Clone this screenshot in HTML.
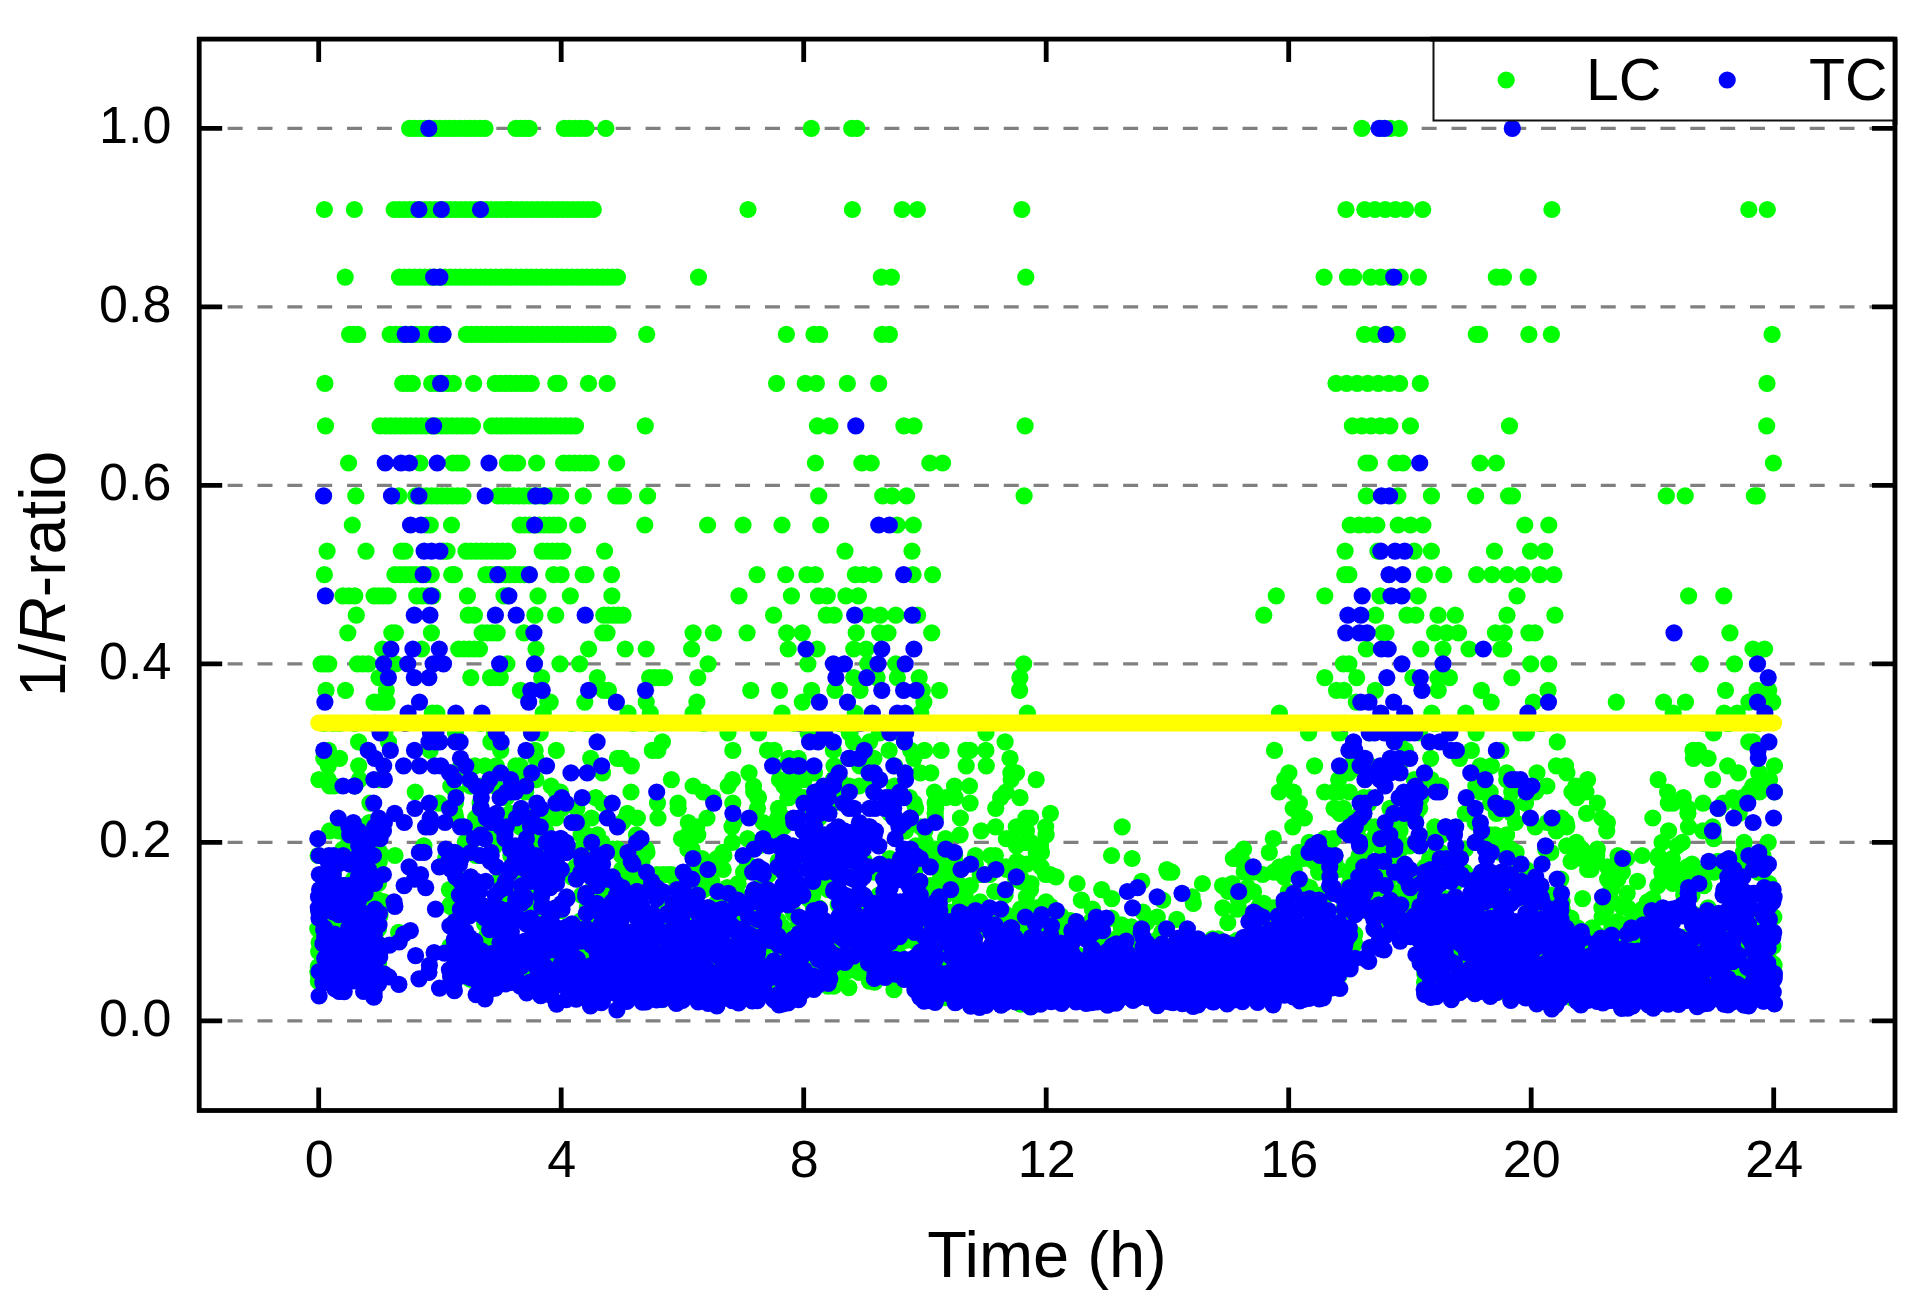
<!DOCTYPE html>
<html lang="en"><head><meta charset="utf-8"><title>1/R-ratio over time</title>
<style>html,body{margin:0;padding:0;background:#fff}body{width:1924px;height:1307px;overflow:hidden}</style></head>
<body>
<svg width="1924" height="1307" viewBox="0 0 1924 1307" style="display:block">
<rect width="1924" height="1307" fill="#fff"/>
<path d="M199.2 1020.8H1895.0M199.2 842.3H1895.0M199.2 663.8H1895.0M199.2 485.4H1895.0M199.2 306.9H1895.0M199.2 128.4H1895.0" stroke="#808080" stroke-width="3.2" stroke-dasharray="15 14.85" stroke-dashoffset="1.4" fill="none"/>
<g fill="#00ff00">
<circle cx="409.6" cy="128.4" r="8.6"/><circle cx="414.6" cy="128.4" r="8.6"/><circle cx="419.7" cy="128.4" r="8.6"/><circle cx="424.7" cy="128.4" r="8.6"/><circle cx="429.7" cy="128.4" r="8.6"/><circle cx="434.7" cy="128.4" r="8.6"/>
<circle cx="439.8" cy="128.4" r="8.6"/><circle cx="444.8" cy="128.4" r="8.6"/><circle cx="449.8" cy="128.4" r="8.6"/><circle cx="454.8" cy="128.4" r="8.6"/><circle cx="459.9" cy="128.4" r="8.6"/><circle cx="464.9" cy="128.4" r="8.6"/>
<circle cx="469.9" cy="128.4" r="8.6"/><circle cx="474.9" cy="128.4" r="8.6"/><circle cx="480.0" cy="128.4" r="8.6"/><circle cx="485.0" cy="128.4" r="8.6"/><circle cx="515.9" cy="128.4" r="8.6"/><circle cx="520.3" cy="128.4" r="8.6"/>
<circle cx="524.7" cy="128.4" r="8.6"/><circle cx="529.2" cy="128.4" r="8.6"/><circle cx="564.3" cy="128.4" r="8.6"/><circle cx="569.7" cy="128.4" r="8.6"/><circle cx="575.1" cy="128.4" r="8.6"/><circle cx="580.6" cy="128.4" r="8.6"/>
<circle cx="586.0" cy="128.4" r="8.6"/><circle cx="605.8" cy="128.4" r="8.6"/><circle cx="324.4" cy="209.5" r="8.6"/><circle cx="354.4" cy="209.5" r="8.6"/><circle cx="394.2" cy="209.5" r="8.6"/><circle cx="399.3" cy="209.5" r="8.6"/>
<circle cx="404.4" cy="209.5" r="8.6"/><circle cx="409.6" cy="209.5" r="8.6"/><circle cx="414.7" cy="209.5" r="8.6"/><circle cx="419.8" cy="209.5" r="8.6"/><circle cx="424.9" cy="209.5" r="8.6"/><circle cx="430.0" cy="209.5" r="8.6"/>
<circle cx="435.1" cy="209.5" r="8.6"/><circle cx="440.2" cy="209.5" r="8.6"/><circle cx="445.3" cy="209.5" r="8.6"/><circle cx="450.4" cy="209.5" r="8.6"/><circle cx="455.5" cy="209.5" r="8.6"/><circle cx="460.6" cy="209.5" r="8.6"/>
<circle cx="465.7" cy="209.5" r="8.6"/><circle cx="470.8" cy="209.5" r="8.6"/><circle cx="475.9" cy="209.5" r="8.6"/><circle cx="481.0" cy="209.5" r="8.6"/><circle cx="486.1" cy="209.5" r="8.6"/><circle cx="491.2" cy="209.5" r="8.6"/>
<circle cx="496.3" cy="209.5" r="8.6"/><circle cx="501.5" cy="209.5" r="8.6"/><circle cx="506.6" cy="209.5" r="8.6"/><circle cx="511.7" cy="209.5" r="8.6"/><circle cx="516.8" cy="209.5" r="8.6"/><circle cx="521.9" cy="209.5" r="8.6"/>
<circle cx="527.0" cy="209.5" r="8.6"/><circle cx="532.1" cy="209.5" r="8.6"/><circle cx="537.2" cy="209.5" r="8.6"/><circle cx="542.3" cy="209.5" r="8.6"/><circle cx="547.4" cy="209.5" r="8.6"/><circle cx="552.5" cy="209.5" r="8.6"/>
<circle cx="557.6" cy="209.5" r="8.6"/><circle cx="562.7" cy="209.5" r="8.6"/><circle cx="567.8" cy="209.5" r="8.6"/><circle cx="572.9" cy="209.5" r="8.6"/><circle cx="578.0" cy="209.5" r="8.6"/><circle cx="583.1" cy="209.5" r="8.6"/>
<circle cx="588.2" cy="209.5" r="8.6"/><circle cx="593.3" cy="209.5" r="8.6"/><circle cx="345.2" cy="277.1" r="8.6"/><circle cx="399.5" cy="277.1" r="8.6"/><circle cx="404.6" cy="277.1" r="8.6"/><circle cx="409.6" cy="277.1" r="8.6"/>
<circle cx="414.7" cy="277.1" r="8.6"/><circle cx="419.8" cy="277.1" r="8.6"/><circle cx="424.9" cy="277.1" r="8.6"/><circle cx="429.9" cy="277.1" r="8.6"/><circle cx="435.0" cy="277.1" r="8.6"/><circle cx="440.1" cy="277.1" r="8.6"/>
<circle cx="445.1" cy="277.1" r="8.6"/><circle cx="450.2" cy="277.1" r="8.6"/><circle cx="455.3" cy="277.1" r="8.6"/><circle cx="460.3" cy="277.1" r="8.6"/><circle cx="465.4" cy="277.1" r="8.6"/><circle cx="470.5" cy="277.1" r="8.6"/>
<circle cx="475.6" cy="277.1" r="8.6"/><circle cx="480.6" cy="277.1" r="8.6"/><circle cx="485.7" cy="277.1" r="8.6"/><circle cx="490.8" cy="277.1" r="8.6"/><circle cx="495.8" cy="277.1" r="8.6"/><circle cx="500.9" cy="277.1" r="8.6"/>
<circle cx="506.0" cy="277.1" r="8.6"/><circle cx="511.1" cy="277.1" r="8.6"/><circle cx="516.1" cy="277.1" r="8.6"/><circle cx="521.2" cy="277.1" r="8.6"/><circle cx="526.3" cy="277.1" r="8.6"/><circle cx="531.3" cy="277.1" r="8.6"/>
<circle cx="536.4" cy="277.1" r="8.6"/><circle cx="541.5" cy="277.1" r="8.6"/><circle cx="546.6" cy="277.1" r="8.6"/><circle cx="551.6" cy="277.1" r="8.6"/><circle cx="556.7" cy="277.1" r="8.6"/><circle cx="561.8" cy="277.1" r="8.6"/>
<circle cx="566.8" cy="277.1" r="8.6"/><circle cx="571.9" cy="277.1" r="8.6"/><circle cx="577.0" cy="277.1" r="8.6"/><circle cx="582.0" cy="277.1" r="8.6"/><circle cx="587.1" cy="277.1" r="8.6"/><circle cx="592.2" cy="277.1" r="8.6"/>
<circle cx="597.3" cy="277.1" r="8.6"/><circle cx="602.3" cy="277.1" r="8.6"/><circle cx="607.4" cy="277.1" r="8.6"/><circle cx="612.5" cy="277.1" r="8.6"/><circle cx="617.5" cy="277.1" r="8.6"/><circle cx="349.6" cy="334.3" r="8.6"/>
<circle cx="353.7" cy="334.3" r="8.6"/><circle cx="357.7" cy="334.3" r="8.6"/><circle cx="390.2" cy="334.3" r="8.6"/><circle cx="395.4" cy="334.3" r="8.6"/><circle cx="400.6" cy="334.3" r="8.6"/><circle cx="405.7" cy="334.3" r="8.6"/>
<circle cx="410.9" cy="334.3" r="8.6"/><circle cx="416.0" cy="334.3" r="8.6"/><circle cx="421.2" cy="334.3" r="8.6"/><circle cx="426.4" cy="334.3" r="8.6"/><circle cx="431.5" cy="334.3" r="8.6"/><circle cx="436.7" cy="334.3" r="8.6"/>
<circle cx="441.8" cy="334.3" r="8.6"/><circle cx="466.4" cy="334.3" r="8.6"/><circle cx="471.5" cy="334.3" r="8.6"/><circle cx="476.5" cy="334.3" r="8.6"/><circle cx="481.6" cy="334.3" r="8.6"/><circle cx="486.6" cy="334.3" r="8.6"/>
<circle cx="491.7" cy="334.3" r="8.6"/><circle cx="496.8" cy="334.3" r="8.6"/><circle cx="501.8" cy="334.3" r="8.6"/><circle cx="506.9" cy="334.3" r="8.6"/><circle cx="511.9" cy="334.3" r="8.6"/><circle cx="517.0" cy="334.3" r="8.6"/>
<circle cx="522.1" cy="334.3" r="8.6"/><circle cx="527.1" cy="334.3" r="8.6"/><circle cx="532.2" cy="334.3" r="8.6"/><circle cx="537.2" cy="334.3" r="8.6"/><circle cx="542.3" cy="334.3" r="8.6"/><circle cx="547.4" cy="334.3" r="8.6"/>
<circle cx="552.4" cy="334.3" r="8.6"/><circle cx="557.5" cy="334.3" r="8.6"/><circle cx="562.5" cy="334.3" r="8.6"/><circle cx="567.6" cy="334.3" r="8.6"/><circle cx="572.7" cy="334.3" r="8.6"/><circle cx="577.7" cy="334.3" r="8.6"/>
<circle cx="582.8" cy="334.3" r="8.6"/><circle cx="587.8" cy="334.3" r="8.6"/><circle cx="592.9" cy="334.3" r="8.6"/><circle cx="598.0" cy="334.3" r="8.6"/><circle cx="603.0" cy="334.3" r="8.6"/><circle cx="608.1" cy="334.3" r="8.6"/>
<circle cx="646.7" cy="334.3" r="8.6"/><circle cx="324.9" cy="383.4" r="8.6"/><circle cx="402.7" cy="383.4" r="8.6"/><circle cx="407.5" cy="383.4" r="8.6"/><circle cx="412.4" cy="383.4" r="8.6"/><circle cx="431.7" cy="383.4" r="8.6"/>
<circle cx="437.1" cy="383.4" r="8.6"/><circle cx="442.6" cy="383.4" r="8.6"/><circle cx="448.0" cy="383.4" r="8.6"/><circle cx="453.4" cy="383.4" r="8.6"/><circle cx="473.6" cy="383.4" r="8.6"/><circle cx="495.2" cy="383.4" r="8.6"/>
<circle cx="500.4" cy="383.4" r="8.6"/><circle cx="505.5" cy="383.4" r="8.6"/><circle cx="510.7" cy="383.4" r="8.6"/><circle cx="515.8" cy="383.4" r="8.6"/><circle cx="521.0" cy="383.4" r="8.6"/><circle cx="526.1" cy="383.4" r="8.6"/>
<circle cx="531.3" cy="383.4" r="8.6"/><circle cx="555.8" cy="383.4" r="8.6"/><circle cx="559.0" cy="383.4" r="8.6"/><circle cx="588.5" cy="383.4" r="8.6"/><circle cx="607.2" cy="383.4" r="8.6"/><circle cx="325.5" cy="425.9" r="8.6"/>
<circle cx="380.1" cy="425.9" r="8.6"/><circle cx="385.3" cy="425.9" r="8.6"/><circle cx="390.4" cy="425.9" r="8.6"/><circle cx="395.5" cy="425.9" r="8.6"/><circle cx="400.6" cy="425.9" r="8.6"/><circle cx="405.8" cy="425.9" r="8.6"/>
<circle cx="410.9" cy="425.9" r="8.6"/><circle cx="416.0" cy="425.9" r="8.6"/><circle cx="421.1" cy="425.9" r="8.6"/><circle cx="426.2" cy="425.9" r="8.6"/><circle cx="431.4" cy="425.9" r="8.6"/><circle cx="436.5" cy="425.9" r="8.6"/>
<circle cx="441.6" cy="425.9" r="8.6"/><circle cx="446.7" cy="425.9" r="8.6"/><circle cx="451.9" cy="425.9" r="8.6"/><circle cx="457.0" cy="425.9" r="8.6"/><circle cx="462.1" cy="425.9" r="8.6"/><circle cx="467.2" cy="425.9" r="8.6"/>
<circle cx="472.4" cy="425.9" r="8.6"/><circle cx="491.7" cy="425.9" r="8.6"/><circle cx="496.6" cy="425.9" r="8.6"/><circle cx="501.5" cy="425.9" r="8.6"/><circle cx="506.4" cy="425.9" r="8.6"/><circle cx="511.4" cy="425.9" r="8.6"/>
<circle cx="516.3" cy="425.9" r="8.6"/><circle cx="521.2" cy="425.9" r="8.6"/><circle cx="526.2" cy="425.9" r="8.6"/><circle cx="531.1" cy="425.9" r="8.6"/><circle cx="536.0" cy="425.9" r="8.6"/><circle cx="541.0" cy="425.9" r="8.6"/>
<circle cx="545.9" cy="425.9" r="8.6"/><circle cx="550.8" cy="425.9" r="8.6"/><circle cx="555.7" cy="425.9" r="8.6"/><circle cx="560.7" cy="425.9" r="8.6"/><circle cx="565.6" cy="425.9" r="8.6"/><circle cx="570.5" cy="425.9" r="8.6"/>
<circle cx="575.5" cy="425.9" r="8.6"/><circle cx="645.3" cy="425.9" r="8.6"/><circle cx="348.6" cy="463.0" r="8.6"/><circle cx="419.9" cy="463.0" r="8.6"/><circle cx="452.7" cy="463.0" r="8.6"/><circle cx="457.3" cy="463.0" r="8.6"/>
<circle cx="461.8" cy="463.0" r="8.6"/><circle cx="507.4" cy="463.0" r="8.6"/><circle cx="512.5" cy="463.0" r="8.6"/><circle cx="517.6" cy="463.0" r="8.6"/><circle cx="536.7" cy="463.0" r="8.6"/><circle cx="563.6" cy="463.0" r="8.6"/>
<circle cx="569.1" cy="463.0" r="8.6"/><circle cx="574.7" cy="463.0" r="8.6"/><circle cx="580.2" cy="463.0" r="8.6"/><circle cx="585.7" cy="463.0" r="8.6"/><circle cx="591.2" cy="463.0" r="8.6"/><circle cx="616.7" cy="463.0" r="8.6"/>
<circle cx="355.8" cy="495.9" r="8.6"/><circle cx="398.9" cy="495.9" r="8.6"/><circle cx="415.9" cy="495.9" r="8.6"/><circle cx="421.1" cy="495.9" r="8.6"/><circle cx="426.4" cy="495.9" r="8.6"/><circle cx="431.6" cy="495.9" r="8.6"/>
<circle cx="436.8" cy="495.9" r="8.6"/><circle cx="442.0" cy="495.9" r="8.6"/><circle cx="447.2" cy="495.9" r="8.6"/><circle cx="452.4" cy="495.9" r="8.6"/><circle cx="457.7" cy="495.9" r="8.6"/><circle cx="462.9" cy="495.9" r="8.6"/>
<circle cx="498.0" cy="495.9" r="8.6"/><circle cx="503.2" cy="495.9" r="8.6"/><circle cx="508.4" cy="495.9" r="8.6"/><circle cx="513.7" cy="495.9" r="8.6"/><circle cx="518.9" cy="495.9" r="8.6"/><circle cx="524.1" cy="495.9" r="8.6"/>
<circle cx="529.4" cy="495.9" r="8.6"/><circle cx="534.6" cy="495.9" r="8.6"/><circle cx="539.8" cy="495.9" r="8.6"/><circle cx="545.0" cy="495.9" r="8.6"/><circle cx="550.3" cy="495.9" r="8.6"/><circle cx="555.5" cy="495.9" r="8.6"/>
<circle cx="560.7" cy="495.9" r="8.6"/><circle cx="583.2" cy="495.9" r="8.6"/><circle cx="615.8" cy="495.9" r="8.6"/><circle cx="619.6" cy="495.9" r="8.6"/><circle cx="623.4" cy="495.9" r="8.6"/><circle cx="647.6" cy="495.9" r="8.6"/>
<circle cx="352.3" cy="525.0" r="8.6"/><circle cx="426.4" cy="525.0" r="8.6"/><circle cx="430.3" cy="525.0" r="8.6"/><circle cx="451.5" cy="525.0" r="8.6"/><circle cx="520.1" cy="525.0" r="8.6"/><circle cx="524.9" cy="525.0" r="8.6"/>
<circle cx="529.7" cy="525.0" r="8.6"/><circle cx="534.5" cy="525.0" r="8.6"/><circle cx="539.3" cy="525.0" r="8.6"/><circle cx="544.2" cy="525.0" r="8.6"/><circle cx="549.0" cy="525.0" r="8.6"/><circle cx="553.8" cy="525.0" r="8.6"/>
<circle cx="558.6" cy="525.0" r="8.6"/><circle cx="577.7" cy="525.0" r="8.6"/><circle cx="644.8" cy="525.0" r="8.6"/><circle cx="327.1" cy="551.1" r="8.6"/><circle cx="366.0" cy="551.1" r="8.6"/><circle cx="401.2" cy="551.1" r="8.6"/>
<circle cx="405.0" cy="551.1" r="8.6"/><circle cx="443.3" cy="551.1" r="8.6"/><circle cx="447.1" cy="551.1" r="8.6"/><circle cx="466.0" cy="551.1" r="8.6"/><circle cx="471.2" cy="551.1" r="8.6"/><circle cx="476.4" cy="551.1" r="8.6"/>
<circle cx="481.6" cy="551.1" r="8.6"/><circle cx="486.8" cy="551.1" r="8.6"/><circle cx="492.1" cy="551.1" r="8.6"/><circle cx="497.3" cy="551.1" r="8.6"/><circle cx="502.5" cy="551.1" r="8.6"/><circle cx="507.7" cy="551.1" r="8.6"/>
<circle cx="542.2" cy="551.1" r="8.6"/><circle cx="547.3" cy="551.1" r="8.6"/><circle cx="552.5" cy="551.1" r="8.6"/><circle cx="557.7" cy="551.1" r="8.6"/><circle cx="562.8" cy="551.1" r="8.6"/><circle cx="604.6" cy="551.1" r="8.6"/>
<circle cx="324.4" cy="574.6" r="8.6"/><circle cx="394.9" cy="574.6" r="8.6"/><circle cx="400.1" cy="574.6" r="8.6"/><circle cx="405.3" cy="574.6" r="8.6"/><circle cx="410.5" cy="574.6" r="8.6"/><circle cx="415.7" cy="574.6" r="8.6"/>
<circle cx="420.9" cy="574.6" r="8.6"/><circle cx="426.1" cy="574.6" r="8.6"/><circle cx="431.3" cy="574.6" r="8.6"/><circle cx="451.7" cy="574.6" r="8.6"/><circle cx="454.5" cy="574.6" r="8.6"/><circle cx="485.8" cy="574.6" r="8.6"/>
<circle cx="490.6" cy="574.6" r="8.6"/><circle cx="495.4" cy="574.6" r="8.6"/><circle cx="500.2" cy="574.6" r="8.6"/><circle cx="505.1" cy="574.6" r="8.6"/><circle cx="509.9" cy="574.6" r="8.6"/><circle cx="514.7" cy="574.6" r="8.6"/>
<circle cx="519.5" cy="574.6" r="8.6"/><circle cx="524.3" cy="574.6" r="8.6"/><circle cx="529.2" cy="574.6" r="8.6"/><circle cx="553.7" cy="574.6" r="8.6"/><circle cx="561.2" cy="574.6" r="8.6"/><circle cx="583.2" cy="574.6" r="8.6"/>
<circle cx="586.0" cy="574.6" r="8.6"/><circle cx="611.6" cy="574.6" r="8.6"/><circle cx="811.3" cy="128.4" r="8.6"/><circle cx="851.7" cy="128.4" r="8.6"/><circle cx="856.8" cy="128.4" r="8.6"/><circle cx="748.0" cy="209.5" r="8.6"/>
<circle cx="852.4" cy="209.5" r="8.6"/><circle cx="902.2" cy="209.5" r="8.6"/><circle cx="917.4" cy="209.5" r="8.6"/><circle cx="1021.8" cy="209.5" r="8.6"/><circle cx="698.5" cy="277.1" r="8.6"/><circle cx="881.3" cy="277.1" r="8.6"/>
<circle cx="891.4" cy="277.1" r="8.6"/><circle cx="1025.8" cy="277.1" r="8.6"/><circle cx="786.4" cy="334.3" r="8.6"/><circle cx="814.0" cy="334.3" r="8.6"/><circle cx="819.7" cy="334.3" r="8.6"/><circle cx="882.0" cy="334.3" r="8.6"/>
<circle cx="889.4" cy="334.3" r="8.6"/><circle cx="776.6" cy="383.4" r="8.6"/><circle cx="805.3" cy="383.4" r="8.6"/><circle cx="816.4" cy="383.4" r="8.6"/><circle cx="847.3" cy="383.4" r="8.6"/><circle cx="878.7" cy="383.4" r="8.6"/>
<circle cx="817.4" cy="425.9" r="8.6"/><circle cx="829.8" cy="425.9" r="8.6"/><circle cx="903.9" cy="425.9" r="8.6"/><circle cx="914.0" cy="425.9" r="8.6"/><circle cx="1025.1" cy="425.9" r="8.6"/><circle cx="815.4" cy="463.0" r="8.6"/>
<circle cx="861.8" cy="463.0" r="8.6"/><circle cx="871.2" cy="463.0" r="8.6"/><circle cx="929.8" cy="463.0" r="8.6"/><circle cx="942.6" cy="463.0" r="8.6"/><circle cx="818.7" cy="495.9" r="8.6"/><circle cx="882.7" cy="495.9" r="8.6"/>
<circle cx="892.1" cy="495.9" r="8.6"/><circle cx="906.6" cy="495.9" r="8.6"/><circle cx="1024.1" cy="495.9" r="8.6"/><circle cx="707.6" cy="525.0" r="8.6"/><circle cx="743.0" cy="525.0" r="8.6"/><circle cx="782.0" cy="525.0" r="8.6"/>
<circle cx="820.7" cy="525.0" r="8.6"/><circle cx="897.2" cy="525.0" r="8.6"/><circle cx="913.3" cy="525.0" r="8.6"/><circle cx="1361.9" cy="128.4" r="8.6"/><circle cx="1381.8" cy="128.4" r="8.6"/><circle cx="1390.5" cy="128.4" r="8.6"/>
<circle cx="1399.3" cy="128.4" r="8.6"/><circle cx="1346.0" cy="209.5" r="8.6"/><circle cx="1364.8" cy="209.5" r="8.6"/><circle cx="1375.0" cy="209.5" r="8.6"/><circle cx="1385.2" cy="209.5" r="8.6"/><circle cx="1395.4" cy="209.5" r="8.6"/>
<circle cx="1405.6" cy="209.5" r="8.6"/><circle cx="1422.7" cy="209.5" r="8.6"/><circle cx="1551.9" cy="209.5" r="8.6"/><circle cx="1748.8" cy="209.5" r="8.6"/><circle cx="1767.3" cy="209.5" r="8.6"/><circle cx="1324.1" cy="277.1" r="8.6"/>
<circle cx="1347.5" cy="277.1" r="8.6"/><circle cx="1353.6" cy="277.1" r="8.6"/><circle cx="1370.8" cy="277.1" r="8.6"/><circle cx="1380.6" cy="277.1" r="8.6"/><circle cx="1390.4" cy="277.1" r="8.6"/><circle cx="1400.2" cy="277.1" r="8.6"/>
<circle cx="1418.4" cy="277.1" r="8.6"/><circle cx="1496.3" cy="277.1" r="8.6"/><circle cx="1503.5" cy="277.1" r="8.6"/><circle cx="1528.2" cy="277.1" r="8.6"/><circle cx="1364.5" cy="334.3" r="8.6"/><circle cx="1375.5" cy="334.3" r="8.6"/>
<circle cx="1386.4" cy="334.3" r="8.6"/><circle cx="1397.4" cy="334.3" r="8.6"/><circle cx="1476.3" cy="334.3" r="8.6"/><circle cx="1479.6" cy="334.3" r="8.6"/><circle cx="1528.9" cy="334.3" r="8.6"/><circle cx="1551.4" cy="334.3" r="8.6"/>
<circle cx="1772.1" cy="334.3" r="8.6"/><circle cx="1336.0" cy="383.4" r="8.6"/><circle cx="1346.6" cy="383.4" r="8.6"/><circle cx="1357.2" cy="383.4" r="8.6"/><circle cx="1367.8" cy="383.4" r="8.6"/><circle cx="1378.4" cy="383.4" r="8.6"/>
<circle cx="1389.0" cy="383.4" r="8.6"/><circle cx="1399.6" cy="383.4" r="8.6"/><circle cx="1420.3" cy="383.4" r="8.6"/><circle cx="1767.0" cy="383.4" r="8.6"/><circle cx="1352.4" cy="425.9" r="8.6"/><circle cx="1361.8" cy="425.9" r="8.6"/>
<circle cx="1371.1" cy="425.9" r="8.6"/><circle cx="1380.4" cy="425.9" r="8.6"/><circle cx="1389.8" cy="425.9" r="8.6"/><circle cx="1410.4" cy="425.9" r="8.6"/><circle cx="1509.5" cy="425.9" r="8.6"/><circle cx="1766.7" cy="425.9" r="8.6"/>
<circle cx="1366.1" cy="463.0" r="8.6"/><circle cx="1369.5" cy="463.0" r="8.6"/><circle cx="1396.0" cy="463.0" r="8.6"/><circle cx="1402.9" cy="463.0" r="8.6"/><circle cx="1480.0" cy="463.0" r="8.6"/><circle cx="1496.4" cy="463.0" r="8.6"/>
<circle cx="1773.4" cy="463.0" r="8.6"/><circle cx="1366.3" cy="495.9" r="8.6"/><circle cx="1397.8" cy="495.9" r="8.6"/><circle cx="1431.4" cy="495.9" r="8.6"/><circle cx="1475.6" cy="495.9" r="8.6"/><circle cx="1508.6" cy="495.9" r="8.6"/>
<circle cx="1512.5" cy="495.9" r="8.6"/><circle cx="1666.3" cy="495.9" r="8.6"/><circle cx="1685.2" cy="495.9" r="8.6"/><circle cx="1754.4" cy="495.9" r="8.6"/><circle cx="1757.2" cy="495.9" r="8.6"/><circle cx="1350.2" cy="525.0" r="8.6"/>
<circle cx="1359.1" cy="525.0" r="8.6"/><circle cx="1368.0" cy="525.0" r="8.6"/><circle cx="1376.9" cy="525.0" r="8.6"/><circle cx="1398.2" cy="525.0" r="8.6"/><circle cx="1410.5" cy="525.0" r="8.6"/><circle cx="1422.9" cy="525.0" r="8.6"/>
<circle cx="1524.8" cy="525.0" r="8.6"/><circle cx="1548.8" cy="525.0" r="8.6"/><circle cx="1345.1" cy="551.1" r="8.6"/><circle cx="1377.9" cy="551.1" r="8.6"/><circle cx="1414.2" cy="551.1" r="8.6"/><circle cx="1431.4" cy="551.1" r="8.6"/>
<circle cx="1494.4" cy="551.1" r="8.6"/><circle cx="1530.5" cy="551.1" r="8.6"/><circle cx="1544.8" cy="551.1" r="8.6"/><circle cx="1344.8" cy="574.6" r="8.6"/><circle cx="1348.9" cy="574.6" r="8.6"/><circle cx="1424.4" cy="574.6" r="8.6"/>
<circle cx="1443.8" cy="574.6" r="8.6"/><circle cx="1476.6" cy="574.6" r="8.6"/><circle cx="1492.0" cy="574.6" r="8.6"/><circle cx="1507.4" cy="574.6" r="8.6"/><circle cx="1522.3" cy="574.6" r="8.6"/><circle cx="1539.8" cy="574.6" r="8.6"/>
<circle cx="1553.9" cy="574.6" r="8.6"/><circle cx="1324.8" cy="595.8" r="8.6"/><circle cx="1380.0" cy="595.8" r="8.6"/><circle cx="1418.1" cy="595.8" r="8.6"/><circle cx="1517.0" cy="595.8" r="8.6"/><circle cx="1688.6" cy="595.8" r="8.6"/>
<circle cx="1723.8" cy="595.8" r="8.6"/><circle cx="1375.6" cy="615.2" r="8.6"/><circle cx="1407.0" cy="615.2" r="8.6"/><circle cx="1415.8" cy="615.2" r="8.6"/><circle cx="1438.1" cy="615.2" r="8.6"/><circle cx="1455.3" cy="615.2" r="8.6"/>
<circle cx="1507.0" cy="615.2" r="8.6"/><circle cx="1554.9" cy="615.2" r="8.6"/><circle cx="1383.1" cy="632.8" r="8.6"/><circle cx="1385.9" cy="632.8" r="8.6"/><circle cx="1434.6" cy="632.8" r="8.6"/><circle cx="1446.6" cy="632.8" r="8.6"/>
<circle cx="1458.5" cy="632.8" r="8.6"/><circle cx="1495.4" cy="632.8" r="8.6"/><circle cx="1504.3" cy="632.8" r="8.6"/><circle cx="1528.9" cy="632.8" r="8.6"/><circle cx="1535.0" cy="632.8" r="8.6"/><circle cx="1729.9" cy="632.8" r="8.6"/>
<circle cx="1366.3" cy="649.0" r="8.6"/><circle cx="1420.8" cy="649.0" r="8.6"/><circle cx="1443.0" cy="649.0" r="8.6"/><circle cx="1469.0" cy="649.0" r="8.6"/><circle cx="1500.9" cy="649.0" r="8.6"/><circle cx="1503.7" cy="649.0" r="8.6"/>
<circle cx="1753.0" cy="649.0" r="8.6"/><circle cx="1764.6" cy="649.0" r="8.6"/><circle cx="1343.4" cy="663.8" r="8.6"/><circle cx="1348.9" cy="663.8" r="8.6"/><circle cx="1530.7" cy="663.8" r="8.6"/><circle cx="1548.8" cy="663.8" r="8.6"/>
<circle cx="1700.3" cy="663.8" r="8.6"/><circle cx="1734.5" cy="663.8" r="8.6"/><circle cx="1324.8" cy="677.6" r="8.6"/><circle cx="1356.7" cy="677.6" r="8.6"/><circle cx="1412.9" cy="677.6" r="8.6"/><circle cx="1437.9" cy="677.6" r="8.6"/>
<circle cx="1449.5" cy="677.6" r="8.6"/><circle cx="1511.8" cy="677.6" r="8.6"/><circle cx="1336.5" cy="690.3" r="8.6"/><circle cx="1344.0" cy="690.3" r="8.6"/><circle cx="1375.3" cy="690.3" r="8.6"/><circle cx="1438.2" cy="690.3" r="8.6"/>
<circle cx="1481.4" cy="690.3" r="8.6"/><circle cx="1548.1" cy="690.3" r="8.6"/><circle cx="1725.5" cy="690.3" r="8.6"/><circle cx="1757.1" cy="690.3" r="8.6"/><circle cx="1768.7" cy="690.3" r="8.6"/><circle cx="1356.3" cy="702.1" r="8.6"/>
<circle cx="1491.2" cy="702.1" r="8.6"/><circle cx="1533.4" cy="702.1" r="8.6"/><circle cx="1616.3" cy="702.1" r="8.6"/><circle cx="1663.6" cy="702.1" r="8.6"/><circle cx="1685.5" cy="702.1" r="8.6"/><circle cx="1748.9" cy="702.1" r="8.6"/>
<circle cx="1760.8" cy="702.1" r="8.6"/><circle cx="1772.8" cy="702.1" r="8.6"/><circle cx="1431.8" cy="713.1" r="8.6"/><circle cx="1465.8" cy="713.1" r="8.6"/><circle cx="1673.2" cy="713.1" r="8.6"/><circle cx="1724.2" cy="713.1" r="8.6"/>
<circle cx="1737.2" cy="713.1" r="8.6"/><circle cx="342.9" cy="595.8" r="8.6"/><circle cx="348.9" cy="595.8" r="8.6"/><circle cx="354.8" cy="595.8" r="8.6"/><circle cx="374.1" cy="595.8" r="8.6"/><circle cx="378.8" cy="595.8" r="8.6"/>
<circle cx="383.4" cy="595.8" r="8.6"/><circle cx="388.1" cy="595.8" r="8.6"/><circle cx="416.7" cy="595.8" r="8.6"/><circle cx="422.1" cy="595.8" r="8.6"/><circle cx="427.4" cy="595.8" r="8.6"/><circle cx="432.8" cy="595.8" r="8.6"/>
<circle cx="467.4" cy="595.8" r="8.6"/><circle cx="504.0" cy="595.8" r="8.6"/><circle cx="507.6" cy="595.8" r="8.6"/><circle cx="538.0" cy="595.8" r="8.6"/><circle cx="570.3" cy="595.8" r="8.6"/><circle cx="611.9" cy="595.8" r="8.6"/>
<circle cx="356.3" cy="615.2" r="8.6"/><circle cx="468.3" cy="615.2" r="8.6"/><circle cx="474.4" cy="615.2" r="8.6"/><circle cx="534.9" cy="615.2" r="8.6"/><circle cx="555.7" cy="615.2" r="8.6"/><circle cx="603.8" cy="615.2" r="8.6"/>
<circle cx="608.6" cy="615.2" r="8.6"/><circle cx="613.4" cy="615.2" r="8.6"/><circle cx="618.2" cy="615.2" r="8.6"/><circle cx="623.0" cy="615.2" r="8.6"/><circle cx="347.8" cy="632.8" r="8.6"/><circle cx="391.8" cy="632.8" r="8.6"/>
<circle cx="395.4" cy="632.8" r="8.6"/><circle cx="431.4" cy="632.8" r="8.6"/><circle cx="482.2" cy="632.8" r="8.6"/><circle cx="487.2" cy="632.8" r="8.6"/><circle cx="492.2" cy="632.8" r="8.6"/><circle cx="497.2" cy="632.8" r="8.6"/>
<circle cx="524.0" cy="632.8" r="8.6"/><circle cx="602.8" cy="632.8" r="8.6"/><circle cx="607.0" cy="632.8" r="8.6"/><circle cx="382.6" cy="649.0" r="8.6"/><circle cx="421.6" cy="649.0" r="8.6"/><circle cx="458.7" cy="649.0" r="8.6"/>
<circle cx="463.9" cy="649.0" r="8.6"/><circle cx="469.1" cy="649.0" r="8.6"/><circle cx="474.3" cy="649.0" r="8.6"/><circle cx="479.5" cy="649.0" r="8.6"/><circle cx="536.0" cy="649.0" r="8.6"/><circle cx="588.6" cy="649.0" r="8.6"/>
<circle cx="625.2" cy="649.0" r="8.6"/><circle cx="646.2" cy="649.0" r="8.6"/><circle cx="321.1" cy="663.8" r="8.6"/><circle cx="324.9" cy="663.8" r="8.6"/><circle cx="328.8" cy="663.8" r="8.6"/><circle cx="357.5" cy="663.8" r="8.6"/>
<circle cx="362.9" cy="663.8" r="8.6"/><circle cx="368.3" cy="663.8" r="8.6"/><circle cx="395.6" cy="663.8" r="8.6"/><circle cx="506.9" cy="663.8" r="8.6"/><circle cx="559.9" cy="663.8" r="8.6"/><circle cx="579.6" cy="663.8" r="8.6"/>
<circle cx="379.0" cy="677.6" r="8.6"/><circle cx="470.8" cy="677.6" r="8.6"/><circle cx="490.5" cy="677.6" r="8.6"/><circle cx="495.4" cy="677.6" r="8.6"/><circle cx="500.3" cy="677.6" r="8.6"/><circle cx="541.7" cy="677.6" r="8.6"/>
<circle cx="597.3" cy="677.6" r="8.6"/><circle cx="649.6" cy="677.6" r="8.6"/><circle cx="654.6" cy="677.6" r="8.6"/><circle cx="659.6" cy="677.6" r="8.6"/><circle cx="664.6" cy="677.6" r="8.6"/><circle cx="326.0" cy="690.3" r="8.6"/>
<circle cx="345.5" cy="690.3" r="8.6"/><circle cx="386.3" cy="690.3" r="8.6"/><circle cx="520.4" cy="690.3" r="8.6"/><circle cx="603.8" cy="690.3" r="8.6"/><circle cx="608.4" cy="690.3" r="8.6"/><circle cx="374.1" cy="702.1" r="8.6"/>
<circle cx="378.4" cy="702.1" r="8.6"/><circle cx="382.7" cy="702.1" r="8.6"/><circle cx="387.0" cy="702.1" r="8.6"/><circle cx="547.7" cy="702.1" r="8.6"/><circle cx="550.2" cy="702.1" r="8.6"/><circle cx="584.8" cy="702.1" r="8.6"/>
<circle cx="646.2" cy="702.1" r="8.6"/><circle cx="432.3" cy="713.1" r="8.6"/><circle cx="436.9" cy="713.1" r="8.6"/><circle cx="543.2" cy="713.1" r="8.6"/><circle cx="628.0" cy="713.1" r="8.6"/><circle cx="650.3" cy="713.1" r="8.6"/>
<circle cx="845.0" cy="551.1" r="8.6"/><circle cx="912.0" cy="551.1" r="8.6"/><circle cx="757.0" cy="574.6" r="8.6"/><circle cx="785.7" cy="574.6" r="8.6"/><circle cx="806.9" cy="574.6" r="8.6"/><circle cx="815.4" cy="574.6" r="8.6"/>
<circle cx="855.3" cy="574.6" r="8.6"/><circle cx="863.1" cy="574.6" r="8.6"/><circle cx="874.0" cy="574.6" r="8.6"/><circle cx="913.0" cy="574.6" r="8.6"/><circle cx="932.6" cy="574.6" r="8.6"/><circle cx="739.0" cy="595.8" r="8.6"/>
<circle cx="791.4" cy="595.8" r="8.6"/><circle cx="818.5" cy="595.8" r="8.6"/><circle cx="827.2" cy="595.8" r="8.6"/><circle cx="845.9" cy="595.8" r="8.6"/><circle cx="858.4" cy="595.8" r="8.6"/><circle cx="1276.3" cy="595.8" r="8.6"/>
<circle cx="773.6" cy="615.2" r="8.6"/><circle cx="826.3" cy="615.2" r="8.6"/><circle cx="834.1" cy="615.2" r="8.6"/><circle cx="867.8" cy="615.2" r="8.6"/><circle cx="880.2" cy="615.2" r="8.6"/><circle cx="895.8" cy="615.2" r="8.6"/>
<circle cx="917.6" cy="615.2" r="8.6"/><circle cx="1263.8" cy="615.2" r="8.6"/><circle cx="693.1" cy="632.8" r="8.6"/><circle cx="713.4" cy="632.8" r="8.6"/><circle cx="747.1" cy="632.8" r="8.6"/><circle cx="786.7" cy="632.8" r="8.6"/>
<circle cx="802.3" cy="632.8" r="8.6"/><circle cx="856.2" cy="632.8" r="8.6"/><circle cx="879.6" cy="632.8" r="8.6"/><circle cx="888.0" cy="632.8" r="8.6"/><circle cx="931.7" cy="632.8" r="8.6"/><circle cx="691.6" cy="649.0" r="8.6"/>
<circle cx="788.2" cy="649.0" r="8.6"/><circle cx="817.2" cy="649.0" r="8.6"/><circle cx="853.7" cy="649.0" r="8.6"/><circle cx="866.2" cy="649.0" r="8.6"/><circle cx="708.1" cy="663.8" r="8.6"/><circle cx="807.9" cy="663.8" r="8.6"/>
<circle cx="867.8" cy="663.8" r="8.6"/><circle cx="895.8" cy="663.8" r="8.6"/><circle cx="1023.7" cy="663.8" r="8.6"/><circle cx="697.8" cy="677.6" r="8.6"/><circle cx="853.7" cy="677.6" r="8.6"/><circle cx="877.1" cy="677.6" r="8.6"/>
<circle cx="897.4" cy="677.6" r="8.6"/><circle cx="919.2" cy="677.6" r="8.6"/><circle cx="1019.9" cy="677.6" r="8.6"/><circle cx="750.8" cy="690.3" r="8.6"/><circle cx="779.5" cy="690.3" r="8.6"/><circle cx="811.6" cy="690.3" r="8.6"/>
<circle cx="835.0" cy="690.3" r="8.6"/><circle cx="860.0" cy="690.3" r="8.6"/><circle cx="922.3" cy="690.3" r="8.6"/><circle cx="939.5" cy="690.3" r="8.6"/><circle cx="1019.6" cy="690.3" r="8.6"/><circle cx="696.9" cy="702.1" r="8.6"/>
<circle cx="802.3" cy="702.1" r="8.6"/><circle cx="923.9" cy="702.1" r="8.6"/><circle cx="693.1" cy="713.1" r="8.6"/><circle cx="782.0" cy="713.1" r="8.6"/><circle cx="855.3" cy="713.1" r="8.6"/><circle cx="920.8" cy="713.1" r="8.6"/>
<circle cx="1027.4" cy="713.1" r="8.6"/><circle cx="1279.4" cy="713.1" r="8.6"/><circle cx="318.9" cy="976.8" r="8.6"/><circle cx="319.0" cy="912.0" r="8.6"/><circle cx="318.4" cy="981.3" r="8.6"/><circle cx="318.8" cy="974.6" r="8.6"/>
<circle cx="317.8" cy="928.8" r="8.6"/><circle cx="317.8" cy="971.5" r="8.6"/><circle cx="318.1" cy="855.5" r="8.6"/><circle cx="319.1" cy="942.5" r="8.6"/><circle cx="318.6" cy="951.6" r="8.6"/><circle cx="318.3" cy="966.7" r="8.6"/>
<circle cx="318.9" cy="779.6" r="8.6"/><circle cx="322.8" cy="975.0" r="8.6"/><circle cx="323.6" cy="978.3" r="8.6"/><circle cx="323.5" cy="970.1" r="8.6"/><circle cx="323.9" cy="935.0" r="8.6"/><circle cx="324.7" cy="926.9" r="8.6"/>
<circle cx="324.1" cy="876.9" r="8.6"/><circle cx="323.8" cy="758.3" r="8.6"/><circle cx="324.0" cy="968.6" r="8.6"/><circle cx="324.1" cy="723.3" r="8.6"/><circle cx="322.9" cy="960.9" r="8.6"/><circle cx="324.6" cy="980.4" r="8.6"/>
<circle cx="329.2" cy="872.1" r="8.6"/><circle cx="329.7" cy="830.9" r="8.6"/><circle cx="328.7" cy="958.8" r="8.6"/><circle cx="329.7" cy="786.0" r="8.6"/><circle cx="329.8" cy="889.6" r="8.6"/><circle cx="329.7" cy="968.6" r="8.6"/>
<circle cx="328.5" cy="750.4" r="8.6"/><circle cx="328.2" cy="779.6" r="8.6"/><circle cx="328.3" cy="765.8" r="8.6"/><circle cx="328.2" cy="904.9" r="8.6"/><circle cx="328.2" cy="935.8" r="8.6"/><circle cx="329.1" cy="951.1" r="8.6"/>
<circle cx="334.0" cy="968.6" r="8.6"/><circle cx="334.4" cy="933.3" r="8.6"/><circle cx="333.1" cy="962.9" r="8.6"/><circle cx="334.0" cy="924.8" r="8.6"/><circle cx="333.4" cy="872.1" r="8.6"/><circle cx="333.4" cy="723.3" r="8.6"/>
<circle cx="334.4" cy="919.4" r="8.6"/><circle cx="333.9" cy="977.5" r="8.6"/><circle cx="334.0" cy="923.8" r="8.6"/><circle cx="334.4" cy="786.0" r="8.6"/><circle cx="334.7" cy="965.0" r="8.6"/><circle cx="333.7" cy="945.8" r="8.6"/>
<circle cx="339.3" cy="947.7" r="8.6"/><circle cx="338.8" cy="830.9" r="8.6"/><circle cx="338.1" cy="923.8" r="8.6"/><circle cx="339.8" cy="957.5" r="8.6"/><circle cx="339.2" cy="952.7" r="8.6"/><circle cx="339.5" cy="723.3" r="8.6"/>
<circle cx="338.1" cy="961.7" r="8.6"/><circle cx="339.6" cy="964.7" r="8.6"/><circle cx="338.0" cy="958.8" r="8.6"/><circle cx="339.6" cy="758.3" r="8.6"/><circle cx="338.8" cy="950.0" r="8.6"/><circle cx="338.6" cy="895.1" r="8.6"/>
<circle cx="343.0" cy="954.2" r="8.6"/><circle cx="343.5" cy="954.7" r="8.6"/><circle cx="343.1" cy="849.2" r="8.6"/><circle cx="343.8" cy="947.0" r="8.6"/><circle cx="343.0" cy="898.6" r="8.6"/><circle cx="343.0" cy="970.1" r="8.6"/>
<circle cx="343.6" cy="943.2" r="8.6"/><circle cx="343.4" cy="927.8" r="8.6"/><circle cx="344.1" cy="910.6" r="8.6"/><circle cx="348.1" cy="915.8" r="8.6"/><circle cx="348.6" cy="855.5" r="8.6"/><circle cx="349.4" cy="954.2" r="8.6"/>
<circle cx="349.4" cy="852.4" r="8.6"/><circle cx="349.4" cy="967.4" r="8.6"/><circle cx="348.6" cy="952.2" r="8.6"/><circle cx="349.0" cy="960.5" r="8.6"/><circle cx="348.9" cy="838.7" r="8.6"/><circle cx="348.9" cy="895.1" r="8.6"/>
<circle cx="348.2" cy="972.6" r="8.6"/><circle cx="349.8" cy="961.7" r="8.6"/><circle cx="348.4" cy="914.6" r="8.6"/><circle cx="353.6" cy="923.8" r="8.6"/><circle cx="353.2" cy="961.3" r="8.6"/><circle cx="354.9" cy="786.0" r="8.6"/>
<circle cx="353.3" cy="928.8" r="8.6"/><circle cx="354.0" cy="958.4" r="8.6"/><circle cx="353.8" cy="935.0" r="8.6"/><circle cx="353.7" cy="879.1" r="8.6"/><circle cx="354.5" cy="723.3" r="8.6"/><circle cx="355.0" cy="838.7" r="8.6"/>
<circle cx="353.6" cy="967.4" r="8.6"/><circle cx="354.4" cy="830.9" r="8.6"/><circle cx="358.7" cy="765.8" r="8.6"/><circle cx="358.4" cy="972.0" r="8.6"/><circle cx="358.6" cy="920.5" r="8.6"/><circle cx="359.4" cy="779.6" r="8.6"/>
<circle cx="359.5" cy="964.7" r="8.6"/><circle cx="358.3" cy="917.0" r="8.6"/><circle cx="358.3" cy="858.5" r="8.6"/><circle cx="359.2" cy="864.2" r="8.6"/><circle cx="359.3" cy="909.2" r="8.6"/><circle cx="358.9" cy="972.6" r="8.6"/>
<circle cx="358.6" cy="741.9" r="8.6"/><circle cx="363.7" cy="955.7" r="8.6"/><circle cx="363.9" cy="971.5" r="8.6"/><circle cx="365.1" cy="915.8" r="8.6"/><circle cx="363.4" cy="826.8" r="8.6"/><circle cx="365.1" cy="971.2" r="8.6"/>
<circle cx="363.6" cy="849.2" r="8.6"/><circle cx="363.9" cy="943.9" r="8.6"/><circle cx="364.8" cy="961.7" r="8.6"/><circle cx="369.5" cy="822.5" r="8.6"/><circle cx="369.6" cy="898.6" r="8.6"/><circle cx="369.7" cy="953.2" r="8.6"/>
<circle cx="369.9" cy="803.1" r="8.6"/><circle cx="369.5" cy="965.4" r="8.6"/><circle cx="368.5" cy="942.5" r="8.6"/><circle cx="369.9" cy="958.4" r="8.6"/><circle cx="368.8" cy="946.4" r="8.6"/><circle cx="369.4" cy="970.7" r="8.6"/>
<circle cx="369.0" cy="964.3" r="8.6"/><circle cx="369.7" cy="960.9" r="8.6"/><circle cx="373.7" cy="948.8" r="8.6"/><circle cx="373.3" cy="872.1" r="8.6"/><circle cx="375.1" cy="971.2" r="8.6"/><circle cx="374.1" cy="883.5" r="8.6"/>
<circle cx="374.9" cy="849.2" r="8.6"/><circle cx="374.1" cy="826.8" r="8.6"/><circle cx="375.0" cy="935.0" r="8.6"/><circle cx="374.2" cy="964.0" r="8.6"/><circle cx="373.6" cy="935.8" r="8.6"/><circle cx="373.3" cy="723.3" r="8.6"/>
<circle cx="374.4" cy="971.5" r="8.6"/><circle cx="378.4" cy="883.5" r="8.6"/><circle cx="379.6" cy="945.2" r="8.6"/><circle cx="378.5" cy="928.8" r="8.6"/><circle cx="379.8" cy="852.4" r="8.6"/><circle cx="379.9" cy="915.8" r="8.6"/>
<circle cx="379.3" cy="861.4" r="8.6"/><circle cx="378.4" cy="900.2" r="8.6"/><circle cx="379.3" cy="779.6" r="8.6"/><circle cx="379.1" cy="904.9" r="8.6"/><circle cx="380.2" cy="948.8" r="8.6"/><circle cx="378.6" cy="962.9" r="8.6"/>
<circle cx="380.0" cy="912.0" r="8.6"/><circle cx="384.1" cy="901.8" r="8.6"/><circle cx="384.9" cy="732.9" r="8.6"/><circle cx="388.5" cy="741.9" r="8.6"/><circle cx="395.0" cy="855.5" r="8.6"/><circle cx="398.6" cy="932.4" r="8.6"/>
<circle cx="415.2" cy="792.0" r="8.6"/><circle cx="423.9" cy="845.8" r="8.6"/><circle cx="430.1" cy="750.4" r="8.6"/><circle cx="434.0" cy="741.9" r="8.6"/><circle cx="439.0" cy="803.1" r="8.6"/><circle cx="445.6" cy="858.5" r="8.6"/>
<circle cx="450.6" cy="906.4" r="8.6"/><circle cx="450.2" cy="904.9" r="8.6"/><circle cx="449.3" cy="889.6" r="8.6"/><circle cx="450.0" cy="946.4" r="8.6"/><circle cx="450.8" cy="786.0" r="8.6"/><circle cx="449.5" cy="866.9" r="8.6"/>
<circle cx="455.5" cy="792.0" r="8.6"/><circle cx="455.4" cy="872.1" r="8.6"/><circle cx="455.0" cy="909.2" r="8.6"/><circle cx="454.7" cy="922.7" r="8.6"/><circle cx="455.4" cy="803.1" r="8.6"/><circle cx="454.3" cy="889.6" r="8.6"/>
<circle cx="454.9" cy="813.3" r="8.6"/><circle cx="455.7" cy="818.0" r="8.6"/><circle cx="455.5" cy="732.9" r="8.6"/><circle cx="460.1" cy="901.8" r="8.6"/><circle cx="459.7" cy="923.8" r="8.6"/><circle cx="460.3" cy="959.7" r="8.6"/>
<circle cx="459.4" cy="772.9" r="8.6"/><circle cx="460.8" cy="879.1" r="8.6"/><circle cx="459.9" cy="968.0" r="8.6"/><circle cx="460.9" cy="765.8" r="8.6"/><circle cx="465.1" cy="963.2" r="8.6"/><circle cx="465.3" cy="842.3" r="8.6"/>
<circle cx="465.5" cy="912.0" r="8.6"/><circle cx="465.9" cy="960.9" r="8.6"/><circle cx="465.0" cy="947.0" r="8.6"/><circle cx="465.0" cy="955.7" r="8.6"/><circle cx="466.1" cy="907.8" r="8.6"/><circle cx="464.4" cy="898.6" r="8.6"/>
<circle cx="465.5" cy="896.9" r="8.6"/><circle cx="469.6" cy="978.5" r="8.6"/><circle cx="469.3" cy="970.9" r="8.6"/><circle cx="470.8" cy="786.0" r="8.6"/><circle cx="471.1" cy="842.3" r="8.6"/><circle cx="470.6" cy="786.0" r="8.6"/>
<circle cx="470.0" cy="898.6" r="8.6"/><circle cx="470.9" cy="879.1" r="8.6"/><circle cx="470.8" cy="979.5" r="8.6"/><circle cx="470.4" cy="893.3" r="8.6"/><circle cx="475.2" cy="834.9" r="8.6"/><circle cx="475.7" cy="912.0" r="8.6"/>
<circle cx="474.6" cy="826.8" r="8.6"/><circle cx="475.9" cy="855.5" r="8.6"/><circle cx="475.0" cy="765.8" r="8.6"/><circle cx="475.6" cy="818.0" r="8.6"/><circle cx="475.6" cy="962.1" r="8.6"/><circle cx="475.2" cy="969.5" r="8.6"/>
<circle cx="480.4" cy="786.0" r="8.6"/><circle cx="480.3" cy="967.4" r="8.6"/><circle cx="480.5" cy="965.4" r="8.6"/><circle cx="479.7" cy="855.5" r="8.6"/><circle cx="479.8" cy="959.7" r="8.6"/><circle cx="479.7" cy="813.3" r="8.6"/>
<circle cx="480.8" cy="961.7" r="8.6"/><circle cx="480.1" cy="803.1" r="8.6"/><circle cx="480.5" cy="723.3" r="8.6"/><circle cx="484.7" cy="923.8" r="8.6"/><circle cx="485.9" cy="937.4" r="8.6"/><circle cx="486.3" cy="970.4" r="8.6"/>
<circle cx="485.8" cy="976.6" r="8.6"/><circle cx="485.0" cy="765.8" r="8.6"/><circle cx="485.6" cy="826.8" r="8.6"/><circle cx="491.3" cy="944.5" r="8.6"/><circle cx="489.6" cy="954.2" r="8.6"/><circle cx="490.9" cy="741.9" r="8.6"/>
<circle cx="490.1" cy="921.6" r="8.6"/><circle cx="491.4" cy="955.7" r="8.6"/><circle cx="489.5" cy="935.0" r="8.6"/><circle cx="491.1" cy="972.8" r="8.6"/><circle cx="495.6" cy="941.8" r="8.6"/><circle cx="494.6" cy="906.4" r="8.6"/>
<circle cx="496.5" cy="930.7" r="8.6"/><circle cx="495.0" cy="838.7" r="8.6"/><circle cx="494.9" cy="786.0" r="8.6"/><circle cx="494.7" cy="845.8" r="8.6"/><circle cx="495.0" cy="938.9" r="8.6"/><circle cx="496.2" cy="765.8" r="8.6"/>
<circle cx="494.6" cy="732.9" r="8.6"/><circle cx="499.6" cy="975.3" r="8.6"/><circle cx="500.9" cy="932.4" r="8.6"/><circle cx="500.1" cy="879.1" r="8.6"/><circle cx="500.9" cy="895.1" r="8.6"/><circle cx="500.1" cy="960.5" r="8.6"/>
<circle cx="500.7" cy="750.4" r="8.6"/><circle cx="501.4" cy="723.3" r="8.6"/><circle cx="504.9" cy="967.4" r="8.6"/><circle cx="505.3" cy="895.1" r="8.6"/><circle cx="505.3" cy="958.4" r="8.6"/><circle cx="506.0" cy="967.7" r="8.6"/>
<circle cx="505.9" cy="915.8" r="8.6"/><circle cx="506.3" cy="921.6" r="8.6"/><circle cx="506.3" cy="797.7" r="8.6"/><circle cx="511.6" cy="969.2" r="8.6"/><circle cx="511.0" cy="958.4" r="8.6"/><circle cx="510.7" cy="914.6" r="8.6"/>
<circle cx="509.9" cy="813.3" r="8.6"/><circle cx="510.4" cy="885.6" r="8.6"/><circle cx="510.5" cy="904.9" r="8.6"/><circle cx="510.8" cy="855.5" r="8.6"/><circle cx="510.8" cy="874.5" r="8.6"/><circle cx="516.2" cy="962.5" r="8.6"/>
<circle cx="515.4" cy="874.5" r="8.6"/><circle cx="515.1" cy="964.7" r="8.6"/><circle cx="515.3" cy="779.6" r="8.6"/><circle cx="514.9" cy="963.2" r="8.6"/><circle cx="516.5" cy="883.5" r="8.6"/><circle cx="515.9" cy="765.8" r="8.6"/>
<circle cx="515.4" cy="954.2" r="8.6"/><circle cx="521.7" cy="956.1" r="8.6"/><circle cx="520.2" cy="953.2" r="8.6"/><circle cx="521.7" cy="949.4" r="8.6"/><circle cx="520.8" cy="977.5" r="8.6"/><circle cx="520.2" cy="968.9" r="8.6"/>
<circle cx="520.7" cy="772.9" r="8.6"/><circle cx="520.0" cy="765.8" r="8.6"/><circle cx="521.2" cy="786.0" r="8.6"/><circle cx="520.3" cy="826.8" r="8.6"/><circle cx="526.0" cy="961.7" r="8.6"/><circle cx="526.3" cy="866.9" r="8.6"/>
<circle cx="525.3" cy="958.0" r="8.6"/><circle cx="525.7" cy="792.0" r="8.6"/><circle cx="526.2" cy="813.3" r="8.6"/><circle cx="525.5" cy="976.6" r="8.6"/><circle cx="524.8" cy="977.3" r="8.6"/><circle cx="526.5" cy="973.6" r="8.6"/>
<circle cx="526.4" cy="961.7" r="8.6"/><circle cx="531.5" cy="942.5" r="8.6"/><circle cx="531.0" cy="920.5" r="8.6"/><circle cx="531.4" cy="959.3" r="8.6"/><circle cx="530.2" cy="822.5" r="8.6"/><circle cx="531.2" cy="842.3" r="8.6"/>
<circle cx="531.1" cy="889.6" r="8.6"/><circle cx="530.8" cy="907.8" r="8.6"/><circle cx="531.4" cy="948.8" r="8.6"/><circle cx="531.5" cy="732.9" r="8.6"/><circle cx="535.9" cy="779.6" r="8.6"/><circle cx="535.3" cy="930.7" r="8.6"/>
<circle cx="535.5" cy="921.6" r="8.6"/><circle cx="536.1" cy="940.4" r="8.6"/><circle cx="535.1" cy="750.4" r="8.6"/><circle cx="536.3" cy="939.7" r="8.6"/><circle cx="535.3" cy="842.3" r="8.6"/><circle cx="535.8" cy="758.3" r="8.6"/>
<circle cx="540.5" cy="951.6" r="8.6"/><circle cx="540.2" cy="978.1" r="8.6"/><circle cx="541.1" cy="849.2" r="8.6"/><circle cx="540.5" cy="852.4" r="8.6"/><circle cx="541.0" cy="957.5" r="8.6"/><circle cx="541.1" cy="909.2" r="8.6"/>
<circle cx="540.4" cy="895.1" r="8.6"/><circle cx="541.1" cy="974.1" r="8.6"/><circle cx="540.2" cy="732.9" r="8.6"/><circle cx="545.6" cy="830.9" r="8.6"/><circle cx="546.4" cy="968.9" r="8.6"/><circle cx="545.8" cy="813.3" r="8.6"/>
<circle cx="545.3" cy="962.1" r="8.6"/><circle cx="546.8" cy="972.3" r="8.6"/><circle cx="546.1" cy="968.3" r="8.6"/><circle cx="546.4" cy="969.8" r="8.6"/><circle cx="546.7" cy="964.0" r="8.6"/><circle cx="546.9" cy="959.7" r="8.6"/>
<circle cx="550.2" cy="974.3" r="8.6"/><circle cx="550.8" cy="818.0" r="8.6"/><circle cx="550.7" cy="883.5" r="8.6"/><circle cx="552.1" cy="978.5" r="8.6"/><circle cx="551.1" cy="786.0" r="8.6"/><circle cx="550.8" cy="874.5" r="8.6"/>
<circle cx="550.6" cy="966.1" r="8.6"/><circle cx="550.6" cy="937.4" r="8.6"/><circle cx="550.8" cy="883.5" r="8.6"/><circle cx="556.0" cy="818.0" r="8.6"/><circle cx="555.2" cy="971.8" r="8.6"/><circle cx="556.4" cy="792.0" r="8.6"/>
<circle cx="555.8" cy="972.8" r="8.6"/><circle cx="556.1" cy="958.0" r="8.6"/><circle cx="556.3" cy="750.4" r="8.6"/><circle cx="555.7" cy="968.6" r="8.6"/><circle cx="556.1" cy="849.2" r="8.6"/><circle cx="555.2" cy="936.6" r="8.6"/>
<circle cx="560.9" cy="964.0" r="8.6"/><circle cx="561.8" cy="969.5" r="8.6"/><circle cx="561.1" cy="910.6" r="8.6"/><circle cx="560.8" cy="934.2" r="8.6"/><circle cx="562.0" cy="808.3" r="8.6"/><circle cx="560.4" cy="792.0" r="8.6"/>
<circle cx="561.7" cy="945.2" r="8.6"/><circle cx="565.7" cy="943.2" r="8.6"/><circle cx="566.8" cy="964.7" r="8.6"/><circle cx="566.6" cy="968.3" r="8.6"/><circle cx="565.3" cy="970.7" r="8.6"/><circle cx="566.3" cy="981.8" r="8.6"/>
<circle cx="565.7" cy="958.4" r="8.6"/><circle cx="572.2" cy="948.2" r="8.6"/><circle cx="570.3" cy="984.8" r="8.6"/><circle cx="571.8" cy="876.9" r="8.6"/><circle cx="572.0" cy="945.2" r="8.6"/><circle cx="571.3" cy="979.1" r="8.6"/>
<circle cx="571.5" cy="723.3" r="8.6"/><circle cx="572.3" cy="977.1" r="8.6"/><circle cx="570.8" cy="966.1" r="8.6"/><circle cx="575.5" cy="945.8" r="8.6"/><circle cx="575.7" cy="936.6" r="8.6"/><circle cx="576.8" cy="808.3" r="8.6"/>
<circle cx="575.9" cy="866.9" r="8.6"/><circle cx="576.0" cy="957.5" r="8.6"/><circle cx="575.8" cy="950.0" r="8.6"/><circle cx="577.0" cy="956.1" r="8.6"/><circle cx="575.5" cy="970.9" r="8.6"/><circle cx="581.2" cy="920.5" r="8.6"/>
<circle cx="581.6" cy="895.1" r="8.6"/><circle cx="582.4" cy="822.5" r="8.6"/><circle cx="582.0" cy="967.4" r="8.6"/><circle cx="582.2" cy="968.3" r="8.6"/><circle cx="580.7" cy="974.8" r="8.6"/><circle cx="581.1" cy="834.9" r="8.6"/>
<circle cx="581.4" cy="858.5" r="8.6"/><circle cx="580.4" cy="849.2" r="8.6"/><circle cx="585.7" cy="972.3" r="8.6"/><circle cx="587.0" cy="962.5" r="8.6"/><circle cx="587.4" cy="907.8" r="8.6"/><circle cx="586.3" cy="834.9" r="8.6"/>
<circle cx="586.8" cy="973.6" r="8.6"/><circle cx="586.0" cy="723.3" r="8.6"/><circle cx="587.3" cy="947.0" r="8.6"/><circle cx="591.6" cy="981.7" r="8.6"/><circle cx="590.7" cy="758.3" r="8.6"/><circle cx="591.6" cy="968.9" r="8.6"/>
<circle cx="592.1" cy="889.6" r="8.6"/><circle cx="591.7" cy="723.3" r="8.6"/><circle cx="591.4" cy="845.8" r="8.6"/><circle cx="590.6" cy="978.1" r="8.6"/><circle cx="591.5" cy="818.0" r="8.6"/><circle cx="590.7" cy="973.8" r="8.6"/>
<circle cx="597.2" cy="975.0" r="8.6"/><circle cx="596.2" cy="939.7" r="8.6"/><circle cx="597.2" cy="918.2" r="8.6"/><circle cx="596.5" cy="956.6" r="8.6"/><circle cx="597.4" cy="891.5" r="8.6"/><circle cx="595.6" cy="797.7" r="8.6"/>
<circle cx="597.4" cy="834.9" r="8.6"/><circle cx="596.4" cy="883.5" r="8.6"/><circle cx="602.0" cy="909.2" r="8.6"/><circle cx="602.5" cy="772.9" r="8.6"/><circle cx="602.3" cy="964.3" r="8.6"/><circle cx="601.4" cy="981.7" r="8.6"/>
<circle cx="600.8" cy="924.8" r="8.6"/><circle cx="601.9" cy="842.3" r="8.6"/><circle cx="602.3" cy="803.1" r="8.6"/><circle cx="607.6" cy="968.6" r="8.6"/><circle cx="606.4" cy="889.6" r="8.6"/><circle cx="607.0" cy="915.8" r="8.6"/>
<circle cx="606.9" cy="950.0" r="8.6"/><circle cx="606.4" cy="964.7" r="8.6"/><circle cx="606.7" cy="943.9" r="8.6"/><circle cx="607.0" cy="962.9" r="8.6"/><circle cx="611.5" cy="914.6" r="8.6"/><circle cx="612.6" cy="849.2" r="8.6"/>
<circle cx="611.3" cy="976.6" r="8.6"/><circle cx="611.1" cy="958.8" r="8.6"/><circle cx="612.5" cy="921.6" r="8.6"/><circle cx="611.6" cy="979.7" r="8.6"/><circle cx="612.4" cy="953.7" r="8.6"/><circle cx="612.0" cy="961.3" r="8.6"/>
<circle cx="612.3" cy="930.7" r="8.6"/><circle cx="617.1" cy="946.4" r="8.6"/><circle cx="617.3" cy="885.6" r="8.6"/><circle cx="616.8" cy="920.5" r="8.6"/><circle cx="617.6" cy="980.4" r="8.6"/><circle cx="617.6" cy="971.2" r="8.6"/>
<circle cx="617.3" cy="849.2" r="8.6"/><circle cx="617.4" cy="901.8" r="8.6"/><circle cx="617.1" cy="960.1" r="8.6"/><circle cx="617.5" cy="758.3" r="8.6"/><circle cx="621.0" cy="874.5" r="8.6"/><circle cx="621.8" cy="978.7" r="8.6"/>
<circle cx="621.1" cy="907.8" r="8.6"/><circle cx="621.7" cy="855.5" r="8.6"/><circle cx="622.2" cy="822.5" r="8.6"/><circle cx="622.2" cy="907.8" r="8.6"/><circle cx="621.7" cy="869.5" r="8.6"/><circle cx="621.5" cy="758.3" r="8.6"/>
<circle cx="627.6" cy="858.5" r="8.6"/><circle cx="626.1" cy="943.2" r="8.6"/><circle cx="625.9" cy="987.6" r="8.6"/><circle cx="626.3" cy="935.8" r="8.6"/><circle cx="627.0" cy="975.0" r="8.6"/><circle cx="626.6" cy="969.8" r="8.6"/>
<circle cx="625.9" cy="818.0" r="8.6"/><circle cx="627.5" cy="813.3" r="8.6"/><circle cx="627.4" cy="953.2" r="8.6"/><circle cx="631.0" cy="792.0" r="8.6"/><circle cx="632.4" cy="885.6" r="8.6"/><circle cx="631.1" cy="991.1" r="8.6"/>
<circle cx="632.9" cy="723.3" r="8.6"/><circle cx="632.3" cy="992.1" r="8.6"/><circle cx="631.3" cy="970.7" r="8.6"/><circle cx="632.5" cy="874.5" r="8.6"/><circle cx="631.3" cy="765.8" r="8.6"/><circle cx="632.0" cy="993.1" r="8.6"/>
<circle cx="636.8" cy="990.8" r="8.6"/><circle cx="637.7" cy="995.4" r="8.6"/><circle cx="636.3" cy="954.7" r="8.6"/><circle cx="637.9" cy="966.1" r="8.6"/><circle cx="636.9" cy="900.2" r="8.6"/><circle cx="637.4" cy="818.0" r="8.6"/>
<circle cx="636.5" cy="834.9" r="8.6"/><circle cx="636.6" cy="845.8" r="8.6"/><circle cx="636.7" cy="901.8" r="8.6"/><circle cx="641.6" cy="858.5" r="8.6"/><circle cx="641.2" cy="947.7" r="8.6"/><circle cx="641.2" cy="881.4" r="8.6"/>
<circle cx="641.1" cy="864.2" r="8.6"/><circle cx="641.8" cy="978.1" r="8.6"/><circle cx="641.3" cy="869.5" r="8.6"/><circle cx="641.3" cy="983.6" r="8.6"/><circle cx="642.0" cy="861.4" r="8.6"/><circle cx="643.0" cy="915.8" r="8.6"/>
<circle cx="647.8" cy="965.0" r="8.6"/><circle cx="646.2" cy="849.2" r="8.6"/><circle cx="647.4" cy="987.9" r="8.6"/><circle cx="647.8" cy="979.5" r="8.6"/><circle cx="646.6" cy="977.1" r="8.6"/><circle cx="646.1" cy="969.8" r="8.6"/>
<circle cx="647.0" cy="852.4" r="8.6"/><circle cx="646.3" cy="975.3" r="8.6"/><circle cx="647.0" cy="970.9" r="8.6"/><circle cx="651.3" cy="994.9" r="8.6"/><circle cx="651.6" cy="938.9" r="8.6"/><circle cx="651.2" cy="996.8" r="8.6"/>
<circle cx="652.0" cy="941.8" r="8.6"/><circle cx="651.4" cy="981.7" r="8.6"/><circle cx="651.5" cy="723.3" r="8.6"/><circle cx="652.6" cy="983.3" r="8.6"/><circle cx="652.3" cy="750.4" r="8.6"/><circle cx="653.0" cy="889.6" r="8.6"/>
<circle cx="657.8" cy="985.7" r="8.6"/><circle cx="657.5" cy="803.1" r="8.6"/><circle cx="657.2" cy="874.5" r="8.6"/><circle cx="656.4" cy="976.2" r="8.6"/><circle cx="656.7" cy="935.8" r="8.6"/><circle cx="657.5" cy="983.6" r="8.6"/>
<circle cx="657.4" cy="995.1" r="8.6"/><circle cx="657.8" cy="750.4" r="8.6"/><circle cx="658.0" cy="818.0" r="8.6"/><circle cx="662.7" cy="954.2" r="8.6"/><circle cx="663.2" cy="986.5" r="8.6"/><circle cx="661.6" cy="981.0" r="8.6"/>
<circle cx="662.8" cy="874.5" r="8.6"/><circle cx="661.8" cy="938.9" r="8.6"/><circle cx="661.8" cy="999.6" r="8.6"/><circle cx="662.9" cy="971.5" r="8.6"/><circle cx="662.4" cy="741.9" r="8.6"/><circle cx="662.9" cy="913.3" r="8.6"/>
<circle cx="667.4" cy="980.6" r="8.6"/><circle cx="667.7" cy="985.0" r="8.6"/><circle cx="666.4" cy="994.3" r="8.6"/><circle cx="667.7" cy="874.5" r="8.6"/><circle cx="666.7" cy="972.8" r="8.6"/><circle cx="666.9" cy="920.5" r="8.6"/>
<circle cx="667.6" cy="987.4" r="8.6"/><circle cx="667.7" cy="980.4" r="8.6"/><circle cx="667.5" cy="909.2" r="8.6"/><circle cx="672.2" cy="964.0" r="8.6"/><circle cx="671.5" cy="932.4" r="8.6"/><circle cx="672.1" cy="927.8" r="8.6"/>
<circle cx="671.5" cy="985.5" r="8.6"/><circle cx="673.3" cy="986.2" r="8.6"/><circle cx="671.4" cy="779.6" r="8.6"/><circle cx="671.9" cy="954.2" r="8.6"/><circle cx="672.9" cy="918.2" r="8.6"/><circle cx="671.6" cy="874.5" r="8.6"/>
<circle cx="678.2" cy="808.3" r="8.6"/><circle cx="677.9" cy="981.8" r="8.6"/><circle cx="676.9" cy="883.5" r="8.6"/><circle cx="678.2" cy="987.6" r="8.6"/><circle cx="678.0" cy="803.1" r="8.6"/><circle cx="678.4" cy="973.1" r="8.6"/>
<circle cx="677.9" cy="970.1" r="8.6"/><circle cx="677.9" cy="985.0" r="8.6"/><circle cx="678.0" cy="975.7" r="8.6"/><circle cx="681.5" cy="838.7" r="8.6"/><circle cx="682.6" cy="889.6" r="8.6"/><circle cx="682.3" cy="906.4" r="8.6"/>
<circle cx="682.9" cy="981.0" r="8.6"/><circle cx="682.3" cy="957.5" r="8.6"/><circle cx="681.6" cy="947.7" r="8.6"/><circle cx="682.5" cy="983.8" r="8.6"/><circle cx="683.1" cy="951.1" r="8.6"/><circle cx="683.0" cy="992.3" r="8.6"/>
<circle cx="687.7" cy="887.6" r="8.6"/><circle cx="688.3" cy="822.5" r="8.6"/><circle cx="686.9" cy="963.6" r="8.6"/><circle cx="687.7" cy="979.3" r="8.6"/><circle cx="687.9" cy="925.9" r="8.6"/><circle cx="688.0" cy="973.3" r="8.6"/>
<circle cx="687.9" cy="849.2" r="8.6"/><circle cx="687.9" cy="834.9" r="8.6"/><circle cx="687.0" cy="910.6" r="8.6"/><circle cx="693.3" cy="876.9" r="8.6"/><circle cx="693.1" cy="786.0" r="8.6"/><circle cx="692.7" cy="893.3" r="8.6"/>
<circle cx="692.9" cy="855.5" r="8.6"/><circle cx="692.2" cy="984.2" r="8.6"/><circle cx="693.4" cy="976.2" r="8.6"/><circle cx="692.7" cy="956.1" r="8.6"/><circle cx="692.4" cy="869.5" r="8.6"/><circle cx="691.9" cy="849.2" r="8.6"/>
<circle cx="696.8" cy="937.4" r="8.6"/><circle cx="696.9" cy="826.8" r="8.6"/><circle cx="697.0" cy="957.1" r="8.6"/><circle cx="697.8" cy="834.9" r="8.6"/><circle cx="698.0" cy="952.7" r="8.6"/><circle cx="698.5" cy="874.5" r="8.6"/>
<circle cx="697.3" cy="927.8" r="8.6"/><circle cx="698.6" cy="995.7" r="8.6"/><circle cx="697.5" cy="976.8" r="8.6"/><circle cx="703.5" cy="889.6" r="8.6"/><circle cx="701.8" cy="976.2" r="8.6"/><circle cx="703.5" cy="723.3" r="8.6"/>
<circle cx="703.2" cy="792.0" r="8.6"/><circle cx="702.0" cy="858.5" r="8.6"/><circle cx="703.2" cy="962.5" r="8.6"/><circle cx="702.8" cy="872.1" r="8.6"/><circle cx="703.5" cy="909.2" r="8.6"/><circle cx="707.0" cy="921.6" r="8.6"/>
<circle cx="707.1" cy="971.8" r="8.6"/><circle cx="707.7" cy="977.3" r="8.6"/><circle cx="707.4" cy="936.6" r="8.6"/><circle cx="707.0" cy="818.0" r="8.6"/><circle cx="708.6" cy="984.2" r="8.6"/><circle cx="707.7" cy="887.6" r="8.6"/>
<circle cx="708.3" cy="970.4" r="8.6"/><circle cx="707.2" cy="997.1" r="8.6"/><circle cx="713.7" cy="972.6" r="8.6"/><circle cx="712.3" cy="990.4" r="8.6"/><circle cx="713.7" cy="969.2" r="8.6"/><circle cx="711.9" cy="915.8" r="8.6"/>
<circle cx="711.8" cy="881.4" r="8.6"/><circle cx="712.9" cy="947.7" r="8.6"/><circle cx="712.2" cy="923.8" r="8.6"/><circle cx="712.8" cy="797.7" r="8.6"/><circle cx="712.0" cy="909.2" r="8.6"/><circle cx="716.9" cy="858.5" r="8.6"/>
<circle cx="717.7" cy="992.6" r="8.6"/><circle cx="717.3" cy="972.8" r="8.6"/><circle cx="718.3" cy="985.0" r="8.6"/><circle cx="717.3" cy="994.2" r="8.6"/><circle cx="718.5" cy="927.8" r="8.6"/><circle cx="717.3" cy="901.8" r="8.6"/>
<circle cx="717.0" cy="907.8" r="8.6"/><circle cx="723.8" cy="855.5" r="8.6"/><circle cx="723.7" cy="978.3" r="8.6"/><circle cx="722.1" cy="986.1" r="8.6"/><circle cx="722.9" cy="985.2" r="8.6"/><circle cx="722.8" cy="855.5" r="8.6"/>
<circle cx="722.3" cy="975.7" r="8.6"/><circle cx="723.2" cy="869.5" r="8.6"/><circle cx="722.9" cy="852.4" r="8.6"/><circle cx="723.5" cy="943.9" r="8.6"/><circle cx="727.8" cy="958.4" r="8.6"/><circle cx="728.2" cy="786.0" r="8.6"/>
<circle cx="727.3" cy="887.6" r="8.6"/><circle cx="728.0" cy="732.9" r="8.6"/><circle cx="727.5" cy="907.8" r="8.6"/><circle cx="728.5" cy="924.8" r="8.6"/><circle cx="728.3" cy="979.7" r="8.6"/><circle cx="728.5" cy="895.1" r="8.6"/>
<circle cx="728.0" cy="989.6" r="8.6"/><circle cx="732.7" cy="950.0" r="8.6"/><circle cx="732.2" cy="842.3" r="8.6"/><circle cx="733.8" cy="822.5" r="8.6"/><circle cx="732.8" cy="973.3" r="8.6"/><circle cx="732.8" cy="750.4" r="8.6"/>
<circle cx="733.2" cy="976.2" r="8.6"/><circle cx="732.5" cy="779.6" r="8.6"/><circle cx="732.0" cy="826.8" r="8.6"/><circle cx="732.8" cy="803.1" r="8.6"/><circle cx="737.8" cy="980.2" r="8.6"/><circle cx="737.9" cy="895.1" r="8.6"/>
<circle cx="738.0" cy="941.8" r="8.6"/><circle cx="737.6" cy="956.6" r="8.6"/><circle cx="738.4" cy="981.5" r="8.6"/><circle cx="738.1" cy="883.5" r="8.6"/><circle cx="739.0" cy="976.2" r="8.6"/><circle cx="737.4" cy="943.2" r="8.6"/>
<circle cx="738.0" cy="987.7" r="8.6"/><circle cx="743.2" cy="959.3" r="8.6"/><circle cx="743.3" cy="974.8" r="8.6"/><circle cx="743.6" cy="872.1" r="8.6"/><circle cx="743.2" cy="980.4" r="8.6"/><circle cx="742.5" cy="915.8" r="8.6"/>
<circle cx="743.0" cy="978.7" r="8.6"/><circle cx="743.7" cy="986.3" r="8.6"/><circle cx="743.2" cy="947.0" r="8.6"/><circle cx="743.6" cy="975.3" r="8.6"/><circle cx="747.6" cy="838.7" r="8.6"/><circle cx="747.6" cy="864.2" r="8.6"/>
<circle cx="749.0" cy="772.9" r="8.6"/><circle cx="747.9" cy="940.4" r="8.6"/><circle cx="748.1" cy="982.3" r="8.6"/><circle cx="748.1" cy="943.9" r="8.6"/><circle cx="747.2" cy="977.7" r="8.6"/><circle cx="748.6" cy="979.5" r="8.6"/>
<circle cx="748.6" cy="982.3" r="8.6"/><circle cx="752.6" cy="925.9" r="8.6"/><circle cx="753.7" cy="792.0" r="8.6"/><circle cx="752.8" cy="953.2" r="8.6"/><circle cx="753.6" cy="906.4" r="8.6"/><circle cx="752.6" cy="982.5" r="8.6"/>
<circle cx="753.3" cy="929.7" r="8.6"/><circle cx="753.5" cy="786.0" r="8.6"/><circle cx="752.9" cy="980.1" r="8.6"/><circle cx="753.1" cy="988.6" r="8.6"/><circle cx="758.9" cy="845.8" r="8.6"/><circle cx="758.2" cy="987.0" r="8.6"/>
<circle cx="757.5" cy="808.3" r="8.6"/><circle cx="757.8" cy="914.6" r="8.6"/><circle cx="758.7" cy="954.7" r="8.6"/><circle cx="758.7" cy="926.9" r="8.6"/><circle cx="757.6" cy="797.7" r="8.6"/><circle cx="758.5" cy="797.7" r="8.6"/>
<circle cx="758.5" cy="732.9" r="8.6"/><circle cx="764.1" cy="947.7" r="8.6"/><circle cx="762.5" cy="876.9" r="8.6"/><circle cx="762.9" cy="934.2" r="8.6"/><circle cx="763.7" cy="935.8" r="8.6"/><circle cx="762.3" cy="988.6" r="8.6"/>
<circle cx="763.0" cy="933.3" r="8.6"/><circle cx="762.5" cy="952.7" r="8.6"/><circle cx="763.2" cy="822.5" r="8.6"/><circle cx="762.3" cy="879.1" r="8.6"/><circle cx="767.5" cy="750.4" r="8.6"/><circle cx="768.3" cy="973.8" r="8.6"/>
<circle cx="768.6" cy="976.8" r="8.6"/><circle cx="768.7" cy="874.5" r="8.6"/><circle cx="767.4" cy="979.3" r="8.6"/><circle cx="767.7" cy="989.0" r="8.6"/><circle cx="769.3" cy="971.8" r="8.6"/><circle cx="768.1" cy="941.1" r="8.6"/>
<circle cx="774.3" cy="765.8" r="8.6"/><circle cx="773.1" cy="934.2" r="8.6"/><circle cx="774.4" cy="983.1" r="8.6"/><circle cx="774.2" cy="750.4" r="8.6"/><circle cx="772.6" cy="919.4" r="8.6"/><circle cx="774.1" cy="970.9" r="8.6"/>
<circle cx="772.4" cy="962.9" r="8.6"/><circle cx="773.8" cy="830.9" r="8.6"/><circle cx="774.0" cy="895.1" r="8.6"/><circle cx="778.4" cy="808.3" r="8.6"/><circle cx="778.2" cy="861.4" r="8.6"/><circle cx="778.7" cy="947.7" r="8.6"/>
<circle cx="778.5" cy="980.1" r="8.6"/><circle cx="778.1" cy="920.5" r="8.6"/><circle cx="778.7" cy="927.8" r="8.6"/><circle cx="779.4" cy="779.6" r="8.6"/><circle cx="777.8" cy="818.0" r="8.6"/><circle cx="784.1" cy="818.0" r="8.6"/>
<circle cx="782.6" cy="926.9" r="8.6"/><circle cx="783.8" cy="953.2" r="8.6"/><circle cx="784.1" cy="937.4" r="8.6"/><circle cx="783.0" cy="943.2" r="8.6"/><circle cx="783.3" cy="958.0" r="8.6"/><circle cx="782.9" cy="900.2" r="8.6"/>
<circle cx="783.9" cy="786.0" r="8.6"/><circle cx="783.5" cy="826.8" r="8.6"/><circle cx="787.8" cy="797.7" r="8.6"/><circle cx="789.3" cy="975.0" r="8.6"/><circle cx="789.3" cy="896.9" r="8.6"/><circle cx="788.0" cy="786.0" r="8.6"/>
<circle cx="788.9" cy="797.7" r="8.6"/><circle cx="788.9" cy="758.3" r="8.6"/><circle cx="787.8" cy="845.8" r="8.6"/><circle cx="789.1" cy="792.0" r="8.6"/><circle cx="789.1" cy="968.9" r="8.6"/><circle cx="793.6" cy="779.6" r="8.6"/>
<circle cx="793.2" cy="962.1" r="8.6"/><circle cx="793.5" cy="913.3" r="8.6"/><circle cx="793.5" cy="936.6" r="8.6"/><circle cx="794.4" cy="723.3" r="8.6"/><circle cx="794.4" cy="792.0" r="8.6"/><circle cx="794.4" cy="772.9" r="8.6"/>
<circle cx="793.6" cy="872.1" r="8.6"/><circle cx="794.5" cy="822.5" r="8.6"/><circle cx="797.8" cy="883.5" r="8.6"/><circle cx="799.0" cy="938.2" r="8.6"/><circle cx="799.0" cy="922.7" r="8.6"/><circle cx="798.4" cy="858.5" r="8.6"/>
<circle cx="799.5" cy="952.7" r="8.6"/><circle cx="799.3" cy="933.3" r="8.6"/><circle cx="798.3" cy="758.3" r="8.6"/><circle cx="797.8" cy="765.8" r="8.6"/><circle cx="798.8" cy="923.8" r="8.6"/><circle cx="804.2" cy="979.5" r="8.6"/>
<circle cx="804.0" cy="935.0" r="8.6"/><circle cx="803.6" cy="797.7" r="8.6"/><circle cx="804.2" cy="779.6" r="8.6"/><circle cx="804.0" cy="889.6" r="8.6"/><circle cx="803.1" cy="964.7" r="8.6"/><circle cx="803.8" cy="967.0" r="8.6"/>
<circle cx="803.9" cy="961.3" r="8.6"/><circle cx="809.1" cy="808.3" r="8.6"/><circle cx="808.1" cy="732.9" r="8.6"/><circle cx="809.0" cy="808.3" r="8.6"/><circle cx="808.6" cy="958.8" r="8.6"/><circle cx="809.7" cy="966.4" r="8.6"/>
<circle cx="808.1" cy="964.7" r="8.6"/><circle cx="809.2" cy="723.3" r="8.6"/><circle cx="807.8" cy="964.7" r="8.6"/><circle cx="808.3" cy="898.6" r="8.6"/><circle cx="814.4" cy="772.9" r="8.6"/><circle cx="813.4" cy="971.5" r="8.6"/>
<circle cx="812.9" cy="895.1" r="8.6"/><circle cx="814.7" cy="826.8" r="8.6"/><circle cx="813.3" cy="906.4" r="8.6"/><circle cx="812.9" cy="987.9" r="8.6"/><circle cx="813.1" cy="887.6" r="8.6"/><circle cx="814.8" cy="974.1" r="8.6"/>
<circle cx="818.9" cy="861.4" r="8.6"/><circle cx="819.0" cy="858.5" r="8.6"/><circle cx="819.7" cy="957.1" r="8.6"/><circle cx="819.2" cy="931.6" r="8.6"/><circle cx="819.2" cy="974.8" r="8.6"/><circle cx="819.0" cy="818.0" r="8.6"/>
<circle cx="818.8" cy="977.1" r="8.6"/><circle cx="819.4" cy="982.0" r="8.6"/><circle cx="819.0" cy="907.8" r="8.6"/><circle cx="824.8" cy="885.6" r="8.6"/><circle cx="824.8" cy="732.9" r="8.6"/><circle cx="823.6" cy="869.5" r="8.6"/>
<circle cx="824.1" cy="926.9" r="8.6"/><circle cx="823.1" cy="947.7" r="8.6"/><circle cx="823.7" cy="972.3" r="8.6"/><circle cx="824.2" cy="958.4" r="8.6"/><circle cx="824.2" cy="935.0" r="8.6"/><circle cx="823.6" cy="792.0" r="8.6"/>
<circle cx="829.3" cy="985.0" r="8.6"/><circle cx="828.2" cy="889.6" r="8.6"/><circle cx="828.0" cy="986.2" r="8.6"/><circle cx="828.3" cy="978.9" r="8.6"/><circle cx="828.5" cy="967.4" r="8.6"/><circle cx="829.0" cy="969.2" r="8.6"/>
<circle cx="829.6" cy="971.2" r="8.6"/><circle cx="829.1" cy="945.2" r="8.6"/><circle cx="828.8" cy="797.7" r="8.6"/><circle cx="833.3" cy="750.4" r="8.6"/><circle cx="833.3" cy="779.6" r="8.6"/><circle cx="833.8" cy="986.2" r="8.6"/>
<circle cx="833.3" cy="879.1" r="8.6"/><circle cx="833.8" cy="803.1" r="8.6"/><circle cx="834.1" cy="765.8" r="8.6"/><circle cx="834.1" cy="838.7" r="8.6"/><circle cx="833.8" cy="792.0" r="8.6"/><circle cx="834.6" cy="932.4" r="8.6"/>
<circle cx="839.4" cy="898.6" r="8.6"/><circle cx="839.3" cy="723.3" r="8.6"/><circle cx="839.7" cy="779.6" r="8.6"/><circle cx="839.4" cy="972.3" r="8.6"/><circle cx="839.9" cy="898.6" r="8.6"/><circle cx="838.2" cy="904.9" r="8.6"/>
<circle cx="838.1" cy="895.1" r="8.6"/><circle cx="838.5" cy="979.9" r="8.6"/><circle cx="844.8" cy="950.5" r="8.6"/><circle cx="845.0" cy="961.7" r="8.6"/><circle cx="843.6" cy="723.3" r="8.6"/><circle cx="843.6" cy="936.6" r="8.6"/>
<circle cx="843.2" cy="960.1" r="8.6"/><circle cx="843.7" cy="972.0" r="8.6"/><circle cx="843.2" cy="938.2" r="8.6"/><circle cx="850.1" cy="732.9" r="8.6"/><circle cx="848.7" cy="906.4" r="8.6"/><circle cx="848.9" cy="987.6" r="8.6"/>
<circle cx="849.3" cy="732.9" r="8.6"/><circle cx="848.6" cy="941.8" r="8.6"/><circle cx="849.6" cy="876.9" r="8.6"/><circle cx="849.5" cy="786.0" r="8.6"/><circle cx="848.4" cy="970.4" r="8.6"/><circle cx="853.9" cy="966.1" r="8.6"/>
<circle cx="854.8" cy="956.1" r="8.6"/><circle cx="853.6" cy="955.7" r="8.6"/><circle cx="853.4" cy="741.9" r="8.6"/><circle cx="854.5" cy="944.5" r="8.6"/><circle cx="854.1" cy="957.1" r="8.6"/><circle cx="855.1" cy="960.5" r="8.6"/>
<circle cx="853.4" cy="936.6" r="8.6"/><circle cx="854.7" cy="915.8" r="8.6"/><circle cx="858.5" cy="960.5" r="8.6"/><circle cx="859.8" cy="765.8" r="8.6"/><circle cx="859.1" cy="924.8" r="8.6"/><circle cx="859.3" cy="866.9" r="8.6"/>
<circle cx="859.1" cy="786.0" r="8.6"/><circle cx="859.1" cy="972.3" r="8.6"/><circle cx="860.3" cy="893.3" r="8.6"/><circle cx="860.1" cy="861.4" r="8.6"/><circle cx="865.0" cy="966.1" r="8.6"/><circle cx="864.8" cy="972.3" r="8.6"/>
<circle cx="864.5" cy="961.7" r="8.6"/><circle cx="864.1" cy="913.3" r="8.6"/><circle cx="864.5" cy="861.4" r="8.6"/><circle cx="863.5" cy="954.2" r="8.6"/><circle cx="863.5" cy="937.4" r="8.6"/><circle cx="863.9" cy="765.8" r="8.6"/>
<circle cx="868.6" cy="970.7" r="8.6"/><circle cx="869.4" cy="981.1" r="8.6"/><circle cx="869.5" cy="946.4" r="8.6"/><circle cx="868.6" cy="941.1" r="8.6"/><circle cx="869.0" cy="973.3" r="8.6"/><circle cx="869.6" cy="765.8" r="8.6"/>
<circle cx="869.7" cy="976.4" r="8.6"/><circle cx="869.6" cy="741.9" r="8.6"/><circle cx="869.6" cy="772.9" r="8.6"/><circle cx="874.9" cy="981.1" r="8.6"/><circle cx="873.9" cy="834.9" r="8.6"/><circle cx="874.6" cy="982.2" r="8.6"/>
<circle cx="874.3" cy="964.7" r="8.6"/><circle cx="873.9" cy="758.3" r="8.6"/><circle cx="875.0" cy="906.4" r="8.6"/><circle cx="873.9" cy="779.6" r="8.6"/><circle cx="874.8" cy="915.8" r="8.6"/><circle cx="874.4" cy="872.1" r="8.6"/>
<circle cx="879.5" cy="732.9" r="8.6"/><circle cx="880.4" cy="803.1" r="8.6"/><circle cx="878.7" cy="918.2" r="8.6"/><circle cx="878.9" cy="895.1" r="8.6"/><circle cx="880.1" cy="872.1" r="8.6"/><circle cx="878.6" cy="930.7" r="8.6"/>
<circle cx="879.3" cy="872.1" r="8.6"/><circle cx="880.0" cy="915.8" r="8.6"/><circle cx="879.9" cy="947.0" r="8.6"/><circle cx="885.5" cy="932.4" r="8.6"/><circle cx="883.6" cy="723.3" r="8.6"/><circle cx="884.8" cy="910.6" r="8.6"/>
<circle cx="883.7" cy="954.2" r="8.6"/><circle cx="885.0" cy="959.7" r="8.6"/><circle cx="884.4" cy="960.9" r="8.6"/><circle cx="885.4" cy="893.3" r="8.6"/><circle cx="889.1" cy="750.4" r="8.6"/><circle cx="889.7" cy="896.9" r="8.6"/>
<circle cx="890.3" cy="881.4" r="8.6"/><circle cx="889.3" cy="876.9" r="8.6"/><circle cx="889.5" cy="974.8" r="8.6"/><circle cx="889.7" cy="858.5" r="8.6"/><circle cx="890.6" cy="962.5" r="8.6"/><circle cx="889.9" cy="813.3" r="8.6"/>
<circle cx="894.5" cy="786.0" r="8.6"/><circle cx="895.3" cy="969.5" r="8.6"/><circle cx="894.8" cy="928.8" r="8.6"/><circle cx="893.7" cy="981.7" r="8.6"/><circle cx="893.9" cy="989.7" r="8.6"/><circle cx="895.4" cy="946.4" r="8.6"/>
<circle cx="894.7" cy="765.8" r="8.6"/><circle cx="894.0" cy="975.5" r="8.6"/><circle cx="895.1" cy="912.0" r="8.6"/><circle cx="900.1" cy="872.1" r="8.6"/><circle cx="899.9" cy="966.1" r="8.6"/><circle cx="899.7" cy="934.2" r="8.6"/>
<circle cx="900.0" cy="972.6" r="8.6"/><circle cx="899.7" cy="920.5" r="8.6"/><circle cx="899.1" cy="958.4" r="8.6"/><circle cx="900.1" cy="732.9" r="8.6"/><circle cx="898.9" cy="932.4" r="8.6"/><circle cx="899.3" cy="955.7" r="8.6"/>
<circle cx="905.6" cy="876.9" r="8.6"/><circle cx="905.0" cy="732.9" r="8.6"/><circle cx="904.5" cy="723.3" r="8.6"/><circle cx="904.6" cy="966.4" r="8.6"/><circle cx="905.0" cy="940.4" r="8.6"/><circle cx="904.8" cy="723.3" r="8.6"/>
<circle cx="905.5" cy="830.9" r="8.6"/><circle cx="905.5" cy="732.9" r="8.6"/><circle cx="904.4" cy="968.9" r="8.6"/><circle cx="909.3" cy="919.4" r="8.6"/><circle cx="909.6" cy="939.7" r="8.6"/><circle cx="910.3" cy="723.3" r="8.6"/>
<circle cx="909.7" cy="913.3" r="8.6"/><circle cx="909.6" cy="972.6" r="8.6"/><circle cx="909.6" cy="797.7" r="8.6"/><circle cx="909.8" cy="914.6" r="8.6"/><circle cx="909.4" cy="971.5" r="8.6"/><circle cx="910.7" cy="750.4" r="8.6"/>
<circle cx="915.5" cy="941.8" r="8.6"/><circle cx="913.9" cy="758.3" r="8.6"/><circle cx="914.1" cy="966.4" r="8.6"/><circle cx="915.8" cy="845.8" r="8.6"/><circle cx="915.6" cy="808.3" r="8.6"/><circle cx="915.1" cy="925.9" r="8.6"/>
<circle cx="915.1" cy="979.5" r="8.6"/><circle cx="914.7" cy="872.1" r="8.6"/><circle cx="914.7" cy="907.8" r="8.6"/><circle cx="914.1" cy="803.1" r="8.6"/><circle cx="919.0" cy="936.6" r="8.6"/><circle cx="920.1" cy="887.6" r="8.6"/>
<circle cx="919.3" cy="989.9" r="8.6"/><circle cx="920.3" cy="992.6" r="8.6"/><circle cx="919.2" cy="974.1" r="8.6"/><circle cx="920.3" cy="923.8" r="8.6"/><circle cx="920.1" cy="917.0" r="8.6"/><circle cx="920.3" cy="948.2" r="8.6"/>
<circle cx="920.8" cy="826.8" r="8.6"/><circle cx="919.5" cy="947.0" r="8.6"/><circle cx="920.3" cy="772.9" r="8.6"/><circle cx="924.7" cy="900.2" r="8.6"/><circle cx="924.8" cy="830.9" r="8.6"/><circle cx="924.4" cy="989.2" r="8.6"/>
<circle cx="924.9" cy="983.1" r="8.6"/><circle cx="925.4" cy="842.3" r="8.6"/><circle cx="924.7" cy="845.8" r="8.6"/><circle cx="925.3" cy="858.5" r="8.6"/><circle cx="924.9" cy="952.7" r="8.6"/><circle cx="924.0" cy="983.3" r="8.6"/>
<circle cx="925.9" cy="952.2" r="8.6"/><circle cx="924.5" cy="750.4" r="8.6"/><circle cx="930.9" cy="993.4" r="8.6"/><circle cx="930.7" cy="957.1" r="8.6"/><circle cx="929.3" cy="993.5" r="8.6"/><circle cx="930.8" cy="772.9" r="8.6"/>
<circle cx="930.8" cy="979.1" r="8.6"/><circle cx="930.1" cy="991.0" r="8.6"/><circle cx="930.1" cy="885.6" r="8.6"/><circle cx="929.3" cy="984.4" r="8.6"/><circle cx="929.6" cy="983.6" r="8.6"/><circle cx="929.4" cy="960.9" r="8.6"/>
<circle cx="935.5" cy="885.6" r="8.6"/><circle cx="935.4" cy="966.7" r="8.6"/><circle cx="934.9" cy="981.0" r="8.6"/><circle cx="935.1" cy="813.3" r="8.6"/><circle cx="935.1" cy="803.1" r="8.6"/><circle cx="934.5" cy="792.0" r="8.6"/>
<circle cx="934.6" cy="975.3" r="8.6"/><circle cx="935.7" cy="849.2" r="8.6"/><circle cx="935.7" cy="808.3" r="8.6"/><circle cx="935.4" cy="818.0" r="8.6"/><circle cx="939.7" cy="881.4" r="8.6"/><circle cx="939.9" cy="987.3" r="8.6"/>
<circle cx="939.7" cy="946.4" r="8.6"/><circle cx="940.4" cy="954.7" r="8.6"/><circle cx="940.9" cy="988.0" r="8.6"/><circle cx="940.5" cy="874.5" r="8.6"/><circle cx="939.5" cy="861.4" r="8.6"/><circle cx="941.1" cy="750.4" r="8.6"/>
<circle cx="940.6" cy="936.6" r="8.6"/><circle cx="940.1" cy="964.0" r="8.6"/><circle cx="945.4" cy="869.5" r="8.6"/><circle cx="945.5" cy="838.7" r="8.6"/><circle cx="945.4" cy="849.2" r="8.6"/><circle cx="944.3" cy="969.2" r="8.6"/>
<circle cx="945.9" cy="979.5" r="8.6"/><circle cx="945.7" cy="797.7" r="8.6"/><circle cx="945.2" cy="997.7" r="8.6"/><circle cx="945.3" cy="895.1" r="8.6"/><circle cx="945.1" cy="883.5" r="8.6"/><circle cx="945.7" cy="993.5" r="8.6"/>
<circle cx="949.8" cy="861.4" r="8.6"/><circle cx="949.7" cy="881.4" r="8.6"/><circle cx="950.6" cy="992.8" r="8.6"/><circle cx="949.5" cy="989.3" r="8.6"/><circle cx="951.1" cy="969.8" r="8.6"/><circle cx="950.5" cy="983.5" r="8.6"/>
<circle cx="950.3" cy="912.0" r="8.6"/><circle cx="949.3" cy="891.5" r="8.6"/><circle cx="949.8" cy="956.6" r="8.6"/><circle cx="950.1" cy="869.5" r="8.6"/><circle cx="954.7" cy="855.5" r="8.6"/><circle cx="954.9" cy="879.1" r="8.6"/>
<circle cx="955.8" cy="987.1" r="8.6"/><circle cx="956.0" cy="864.2" r="8.6"/><circle cx="955.2" cy="797.7" r="8.6"/><circle cx="956.0" cy="987.3" r="8.6"/><circle cx="954.5" cy="786.0" r="8.6"/><circle cx="955.3" cy="919.4" r="8.6"/>
<circle cx="955.8" cy="948.2" r="8.6"/><circle cx="955.8" cy="992.5" r="8.6"/><circle cx="960.4" cy="818.0" r="8.6"/><circle cx="959.4" cy="996.9" r="8.6"/><circle cx="959.5" cy="995.0" r="8.6"/><circle cx="960.7" cy="885.6" r="8.6"/>
<circle cx="960.1" cy="834.9" r="8.6"/><circle cx="959.5" cy="975.7" r="8.6"/><circle cx="960.3" cy="901.8" r="8.6"/><circle cx="960.1" cy="1000.2" r="8.6"/><circle cx="961.3" cy="995.8" r="8.6"/><circle cx="959.4" cy="989.6" r="8.6"/>
<circle cx="966.2" cy="975.5" r="8.6"/><circle cx="965.1" cy="896.9" r="8.6"/><circle cx="966.1" cy="980.1" r="8.6"/><circle cx="965.5" cy="913.3" r="8.6"/><circle cx="966.2" cy="926.9" r="8.6"/><circle cx="966.2" cy="765.8" r="8.6"/>
<circle cx="965.8" cy="750.4" r="8.6"/><circle cx="965.3" cy="900.2" r="8.6"/><circle cx="964.9" cy="940.4" r="8.6"/><circle cx="965.5" cy="979.1" r="8.6"/><circle cx="969.5" cy="786.0" r="8.6"/><circle cx="969.8" cy="953.2" r="8.6"/>
<circle cx="970.4" cy="885.6" r="8.6"/><circle cx="971.4" cy="962.9" r="8.6"/><circle cx="969.7" cy="979.9" r="8.6"/><circle cx="970.0" cy="962.1" r="8.6"/><circle cx="971.0" cy="947.7" r="8.6"/><circle cx="970.1" cy="803.1" r="8.6"/>
<circle cx="971.3" cy="946.4" r="8.6"/><circle cx="969.5" cy="980.1" r="8.6"/><circle cx="969.9" cy="750.4" r="8.6"/><circle cx="976.1" cy="998.4" r="8.6"/><circle cx="975.3" cy="993.1" r="8.6"/><circle cx="975.4" cy="855.5" r="8.6"/>
<circle cx="975.3" cy="864.2" r="8.6"/><circle cx="975.2" cy="962.9" r="8.6"/><circle cx="976.0" cy="914.6" r="8.6"/><circle cx="976.2" cy="984.4" r="8.6"/><circle cx="975.1" cy="958.4" r="8.6"/><circle cx="975.9" cy="978.7" r="8.6"/>
<circle cx="974.9" cy="978.1" r="8.6"/><circle cx="980.3" cy="906.4" r="8.6"/><circle cx="980.6" cy="874.5" r="8.6"/><circle cx="980.5" cy="959.3" r="8.6"/><circle cx="981.2" cy="830.9" r="8.6"/><circle cx="980.1" cy="901.8" r="8.6"/>
<circle cx="980.1" cy="874.5" r="8.6"/><circle cx="980.3" cy="977.9" r="8.6"/><circle cx="980.8" cy="976.8" r="8.6"/><circle cx="979.8" cy="930.7" r="8.6"/><circle cx="981.5" cy="921.6" r="8.6"/><circle cx="985.4" cy="985.7" r="8.6"/>
<circle cx="985.9" cy="750.4" r="8.6"/><circle cx="984.8" cy="723.3" r="8.6"/><circle cx="985.8" cy="983.9" r="8.6"/><circle cx="986.3" cy="952.2" r="8.6"/><circle cx="986.3" cy="765.8" r="8.6"/><circle cx="984.9" cy="989.2" r="8.6"/>
<circle cx="984.9" cy="973.3" r="8.6"/><circle cx="986.4" cy="982.2" r="8.6"/><circle cx="986.0" cy="732.9" r="8.6"/><circle cx="990.4" cy="997.4" r="8.6"/><circle cx="991.4" cy="968.6" r="8.6"/><circle cx="991.5" cy="913.3" r="8.6"/>
<circle cx="991.2" cy="930.7" r="8.6"/><circle cx="990.4" cy="855.5" r="8.6"/><circle cx="990.3" cy="968.0" r="8.6"/><circle cx="990.5" cy="953.7" r="8.6"/><circle cx="990.8" cy="968.0" r="8.6"/><circle cx="989.7" cy="874.5" r="8.6"/>
<circle cx="990.7" cy="973.8" r="8.6"/><circle cx="995.4" cy="855.5" r="8.6"/><circle cx="995.7" cy="808.3" r="8.6"/><circle cx="995.1" cy="968.6" r="8.6"/><circle cx="995.2" cy="989.3" r="8.6"/><circle cx="996.4" cy="968.0" r="8.6"/>
<circle cx="996.0" cy="955.2" r="8.6"/><circle cx="995.6" cy="826.8" r="8.6"/><circle cx="996.0" cy="864.2" r="8.6"/><circle cx="995.0" cy="941.8" r="8.6"/><circle cx="994.7" cy="891.5" r="8.6"/><circle cx="1001.4" cy="995.0" r="8.6"/>
<circle cx="1000.3" cy="985.5" r="8.6"/><circle cx="1000.5" cy="982.2" r="8.6"/><circle cx="1001.1" cy="1000.4" r="8.6"/><circle cx="1001.7" cy="958.8" r="8.6"/><circle cx="1000.4" cy="971.2" r="8.6"/><circle cx="1000.6" cy="797.7" r="8.6"/>
<circle cx="1000.5" cy="915.8" r="8.6"/><circle cx="1000.2" cy="937.4" r="8.6"/><circle cx="1000.4" cy="945.8" r="8.6"/><circle cx="1005.7" cy="866.9" r="8.6"/><circle cx="1005.1" cy="895.1" r="8.6"/><circle cx="1006.5" cy="950.5" r="8.6"/>
<circle cx="1005.9" cy="792.0" r="8.6"/><circle cx="1006.3" cy="838.7" r="8.6"/><circle cx="1006.3" cy="914.6" r="8.6"/><circle cx="1006.0" cy="950.0" r="8.6"/><circle cx="1006.6" cy="869.5" r="8.6"/><circle cx="1004.9" cy="997.7" r="8.6"/>
<circle cx="1005.4" cy="927.8" r="8.6"/><circle cx="1005.1" cy="741.9" r="8.6"/><circle cx="1011.2" cy="948.2" r="8.6"/><circle cx="1011.3" cy="975.5" r="8.6"/><circle cx="1011.1" cy="779.6" r="8.6"/><circle cx="1009.9" cy="970.7" r="8.6"/>
<circle cx="1011.2" cy="996.1" r="8.6"/><circle cx="1011.4" cy="838.7" r="8.6"/><circle cx="1010.2" cy="917.0" r="8.6"/><circle cx="1010.0" cy="937.4" r="8.6"/><circle cx="1010.0" cy="758.3" r="8.6"/><circle cx="1010.9" cy="772.9" r="8.6"/>
<circle cx="1016.2" cy="984.2" r="8.6"/><circle cx="1016.9" cy="861.4" r="8.6"/><circle cx="1016.5" cy="845.8" r="8.6"/><circle cx="1015.8" cy="948.8" r="8.6"/><circle cx="1016.5" cy="772.9" r="8.6"/><circle cx="1016.8" cy="975.0" r="8.6"/>
<circle cx="1016.3" cy="979.3" r="8.6"/><circle cx="1015.1" cy="974.8" r="8.6"/><circle cx="1015.6" cy="879.1" r="8.6"/><circle cx="1016.3" cy="826.8" r="8.6"/><circle cx="1020.3" cy="933.3" r="8.6"/><circle cx="1020.6" cy="909.2" r="8.6"/>
<circle cx="1021.2" cy="995.4" r="8.6"/><circle cx="1021.9" cy="1002.5" r="8.6"/><circle cx="1020.0" cy="797.7" r="8.6"/><circle cx="1021.3" cy="924.8" r="8.6"/><circle cx="1020.9" cy="1004.1" r="8.6"/><circle cx="1021.0" cy="881.4" r="8.6"/>
<circle cx="1021.6" cy="879.1" r="8.6"/><circle cx="1020.1" cy="968.0" r="8.6"/><circle cx="1025.8" cy="994.9" r="8.6"/><circle cx="1025.8" cy="842.3" r="8.6"/><circle cx="1025.8" cy="962.5" r="8.6"/><circle cx="1026.4" cy="896.9" r="8.6"/>
<circle cx="1025.9" cy="818.0" r="8.6"/><circle cx="1026.4" cy="830.9" r="8.6"/><circle cx="1026.7" cy="864.2" r="8.6"/><circle cx="1025.2" cy="991.3" r="8.6"/><circle cx="1025.0" cy="842.3" r="8.6"/><circle cx="1026.9" cy="984.1" r="8.6"/>
<circle cx="1030.2" cy="971.2" r="8.6"/><circle cx="1031.7" cy="975.7" r="8.6"/><circle cx="1030.6" cy="818.0" r="8.6"/><circle cx="1031.5" cy="973.6" r="8.6"/><circle cx="1031.0" cy="933.3" r="8.6"/><circle cx="1030.9" cy="842.3" r="8.6"/>
<circle cx="1030.1" cy="960.1" r="8.6"/><circle cx="1030.5" cy="889.6" r="8.6"/><circle cx="1031.5" cy="970.4" r="8.6"/><circle cx="1031.0" cy="883.5" r="8.6"/><circle cx="1035.6" cy="909.2" r="8.6"/><circle cx="1036.9" cy="907.8" r="8.6"/>
<circle cx="1035.8" cy="987.5" r="8.6"/><circle cx="1037.0" cy="936.6" r="8.6"/><circle cx="1036.2" cy="984.5" r="8.6"/><circle cx="1035.8" cy="978.1" r="8.6"/><circle cx="1036.2" cy="852.4" r="8.6"/><circle cx="1037.0" cy="983.9" r="8.6"/>
<circle cx="1036.5" cy="965.4" r="8.6"/><circle cx="1036.7" cy="921.6" r="8.6"/><circle cx="1036.2" cy="779.6" r="8.6"/><circle cx="1041.4" cy="992.0" r="8.6"/><circle cx="1041.4" cy="989.3" r="8.6"/><circle cx="1041.0" cy="982.5" r="8.6"/>
<circle cx="1041.8" cy="933.3" r="8.6"/><circle cx="1041.2" cy="987.1" r="8.6"/><circle cx="1040.9" cy="992.9" r="8.6"/><circle cx="1041.1" cy="985.1" r="8.6"/><circle cx="1041.1" cy="866.9" r="8.6"/><circle cx="1040.5" cy="845.8" r="8.6"/>
<circle cx="1041.5" cy="852.4" r="8.6"/><circle cx="1047.0" cy="934.2" r="8.6"/><circle cx="1047.2" cy="990.2" r="8.6"/><circle cx="1046.1" cy="834.9" r="8.6"/><circle cx="1045.5" cy="874.5" r="8.6"/><circle cx="1046.2" cy="960.9" r="8.6"/>
<circle cx="1046.2" cy="959.7" r="8.6"/><circle cx="1046.0" cy="901.8" r="8.6"/><circle cx="1046.8" cy="928.8" r="8.6"/><circle cx="1045.7" cy="826.8" r="8.6"/><circle cx="1047.1" cy="948.8" r="8.6"/><circle cx="1050.4" cy="813.3" r="8.6"/>
<circle cx="1050.5" cy="906.4" r="8.6"/><circle cx="1051.7" cy="982.2" r="8.6"/><circle cx="1050.3" cy="874.5" r="8.6"/><circle cx="1052.0" cy="941.1" r="8.6"/><circle cx="1051.3" cy="919.4" r="8.6"/><circle cx="1052.2" cy="961.3" r="8.6"/>
<circle cx="1052.0" cy="967.4" r="8.6"/><circle cx="1051.1" cy="989.9" r="8.6"/><circle cx="1050.9" cy="966.7" r="8.6"/><circle cx="1057.3" cy="980.6" r="8.6"/><circle cx="1056.0" cy="876.9" r="8.6"/><circle cx="1055.7" cy="932.4" r="8.6"/>
<circle cx="1055.8" cy="928.8" r="8.6"/><circle cx="1056.3" cy="985.0" r="8.6"/><circle cx="1055.6" cy="950.5" r="8.6"/><circle cx="1055.8" cy="967.7" r="8.6"/><circle cx="1056.8" cy="977.7" r="8.6"/><circle cx="1062.0" cy="947.7" r="8.6"/>
<circle cx="1061.2" cy="920.5" r="8.6"/><circle cx="1061.2" cy="993.7" r="8.6"/><circle cx="1060.5" cy="962.5" r="8.6"/><circle cx="1060.9" cy="915.8" r="8.6"/><circle cx="1067.1" cy="988.0" r="8.6"/><circle cx="1066.5" cy="968.0" r="8.6"/>
<circle cx="1066.3" cy="956.6" r="8.6"/><circle cx="1065.7" cy="959.7" r="8.6"/><circle cx="1066.4" cy="979.7" r="8.6"/><circle cx="1071.3" cy="969.5" r="8.6"/><circle cx="1072.1" cy="972.3" r="8.6"/><circle cx="1071.1" cy="963.6" r="8.6"/>
<circle cx="1072.4" cy="992.1" r="8.6"/><circle cx="1070.6" cy="920.5" r="8.6"/><circle cx="1076.8" cy="984.4" r="8.6"/><circle cx="1076.6" cy="974.1" r="8.6"/><circle cx="1075.9" cy="983.9" r="8.6"/><circle cx="1077.2" cy="994.3" r="8.6"/>
<circle cx="1077.5" cy="955.2" r="8.6"/><circle cx="1077.1" cy="883.5" r="8.6"/><circle cx="1081.7" cy="980.1" r="8.6"/><circle cx="1080.8" cy="960.5" r="8.6"/><circle cx="1082.1" cy="993.2" r="8.6"/><circle cx="1081.5" cy="996.4" r="8.6"/>
<circle cx="1081.8" cy="989.8" r="8.6"/><circle cx="1081.4" cy="900.2" r="8.6"/><circle cx="1087.6" cy="967.7" r="8.6"/><circle cx="1087.2" cy="973.1" r="8.6"/><circle cx="1086.7" cy="970.1" r="8.6"/><circle cx="1086.2" cy="956.6" r="8.6"/>
<circle cx="1086.0" cy="956.6" r="8.6"/><circle cx="1091.5" cy="988.6" r="8.6"/><circle cx="1091.1" cy="986.1" r="8.6"/><circle cx="1090.8" cy="921.6" r="8.6"/><circle cx="1092.4" cy="909.2" r="8.6"/><circle cx="1092.0" cy="992.6" r="8.6"/>
<circle cx="1096.2" cy="977.1" r="8.6"/><circle cx="1096.7" cy="972.3" r="8.6"/><circle cx="1096.9" cy="935.0" r="8.6"/><circle cx="1095.7" cy="939.7" r="8.6"/><circle cx="1096.2" cy="924.8" r="8.6"/><circle cx="1101.6" cy="889.6" r="8.6"/>
<circle cx="1101.6" cy="992.6" r="8.6"/><circle cx="1100.9" cy="956.1" r="8.6"/><circle cx="1101.8" cy="953.7" r="8.6"/><circle cx="1102.6" cy="982.3" r="8.6"/><circle cx="1106.0" cy="983.8" r="8.6"/><circle cx="1106.2" cy="943.9" r="8.6"/>
<circle cx="1107.1" cy="984.1" r="8.6"/><circle cx="1107.4" cy="983.3" r="8.6"/><circle cx="1106.1" cy="947.7" r="8.6"/><circle cx="1111.3" cy="918.2" r="8.6"/><circle cx="1112.3" cy="995.2" r="8.6"/><circle cx="1111.6" cy="1000.2" r="8.6"/>
<circle cx="1111.8" cy="898.6" r="8.6"/><circle cx="1111.5" cy="855.5" r="8.6"/><circle cx="1116.3" cy="955.7" r="8.6"/><circle cx="1116.0" cy="989.2" r="8.6"/><circle cx="1116.1" cy="938.9" r="8.6"/><circle cx="1116.1" cy="976.8" r="8.6"/>
<circle cx="1116.5" cy="945.8" r="8.6"/><circle cx="1121.2" cy="952.2" r="8.6"/><circle cx="1122.1" cy="983.3" r="8.6"/><circle cx="1121.5" cy="924.8" r="8.6"/><circle cx="1121.3" cy="927.8" r="8.6"/><circle cx="1122.9" cy="956.6" r="8.6"/>
<circle cx="1122.2" cy="826.8" r="8.6"/><circle cx="1126.3" cy="981.1" r="8.6"/><circle cx="1126.4" cy="963.6" r="8.6"/><circle cx="1126.3" cy="990.0" r="8.6"/><circle cx="1127.0" cy="938.9" r="8.6"/><circle cx="1128.0" cy="996.9" r="8.6"/>
<circle cx="1132.1" cy="982.8" r="8.6"/><circle cx="1131.8" cy="976.0" r="8.6"/><circle cx="1132.1" cy="979.3" r="8.6"/><circle cx="1131.3" cy="926.9" r="8.6"/><circle cx="1131.8" cy="962.9" r="8.6"/><circle cx="1132.1" cy="858.5" r="8.6"/>
<circle cx="1136.9" cy="938.9" r="8.6"/><circle cx="1137.4" cy="943.2" r="8.6"/><circle cx="1137.4" cy="996.5" r="8.6"/><circle cx="1137.4" cy="993.9" r="8.6"/><circle cx="1136.3" cy="970.9" r="8.6"/><circle cx="1143.1" cy="960.9" r="8.6"/>
<circle cx="1141.7" cy="881.4" r="8.6"/><circle cx="1142.9" cy="912.0" r="8.6"/><circle cx="1142.5" cy="967.4" r="8.6"/><circle cx="1143.0" cy="983.6" r="8.6"/><circle cx="1147.7" cy="983.9" r="8.6"/><circle cx="1147.5" cy="994.9" r="8.6"/>
<circle cx="1147.5" cy="989.2" r="8.6"/><circle cx="1146.5" cy="922.7" r="8.6"/><circle cx="1147.9" cy="955.7" r="8.6"/><circle cx="1152.7" cy="988.7" r="8.6"/><circle cx="1152.9" cy="944.5" r="8.6"/><circle cx="1151.8" cy="978.3" r="8.6"/>
<circle cx="1152.3" cy="983.5" r="8.6"/><circle cx="1151.3" cy="986.3" r="8.6"/><circle cx="1156.4" cy="973.3" r="8.6"/><circle cx="1156.8" cy="981.7" r="8.6"/><circle cx="1157.4" cy="939.7" r="8.6"/><circle cx="1156.9" cy="973.1" r="8.6"/>
<circle cx="1157.3" cy="917.0" r="8.6"/><circle cx="1163.1" cy="984.1" r="8.6"/><circle cx="1163.0" cy="952.2" r="8.6"/><circle cx="1162.6" cy="968.3" r="8.6"/><circle cx="1162.7" cy="900.2" r="8.6"/><circle cx="1161.7" cy="932.4" r="8.6"/>
<circle cx="1167.1" cy="961.7" r="8.6"/><circle cx="1167.2" cy="969.5" r="8.6"/><circle cx="1167.7" cy="872.1" r="8.6"/><circle cx="1167.3" cy="971.5" r="8.6"/><circle cx="1168.2" cy="958.0" r="8.6"/><circle cx="1166.8" cy="869.5" r="8.6"/>
<circle cx="1172.2" cy="976.2" r="8.6"/><circle cx="1173.1" cy="970.4" r="8.6"/><circle cx="1172.4" cy="962.1" r="8.6"/><circle cx="1171.6" cy="967.0" r="8.6"/><circle cx="1172.5" cy="975.0" r="8.6"/><circle cx="1171.8" cy="872.1" r="8.6"/>
<circle cx="1177.2" cy="943.2" r="8.6"/><circle cx="1176.8" cy="919.4" r="8.6"/><circle cx="1177.8" cy="965.7" r="8.6"/><circle cx="1177.0" cy="968.3" r="8.6"/><circle cx="1177.6" cy="979.1" r="8.6"/><circle cx="1177.9" cy="989.0" r="8.6"/>
<circle cx="1183.2" cy="947.7" r="8.6"/><circle cx="1182.5" cy="938.9" r="8.6"/><circle cx="1183.0" cy="1002.8" r="8.6"/><circle cx="1183.0" cy="966.7" r="8.6"/><circle cx="1182.5" cy="942.5" r="8.6"/><circle cx="1182.6" cy="989.9" r="8.6"/>
<circle cx="1188.2" cy="965.0" r="8.6"/><circle cx="1186.7" cy="989.0" r="8.6"/><circle cx="1188.0" cy="995.4" r="8.6"/><circle cx="1188.6" cy="999.0" r="8.6"/><circle cx="1187.9" cy="940.4" r="8.6"/><circle cx="1186.8" cy="1001.9" r="8.6"/>
<circle cx="1193.3" cy="903.4" r="8.6"/><circle cx="1192.1" cy="986.7" r="8.6"/><circle cx="1191.9" cy="942.5" r="8.6"/><circle cx="1193.7" cy="989.2" r="8.6"/><circle cx="1193.3" cy="995.4" r="8.6"/><circle cx="1191.8" cy="938.9" r="8.6"/>
<circle cx="1192.1" cy="896.9" r="8.6"/><circle cx="1197.5" cy="965.0" r="8.6"/><circle cx="1197.3" cy="952.7" r="8.6"/><circle cx="1196.8" cy="990.9" r="8.6"/><circle cx="1197.3" cy="982.8" r="8.6"/><circle cx="1198.2" cy="997.8" r="8.6"/>
<circle cx="1198.4" cy="985.0" r="8.6"/><circle cx="1202.3" cy="954.2" r="8.6"/><circle cx="1202.7" cy="955.7" r="8.6"/><circle cx="1202.1" cy="982.2" r="8.6"/><circle cx="1203.7" cy="981.5" r="8.6"/><circle cx="1202.8" cy="950.0" r="8.6"/>
<circle cx="1203.5" cy="979.9" r="8.6"/><circle cx="1202.4" cy="883.5" r="8.6"/><circle cx="1207.3" cy="975.7" r="8.6"/><circle cx="1207.9" cy="982.5" r="8.6"/><circle cx="1208.2" cy="974.6" r="8.6"/><circle cx="1207.5" cy="986.6" r="8.6"/>
<circle cx="1207.3" cy="988.2" r="8.6"/><circle cx="1207.1" cy="982.5" r="8.6"/><circle cx="1212.6" cy="984.7" r="8.6"/><circle cx="1212.2" cy="978.5" r="8.6"/><circle cx="1212.9" cy="970.1" r="8.6"/><circle cx="1213.2" cy="965.7" r="8.6"/>
<circle cx="1212.6" cy="938.9" r="8.6"/><circle cx="1213.4" cy="990.9" r="8.6"/><circle cx="1219.0" cy="988.9" r="8.6"/><circle cx="1218.2" cy="980.4" r="8.6"/><circle cx="1217.2" cy="967.0" r="8.6"/><circle cx="1217.6" cy="973.6" r="8.6"/>
<circle cx="1217.2" cy="989.9" r="8.6"/><circle cx="1218.0" cy="938.9" r="8.6"/><circle cx="1218.0" cy="988.1" r="8.6"/><circle cx="1223.8" cy="996.6" r="8.6"/><circle cx="1223.1" cy="981.1" r="8.6"/><circle cx="1223.3" cy="964.7" r="8.6"/>
<circle cx="1222.9" cy="907.8" r="8.6"/><circle cx="1222.7" cy="979.5" r="8.6"/><circle cx="1222.0" cy="981.1" r="8.6"/><circle cx="1222.5" cy="885.6" r="8.6"/><circle cx="1222.4" cy="954.7" r="8.6"/><circle cx="1228.5" cy="962.9" r="8.6"/>
<circle cx="1227.8" cy="963.6" r="8.6"/><circle cx="1228.2" cy="980.2" r="8.6"/><circle cx="1228.5" cy="959.3" r="8.6"/><circle cx="1228.2" cy="952.7" r="8.6"/><circle cx="1228.3" cy="891.5" r="8.6"/><circle cx="1227.8" cy="922.7" r="8.6"/>
<circle cx="1227.8" cy="947.0" r="8.6"/><circle cx="1233.7" cy="948.2" r="8.6"/><circle cx="1233.6" cy="858.5" r="8.6"/><circle cx="1234.0" cy="975.7" r="8.6"/><circle cx="1233.3" cy="858.5" r="8.6"/><circle cx="1232.8" cy="963.6" r="8.6"/>
<circle cx="1232.7" cy="943.2" r="8.6"/><circle cx="1232.6" cy="974.1" r="8.6"/><circle cx="1232.3" cy="883.5" r="8.6"/><circle cx="1238.7" cy="951.6" r="8.6"/><circle cx="1237.3" cy="940.4" r="8.6"/><circle cx="1238.6" cy="900.2" r="8.6"/>
<circle cx="1237.4" cy="855.5" r="8.6"/><circle cx="1237.9" cy="986.2" r="8.6"/><circle cx="1237.5" cy="995.2" r="8.6"/><circle cx="1237.3" cy="909.2" r="8.6"/><circle cx="1238.2" cy="907.8" r="8.6"/><circle cx="1243.4" cy="951.6" r="8.6"/>
<circle cx="1244.2" cy="895.1" r="8.6"/><circle cx="1242.4" cy="861.4" r="8.6"/><circle cx="1243.5" cy="956.6" r="8.6"/><circle cx="1242.3" cy="978.7" r="8.6"/><circle cx="1244.2" cy="872.1" r="8.6"/><circle cx="1242.6" cy="893.3" r="8.6"/>
<circle cx="1243.6" cy="971.5" r="8.6"/><circle cx="1243.5" cy="849.2" r="8.6"/><circle cx="1248.2" cy="988.9" r="8.6"/><circle cx="1247.7" cy="887.6" r="8.6"/><circle cx="1249.0" cy="990.1" r="8.6"/><circle cx="1248.4" cy="942.5" r="8.6"/>
<circle cx="1249.3" cy="981.3" r="8.6"/><circle cx="1249.1" cy="977.5" r="8.6"/><circle cx="1248.8" cy="953.2" r="8.6"/><circle cx="1248.7" cy="869.5" r="8.6"/><circle cx="1253.0" cy="913.3" r="8.6"/><circle cx="1252.8" cy="934.2" r="8.6"/>
<circle cx="1253.6" cy="891.5" r="8.6"/><circle cx="1253.6" cy="928.8" r="8.6"/><circle cx="1252.8" cy="872.1" r="8.6"/><circle cx="1253.8" cy="973.3" r="8.6"/><circle cx="1252.5" cy="975.0" r="8.6"/><circle cx="1252.4" cy="935.8" r="8.6"/>
<circle cx="1257.9" cy="982.7" r="8.6"/><circle cx="1258.4" cy="923.8" r="8.6"/><circle cx="1258.5" cy="977.5" r="8.6"/><circle cx="1257.4" cy="991.7" r="8.6"/><circle cx="1257.6" cy="926.9" r="8.6"/><circle cx="1257.8" cy="922.7" r="8.6"/>
<circle cx="1259.0" cy="906.4" r="8.6"/><circle cx="1259.0" cy="988.3" r="8.6"/><circle cx="1263.3" cy="990.9" r="8.6"/><circle cx="1263.8" cy="903.4" r="8.6"/><circle cx="1264.4" cy="989.5" r="8.6"/><circle cx="1263.5" cy="987.7" r="8.6"/>
<circle cx="1262.7" cy="874.5" r="8.6"/><circle cx="1263.8" cy="994.0" r="8.6"/><circle cx="1263.8" cy="927.8" r="8.6"/><circle cx="1263.6" cy="978.7" r="8.6"/><circle cx="1268.6" cy="940.4" r="8.6"/><circle cx="1269.3" cy="852.4" r="8.6"/>
<circle cx="1268.7" cy="992.5" r="8.6"/><circle cx="1268.8" cy="948.8" r="8.6"/><circle cx="1268.3" cy="989.2" r="8.6"/><circle cx="1269.2" cy="959.3" r="8.6"/><circle cx="1268.4" cy="961.7" r="8.6"/><circle cx="1267.8" cy="973.1" r="8.6"/>
<circle cx="1273.2" cy="922.7" r="8.6"/><circle cx="1273.9" cy="872.1" r="8.6"/><circle cx="1272.8" cy="985.8" r="8.6"/><circle cx="1273.3" cy="838.7" r="8.6"/><circle cx="1273.8" cy="907.8" r="8.6"/><circle cx="1274.1" cy="988.8" r="8.6"/>
<circle cx="1274.5" cy="750.4" r="8.6"/><circle cx="1274.2" cy="996.7" r="8.6"/><circle cx="1278.0" cy="976.8" r="8.6"/><circle cx="1279.5" cy="866.9" r="8.6"/><circle cx="1279.4" cy="979.7" r="8.6"/><circle cx="1278.2" cy="991.6" r="8.6"/>
<circle cx="1277.7" cy="948.2" r="8.6"/><circle cx="1278.9" cy="987.6" r="8.6"/><circle cx="1278.0" cy="982.5" r="8.6"/><circle cx="1279.4" cy="975.3" r="8.6"/><circle cx="1279.4" cy="980.6" r="8.6"/><circle cx="1279.2" cy="792.0" r="8.6"/>
<circle cx="1283.4" cy="966.1" r="8.6"/><circle cx="1283.2" cy="969.2" r="8.6"/><circle cx="1284.1" cy="876.9" r="8.6"/><circle cx="1284.1" cy="927.8" r="8.6"/><circle cx="1282.8" cy="915.8" r="8.6"/><circle cx="1283.8" cy="913.3" r="8.6"/>
<circle cx="1284.6" cy="933.3" r="8.6"/><circle cx="1283.9" cy="962.5" r="8.6"/><circle cx="1284.6" cy="779.6" r="8.6"/><circle cx="1288.3" cy="891.5" r="8.6"/><circle cx="1288.3" cy="864.2" r="8.6"/><circle cx="1288.6" cy="864.2" r="8.6"/>
<circle cx="1288.7" cy="907.8" r="8.6"/><circle cx="1287.9" cy="977.7" r="8.6"/><circle cx="1289.1" cy="895.1" r="8.6"/><circle cx="1287.8" cy="987.5" r="8.6"/><circle cx="1288.2" cy="928.8" r="8.6"/><circle cx="1288.9" cy="772.9" r="8.6"/>
<circle cx="1294.0" cy="987.4" r="8.6"/><circle cx="1293.4" cy="933.3" r="8.6"/><circle cx="1293.4" cy="792.0" r="8.6"/><circle cx="1292.8" cy="826.8" r="8.6"/><circle cx="1294.3" cy="869.5" r="8.6"/><circle cx="1293.5" cy="953.2" r="8.6"/>
<circle cx="1293.3" cy="989.9" r="8.6"/><circle cx="1293.2" cy="808.3" r="8.6"/><circle cx="1293.7" cy="993.1" r="8.6"/><circle cx="1299.1" cy="933.3" r="8.6"/><circle cx="1299.2" cy="975.5" r="8.6"/><circle cx="1299.4" cy="803.1" r="8.6"/>
<circle cx="1299.2" cy="924.8" r="8.6"/><circle cx="1299.4" cy="932.4" r="8.6"/><circle cx="1298.5" cy="925.9" r="8.6"/><circle cx="1299.4" cy="994.9" r="8.6"/><circle cx="1299.0" cy="852.4" r="8.6"/><circle cx="1299.7" cy="818.0" r="8.6"/>
<circle cx="1303.1" cy="976.2" r="8.6"/><circle cx="1303.5" cy="858.5" r="8.6"/><circle cx="1304.1" cy="939.7" r="8.6"/><circle cx="1304.7" cy="885.6" r="8.6"/><circle cx="1304.1" cy="893.3" r="8.6"/><circle cx="1303.3" cy="975.5" r="8.6"/>
<circle cx="1304.8" cy="930.7" r="8.6"/><circle cx="1304.4" cy="818.0" r="8.6"/><circle cx="1303.3" cy="964.0" r="8.6"/><circle cx="1308.4" cy="979.3" r="8.6"/><circle cx="1309.6" cy="855.5" r="8.6"/><circle cx="1309.6" cy="975.3" r="8.6"/>
<circle cx="1308.8" cy="984.2" r="8.6"/><circle cx="1309.4" cy="898.6" r="8.6"/><circle cx="1309.8" cy="887.6" r="8.6"/><circle cx="1309.7" cy="858.5" r="8.6"/><circle cx="1309.2" cy="842.3" r="8.6"/><circle cx="1309.1" cy="907.8" r="8.6"/>
<circle cx="1308.6" cy="732.9" r="8.6"/><circle cx="1314.0" cy="977.1" r="8.6"/><circle cx="1314.1" cy="861.4" r="8.6"/><circle cx="1314.5" cy="723.3" r="8.6"/><circle cx="1313.4" cy="942.5" r="8.6"/><circle cx="1313.1" cy="893.3" r="8.6"/>
<circle cx="1314.6" cy="765.8" r="8.6"/><circle cx="1314.3" cy="939.7" r="8.6"/><circle cx="1318.9" cy="958.4" r="8.6"/><circle cx="1318.7" cy="959.7" r="8.6"/><circle cx="1319.7" cy="922.7" r="8.6"/><circle cx="1318.6" cy="872.1" r="8.6"/>
<circle cx="1319.6" cy="970.9" r="8.6"/><circle cx="1318.9" cy="939.7" r="8.6"/><circle cx="1318.2" cy="939.7" r="8.6"/><circle cx="1319.2" cy="929.7" r="8.6"/><circle cx="1318.6" cy="978.3" r="8.6"/><circle cx="1324.9" cy="838.7" r="8.6"/>
<circle cx="1323.1" cy="981.1" r="8.6"/><circle cx="1323.7" cy="957.1" r="8.6"/><circle cx="1323.5" cy="935.8" r="8.6"/><circle cx="1324.6" cy="792.0" r="8.6"/><circle cx="1323.8" cy="980.4" r="8.6"/><circle cx="1324.8" cy="893.3" r="8.6"/>
<circle cx="1323.7" cy="962.9" r="8.6"/><circle cx="1323.3" cy="903.4" r="8.6"/><circle cx="1329.8" cy="942.5" r="8.6"/><circle cx="1329.4" cy="861.4" r="8.6"/><circle cx="1329.7" cy="935.0" r="8.6"/><circle cx="1329.1" cy="969.2" r="8.6"/>
<circle cx="1328.3" cy="974.3" r="8.6"/><circle cx="1328.9" cy="869.5" r="8.6"/><circle cx="1328.3" cy="976.4" r="8.6"/><circle cx="1328.3" cy="989.0" r="8.6"/><circle cx="1329.7" cy="842.3" r="8.6"/><circle cx="1334.9" cy="855.5" r="8.6"/>
<circle cx="1334.5" cy="808.3" r="8.6"/><circle cx="1334.3" cy="973.1" r="8.6"/><circle cx="1334.9" cy="933.3" r="8.6"/><circle cx="1333.3" cy="838.7" r="8.6"/><circle cx="1333.7" cy="792.0" r="8.6"/><circle cx="1334.1" cy="808.3" r="8.6"/>
<circle cx="1334.8" cy="861.4" r="8.6"/><circle cx="1340.0" cy="946.4" r="8.6"/><circle cx="1338.4" cy="964.7" r="8.6"/><circle cx="1338.7" cy="869.5" r="8.6"/><circle cx="1339.9" cy="957.1" r="8.6"/><circle cx="1339.8" cy="813.3" r="8.6"/>
<circle cx="1338.7" cy="779.6" r="8.6"/><circle cx="1339.4" cy="792.0" r="8.6"/><circle cx="1339.1" cy="975.7" r="8.6"/><circle cx="1339.7" cy="732.9" r="8.6"/><circle cx="1345.0" cy="964.7" r="8.6"/><circle cx="1345.2" cy="963.6" r="8.6"/>
<circle cx="1345.2" cy="950.0" r="8.6"/><circle cx="1344.0" cy="909.2" r="8.6"/><circle cx="1344.6" cy="954.7" r="8.6"/><circle cx="1343.7" cy="808.3" r="8.6"/><circle cx="1343.5" cy="909.2" r="8.6"/><circle cx="1343.3" cy="920.5" r="8.6"/>
<circle cx="1349.9" cy="874.5" r="8.6"/><circle cx="1349.1" cy="954.7" r="8.6"/><circle cx="1349.1" cy="907.8" r="8.6"/><circle cx="1350.2" cy="956.1" r="8.6"/><circle cx="1348.5" cy="885.6" r="8.6"/><circle cx="1349.9" cy="918.2" r="8.6"/>
<circle cx="1349.2" cy="792.0" r="8.6"/><circle cx="1349.4" cy="954.2" r="8.6"/><circle cx="1348.8" cy="772.9" r="8.6"/><circle cx="1353.5" cy="945.2" r="8.6"/><circle cx="1353.9" cy="864.2" r="8.6"/><circle cx="1353.8" cy="941.8" r="8.6"/>
<circle cx="1353.7" cy="758.3" r="8.6"/><circle cx="1354.2" cy="913.3" r="8.6"/><circle cx="1354.3" cy="942.5" r="8.6"/><circle cx="1354.6" cy="818.0" r="8.6"/><circle cx="1354.5" cy="864.2" r="8.6"/><circle cx="1354.7" cy="934.2" r="8.6"/>
<circle cx="1359.9" cy="910.6" r="8.6"/><circle cx="1360.0" cy="874.5" r="8.6"/><circle cx="1358.5" cy="910.6" r="8.6"/><circle cx="1359.1" cy="855.5" r="8.6"/><circle cx="1358.7" cy="881.4" r="8.6"/><circle cx="1360.1" cy="904.9" r="8.6"/>
<circle cx="1358.8" cy="826.8" r="8.6"/><circle cx="1360.3" cy="813.3" r="8.6"/><circle cx="1359.1" cy="838.7" r="8.6"/><circle cx="1365.2" cy="855.5" r="8.6"/><circle cx="1363.6" cy="797.7" r="8.6"/><circle cx="1364.0" cy="765.8" r="8.6"/>
<circle cx="1364.1" cy="822.5" r="8.6"/><circle cx="1364.5" cy="849.2" r="8.6"/><circle cx="1363.7" cy="765.8" r="8.6"/><circle cx="1364.3" cy="772.9" r="8.6"/><circle cx="1363.8" cy="813.3" r="8.6"/><circle cx="1369.9" cy="797.7" r="8.6"/>
<circle cx="1370.2" cy="885.6" r="8.6"/><circle cx="1368.9" cy="891.5" r="8.6"/><circle cx="1370.3" cy="765.8" r="8.6"/><circle cx="1369.6" cy="732.9" r="8.6"/><circle cx="1369.8" cy="866.9" r="8.6"/><circle cx="1370.3" cy="895.1" r="8.6"/>
<circle cx="1369.0" cy="803.1" r="8.6"/><circle cx="1375.2" cy="889.6" r="8.6"/><circle cx="1375.3" cy="864.2" r="8.6"/><circle cx="1373.6" cy="838.7" r="8.6"/><circle cx="1375.5" cy="915.8" r="8.6"/><circle cx="1373.6" cy="876.9" r="8.6"/>
<circle cx="1374.9" cy="826.8" r="8.6"/><circle cx="1373.7" cy="723.3" r="8.6"/><circle cx="1379.1" cy="927.8" r="8.6"/><circle cx="1379.5" cy="887.6" r="8.6"/><circle cx="1380.5" cy="919.4" r="8.6"/><circle cx="1379.8" cy="922.7" r="8.6"/>
<circle cx="1380.1" cy="909.2" r="8.6"/><circle cx="1378.7" cy="912.0" r="8.6"/><circle cx="1379.7" cy="845.8" r="8.6"/><circle cx="1380.0" cy="864.2" r="8.6"/><circle cx="1380.4" cy="919.4" r="8.6"/><circle cx="1384.2" cy="927.8" r="8.6"/>
<circle cx="1385.2" cy="907.8" r="8.6"/><circle cx="1385.2" cy="912.0" r="8.6"/><circle cx="1385.3" cy="858.5" r="8.6"/><circle cx="1384.7" cy="845.8" r="8.6"/><circle cx="1383.7" cy="912.0" r="8.6"/><circle cx="1383.7" cy="723.3" r="8.6"/>
<circle cx="1390.2" cy="906.4" r="8.6"/><circle cx="1389.2" cy="889.6" r="8.6"/><circle cx="1390.4" cy="876.9" r="8.6"/><circle cx="1390.6" cy="855.5" r="8.6"/><circle cx="1389.4" cy="903.4" r="8.6"/><circle cx="1390.3" cy="896.9" r="8.6"/>
<circle cx="1390.0" cy="808.3" r="8.6"/><circle cx="1389.8" cy="869.5" r="8.6"/><circle cx="1394.7" cy="906.4" r="8.6"/><circle cx="1394.1" cy="914.6" r="8.6"/><circle cx="1394.1" cy="874.5" r="8.6"/><circle cx="1394.4" cy="826.8" r="8.6"/>
<circle cx="1394.5" cy="866.9" r="8.6"/><circle cx="1395.6" cy="907.8" r="8.6"/><circle cx="1394.8" cy="896.9" r="8.6"/><circle cx="1394.8" cy="732.9" r="8.6"/><circle cx="1400.0" cy="830.9" r="8.6"/><circle cx="1399.0" cy="818.0" r="8.6"/>
<circle cx="1399.5" cy="723.3" r="8.6"/><circle cx="1399.1" cy="741.9" r="8.6"/><circle cx="1399.9" cy="822.5" r="8.6"/><circle cx="1399.2" cy="765.8" r="8.6"/><circle cx="1400.5" cy="849.2" r="8.6"/><circle cx="1399.0" cy="765.8" r="8.6"/>
<circle cx="1399.6" cy="842.3" r="8.6"/><circle cx="1404.7" cy="797.7" r="8.6"/><circle cx="1405.8" cy="723.3" r="8.6"/><circle cx="1404.0" cy="872.1" r="8.6"/><circle cx="1404.2" cy="913.3" r="8.6"/><circle cx="1404.9" cy="931.6" r="8.6"/>
<circle cx="1404.6" cy="885.6" r="8.6"/><circle cx="1404.0" cy="932.4" r="8.6"/><circle cx="1405.6" cy="797.7" r="8.6"/><circle cx="1405.5" cy="750.4" r="8.6"/><circle cx="1409.2" cy="909.2" r="8.6"/><circle cx="1409.7" cy="845.8" r="8.6"/>
<circle cx="1409.3" cy="900.2" r="8.6"/><circle cx="1410.5" cy="813.3" r="8.6"/><circle cx="1410.3" cy="932.4" r="8.6"/><circle cx="1409.2" cy="929.7" r="8.6"/><circle cx="1410.1" cy="893.3" r="8.6"/><circle cx="1410.7" cy="874.5" r="8.6"/>
<circle cx="1410.6" cy="885.6" r="8.6"/><circle cx="1414.7" cy="808.3" r="8.6"/><circle cx="1415.7" cy="937.4" r="8.6"/><circle cx="1415.5" cy="813.3" r="8.6"/><circle cx="1414.4" cy="779.6" r="8.6"/><circle cx="1415.6" cy="904.9" r="8.6"/>
<circle cx="1416.0" cy="813.3" r="8.6"/><circle cx="1414.7" cy="842.3" r="8.6"/><circle cx="1415.6" cy="885.6" r="8.6"/><circle cx="1415.4" cy="889.6" r="8.6"/><circle cx="1420.5" cy="876.9" r="8.6"/><circle cx="1420.9" cy="797.7" r="8.6"/>
<circle cx="1419.9" cy="909.2" r="8.6"/><circle cx="1420.0" cy="898.6" r="8.6"/><circle cx="1419.6" cy="808.3" r="8.6"/><circle cx="1419.5" cy="779.6" r="8.6"/><circle cx="1419.7" cy="874.5" r="8.6"/><circle cx="1419.5" cy="732.9" r="8.6"/>
<circle cx="1420.3" cy="879.1" r="8.6"/><circle cx="1424.6" cy="968.0" r="8.6"/><circle cx="1425.5" cy="966.4" r="8.6"/><circle cx="1426.0" cy="957.5" r="8.6"/><circle cx="1424.8" cy="974.1" r="8.6"/><circle cx="1425.1" cy="866.9" r="8.6"/>
<circle cx="1425.4" cy="838.7" r="8.6"/><circle cx="1425.6" cy="926.9" r="8.6"/><circle cx="1424.8" cy="968.9" r="8.6"/><circle cx="1424.6" cy="982.3" r="8.6"/><circle cx="1429.9" cy="950.0" r="8.6"/><circle cx="1430.9" cy="970.7" r="8.6"/>
<circle cx="1430.7" cy="758.3" r="8.6"/><circle cx="1431.1" cy="779.6" r="8.6"/><circle cx="1429.2" cy="900.2" r="8.6"/><circle cx="1431.1" cy="864.2" r="8.6"/><circle cx="1430.0" cy="964.3" r="8.6"/><circle cx="1430.8" cy="980.6" r="8.6"/>
<circle cx="1429.6" cy="858.5" r="8.6"/><circle cx="1434.8" cy="723.3" r="8.6"/><circle cx="1434.7" cy="967.4" r="8.6"/><circle cx="1435.3" cy="723.3" r="8.6"/><circle cx="1434.8" cy="826.8" r="8.6"/><circle cx="1436.0" cy="852.4" r="8.6"/>
<circle cx="1434.2" cy="976.2" r="8.6"/><circle cx="1434.7" cy="970.7" r="8.6"/><circle cx="1441.2" cy="834.9" r="8.6"/><circle cx="1440.9" cy="976.4" r="8.6"/><circle cx="1440.6" cy="786.0" r="8.6"/><circle cx="1440.0" cy="964.7" r="8.6"/>
<circle cx="1439.4" cy="874.5" r="8.6"/><circle cx="1440.6" cy="983.0" r="8.6"/><circle cx="1439.7" cy="858.5" r="8.6"/><circle cx="1440.7" cy="786.0" r="8.6"/><circle cx="1440.6" cy="852.4" r="8.6"/><circle cx="1444.4" cy="928.8" r="8.6"/>
<circle cx="1445.4" cy="866.9" r="8.6"/><circle cx="1446.1" cy="962.5" r="8.6"/><circle cx="1445.0" cy="934.2" r="8.6"/><circle cx="1445.6" cy="898.6" r="8.6"/><circle cx="1444.5" cy="976.0" r="8.6"/><circle cx="1450.9" cy="936.6" r="8.6"/>
<circle cx="1451.2" cy="964.0" r="8.6"/><circle cx="1450.4" cy="966.4" r="8.6"/><circle cx="1450.9" cy="898.6" r="8.6"/><circle cx="1450.9" cy="930.7" r="8.6"/><circle cx="1451.0" cy="973.1" r="8.6"/><circle cx="1450.6" cy="723.3" r="8.6"/>
<circle cx="1451.2" cy="915.8" r="8.6"/><circle cx="1450.9" cy="962.5" r="8.6"/><circle cx="1455.0" cy="858.5" r="8.6"/><circle cx="1454.7" cy="965.7" r="8.6"/><circle cx="1455.0" cy="936.6" r="8.6"/><circle cx="1454.7" cy="883.5" r="8.6"/>
<circle cx="1455.9" cy="948.2" r="8.6"/><circle cx="1456.3" cy="923.8" r="8.6"/><circle cx="1455.7" cy="907.8" r="8.6"/><circle cx="1454.9" cy="910.6" r="8.6"/><circle cx="1459.6" cy="903.4" r="8.6"/><circle cx="1459.6" cy="758.3" r="8.6"/>
<circle cx="1459.7" cy="956.6" r="8.6"/><circle cx="1460.3" cy="917.0" r="8.6"/><circle cx="1460.3" cy="973.1" r="8.6"/><circle cx="1461.3" cy="933.3" r="8.6"/><circle cx="1460.9" cy="965.0" r="8.6"/><circle cx="1460.0" cy="966.1" r="8.6"/>
<circle cx="1459.7" cy="941.8" r="8.6"/><circle cx="1465.2" cy="849.2" r="8.6"/><circle cx="1465.1" cy="923.8" r="8.6"/><circle cx="1465.2" cy="813.3" r="8.6"/><circle cx="1466.2" cy="909.2" r="8.6"/><circle cx="1465.6" cy="901.8" r="8.6"/>
<circle cx="1466.5" cy="966.1" r="8.6"/><circle cx="1465.1" cy="942.5" r="8.6"/><circle cx="1464.7" cy="872.1" r="8.6"/><circle cx="1466.0" cy="961.3" r="8.6"/><circle cx="1470.9" cy="941.1" r="8.6"/><circle cx="1470.9" cy="913.3" r="8.6"/>
<circle cx="1471.3" cy="955.2" r="8.6"/><circle cx="1471.4" cy="750.4" r="8.6"/><circle cx="1470.2" cy="723.3" r="8.6"/><circle cx="1470.2" cy="952.7" r="8.6"/><circle cx="1470.4" cy="901.8" r="8.6"/><circle cx="1470.1" cy="962.1" r="8.6"/>
<circle cx="1476.4" cy="979.1" r="8.6"/><circle cx="1475.2" cy="822.5" r="8.6"/><circle cx="1476.1" cy="958.4" r="8.6"/><circle cx="1474.9" cy="961.7" r="8.6"/><circle cx="1475.8" cy="786.0" r="8.6"/><circle cx="1476.1" cy="895.1" r="8.6"/>
<circle cx="1476.3" cy="907.8" r="8.6"/><circle cx="1474.7" cy="979.1" r="8.6"/><circle cx="1476.1" cy="732.9" r="8.6"/><circle cx="1481.2" cy="957.5" r="8.6"/><circle cx="1480.4" cy="765.8" r="8.6"/><circle cx="1481.5" cy="977.3" r="8.6"/>
<circle cx="1480.9" cy="898.6" r="8.6"/><circle cx="1480.7" cy="914.6" r="8.6"/><circle cx="1479.8" cy="838.7" r="8.6"/><circle cx="1480.6" cy="960.1" r="8.6"/><circle cx="1480.4" cy="792.0" r="8.6"/><circle cx="1485.4" cy="918.2" r="8.6"/>
<circle cx="1485.9" cy="978.7" r="8.6"/><circle cx="1486.3" cy="965.7" r="8.6"/><circle cx="1486.3" cy="895.1" r="8.6"/><circle cx="1485.6" cy="885.6" r="8.6"/><circle cx="1486.0" cy="965.0" r="8.6"/><circle cx="1484.8" cy="876.9" r="8.6"/>
<circle cx="1486.6" cy="959.7" r="8.6"/><circle cx="1486.1" cy="949.4" r="8.6"/><circle cx="1490.6" cy="803.1" r="8.6"/><circle cx="1490.9" cy="970.4" r="8.6"/><circle cx="1489.9" cy="947.0" r="8.6"/><circle cx="1490.8" cy="960.5" r="8.6"/>
<circle cx="1489.9" cy="874.5" r="8.6"/><circle cx="1491.6" cy="931.6" r="8.6"/><circle cx="1491.4" cy="765.8" r="8.6"/><circle cx="1490.0" cy="834.9" r="8.6"/><circle cx="1490.2" cy="792.0" r="8.6"/><circle cx="1496.3" cy="842.3" r="8.6"/>
<circle cx="1495.6" cy="970.7" r="8.6"/><circle cx="1496.4" cy="813.3" r="8.6"/><circle cx="1495.9" cy="903.4" r="8.6"/><circle cx="1496.0" cy="915.8" r="8.6"/><circle cx="1496.6" cy="964.3" r="8.6"/><circle cx="1495.2" cy="834.9" r="8.6"/>
<circle cx="1495.8" cy="933.3" r="8.6"/><circle cx="1495.5" cy="895.1" r="8.6"/><circle cx="1500.8" cy="929.7" r="8.6"/><circle cx="1500.3" cy="852.4" r="8.6"/><circle cx="1500.9" cy="750.4" r="8.6"/><circle cx="1501.8" cy="917.0" r="8.6"/>
<circle cx="1501.6" cy="967.4" r="8.6"/><circle cx="1501.5" cy="965.7" r="8.6"/><circle cx="1500.5" cy="919.4" r="8.6"/><circle cx="1500.4" cy="991.7" r="8.6"/><circle cx="1500.8" cy="976.2" r="8.6"/><circle cx="1505.4" cy="963.6" r="8.6"/>
<circle cx="1506.3" cy="976.2" r="8.6"/><circle cx="1506.6" cy="834.9" r="8.6"/><circle cx="1506.7" cy="772.9" r="8.6"/><circle cx="1505.5" cy="967.0" r="8.6"/><circle cx="1505.7" cy="910.6" r="8.6"/><circle cx="1505.2" cy="956.6" r="8.6"/>
<circle cx="1506.0" cy="957.1" r="8.6"/><circle cx="1506.7" cy="779.6" r="8.6"/><circle cx="1511.3" cy="887.6" r="8.6"/><circle cx="1510.9" cy="949.4" r="8.6"/><circle cx="1510.5" cy="849.2" r="8.6"/><circle cx="1511.7" cy="792.0" r="8.6"/>
<circle cx="1511.3" cy="808.3" r="8.6"/><circle cx="1511.3" cy="963.6" r="8.6"/><circle cx="1511.6" cy="813.3" r="8.6"/><circle cx="1510.0" cy="803.1" r="8.6"/><circle cx="1516.1" cy="852.4" r="8.6"/><circle cx="1515.3" cy="879.1" r="8.6"/>
<circle cx="1516.6" cy="980.6" r="8.6"/><circle cx="1516.4" cy="861.4" r="8.6"/><circle cx="1515.5" cy="947.0" r="8.6"/><circle cx="1517.0" cy="968.6" r="8.6"/><circle cx="1516.8" cy="963.2" r="8.6"/><circle cx="1515.8" cy="958.0" r="8.6"/>
<circle cx="1515.5" cy="822.5" r="8.6"/><circle cx="1520.6" cy="893.3" r="8.6"/><circle cx="1521.4" cy="922.7" r="8.6"/><circle cx="1521.9" cy="883.5" r="8.6"/><circle cx="1520.2" cy="723.3" r="8.6"/><circle cx="1520.8" cy="891.5" r="8.6"/>
<circle cx="1521.1" cy="960.5" r="8.6"/><circle cx="1520.9" cy="732.9" r="8.6"/><circle cx="1520.6" cy="965.0" r="8.6"/><circle cx="1525.6" cy="803.1" r="8.6"/><circle cx="1526.2" cy="869.5" r="8.6"/><circle cx="1525.9" cy="965.4" r="8.6"/>
<circle cx="1525.4" cy="951.1" r="8.6"/><circle cx="1526.4" cy="732.9" r="8.6"/><circle cx="1526.9" cy="900.2" r="8.6"/><circle cx="1526.2" cy="966.4" r="8.6"/><circle cx="1525.8" cy="933.3" r="8.6"/><circle cx="1526.1" cy="959.3" r="8.6"/>
<circle cx="1531.9" cy="893.3" r="8.6"/><circle cx="1531.5" cy="723.3" r="8.6"/><circle cx="1531.1" cy="960.5" r="8.6"/><circle cx="1530.7" cy="955.2" r="8.6"/><circle cx="1532.1" cy="910.6" r="8.6"/><circle cx="1530.9" cy="973.8" r="8.6"/>
<circle cx="1531.7" cy="978.3" r="8.6"/><circle cx="1531.5" cy="979.3" r="8.6"/><circle cx="1535.8" cy="906.4" r="8.6"/><circle cx="1535.3" cy="826.8" r="8.6"/><circle cx="1535.3" cy="976.8" r="8.6"/><circle cx="1536.3" cy="990.7" r="8.6"/>
<circle cx="1536.2" cy="885.6" r="8.6"/><circle cx="1535.6" cy="919.4" r="8.6"/><circle cx="1535.6" cy="792.0" r="8.6"/><circle cx="1535.7" cy="948.2" r="8.6"/><circle cx="1537.0" cy="772.9" r="8.6"/><circle cx="1540.8" cy="989.2" r="8.6"/>
<circle cx="1542.2" cy="896.9" r="8.6"/><circle cx="1541.9" cy="985.8" r="8.6"/><circle cx="1541.0" cy="723.3" r="8.6"/><circle cx="1541.4" cy="723.3" r="8.6"/><circle cx="1540.5" cy="986.6" r="8.6"/><circle cx="1540.4" cy="951.1" r="8.6"/>
<circle cx="1541.9" cy="985.9" r="8.6"/><circle cx="1546.9" cy="786.0" r="8.6"/><circle cx="1546.7" cy="991.0" r="8.6"/><circle cx="1546.2" cy="984.7" r="8.6"/><circle cx="1545.6" cy="961.7" r="8.6"/><circle cx="1545.7" cy="849.2" r="8.6"/>
<circle cx="1546.1" cy="976.6" r="8.6"/><circle cx="1546.3" cy="936.6" r="8.6"/><circle cx="1546.7" cy="972.6" r="8.6"/><circle cx="1547.1" cy="822.5" r="8.6"/><circle cx="1550.8" cy="852.4" r="8.6"/><circle cx="1552.0" cy="968.3" r="8.6"/>
<circle cx="1550.4" cy="1000.3" r="8.6"/><circle cx="1550.9" cy="975.5" r="8.6"/><circle cx="1551.0" cy="895.1" r="8.6"/><circle cx="1551.8" cy="974.1" r="8.6"/><circle cx="1552.4" cy="943.9" r="8.6"/><circle cx="1550.8" cy="981.0" r="8.6"/>
<circle cx="1551.4" cy="901.8" r="8.6"/><circle cx="1556.4" cy="765.8" r="8.6"/><circle cx="1556.3" cy="830.9" r="8.6"/><circle cx="1557.1" cy="919.4" r="8.6"/><circle cx="1555.9" cy="924.8" r="8.6"/><circle cx="1557.1" cy="964.3" r="8.6"/>
<circle cx="1555.6" cy="933.3" r="8.6"/><circle cx="1556.6" cy="982.7" r="8.6"/><circle cx="1557.3" cy="741.9" r="8.6"/><circle cx="1556.7" cy="965.7" r="8.6"/><circle cx="1561.1" cy="983.6" r="8.6"/><circle cx="1562.2" cy="909.2" r="8.6"/>
<circle cx="1561.6" cy="818.0" r="8.6"/><circle cx="1561.4" cy="970.7" r="8.6"/><circle cx="1561.2" cy="951.6" r="8.6"/><circle cx="1561.5" cy="932.4" r="8.6"/><circle cx="1562.1" cy="901.8" r="8.6"/><circle cx="1561.2" cy="987.5" r="8.6"/>
<circle cx="1560.8" cy="879.1" r="8.6"/><circle cx="1566.2" cy="822.5" r="8.6"/><circle cx="1565.6" cy="765.8" r="8.6"/><circle cx="1566.7" cy="970.4" r="8.6"/><circle cx="1566.8" cy="826.8" r="8.6"/><circle cx="1566.9" cy="772.9" r="8.6"/>
<circle cx="1565.9" cy="822.5" r="8.6"/><circle cx="1565.7" cy="985.4" r="8.6"/><circle cx="1565.7" cy="973.6" r="8.6"/><circle cx="1566.7" cy="845.8" r="8.6"/><circle cx="1570.9" cy="969.2" r="8.6"/><circle cx="1571.1" cy="861.4" r="8.6"/>
<circle cx="1572.2" cy="967.0" r="8.6"/><circle cx="1571.7" cy="952.7" r="8.6"/><circle cx="1571.9" cy="792.0" r="8.6"/><circle cx="1572.1" cy="998.0" r="8.6"/><circle cx="1571.8" cy="954.2" r="8.6"/><circle cx="1572.0" cy="986.1" r="8.6"/>
<circle cx="1571.0" cy="918.2" r="8.6"/><circle cx="1577.5" cy="927.8" r="8.6"/><circle cx="1576.9" cy="852.4" r="8.6"/><circle cx="1575.9" cy="786.0" r="8.6"/><circle cx="1576.0" cy="994.9" r="8.6"/><circle cx="1576.4" cy="842.3" r="8.6"/>
<circle cx="1576.1" cy="976.4" r="8.6"/><circle cx="1575.9" cy="935.8" r="8.6"/><circle cx="1577.2" cy="962.9" r="8.6"/><circle cx="1576.7" cy="797.7" r="8.6"/><circle cx="1581.1" cy="978.7" r="8.6"/><circle cx="1582.5" cy="934.2" r="8.6"/>
<circle cx="1582.6" cy="973.1" r="8.6"/><circle cx="1582.1" cy="933.3" r="8.6"/><circle cx="1582.6" cy="898.6" r="8.6"/><circle cx="1581.4" cy="858.5" r="8.6"/><circle cx="1580.9" cy="960.5" r="8.6"/><circle cx="1581.7" cy="849.2" r="8.6"/>
<circle cx="1582.7" cy="972.6" r="8.6"/><circle cx="1587.6" cy="861.4" r="8.6"/><circle cx="1587.2" cy="951.1" r="8.6"/><circle cx="1587.2" cy="979.1" r="8.6"/><circle cx="1587.6" cy="869.5" r="8.6"/><circle cx="1587.6" cy="779.6" r="8.6"/>
<circle cx="1586.5" cy="976.8" r="8.6"/><circle cx="1586.1" cy="997.1" r="8.6"/><circle cx="1586.5" cy="813.3" r="8.6"/><circle cx="1586.0" cy="792.0" r="8.6"/><circle cx="1591.9" cy="982.8" r="8.6"/><circle cx="1591.9" cy="950.0" r="8.6"/>
<circle cx="1592.2" cy="927.8" r="8.6"/><circle cx="1591.1" cy="861.4" r="8.6"/><circle cx="1592.7" cy="944.5" r="8.6"/><circle cx="1592.0" cy="989.2" r="8.6"/><circle cx="1592.8" cy="864.2" r="8.6"/><circle cx="1591.0" cy="869.5" r="8.6"/>
<circle cx="1592.3" cy="942.5" r="8.6"/><circle cx="1596.7" cy="979.3" r="8.6"/><circle cx="1597.2" cy="990.0" r="8.6"/><circle cx="1597.4" cy="803.1" r="8.6"/><circle cx="1596.6" cy="967.4" r="8.6"/><circle cx="1596.1" cy="951.6" r="8.6"/>
<circle cx="1597.3" cy="849.2" r="8.6"/><circle cx="1595.9" cy="992.3" r="8.6"/><circle cx="1597.7" cy="935.0" r="8.6"/><circle cx="1596.8" cy="855.5" r="8.6"/><circle cx="1601.9" cy="907.8" r="8.6"/><circle cx="1602.1" cy="917.0" r="8.6"/>
<circle cx="1601.1" cy="982.3" r="8.6"/><circle cx="1600.9" cy="979.9" r="8.6"/><circle cx="1602.2" cy="997.3" r="8.6"/><circle cx="1600.9" cy="993.8" r="8.6"/><circle cx="1601.9" cy="818.0" r="8.6"/><circle cx="1601.7" cy="994.2" r="8.6"/>
<circle cx="1602.7" cy="941.8" r="8.6"/><circle cx="1606.1" cy="909.2" r="8.6"/><circle cx="1607.2" cy="941.8" r="8.6"/><circle cx="1607.6" cy="879.1" r="8.6"/><circle cx="1606.7" cy="830.9" r="8.6"/><circle cx="1607.4" cy="866.9" r="8.6"/>
<circle cx="1607.4" cy="969.2" r="8.6"/><circle cx="1607.4" cy="822.5" r="8.6"/><circle cx="1606.3" cy="945.2" r="8.6"/><circle cx="1606.9" cy="961.3" r="8.6"/><circle cx="1612.6" cy="866.9" r="8.6"/><circle cx="1613.0" cy="964.7" r="8.6"/>
<circle cx="1611.2" cy="889.6" r="8.6"/><circle cx="1611.6" cy="887.6" r="8.6"/><circle cx="1612.6" cy="901.8" r="8.6"/><circle cx="1612.4" cy="945.8" r="8.6"/><circle cx="1612.6" cy="956.1" r="8.6"/><circle cx="1611.3" cy="887.6" r="8.6"/>
<circle cx="1611.9" cy="927.8" r="8.6"/><circle cx="1618.0" cy="855.5" r="8.6"/><circle cx="1617.9" cy="948.2" r="8.6"/><circle cx="1617.9" cy="879.1" r="8.6"/><circle cx="1616.8" cy="945.8" r="8.6"/><circle cx="1617.4" cy="962.5" r="8.6"/>
<circle cx="1616.6" cy="975.7" r="8.6"/><circle cx="1617.4" cy="977.1" r="8.6"/><circle cx="1617.2" cy="869.5" r="8.6"/><circle cx="1617.3" cy="921.6" r="8.6"/><circle cx="1622.9" cy="983.3" r="8.6"/><circle cx="1623.1" cy="962.9" r="8.6"/>
<circle cx="1621.5" cy="982.5" r="8.6"/><circle cx="1622.1" cy="906.4" r="8.6"/><circle cx="1622.4" cy="963.6" r="8.6"/><circle cx="1622.4" cy="872.1" r="8.6"/><circle cx="1621.3" cy="861.4" r="8.6"/><circle cx="1622.3" cy="974.6" r="8.6"/>
<circle cx="1623.0" cy="952.7" r="8.6"/><circle cx="1626.9" cy="993.4" r="8.6"/><circle cx="1627.1" cy="978.1" r="8.6"/><circle cx="1627.4" cy="924.8" r="8.6"/><circle cx="1627.2" cy="893.3" r="8.6"/><circle cx="1626.7" cy="858.5" r="8.6"/>
<circle cx="1626.8" cy="988.1" r="8.6"/><circle cx="1627.5" cy="978.5" r="8.6"/><circle cx="1626.3" cy="925.9" r="8.6"/><circle cx="1627.8" cy="907.8" r="8.6"/><circle cx="1633.1" cy="968.6" r="8.6"/><circle cx="1631.5" cy="977.3" r="8.6"/>
<circle cx="1632.8" cy="915.8" r="8.6"/><circle cx="1633.0" cy="924.8" r="8.6"/><circle cx="1632.6" cy="974.6" r="8.6"/><circle cx="1633.1" cy="943.2" r="8.6"/><circle cx="1631.8" cy="980.8" r="8.6"/><circle cx="1633.1" cy="941.1" r="8.6"/>
<circle cx="1632.8" cy="985.7" r="8.6"/><circle cx="1638.1" cy="991.3" r="8.6"/><circle cx="1637.4" cy="992.2" r="8.6"/><circle cx="1637.5" cy="992.6" r="8.6"/><circle cx="1637.5" cy="881.4" r="8.6"/><circle cx="1638.1" cy="918.2" r="8.6"/>
<circle cx="1637.0" cy="983.0" r="8.6"/><circle cx="1638.0" cy="970.7" r="8.6"/><circle cx="1637.3" cy="947.0" r="8.6"/><circle cx="1637.8" cy="976.4" r="8.6"/><circle cx="1642.4" cy="982.0" r="8.6"/><circle cx="1641.6" cy="934.2" r="8.6"/>
<circle cx="1642.3" cy="909.2" r="8.6"/><circle cx="1643.2" cy="989.7" r="8.6"/><circle cx="1642.8" cy="991.5" r="8.6"/><circle cx="1643.2" cy="912.0" r="8.6"/><circle cx="1642.9" cy="933.3" r="8.6"/><circle cx="1641.5" cy="936.6" r="8.6"/>
<circle cx="1642.1" cy="855.5" r="8.6"/><circle cx="1646.7" cy="938.2" r="8.6"/><circle cx="1646.7" cy="959.7" r="8.6"/><circle cx="1647.5" cy="901.8" r="8.6"/><circle cx="1647.3" cy="986.9" r="8.6"/><circle cx="1648.1" cy="967.0" r="8.6"/>
<circle cx="1648.1" cy="986.7" r="8.6"/><circle cx="1647.6" cy="907.8" r="8.6"/><circle cx="1647.3" cy="938.9" r="8.6"/><circle cx="1647.3" cy="990.7" r="8.6"/><circle cx="1652.2" cy="989.6" r="8.6"/><circle cx="1652.8" cy="818.0" r="8.6"/>
<circle cx="1653.2" cy="975.3" r="8.6"/><circle cx="1652.2" cy="947.0" r="8.6"/><circle cx="1653.1" cy="984.2" r="8.6"/><circle cx="1653.3" cy="990.1" r="8.6"/><circle cx="1653.4" cy="923.8" r="8.6"/><circle cx="1652.7" cy="898.6" r="8.6"/>
<circle cx="1653.1" cy="986.5" r="8.6"/><circle cx="1658.0" cy="983.3" r="8.6"/><circle cx="1656.6" cy="979.5" r="8.6"/><circle cx="1657.6" cy="958.0" r="8.6"/><circle cx="1658.1" cy="858.5" r="8.6"/><circle cx="1657.8" cy="885.6" r="8.6"/>
<circle cx="1657.3" cy="932.4" r="8.6"/><circle cx="1658.1" cy="779.6" r="8.6"/><circle cx="1658.3" cy="855.5" r="8.6"/><circle cx="1657.0" cy="907.8" r="8.6"/><circle cx="1662.6" cy="879.1" r="8.6"/><circle cx="1661.6" cy="974.1" r="8.6"/>
<circle cx="1663.1" cy="985.7" r="8.6"/><circle cx="1663.3" cy="995.4" r="8.6"/><circle cx="1661.8" cy="872.1" r="8.6"/><circle cx="1663.0" cy="973.8" r="8.6"/><circle cx="1661.7" cy="979.7" r="8.6"/><circle cx="1662.2" cy="966.7" r="8.6"/>
<circle cx="1662.1" cy="842.3" r="8.6"/><circle cx="1667.6" cy="792.0" r="8.6"/><circle cx="1668.2" cy="964.0" r="8.6"/><circle cx="1667.6" cy="980.6" r="8.6"/><circle cx="1666.9" cy="910.6" r="8.6"/><circle cx="1668.6" cy="830.9" r="8.6"/>
<circle cx="1668.3" cy="803.1" r="8.6"/><circle cx="1667.6" cy="913.3" r="8.6"/><circle cx="1667.3" cy="915.8" r="8.6"/><circle cx="1666.6" cy="869.5" r="8.6"/><circle cx="1673.5" cy="866.9" r="8.6"/><circle cx="1672.9" cy="883.5" r="8.6"/>
<circle cx="1672.2" cy="973.1" r="8.6"/><circle cx="1672.3" cy="983.1" r="8.6"/><circle cx="1672.3" cy="858.5" r="8.6"/><circle cx="1672.3" cy="872.1" r="8.6"/><circle cx="1673.5" cy="969.5" r="8.6"/><circle cx="1672.8" cy="973.8" r="8.6"/>
<circle cx="1672.9" cy="803.1" r="8.6"/><circle cx="1677.9" cy="966.4" r="8.6"/><circle cx="1678.4" cy="967.7" r="8.6"/><circle cx="1677.6" cy="978.5" r="8.6"/><circle cx="1677.8" cy="988.1" r="8.6"/><circle cx="1676.8" cy="876.9" r="8.6"/>
<circle cx="1678.6" cy="952.2" r="8.6"/><circle cx="1677.3" cy="845.8" r="8.6"/><circle cx="1678.0" cy="982.8" r="8.6"/><circle cx="1678.4" cy="994.6" r="8.6"/><circle cx="1683.3" cy="797.7" r="8.6"/><circle cx="1682.3" cy="842.3" r="8.6"/>
<circle cx="1683.0" cy="981.1" r="8.6"/><circle cx="1682.7" cy="937.4" r="8.6"/><circle cx="1683.4" cy="985.0" r="8.6"/><circle cx="1682.2" cy="996.6" r="8.6"/><circle cx="1683.7" cy="895.1" r="8.6"/><circle cx="1683.2" cy="992.3" r="8.6"/>
<circle cx="1683.0" cy="995.4" r="8.6"/><circle cx="1688.5" cy="826.8" r="8.6"/><circle cx="1688.0" cy="808.3" r="8.6"/><circle cx="1688.0" cy="984.5" r="8.6"/><circle cx="1687.0" cy="969.8" r="8.6"/><circle cx="1687.9" cy="813.3" r="8.6"/>
<circle cx="1687.4" cy="989.7" r="8.6"/><circle cx="1687.3" cy="969.5" r="8.6"/><circle cx="1688.7" cy="874.5" r="8.6"/><circle cx="1687.3" cy="866.9" r="8.6"/><circle cx="1692.1" cy="866.9" r="8.6"/><circle cx="1691.9" cy="895.1" r="8.6"/>
<circle cx="1692.1" cy="864.2" r="8.6"/><circle cx="1692.1" cy="933.3" r="8.6"/><circle cx="1692.5" cy="913.3" r="8.6"/><circle cx="1693.4" cy="758.3" r="8.6"/><circle cx="1693.0" cy="750.4" r="8.6"/><circle cx="1692.2" cy="988.8" r="8.6"/>
<circle cx="1693.1" cy="966.4" r="8.6"/><circle cx="1697.0" cy="977.5" r="8.6"/><circle cx="1697.6" cy="872.1" r="8.6"/><circle cx="1698.0" cy="943.9" r="8.6"/><circle cx="1697.5" cy="993.0" r="8.6"/><circle cx="1698.5" cy="750.4" r="8.6"/>
<circle cx="1697.9" cy="968.3" r="8.6"/><circle cx="1697.4" cy="977.7" r="8.6"/><circle cx="1698.0" cy="980.8" r="8.6"/><circle cx="1697.2" cy="991.3" r="8.6"/><circle cx="1703.1" cy="926.9" r="8.6"/><circle cx="1703.1" cy="803.1" r="8.6"/>
<circle cx="1702.2" cy="978.9" r="8.6"/><circle cx="1702.0" cy="876.9" r="8.6"/><circle cx="1702.9" cy="830.9" r="8.6"/><circle cx="1703.6" cy="723.3" r="8.6"/><circle cx="1704.0" cy="885.6" r="8.6"/><circle cx="1702.3" cy="962.5" r="8.6"/>
<circle cx="1708.4" cy="945.2" r="8.6"/><circle cx="1708.9" cy="961.7" r="8.6"/><circle cx="1708.2" cy="948.2" r="8.6"/><circle cx="1708.1" cy="758.3" r="8.6"/><circle cx="1708.2" cy="970.9" r="8.6"/><circle cx="1707.1" cy="975.7" r="8.6"/>
<circle cx="1707.7" cy="953.2" r="8.6"/><circle cx="1708.0" cy="990.2" r="8.6"/><circle cx="1708.1" cy="907.8" r="8.6"/><circle cx="1712.9" cy="989.0" r="8.6"/><circle cx="1713.4" cy="946.4" r="8.6"/><circle cx="1713.6" cy="732.9" r="8.6"/>
<circle cx="1712.5" cy="995.1" r="8.6"/><circle cx="1713.2" cy="830.9" r="8.6"/><circle cx="1713.7" cy="838.7" r="8.6"/><circle cx="1714.0" cy="872.1" r="8.6"/><circle cx="1712.6" cy="826.8" r="8.6"/><circle cx="1712.7" cy="779.6" r="8.6"/>
<circle cx="1718.1" cy="975.3" r="8.6"/><circle cx="1717.8" cy="861.4" r="8.6"/><circle cx="1718.5" cy="808.3" r="8.6"/><circle cx="1718.5" cy="977.9" r="8.6"/><circle cx="1717.1" cy="977.7" r="8.6"/><circle cx="1718.0" cy="959.3" r="8.6"/>
<circle cx="1717.7" cy="983.6" r="8.6"/><circle cx="1718.4" cy="864.2" r="8.6"/><circle cx="1718.8" cy="951.6" r="8.6"/><circle cx="1724.0" cy="982.8" r="8.6"/><circle cx="1723.1" cy="957.5" r="8.6"/><circle cx="1723.7" cy="957.1" r="8.6"/>
<circle cx="1722.2" cy="980.8" r="8.6"/><circle cx="1723.2" cy="803.1" r="8.6"/><circle cx="1723.9" cy="947.7" r="8.6"/><circle cx="1722.2" cy="917.0" r="8.6"/><circle cx="1723.7" cy="962.1" r="8.6"/><circle cx="1723.1" cy="986.6" r="8.6"/>
<circle cx="1727.9" cy="967.7" r="8.6"/><circle cx="1727.6" cy="979.1" r="8.6"/><circle cx="1727.3" cy="972.8" r="8.6"/><circle cx="1728.0" cy="919.4" r="8.6"/><circle cx="1727.7" cy="765.8" r="8.6"/><circle cx="1727.9" cy="936.6" r="8.6"/>
<circle cx="1727.9" cy="723.3" r="8.6"/><circle cx="1728.8" cy="723.3" r="8.6"/><circle cx="1728.1" cy="964.7" r="8.6"/><circle cx="1733.7" cy="935.0" r="8.6"/><circle cx="1732.3" cy="931.6" r="8.6"/><circle cx="1733.1" cy="797.7" r="8.6"/>
<circle cx="1732.9" cy="980.8" r="8.6"/><circle cx="1733.1" cy="876.9" r="8.6"/><circle cx="1733.3" cy="987.3" r="8.6"/><circle cx="1733.9" cy="967.0" r="8.6"/><circle cx="1733.3" cy="864.2" r="8.6"/><circle cx="1732.7" cy="903.4" r="8.6"/>
<circle cx="1738.6" cy="915.8" r="8.6"/><circle cx="1738.0" cy="920.5" r="8.6"/><circle cx="1738.5" cy="983.6" r="8.6"/><circle cx="1739.2" cy="813.3" r="8.6"/><circle cx="1737.7" cy="803.1" r="8.6"/><circle cx="1737.8" cy="921.6" r="8.6"/>
<circle cx="1738.7" cy="906.4" r="8.6"/><circle cx="1738.8" cy="909.2" r="8.6"/><circle cx="1738.3" cy="772.9" r="8.6"/><circle cx="1743.4" cy="975.3" r="8.6"/><circle cx="1743.3" cy="852.4" r="8.6"/><circle cx="1743.8" cy="872.1" r="8.6"/>
<circle cx="1743.5" cy="925.9" r="8.6"/><circle cx="1743.2" cy="914.6" r="8.6"/><circle cx="1744.1" cy="842.3" r="8.6"/><circle cx="1742.8" cy="864.2" r="8.6"/><circle cx="1743.4" cy="985.9" r="8.6"/><circle cx="1742.5" cy="797.7" r="8.6"/>
<circle cx="1748.8" cy="741.9" r="8.6"/><circle cx="1748.3" cy="976.0" r="8.6"/><circle cx="1747.7" cy="982.2" r="8.6"/><circle cx="1747.6" cy="956.6" r="8.6"/><circle cx="1748.2" cy="918.2" r="8.6"/><circle cx="1748.7" cy="861.4" r="8.6"/>
<circle cx="1749.2" cy="792.0" r="8.6"/><circle cx="1748.2" cy="947.7" r="8.6"/><circle cx="1753.6" cy="984.4" r="8.6"/><circle cx="1753.2" cy="869.5" r="8.6"/><circle cx="1752.9" cy="786.0" r="8.6"/><circle cx="1753.1" cy="741.9" r="8.6"/>
<circle cx="1754.3" cy="984.8" r="8.6"/><circle cx="1753.5" cy="919.4" r="8.6"/><circle cx="1754.4" cy="855.5" r="8.6"/><circle cx="1758.2" cy="786.0" r="8.6"/><circle cx="1758.2" cy="985.0" r="8.6"/><circle cx="1758.7" cy="772.9" r="8.6"/>
<circle cx="1759.2" cy="772.9" r="8.6"/><circle cx="1759.2" cy="966.4" r="8.6"/><circle cx="1758.3" cy="872.1" r="8.6"/><circle cx="1759.3" cy="872.1" r="8.6"/><circle cx="1759.5" cy="792.0" r="8.6"/><circle cx="1757.8" cy="723.3" r="8.6"/>
<circle cx="1763.8" cy="934.2" r="8.6"/><circle cx="1764.2" cy="893.3" r="8.6"/><circle cx="1764.0" cy="988.3" r="8.6"/><circle cx="1763.0" cy="855.5" r="8.6"/><circle cx="1764.1" cy="960.1" r="8.6"/><circle cx="1764.2" cy="936.6" r="8.6"/>
<circle cx="1763.5" cy="968.3" r="8.6"/><circle cx="1769.5" cy="960.5" r="8.6"/><circle cx="1768.4" cy="903.4" r="8.6"/><circle cx="1767.9" cy="943.2" r="8.6"/><circle cx="1769.6" cy="779.6" r="8.6"/><circle cx="1768.2" cy="947.0" r="8.6"/>
<circle cx="1769.3" cy="910.6" r="8.6"/><circle cx="1769.5" cy="962.9" r="8.6"/><circle cx="1769.1" cy="883.5" r="8.6"/><circle cx="1768.2" cy="842.3" r="8.6"/><circle cx="1773.9" cy="917.0" r="8.6"/><circle cx="1773.0" cy="973.6" r="8.6"/>
<circle cx="1774.5" cy="765.8" r="8.6"/><circle cx="1773.0" cy="963.6" r="8.6"/><circle cx="1774.1" cy="965.0" r="8.6"/><circle cx="1773.7" cy="970.4" r="8.6"/><circle cx="1774.4" cy="792.0" r="8.6"/><circle cx="1772.9" cy="946.4" r="8.6"/>
<circle cx="1773.0" cy="965.7" r="8.6"/>
</g>
<g fill="#0000ff">
<circle cx="428.8" cy="128.4" r="8.6"/><circle cx="418.9" cy="209.5" r="8.6"/><circle cx="441.4" cy="209.5" r="8.6"/><circle cx="480.5" cy="209.5" r="8.6"/><circle cx="433.6" cy="277.1" r="8.6"/><circle cx="439.9" cy="277.1" r="8.6"/>
<circle cx="405.2" cy="334.3" r="8.6"/><circle cx="411.5" cy="334.3" r="8.6"/><circle cx="436.8" cy="334.3" r="8.6"/><circle cx="443.1" cy="334.3" r="8.6"/><circle cx="440.6" cy="383.4" r="8.6"/><circle cx="433.6" cy="425.9" r="8.6"/>
<circle cx="385.2" cy="463.0" r="8.6"/><circle cx="401.0" cy="463.0" r="8.6"/><circle cx="409.4" cy="463.0" r="8.6"/><circle cx="437.2" cy="463.0" r="8.6"/><circle cx="489.0" cy="463.0" r="8.6"/><circle cx="323.6" cy="495.9" r="8.6"/>
<circle cx="391.5" cy="495.9" r="8.6"/><circle cx="418.9" cy="495.9" r="8.6"/><circle cx="485.2" cy="495.9" r="8.6"/><circle cx="535.7" cy="495.9" r="8.6"/><circle cx="544.1" cy="495.9" r="8.6"/><circle cx="410.5" cy="525.0" r="8.6"/>
<circle cx="421.0" cy="525.0" r="8.6"/><circle cx="534.6" cy="525.0" r="8.6"/><circle cx="424.1" cy="551.1" r="8.6"/><circle cx="431.5" cy="551.1" r="8.6"/><circle cx="439.9" cy="551.1" r="8.6"/><circle cx="423.1" cy="574.6" r="8.6"/>
<circle cx="497.8" cy="574.6" r="8.6"/><circle cx="529.4" cy="574.6" r="8.6"/><circle cx="855.8" cy="425.9" r="8.6"/><circle cx="878.7" cy="525.0" r="8.6"/><circle cx="889.4" cy="525.0" r="8.6"/><circle cx="1379.2" cy="128.4" r="8.6"/>
<circle cx="1384.7" cy="128.4" r="8.6"/><circle cx="1512.3" cy="128.4" r="8.6"/><circle cx="1393.7" cy="277.1" r="8.6"/><circle cx="1386.0" cy="334.3" r="8.6"/><circle cx="1419.7" cy="463.0" r="8.6"/><circle cx="1381.4" cy="495.9" r="8.6"/>
<circle cx="1389.6" cy="495.9" r="8.6"/><circle cx="1380.8" cy="551.1" r="8.6"/><circle cx="1395.1" cy="551.1" r="8.6"/><circle cx="1404.7" cy="551.1" r="8.6"/><circle cx="1389.0" cy="574.6" r="8.6"/><circle cx="1402.7" cy="574.6" r="8.6"/>
<circle cx="1362.2" cy="595.8" r="8.6"/><circle cx="1391.0" cy="595.8" r="8.6"/><circle cx="1401.9" cy="595.8" r="8.6"/><circle cx="1347.9" cy="615.2" r="8.6"/><circle cx="1360.8" cy="615.2" r="8.6"/><circle cx="1345.8" cy="632.8" r="8.6"/>
<circle cx="1359.5" cy="632.8" r="8.6"/><circle cx="1367.1" cy="632.8" r="8.6"/><circle cx="1674.0" cy="632.8" r="8.6"/><circle cx="1381.4" cy="649.0" r="8.6"/><circle cx="1388.2" cy="649.0" r="8.6"/><circle cx="1483.3" cy="649.0" r="8.6"/>
<circle cx="1401.9" cy="663.8" r="8.6"/><circle cx="1443.0" cy="663.8" r="8.6"/><circle cx="1757.5" cy="663.8" r="8.6"/><circle cx="1386.8" cy="677.6" r="8.6"/><circle cx="1420.3" cy="677.6" r="8.6"/><circle cx="1768.2" cy="677.6" r="8.6"/>
<circle cx="1421.9" cy="690.3" r="8.6"/><circle cx="1360.8" cy="702.1" r="8.6"/><circle cx="1369.0" cy="702.1" r="8.6"/><circle cx="1393.7" cy="702.1" r="8.6"/><circle cx="1548.5" cy="702.1" r="8.6"/><circle cx="1757.5" cy="702.1" r="8.6"/>
<circle cx="1380.8" cy="713.1" r="8.6"/><circle cx="1404.7" cy="713.1" r="8.6"/><circle cx="1527.9" cy="713.1" r="8.6"/><circle cx="1764.9" cy="713.1" r="8.6"/><circle cx="325.4" cy="595.8" r="8.6"/><circle cx="431.0" cy="595.8" r="8.6"/>
<circle cx="508.9" cy="595.8" r="8.6"/><circle cx="414.3" cy="615.2" r="8.6"/><circle cx="429.9" cy="615.2" r="8.6"/><circle cx="495.4" cy="615.2" r="8.6"/><circle cx="516.2" cy="615.2" r="8.6"/><circle cx="585.2" cy="615.2" r="8.6"/>
<circle cx="533.9" cy="632.8" r="8.6"/><circle cx="390.9" cy="649.0" r="8.6"/><circle cx="412.9" cy="649.0" r="8.6"/><circle cx="439.3" cy="649.0" r="8.6"/><circle cx="383.6" cy="663.8" r="8.6"/><circle cx="407.7" cy="663.8" r="8.6"/>
<circle cx="433.1" cy="663.8" r="8.6"/><circle cx="443.5" cy="663.8" r="8.6"/><circle cx="499.6" cy="663.8" r="8.6"/><circle cx="534.5" cy="663.8" r="8.6"/><circle cx="388.4" cy="677.6" r="8.6"/><circle cx="414.3" cy="677.6" r="8.6"/>
<circle cx="428.9" cy="677.6" r="8.6"/><circle cx="530.8" cy="690.3" r="8.6"/><circle cx="542.2" cy="690.3" r="8.6"/><circle cx="588.6" cy="690.3" r="8.6"/><circle cx="645.5" cy="690.3" r="8.6"/><circle cx="324.9" cy="702.1" r="8.6"/>
<circle cx="419.5" cy="702.1" r="8.6"/><circle cx="528.7" cy="702.1" r="8.6"/><circle cx="616.4" cy="702.1" r="8.6"/><circle cx="408.1" cy="713.1" r="8.6"/><circle cx="455.9" cy="713.1" r="8.6"/><circle cx="481.9" cy="713.1" r="8.6"/>
<circle cx="903.6" cy="574.6" r="8.6"/><circle cx="854.7" cy="615.2" r="8.6"/><circle cx="912.3" cy="615.2" r="8.6"/><circle cx="806.0" cy="649.0" r="8.6"/><circle cx="881.8" cy="649.0" r="8.6"/><circle cx="913.9" cy="649.0" r="8.6"/>
<circle cx="833.4" cy="663.8" r="8.6"/><circle cx="844.4" cy="663.8" r="8.6"/><circle cx="878.0" cy="663.8" r="8.6"/><circle cx="905.2" cy="663.8" r="8.6"/><circle cx="835.9" cy="677.6" r="8.6"/><circle cx="866.8" cy="677.6" r="8.6"/>
<circle cx="881.8" cy="690.3" r="8.6"/><circle cx="903.6" cy="690.3" r="8.6"/><circle cx="916.1" cy="690.3" r="8.6"/><circle cx="819.4" cy="702.1" r="8.6"/><circle cx="847.5" cy="702.1" r="8.6"/><circle cx="872.4" cy="713.1" r="8.6"/>
<circle cx="897.4" cy="713.1" r="8.6"/><circle cx="905.2" cy="713.1" r="8.6"/><circle cx="319.6" cy="889.6" r="8.6"/><circle cx="318.6" cy="910.6" r="8.6"/><circle cx="319.0" cy="855.5" r="8.6"/><circle cx="317.8" cy="838.7" r="8.6"/>
<circle cx="319.1" cy="996.0" r="8.6"/><circle cx="319.0" cy="971.5" r="8.6"/><circle cx="319.7" cy="915.8" r="8.6"/><circle cx="319.3" cy="874.5" r="8.6"/><circle cx="318.3" cy="907.8" r="8.6"/><circle cx="318.5" cy="896.9" r="8.6"/>
<circle cx="319.0" cy="918.2" r="8.6"/><circle cx="324.7" cy="958.4" r="8.6"/><circle cx="323.7" cy="929.7" r="8.6"/><circle cx="323.7" cy="977.3" r="8.6"/><circle cx="322.9" cy="983.1" r="8.6"/><circle cx="323.0" cy="943.9" r="8.6"/>
<circle cx="323.4" cy="980.6" r="8.6"/><circle cx="323.3" cy="981.0" r="8.6"/><circle cx="324.4" cy="927.8" r="8.6"/><circle cx="323.1" cy="900.2" r="8.6"/><circle cx="322.8" cy="975.7" r="8.6"/><circle cx="324.7" cy="936.6" r="8.6"/>
<circle cx="323.8" cy="750.4" r="8.6"/><circle cx="329.1" cy="906.4" r="8.6"/><circle cx="328.5" cy="909.2" r="8.6"/><circle cx="328.9" cy="864.2" r="8.6"/><circle cx="328.1" cy="947.0" r="8.6"/><circle cx="327.8" cy="966.4" r="8.6"/>
<circle cx="329.7" cy="893.3" r="8.6"/><circle cx="329.1" cy="864.2" r="8.6"/><circle cx="328.9" cy="855.5" r="8.6"/><circle cx="329.7" cy="895.1" r="8.6"/><circle cx="328.7" cy="967.0" r="8.6"/><circle cx="329.5" cy="866.9" r="8.6"/>
<circle cx="329.5" cy="885.6" r="8.6"/><circle cx="333.1" cy="912.0" r="8.6"/><circle cx="334.6" cy="934.2" r="8.6"/><circle cx="334.8" cy="861.4" r="8.6"/><circle cx="333.3" cy="874.5" r="8.6"/><circle cx="334.8" cy="988.6" r="8.6"/>
<circle cx="333.7" cy="883.5" r="8.6"/><circle cx="333.8" cy="976.2" r="8.6"/><circle cx="334.8" cy="982.8" r="8.6"/><circle cx="334.5" cy="959.3" r="8.6"/><circle cx="333.2" cy="879.1" r="8.6"/><circle cx="333.7" cy="855.5" r="8.6"/>
<circle cx="339.6" cy="990.8" r="8.6"/><circle cx="338.7" cy="938.2" r="8.6"/><circle cx="338.9" cy="976.8" r="8.6"/><circle cx="339.3" cy="988.0" r="8.6"/><circle cx="339.9" cy="958.8" r="8.6"/><circle cx="338.6" cy="907.8" r="8.6"/>
<circle cx="339.6" cy="969.2" r="8.6"/><circle cx="339.3" cy="954.2" r="8.6"/><circle cx="339.2" cy="991.5" r="8.6"/><circle cx="338.7" cy="914.6" r="8.6"/><circle cx="338.6" cy="947.0" r="8.6"/><circle cx="338.0" cy="864.2" r="8.6"/>
<circle cx="338.2" cy="818.0" r="8.6"/><circle cx="343.4" cy="907.8" r="8.6"/><circle cx="343.0" cy="885.6" r="8.6"/><circle cx="343.2" cy="855.5" r="8.6"/><circle cx="343.7" cy="982.3" r="8.6"/><circle cx="343.2" cy="976.6" r="8.6"/>
<circle cx="344.6" cy="887.6" r="8.6"/><circle cx="344.1" cy="900.2" r="8.6"/><circle cx="344.2" cy="991.6" r="8.6"/><circle cx="344.2" cy="887.6" r="8.6"/><circle cx="344.3" cy="885.6" r="8.6"/><circle cx="343.9" cy="887.6" r="8.6"/>
<circle cx="343.0" cy="786.0" r="8.6"/><circle cx="348.7" cy="917.0" r="8.6"/><circle cx="348.6" cy="950.0" r="8.6"/><circle cx="349.7" cy="948.2" r="8.6"/><circle cx="348.0" cy="939.7" r="8.6"/><circle cx="349.5" cy="901.8" r="8.6"/>
<circle cx="349.7" cy="834.9" r="8.6"/><circle cx="348.3" cy="964.7" r="8.6"/><circle cx="349.9" cy="864.2" r="8.6"/><circle cx="349.4" cy="885.6" r="8.6"/><circle cx="349.8" cy="903.4" r="8.6"/><circle cx="348.6" cy="968.0" r="8.6"/>
<circle cx="348.8" cy="927.8" r="8.6"/><circle cx="348.8" cy="826.8" r="8.6"/><circle cx="355.0" cy="972.0" r="8.6"/><circle cx="353.3" cy="822.5" r="8.6"/><circle cx="354.1" cy="913.3" r="8.6"/><circle cx="354.3" cy="786.0" r="8.6"/>
<circle cx="354.8" cy="922.7" r="8.6"/><circle cx="353.5" cy="981.0" r="8.6"/><circle cx="353.6" cy="941.1" r="8.6"/><circle cx="353.6" cy="957.5" r="8.6"/><circle cx="353.9" cy="891.5" r="8.6"/><circle cx="354.0" cy="943.2" r="8.6"/>
<circle cx="355.0" cy="941.8" r="8.6"/><circle cx="354.8" cy="948.8" r="8.6"/><circle cx="354.8" cy="786.0" r="8.6"/><circle cx="359.1" cy="920.5" r="8.6"/><circle cx="358.5" cy="855.5" r="8.6"/><circle cx="360.1" cy="929.7" r="8.6"/>
<circle cx="358.7" cy="830.9" r="8.6"/><circle cx="359.8" cy="889.6" r="8.6"/><circle cx="358.6" cy="924.8" r="8.6"/><circle cx="358.6" cy="900.2" r="8.6"/><circle cx="359.6" cy="893.3" r="8.6"/><circle cx="358.7" cy="845.8" r="8.6"/>
<circle cx="360.0" cy="950.5" r="8.6"/><circle cx="359.1" cy="942.5" r="8.6"/><circle cx="358.5" cy="876.9" r="8.6"/><circle cx="364.7" cy="949.4" r="8.6"/><circle cx="365.0" cy="959.3" r="8.6"/><circle cx="364.4" cy="950.0" r="8.6"/>
<circle cx="365.1" cy="946.4" r="8.6"/><circle cx="363.2" cy="879.1" r="8.6"/><circle cx="363.6" cy="991.5" r="8.6"/><circle cx="364.1" cy="981.0" r="8.6"/><circle cx="365.1" cy="893.3" r="8.6"/><circle cx="365.1" cy="866.9" r="8.6"/>
<circle cx="363.9" cy="845.8" r="8.6"/><circle cx="363.7" cy="913.3" r="8.6"/><circle cx="364.0" cy="943.9" r="8.6"/><circle cx="364.2" cy="845.8" r="8.6"/><circle cx="370.1" cy="967.7" r="8.6"/><circle cx="368.4" cy="958.0" r="8.6"/>
<circle cx="369.4" cy="927.8" r="8.6"/><circle cx="369.5" cy="965.7" r="8.6"/><circle cx="368.7" cy="869.5" r="8.6"/><circle cx="369.0" cy="983.8" r="8.6"/><circle cx="368.5" cy="842.3" r="8.6"/><circle cx="368.6" cy="987.0" r="8.6"/>
<circle cx="368.7" cy="972.0" r="8.6"/><circle cx="369.4" cy="881.4" r="8.6"/><circle cx="369.5" cy="838.7" r="8.6"/><circle cx="368.6" cy="915.8" r="8.6"/><circle cx="368.2" cy="750.4" r="8.6"/><circle cx="374.9" cy="928.8" r="8.6"/>
<circle cx="373.6" cy="979.3" r="8.6"/><circle cx="373.7" cy="991.2" r="8.6"/><circle cx="374.1" cy="993.4" r="8.6"/><circle cx="374.3" cy="934.2" r="8.6"/><circle cx="374.0" cy="996.5" r="8.6"/><circle cx="373.5" cy="855.5" r="8.6"/>
<circle cx="373.8" cy="997.2" r="8.6"/><circle cx="374.7" cy="883.5" r="8.6"/><circle cx="375.1" cy="909.2" r="8.6"/><circle cx="373.4" cy="879.1" r="8.6"/><circle cx="374.4" cy="965.4" r="8.6"/><circle cx="374.8" cy="758.3" r="8.6"/>
<circle cx="379.7" cy="957.1" r="8.6"/><circle cx="380.1" cy="834.9" r="8.6"/><circle cx="378.7" cy="834.9" r="8.6"/><circle cx="379.9" cy="826.8" r="8.6"/><circle cx="378.6" cy="983.8" r="8.6"/><circle cx="379.4" cy="834.9" r="8.6"/>
<circle cx="379.6" cy="954.7" r="8.6"/><circle cx="379.0" cy="924.8" r="8.6"/><circle cx="380.1" cy="838.7" r="8.6"/><circle cx="379.4" cy="913.3" r="8.6"/><circle cx="379.5" cy="944.5" r="8.6"/><circle cx="380.1" cy="732.9" r="8.6"/>
<circle cx="384.0" cy="973.8" r="8.6"/><circle cx="383.4" cy="874.5" r="8.6"/><circle cx="383.4" cy="830.9" r="8.6"/><circle cx="383.7" cy="765.8" r="8.6"/><circle cx="389.4" cy="945.2" r="8.6"/><circle cx="388.7" cy="976.8" r="8.6"/>
<circle cx="390.3" cy="750.4" r="8.6"/><circle cx="394.9" cy="906.4" r="8.6"/><circle cx="394.0" cy="901.8" r="8.6"/><circle cx="398.9" cy="984.4" r="8.6"/><circle cx="399.2" cy="941.8" r="8.6"/><circle cx="404.1" cy="885.6" r="8.6"/>
<circle cx="403.7" cy="934.2" r="8.6"/><circle cx="404.3" cy="822.5" r="8.6"/><circle cx="409.1" cy="866.9" r="8.6"/><circle cx="410.4" cy="930.7" r="8.6"/><circle cx="415.6" cy="955.7" r="8.6"/><circle cx="414.6" cy="879.1" r="8.6"/>
<circle cx="419.0" cy="978.9" r="8.6"/><circle cx="420.6" cy="874.5" r="8.6"/><circle cx="419.4" cy="852.4" r="8.6"/><circle cx="425.7" cy="887.6" r="8.6"/><circle cx="424.0" cy="852.4" r="8.6"/><circle cx="428.9" cy="972.3" r="8.6"/>
<circle cx="429.4" cy="965.4" r="8.6"/><circle cx="429.4" cy="803.1" r="8.6"/><circle cx="434.1" cy="952.7" r="8.6"/><circle cx="435.5" cy="909.2" r="8.6"/><circle cx="439.5" cy="988.1" r="8.6"/><circle cx="439.4" cy="866.9" r="8.6"/>
<circle cx="444.5" cy="953.2" r="8.6"/><circle cx="445.8" cy="849.2" r="8.6"/><circle cx="445.0" cy="822.5" r="8.6"/><circle cx="451.0" cy="869.5" r="8.6"/><circle cx="450.6" cy="976.8" r="8.6"/><circle cx="450.5" cy="953.7" r="8.6"/>
<circle cx="449.9" cy="925.9" r="8.6"/><circle cx="449.4" cy="969.8" r="8.6"/><circle cx="450.3" cy="852.4" r="8.6"/><circle cx="449.3" cy="858.5" r="8.6"/><circle cx="449.5" cy="808.3" r="8.6"/><circle cx="455.5" cy="956.1" r="8.6"/>
<circle cx="454.9" cy="940.4" r="8.6"/><circle cx="455.6" cy="876.9" r="8.6"/><circle cx="454.4" cy="990.7" r="8.6"/><circle cx="456.1" cy="972.0" r="8.6"/><circle cx="454.8" cy="943.9" r="8.6"/><circle cx="454.2" cy="939.7" r="8.6"/>
<circle cx="454.7" cy="979.9" r="8.6"/><circle cx="454.9" cy="963.6" r="8.6"/><circle cx="454.1" cy="982.7" r="8.6"/><circle cx="454.9" cy="948.8" r="8.6"/><circle cx="454.9" cy="921.6" r="8.6"/><circle cx="455.5" cy="741.9" r="8.6"/>
<circle cx="454.8" cy="852.4" r="8.6"/><circle cx="459.4" cy="942.5" r="8.6"/><circle cx="459.4" cy="895.1" r="8.6"/><circle cx="459.6" cy="962.1" r="8.6"/><circle cx="460.7" cy="926.9" r="8.6"/><circle cx="459.9" cy="951.1" r="8.6"/>
<circle cx="459.5" cy="961.7" r="8.6"/><circle cx="461.0" cy="858.5" r="8.6"/><circle cx="460.7" cy="881.4" r="8.6"/><circle cx="459.5" cy="864.2" r="8.6"/><circle cx="460.9" cy="881.4" r="8.6"/><circle cx="460.4" cy="909.2" r="8.6"/>
<circle cx="460.7" cy="855.5" r="8.6"/><circle cx="460.5" cy="826.8" r="8.6"/><circle cx="465.2" cy="915.8" r="8.6"/><circle cx="464.8" cy="887.6" r="8.6"/><circle cx="465.2" cy="915.8" r="8.6"/><circle cx="466.2" cy="938.9" r="8.6"/>
<circle cx="465.5" cy="909.2" r="8.6"/><circle cx="465.8" cy="931.6" r="8.6"/><circle cx="464.9" cy="941.1" r="8.6"/><circle cx="464.8" cy="957.5" r="8.6"/><circle cx="464.8" cy="976.0" r="8.6"/><circle cx="465.4" cy="957.5" r="8.6"/>
<circle cx="465.5" cy="887.6" r="8.6"/><circle cx="465.8" cy="765.8" r="8.6"/><circle cx="464.3" cy="826.8" r="8.6"/><circle cx="471.2" cy="952.2" r="8.6"/><circle cx="469.4" cy="958.8" r="8.6"/><circle cx="471.0" cy="977.9" r="8.6"/>
<circle cx="469.5" cy="974.3" r="8.6"/><circle cx="469.3" cy="915.8" r="8.6"/><circle cx="470.7" cy="876.9" r="8.6"/><circle cx="469.7" cy="950.5" r="8.6"/><circle cx="470.7" cy="900.2" r="8.6"/><circle cx="469.6" cy="949.4" r="8.6"/>
<circle cx="469.4" cy="937.4" r="8.6"/><circle cx="470.8" cy="963.6" r="8.6"/><circle cx="470.7" cy="976.4" r="8.6"/><circle cx="471.0" cy="852.4" r="8.6"/><circle cx="475.9" cy="881.4" r="8.6"/><circle cx="476.1" cy="994.6" r="8.6"/>
<circle cx="474.4" cy="838.7" r="8.6"/><circle cx="476.0" cy="972.3" r="8.6"/><circle cx="475.9" cy="893.3" r="8.6"/><circle cx="476.0" cy="912.0" r="8.6"/><circle cx="475.5" cy="976.6" r="8.6"/><circle cx="474.9" cy="941.1" r="8.6"/>
<circle cx="476.0" cy="909.2" r="8.6"/><circle cx="475.9" cy="881.4" r="8.6"/><circle cx="475.7" cy="956.6" r="8.6"/><circle cx="476.1" cy="786.0" r="8.6"/><circle cx="479.7" cy="982.8" r="8.6"/><circle cx="479.5" cy="984.8" r="8.6"/>
<circle cx="479.5" cy="891.5" r="8.6"/><circle cx="480.5" cy="906.4" r="8.6"/><circle cx="481.1" cy="950.5" r="8.6"/><circle cx="480.3" cy="992.6" r="8.6"/><circle cx="481.3" cy="808.3" r="8.6"/><circle cx="481.2" cy="914.6" r="8.6"/>
<circle cx="479.5" cy="960.9" r="8.6"/><circle cx="480.6" cy="834.9" r="8.6"/><circle cx="480.2" cy="855.5" r="8.6"/><circle cx="479.6" cy="984.7" r="8.6"/><circle cx="481.3" cy="797.7" r="8.6"/><circle cx="485.7" cy="972.0" r="8.6"/>
<circle cx="484.7" cy="992.5" r="8.6"/><circle cx="484.9" cy="970.1" r="8.6"/><circle cx="484.5" cy="985.2" r="8.6"/><circle cx="485.8" cy="881.4" r="8.6"/><circle cx="485.5" cy="957.5" r="8.6"/><circle cx="484.7" cy="968.9" r="8.6"/>
<circle cx="486.2" cy="818.0" r="8.6"/><circle cx="485.0" cy="999.0" r="8.6"/><circle cx="485.2" cy="918.2" r="8.6"/><circle cx="484.7" cy="838.7" r="8.6"/><circle cx="485.0" cy="906.4" r="8.6"/><circle cx="486.1" cy="786.0" r="8.6"/>
<circle cx="490.9" cy="852.4" r="8.6"/><circle cx="489.6" cy="929.7" r="8.6"/><circle cx="491.1" cy="822.5" r="8.6"/><circle cx="490.1" cy="966.4" r="8.6"/><circle cx="491.2" cy="969.8" r="8.6"/><circle cx="491.2" cy="983.3" r="8.6"/>
<circle cx="490.5" cy="974.6" r="8.6"/><circle cx="489.5" cy="910.6" r="8.6"/><circle cx="491.3" cy="953.7" r="8.6"/><circle cx="490.4" cy="861.4" r="8.6"/><circle cx="491.2" cy="855.5" r="8.6"/><circle cx="490.0" cy="989.4" r="8.6"/>
<circle cx="489.8" cy="779.6" r="8.6"/><circle cx="495.6" cy="981.3" r="8.6"/><circle cx="495.3" cy="895.1" r="8.6"/><circle cx="496.4" cy="866.9" r="8.6"/><circle cx="496.1" cy="970.1" r="8.6"/><circle cx="495.2" cy="988.1" r="8.6"/>
<circle cx="495.0" cy="917.0" r="8.6"/><circle cx="495.2" cy="977.1" r="8.6"/><circle cx="495.4" cy="919.4" r="8.6"/><circle cx="496.5" cy="813.3" r="8.6"/><circle cx="496.1" cy="986.7" r="8.6"/><circle cx="496.3" cy="977.5" r="8.6"/>
<circle cx="496.2" cy="822.5" r="8.6"/><circle cx="496.2" cy="732.9" r="8.6"/><circle cx="500.0" cy="929.7" r="8.6"/><circle cx="501.0" cy="959.3" r="8.6"/><circle cx="500.5" cy="889.6" r="8.6"/><circle cx="500.7" cy="826.8" r="8.6"/>
<circle cx="500.8" cy="923.8" r="8.6"/><circle cx="500.5" cy="909.2" r="8.6"/><circle cx="500.2" cy="975.5" r="8.6"/><circle cx="500.1" cy="955.7" r="8.6"/><circle cx="500.0" cy="942.5" r="8.6"/><circle cx="500.6" cy="979.3" r="8.6"/>
<circle cx="500.3" cy="910.6" r="8.6"/><circle cx="500.7" cy="772.9" r="8.6"/><circle cx="505.3" cy="887.6" r="8.6"/><circle cx="506.2" cy="881.4" r="8.6"/><circle cx="506.3" cy="826.8" r="8.6"/><circle cx="505.6" cy="983.9" r="8.6"/>
<circle cx="505.5" cy="881.4" r="8.6"/><circle cx="505.0" cy="834.9" r="8.6"/><circle cx="505.2" cy="924.8" r="8.6"/><circle cx="504.9" cy="838.7" r="8.6"/><circle cx="505.8" cy="910.6" r="8.6"/><circle cx="505.8" cy="925.9" r="8.6"/>
<circle cx="504.8" cy="883.5" r="8.6"/><circle cx="506.5" cy="792.0" r="8.6"/><circle cx="510.4" cy="956.1" r="8.6"/><circle cx="511.7" cy="968.6" r="8.6"/><circle cx="511.0" cy="920.5" r="8.6"/><circle cx="509.8" cy="955.7" r="8.6"/>
<circle cx="510.5" cy="849.2" r="8.6"/><circle cx="511.3" cy="982.5" r="8.6"/><circle cx="510.3" cy="872.1" r="8.6"/><circle cx="511.1" cy="866.9" r="8.6"/><circle cx="509.7" cy="872.1" r="8.6"/><circle cx="510.3" cy="951.6" r="8.6"/>
<circle cx="511.4" cy="931.6" r="8.6"/><circle cx="510.9" cy="966.4" r="8.6"/><circle cx="511.0" cy="792.0" r="8.6"/><circle cx="515.1" cy="852.4" r="8.6"/><circle cx="515.4" cy="903.4" r="8.6"/><circle cx="515.1" cy="907.8" r="8.6"/>
<circle cx="516.7" cy="944.5" r="8.6"/><circle cx="515.3" cy="858.5" r="8.6"/><circle cx="515.9" cy="941.8" r="8.6"/><circle cx="515.0" cy="966.4" r="8.6"/><circle cx="515.8" cy="898.6" r="8.6"/><circle cx="515.5" cy="845.8" r="8.6"/>
<circle cx="515.5" cy="976.0" r="8.6"/><circle cx="514.9" cy="958.8" r="8.6"/><circle cx="515.0" cy="948.8" r="8.6"/><circle cx="516.4" cy="818.0" r="8.6"/><circle cx="520.0" cy="965.0" r="8.6"/><circle cx="521.2" cy="858.5" r="8.6"/>
<circle cx="520.3" cy="986.2" r="8.6"/><circle cx="520.6" cy="958.0" r="8.6"/><circle cx="521.6" cy="885.6" r="8.6"/><circle cx="521.3" cy="903.4" r="8.6"/><circle cx="521.5" cy="954.2" r="8.6"/><circle cx="521.5" cy="966.4" r="8.6"/>
<circle cx="520.0" cy="866.9" r="8.6"/><circle cx="520.3" cy="964.7" r="8.6"/><circle cx="519.8" cy="919.4" r="8.6"/><circle cx="521.1" cy="945.2" r="8.6"/><circle cx="521.1" cy="808.3" r="8.6"/><circle cx="520.5" cy="813.3" r="8.6"/>
<circle cx="524.9" cy="900.2" r="8.6"/><circle cx="526.2" cy="989.2" r="8.6"/><circle cx="525.7" cy="861.4" r="8.6"/><circle cx="525.9" cy="957.1" r="8.6"/><circle cx="526.7" cy="993.0" r="8.6"/><circle cx="525.1" cy="896.9" r="8.6"/>
<circle cx="526.4" cy="849.2" r="8.6"/><circle cx="524.9" cy="941.1" r="8.6"/><circle cx="526.2" cy="923.8" r="8.6"/><circle cx="526.4" cy="838.7" r="8.6"/><circle cx="525.4" cy="869.5" r="8.6"/><circle cx="525.9" cy="786.0" r="8.6"/>
<circle cx="531.1" cy="959.3" r="8.6"/><circle cx="531.8" cy="982.3" r="8.6"/><circle cx="531.2" cy="874.5" r="8.6"/><circle cx="530.4" cy="920.5" r="8.6"/><circle cx="530.4" cy="918.2" r="8.6"/><circle cx="530.2" cy="938.9" r="8.6"/>
<circle cx="529.9" cy="982.0" r="8.6"/><circle cx="531.4" cy="818.0" r="8.6"/><circle cx="531.6" cy="881.4" r="8.6"/><circle cx="530.5" cy="826.8" r="8.6"/><circle cx="530.3" cy="921.6" r="8.6"/><circle cx="531.2" cy="924.8" r="8.6"/>
<circle cx="531.6" cy="732.9" r="8.6"/><circle cx="531.7" cy="772.9" r="8.6"/><circle cx="536.9" cy="935.0" r="8.6"/><circle cx="536.8" cy="978.3" r="8.6"/><circle cx="536.7" cy="861.4" r="8.6"/><circle cx="536.9" cy="954.2" r="8.6"/>
<circle cx="536.9" cy="968.0" r="8.6"/><circle cx="536.2" cy="951.6" r="8.6"/><circle cx="536.6" cy="967.0" r="8.6"/><circle cx="535.1" cy="869.5" r="8.6"/><circle cx="536.3" cy="855.5" r="8.6"/><circle cx="536.2" cy="932.4" r="8.6"/>
<circle cx="535.5" cy="923.8" r="8.6"/><circle cx="536.1" cy="980.8" r="8.6"/><circle cx="536.8" cy="803.1" r="8.6"/><circle cx="541.8" cy="958.8" r="8.6"/><circle cx="541.2" cy="990.1" r="8.6"/><circle cx="541.7" cy="906.4" r="8.6"/>
<circle cx="541.1" cy="885.6" r="8.6"/><circle cx="541.8" cy="893.3" r="8.6"/><circle cx="541.7" cy="988.7" r="8.6"/><circle cx="540.3" cy="994.1" r="8.6"/><circle cx="541.5" cy="885.6" r="8.6"/><circle cx="540.7" cy="995.7" r="8.6"/>
<circle cx="541.5" cy="896.9" r="8.6"/><circle cx="541.4" cy="960.1" r="8.6"/><circle cx="541.6" cy="994.6" r="8.6"/><circle cx="540.2" cy="826.8" r="8.6"/><circle cx="546.2" cy="922.7" r="8.6"/><circle cx="545.7" cy="993.6" r="8.6"/>
<circle cx="545.1" cy="881.4" r="8.6"/><circle cx="546.0" cy="945.8" r="8.6"/><circle cx="547.0" cy="977.7" r="8.6"/><circle cx="545.1" cy="874.5" r="8.6"/><circle cx="545.3" cy="907.8" r="8.6"/><circle cx="546.4" cy="972.0" r="8.6"/>
<circle cx="545.6" cy="864.2" r="8.6"/><circle cx="545.6" cy="982.8" r="8.6"/><circle cx="546.0" cy="967.0" r="8.6"/><circle cx="545.6" cy="949.4" r="8.6"/><circle cx="546.2" cy="842.3" r="8.6"/><circle cx="551.1" cy="941.1" r="8.6"/>
<circle cx="551.9" cy="950.0" r="8.6"/><circle cx="550.6" cy="984.8" r="8.6"/><circle cx="550.6" cy="994.9" r="8.6"/><circle cx="550.1" cy="887.6" r="8.6"/><circle cx="550.4" cy="918.2" r="8.6"/><circle cx="550.6" cy="861.4" r="8.6"/>
<circle cx="551.5" cy="915.8" r="8.6"/><circle cx="550.5" cy="918.2" r="8.6"/><circle cx="550.9" cy="855.5" r="8.6"/><circle cx="550.5" cy="934.2" r="8.6"/><circle cx="551.3" cy="838.7" r="8.6"/><circle cx="556.7" cy="1004.1" r="8.6"/>
<circle cx="557.1" cy="909.2" r="8.6"/><circle cx="556.1" cy="1002.7" r="8.6"/><circle cx="555.7" cy="977.5" r="8.6"/><circle cx="556.2" cy="983.3" r="8.6"/><circle cx="557.0" cy="876.9" r="8.6"/><circle cx="555.4" cy="907.8" r="8.6"/>
<circle cx="555.2" cy="926.9" r="8.6"/><circle cx="556.1" cy="970.7" r="8.6"/><circle cx="556.5" cy="883.5" r="8.6"/><circle cx="556.7" cy="864.2" r="8.6"/><circle cx="555.9" cy="803.1" r="8.6"/><circle cx="561.2" cy="849.2" r="8.6"/>
<circle cx="562.0" cy="985.1" r="8.6"/><circle cx="560.5" cy="838.7" r="8.6"/><circle cx="561.6" cy="903.4" r="8.6"/><circle cx="561.4" cy="963.2" r="8.6"/><circle cx="561.1" cy="940.4" r="8.6"/><circle cx="561.4" cy="869.5" r="8.6"/>
<circle cx="562.0" cy="909.2" r="8.6"/><circle cx="560.6" cy="949.4" r="8.6"/><circle cx="562.0" cy="904.9" r="8.6"/><circle cx="560.9" cy="838.7" r="8.6"/><circle cx="561.8" cy="969.2" r="8.6"/><circle cx="561.9" cy="797.7" r="8.6"/>
<circle cx="566.1" cy="852.4" r="8.6"/><circle cx="566.4" cy="975.7" r="8.6"/><circle cx="566.0" cy="934.2" r="8.6"/><circle cx="565.3" cy="978.5" r="8.6"/><circle cx="566.6" cy="896.9" r="8.6"/><circle cx="566.6" cy="926.9" r="8.6"/>
<circle cx="566.3" cy="999.6" r="8.6"/><circle cx="566.3" cy="852.4" r="8.6"/><circle cx="566.6" cy="957.1" r="8.6"/><circle cx="567.2" cy="845.8" r="8.6"/><circle cx="567.0" cy="898.6" r="8.6"/><circle cx="566.7" cy="968.9" r="8.6"/>
<circle cx="566.1" cy="842.3" r="8.6"/><circle cx="565.9" cy="803.1" r="8.6"/><circle cx="571.6" cy="926.9" r="8.6"/><circle cx="572.0" cy="975.5" r="8.6"/><circle cx="572.1" cy="923.8" r="8.6"/><circle cx="572.0" cy="980.4" r="8.6"/>
<circle cx="570.4" cy="992.6" r="8.6"/><circle cx="571.1" cy="933.3" r="8.6"/><circle cx="572.0" cy="932.4" r="8.6"/><circle cx="571.9" cy="924.8" r="8.6"/><circle cx="570.6" cy="986.2" r="8.6"/><circle cx="570.6" cy="983.5" r="8.6"/>
<circle cx="570.8" cy="950.0" r="8.6"/><circle cx="570.5" cy="941.8" r="8.6"/><circle cx="571.0" cy="772.9" r="8.6"/><circle cx="571.9" cy="822.5" r="8.6"/><circle cx="577.2" cy="958.8" r="8.6"/><circle cx="576.9" cy="980.4" r="8.6"/>
<circle cx="575.4" cy="992.2" r="8.6"/><circle cx="576.5" cy="975.0" r="8.6"/><circle cx="576.3" cy="973.6" r="8.6"/><circle cx="576.3" cy="984.1" r="8.6"/><circle cx="577.0" cy="984.7" r="8.6"/><circle cx="576.2" cy="999.1" r="8.6"/>
<circle cx="576.3" cy="879.1" r="8.6"/><circle cx="577.1" cy="935.8" r="8.6"/><circle cx="576.2" cy="960.1" r="8.6"/><circle cx="576.3" cy="960.9" r="8.6"/><circle cx="576.4" cy="822.5" r="8.6"/><circle cx="581.2" cy="965.4" r="8.6"/>
<circle cx="581.5" cy="966.4" r="8.6"/><circle cx="581.1" cy="941.1" r="8.6"/><circle cx="581.0" cy="940.4" r="8.6"/><circle cx="582.0" cy="861.4" r="8.6"/><circle cx="581.0" cy="872.1" r="8.6"/><circle cx="581.8" cy="986.2" r="8.6"/>
<circle cx="582.0" cy="993.2" r="8.6"/><circle cx="581.6" cy="938.2" r="8.6"/><circle cx="581.3" cy="929.7" r="8.6"/><circle cx="582.3" cy="968.9" r="8.6"/><circle cx="581.3" cy="855.5" r="8.6"/><circle cx="582.2" cy="797.7" r="8.6"/>
<circle cx="585.7" cy="896.9" r="8.6"/><circle cx="587.3" cy="968.9" r="8.6"/><circle cx="587.5" cy="987.7" r="8.6"/><circle cx="587.3" cy="938.9" r="8.6"/><circle cx="586.5" cy="983.1" r="8.6"/><circle cx="586.0" cy="893.3" r="8.6"/>
<circle cx="586.2" cy="982.3" r="8.6"/><circle cx="587.0" cy="984.1" r="8.6"/><circle cx="586.5" cy="998.3" r="8.6"/><circle cx="587.3" cy="928.8" r="8.6"/><circle cx="585.6" cy="994.6" r="8.6"/><circle cx="586.4" cy="913.3" r="8.6"/>
<circle cx="587.2" cy="772.9" r="8.6"/><circle cx="591.3" cy="970.1" r="8.6"/><circle cx="590.9" cy="965.7" r="8.6"/><circle cx="590.8" cy="993.9" r="8.6"/><circle cx="591.0" cy="876.9" r="8.6"/><circle cx="592.3" cy="866.9" r="8.6"/>
<circle cx="591.5" cy="945.2" r="8.6"/><circle cx="592.3" cy="876.9" r="8.6"/><circle cx="590.5" cy="1006.0" r="8.6"/><circle cx="592.4" cy="994.6" r="8.6"/><circle cx="591.5" cy="943.9" r="8.6"/><circle cx="592.1" cy="934.2" r="8.6"/>
<circle cx="591.7" cy="842.3" r="8.6"/><circle cx="596.9" cy="903.4" r="8.6"/><circle cx="597.1" cy="910.6" r="8.6"/><circle cx="595.8" cy="983.1" r="8.6"/><circle cx="597.2" cy="982.0" r="8.6"/><circle cx="597.4" cy="855.5" r="8.6"/>
<circle cx="597.4" cy="855.5" r="8.6"/><circle cx="597.1" cy="953.7" r="8.6"/><circle cx="597.2" cy="885.6" r="8.6"/><circle cx="597.2" cy="930.7" r="8.6"/><circle cx="596.7" cy="995.6" r="8.6"/><circle cx="596.4" cy="909.2" r="8.6"/>
<circle cx="597.2" cy="996.1" r="8.6"/><circle cx="597.1" cy="741.9" r="8.6"/><circle cx="601.0" cy="866.9" r="8.6"/><circle cx="601.2" cy="1002.7" r="8.6"/><circle cx="602.5" cy="990.5" r="8.6"/><circle cx="601.3" cy="923.8" r="8.6"/>
<circle cx="601.1" cy="945.8" r="8.6"/><circle cx="602.4" cy="954.7" r="8.6"/><circle cx="601.8" cy="872.1" r="8.6"/><circle cx="602.4" cy="1001.7" r="8.6"/><circle cx="601.4" cy="975.7" r="8.6"/><circle cx="601.6" cy="914.6" r="8.6"/>
<circle cx="602.5" cy="864.2" r="8.6"/><circle cx="601.6" cy="765.8" r="8.6"/><circle cx="606.5" cy="852.4" r="8.6"/><circle cx="607.6" cy="912.0" r="8.6"/><circle cx="607.0" cy="950.5" r="8.6"/><circle cx="607.3" cy="879.1" r="8.6"/>
<circle cx="607.0" cy="910.6" r="8.6"/><circle cx="606.4" cy="970.4" r="8.6"/><circle cx="607.6" cy="970.9" r="8.6"/><circle cx="607.1" cy="993.7" r="8.6"/><circle cx="607.1" cy="935.0" r="8.6"/><circle cx="606.2" cy="960.9" r="8.6"/>
<circle cx="606.0" cy="912.0" r="8.6"/><circle cx="606.8" cy="910.6" r="8.6"/><circle cx="607.3" cy="818.0" r="8.6"/><circle cx="611.5" cy="944.5" r="8.6"/><circle cx="612.3" cy="943.9" r="8.6"/><circle cx="610.9" cy="988.1" r="8.6"/>
<circle cx="611.3" cy="954.7" r="8.6"/><circle cx="612.0" cy="978.9" r="8.6"/><circle cx="612.7" cy="926.9" r="8.6"/><circle cx="612.0" cy="983.1" r="8.6"/><circle cx="612.1" cy="901.8" r="8.6"/><circle cx="612.3" cy="876.9" r="8.6"/>
<circle cx="611.5" cy="976.2" r="8.6"/><circle cx="612.6" cy="934.2" r="8.6"/><circle cx="612.2" cy="803.1" r="8.6"/><circle cx="616.9" cy="915.8" r="8.6"/><circle cx="617.4" cy="967.0" r="8.6"/><circle cx="615.9" cy="883.5" r="8.6"/>
<circle cx="617.4" cy="977.1" r="8.6"/><circle cx="616.0" cy="993.4" r="8.6"/><circle cx="616.2" cy="900.2" r="8.6"/><circle cx="617.0" cy="968.9" r="8.6"/><circle cx="616.5" cy="895.1" r="8.6"/><circle cx="616.4" cy="964.0" r="8.6"/>
<circle cx="616.9" cy="1009.9" r="8.6"/><circle cx="616.2" cy="981.8" r="8.6"/><circle cx="617.4" cy="826.8" r="8.6"/><circle cx="622.8" cy="979.3" r="8.6"/><circle cx="621.4" cy="927.8" r="8.6"/><circle cx="620.9" cy="988.3" r="8.6"/>
<circle cx="621.2" cy="920.5" r="8.6"/><circle cx="621.5" cy="936.6" r="8.6"/><circle cx="622.6" cy="909.2" r="8.6"/><circle cx="622.4" cy="887.6" r="8.6"/><circle cx="621.7" cy="893.3" r="8.6"/><circle cx="621.0" cy="999.0" r="8.6"/>
<circle cx="621.0" cy="992.8" r="8.6"/><circle cx="621.1" cy="944.5" r="8.6"/><circle cx="622.4" cy="983.8" r="8.6"/><circle cx="627.2" cy="942.5" r="8.6"/><circle cx="627.3" cy="934.2" r="8.6"/><circle cx="626.4" cy="913.3" r="8.6"/>
<circle cx="627.2" cy="986.2" r="8.6"/><circle cx="627.3" cy="976.4" r="8.6"/><circle cx="626.8" cy="1001.4" r="8.6"/><circle cx="626.2" cy="938.2" r="8.6"/><circle cx="627.7" cy="955.2" r="8.6"/><circle cx="627.1" cy="952.2" r="8.6"/>
<circle cx="626.0" cy="972.0" r="8.6"/><circle cx="626.4" cy="999.7" r="8.6"/><circle cx="627.9" cy="852.4" r="8.6"/><circle cx="632.9" cy="864.2" r="8.6"/><circle cx="632.0" cy="937.4" r="8.6"/><circle cx="631.6" cy="910.6" r="8.6"/>
<circle cx="631.1" cy="932.4" r="8.6"/><circle cx="632.4" cy="898.6" r="8.6"/><circle cx="632.6" cy="938.2" r="8.6"/><circle cx="632.6" cy="972.8" r="8.6"/><circle cx="631.1" cy="909.2" r="8.6"/><circle cx="631.7" cy="988.9" r="8.6"/>
<circle cx="631.5" cy="965.4" r="8.6"/><circle cx="632.5" cy="992.9" r="8.6"/><circle cx="631.2" cy="861.4" r="8.6"/><circle cx="637.9" cy="895.1" r="8.6"/><circle cx="636.3" cy="934.2" r="8.6"/><circle cx="637.0" cy="891.5" r="8.6"/>
<circle cx="637.3" cy="980.4" r="8.6"/><circle cx="637.1" cy="984.1" r="8.6"/><circle cx="637.9" cy="983.5" r="8.6"/><circle cx="636.8" cy="891.5" r="8.6"/><circle cx="637.8" cy="919.4" r="8.6"/><circle cx="637.4" cy="903.4" r="8.6"/>
<circle cx="637.9" cy="958.8" r="8.6"/><circle cx="636.2" cy="992.6" r="8.6"/><circle cx="636.4" cy="942.5" r="8.6"/><circle cx="636.6" cy="842.3" r="8.6"/><circle cx="642.2" cy="999.5" r="8.6"/><circle cx="642.4" cy="1002.2" r="8.6"/>
<circle cx="641.4" cy="925.9" r="8.6"/><circle cx="641.3" cy="965.7" r="8.6"/><circle cx="641.2" cy="904.9" r="8.6"/><circle cx="643.0" cy="975.5" r="8.6"/><circle cx="641.8" cy="917.0" r="8.6"/><circle cx="642.3" cy="978.5" r="8.6"/>
<circle cx="642.2" cy="950.0" r="8.6"/><circle cx="641.5" cy="977.7" r="8.6"/><circle cx="641.2" cy="904.9" r="8.6"/><circle cx="641.1" cy="838.7" r="8.6"/><circle cx="647.9" cy="960.5" r="8.6"/><circle cx="647.0" cy="986.3" r="8.6"/>
<circle cx="647.5" cy="982.5" r="8.6"/><circle cx="646.2" cy="1001.9" r="8.6"/><circle cx="647.0" cy="891.5" r="8.6"/><circle cx="646.7" cy="942.5" r="8.6"/><circle cx="646.5" cy="921.6" r="8.6"/><circle cx="647.4" cy="931.6" r="8.6"/>
<circle cx="646.8" cy="925.9" r="8.6"/><circle cx="646.3" cy="982.3" r="8.6"/><circle cx="648.1" cy="985.5" r="8.6"/><circle cx="647.0" cy="983.8" r="8.6"/><circle cx="646.4" cy="872.1" r="8.6"/><circle cx="651.7" cy="885.6" r="8.6"/>
<circle cx="652.0" cy="941.8" r="8.6"/><circle cx="652.3" cy="913.3" r="8.6"/><circle cx="652.6" cy="935.0" r="8.6"/><circle cx="651.4" cy="984.7" r="8.6"/><circle cx="651.6" cy="881.4" r="8.6"/><circle cx="651.4" cy="955.7" r="8.6"/>
<circle cx="653.1" cy="953.2" r="8.6"/><circle cx="651.4" cy="972.8" r="8.6"/><circle cx="651.4" cy="993.3" r="8.6"/><circle cx="652.2" cy="960.9" r="8.6"/><circle cx="652.3" cy="991.0" r="8.6"/><circle cx="656.6" cy="898.6" r="8.6"/>
<circle cx="657.0" cy="937.4" r="8.6"/><circle cx="658.1" cy="967.7" r="8.6"/><circle cx="658.0" cy="989.4" r="8.6"/><circle cx="656.7" cy="920.5" r="8.6"/><circle cx="657.7" cy="997.0" r="8.6"/><circle cx="656.9" cy="968.0" r="8.6"/>
<circle cx="657.5" cy="928.8" r="8.6"/><circle cx="657.7" cy="956.6" r="8.6"/><circle cx="656.4" cy="932.4" r="8.6"/><circle cx="656.6" cy="1000.0" r="8.6"/><circle cx="656.6" cy="887.6" r="8.6"/><circle cx="656.7" cy="792.0" r="8.6"/>
<circle cx="661.4" cy="994.3" r="8.6"/><circle cx="662.5" cy="999.3" r="8.6"/><circle cx="662.6" cy="992.7" r="8.6"/><circle cx="661.8" cy="987.0" r="8.6"/><circle cx="662.8" cy="986.3" r="8.6"/><circle cx="662.7" cy="891.5" r="8.6"/>
<circle cx="661.9" cy="983.0" r="8.6"/><circle cx="662.2" cy="893.3" r="8.6"/><circle cx="661.6" cy="996.7" r="8.6"/><circle cx="663.1" cy="968.0" r="8.6"/><circle cx="662.4" cy="975.3" r="8.6"/><circle cx="661.3" cy="996.1" r="8.6"/>
<circle cx="661.5" cy="891.5" r="8.6"/><circle cx="667.0" cy="935.8" r="8.6"/><circle cx="667.7" cy="976.2" r="8.6"/><circle cx="667.4" cy="913.3" r="8.6"/><circle cx="667.8" cy="914.6" r="8.6"/><circle cx="666.5" cy="936.6" r="8.6"/>
<circle cx="666.4" cy="980.4" r="8.6"/><circle cx="667.1" cy="984.1" r="8.6"/><circle cx="667.3" cy="937.4" r="8.6"/><circle cx="666.8" cy="950.0" r="8.6"/><circle cx="667.6" cy="973.3" r="8.6"/><circle cx="666.7" cy="965.4" r="8.6"/>
<circle cx="666.9" cy="978.1" r="8.6"/><circle cx="671.6" cy="950.0" r="8.6"/><circle cx="673.0" cy="994.6" r="8.6"/><circle cx="672.0" cy="930.7" r="8.6"/><circle cx="671.8" cy="990.2" r="8.6"/><circle cx="671.9" cy="979.3" r="8.6"/>
<circle cx="672.3" cy="982.8" r="8.6"/><circle cx="673.3" cy="910.6" r="8.6"/><circle cx="671.6" cy="971.5" r="8.6"/><circle cx="673.1" cy="903.4" r="8.6"/><circle cx="672.0" cy="964.7" r="8.6"/><circle cx="671.7" cy="929.7" r="8.6"/>
<circle cx="672.8" cy="992.8" r="8.6"/><circle cx="677.1" cy="903.4" r="8.6"/><circle cx="676.4" cy="1003.5" r="8.6"/><circle cx="678.0" cy="921.6" r="8.6"/><circle cx="676.9" cy="966.7" r="8.6"/><circle cx="676.5" cy="925.9" r="8.6"/>
<circle cx="676.5" cy="981.5" r="8.6"/><circle cx="677.9" cy="943.9" r="8.6"/><circle cx="676.8" cy="923.8" r="8.6"/><circle cx="677.3" cy="948.8" r="8.6"/><circle cx="677.2" cy="972.8" r="8.6"/><circle cx="678.0" cy="912.0" r="8.6"/>
<circle cx="678.3" cy="910.6" r="8.6"/><circle cx="677.0" cy="889.6" r="8.6"/><circle cx="683.0" cy="913.3" r="8.6"/><circle cx="683.2" cy="872.1" r="8.6"/><circle cx="682.2" cy="974.8" r="8.6"/><circle cx="683.3" cy="889.6" r="8.6"/>
<circle cx="681.9" cy="991.5" r="8.6"/><circle cx="681.5" cy="919.4" r="8.6"/><circle cx="682.5" cy="1000.4" r="8.6"/><circle cx="683.2" cy="938.2" r="8.6"/><circle cx="683.3" cy="955.2" r="8.6"/><circle cx="683.4" cy="960.1" r="8.6"/>
<circle cx="682.5" cy="910.6" r="8.6"/><circle cx="687.4" cy="927.8" r="8.6"/><circle cx="688.4" cy="994.6" r="8.6"/><circle cx="687.5" cy="941.1" r="8.6"/><circle cx="688.4" cy="973.8" r="8.6"/><circle cx="687.4" cy="945.8" r="8.6"/>
<circle cx="686.9" cy="942.5" r="8.6"/><circle cx="687.7" cy="983.9" r="8.6"/><circle cx="686.8" cy="968.3" r="8.6"/><circle cx="686.8" cy="957.5" r="8.6"/><circle cx="686.6" cy="982.3" r="8.6"/><circle cx="687.9" cy="992.4" r="8.6"/>
<circle cx="688.4" cy="958.4" r="8.6"/><circle cx="687.3" cy="879.1" r="8.6"/><circle cx="693.2" cy="988.8" r="8.6"/><circle cx="691.9" cy="984.1" r="8.6"/><circle cx="692.9" cy="967.7" r="8.6"/><circle cx="691.6" cy="900.2" r="8.6"/>
<circle cx="691.9" cy="879.1" r="8.6"/><circle cx="691.7" cy="940.4" r="8.6"/><circle cx="693.2" cy="965.0" r="8.6"/><circle cx="691.8" cy="935.0" r="8.6"/><circle cx="692.0" cy="974.8" r="8.6"/><circle cx="691.7" cy="978.7" r="8.6"/>
<circle cx="692.1" cy="931.6" r="8.6"/><circle cx="693.0" cy="858.5" r="8.6"/><circle cx="697.4" cy="904.9" r="8.6"/><circle cx="698.0" cy="909.2" r="8.6"/><circle cx="696.6" cy="996.5" r="8.6"/><circle cx="698.2" cy="1001.9" r="8.6"/>
<circle cx="698.2" cy="987.3" r="8.6"/><circle cx="697.6" cy="960.9" r="8.6"/><circle cx="696.6" cy="970.9" r="8.6"/><circle cx="698.2" cy="940.4" r="8.6"/><circle cx="697.4" cy="925.9" r="8.6"/><circle cx="697.9" cy="957.1" r="8.6"/>
<circle cx="697.7" cy="906.4" r="8.6"/><circle cx="698.1" cy="913.3" r="8.6"/><circle cx="697.4" cy="895.1" r="8.6"/><circle cx="702.6" cy="999.7" r="8.6"/><circle cx="703.4" cy="990.2" r="8.6"/><circle cx="702.5" cy="992.0" r="8.6"/>
<circle cx="703.6" cy="947.0" r="8.6"/><circle cx="702.6" cy="989.5" r="8.6"/><circle cx="701.9" cy="995.6" r="8.6"/><circle cx="703.2" cy="938.2" r="8.6"/><circle cx="701.9" cy="973.3" r="8.6"/><circle cx="703.0" cy="958.8" r="8.6"/>
<circle cx="701.8" cy="918.2" r="8.6"/><circle cx="703.6" cy="986.9" r="8.6"/><circle cx="707.2" cy="935.8" r="8.6"/><circle cx="707.4" cy="951.6" r="8.6"/><circle cx="707.8" cy="952.7" r="8.6"/><circle cx="708.2" cy="1003.3" r="8.6"/>
<circle cx="707.9" cy="912.0" r="8.6"/><circle cx="707.0" cy="948.8" r="8.6"/><circle cx="708.5" cy="1002.4" r="8.6"/><circle cx="707.4" cy="907.8" r="8.6"/><circle cx="708.6" cy="907.8" r="8.6"/><circle cx="708.7" cy="945.2" r="8.6"/>
<circle cx="707.0" cy="968.9" r="8.6"/><circle cx="707.9" cy="869.5" r="8.6"/><circle cx="712.6" cy="912.0" r="8.6"/><circle cx="713.2" cy="947.0" r="8.6"/><circle cx="711.9" cy="990.8" r="8.6"/><circle cx="713.4" cy="918.2" r="8.6"/>
<circle cx="713.7" cy="982.7" r="8.6"/><circle cx="712.0" cy="973.8" r="8.6"/><circle cx="713.3" cy="941.8" r="8.6"/><circle cx="712.3" cy="996.1" r="8.6"/><circle cx="712.1" cy="988.9" r="8.6"/><circle cx="712.5" cy="927.8" r="8.6"/>
<circle cx="713.1" cy="977.1" r="8.6"/><circle cx="713.7" cy="803.1" r="8.6"/><circle cx="716.9" cy="930.7" r="8.6"/><circle cx="717.1" cy="910.6" r="8.6"/><circle cx="718.5" cy="988.6" r="8.6"/><circle cx="718.1" cy="952.2" r="8.6"/>
<circle cx="717.1" cy="990.2" r="8.6"/><circle cx="718.1" cy="978.9" r="8.6"/><circle cx="716.9" cy="1005.8" r="8.6"/><circle cx="717.8" cy="990.1" r="8.6"/><circle cx="717.5" cy="955.7" r="8.6"/><circle cx="717.0" cy="998.2" r="8.6"/>
<circle cx="718.3" cy="991.6" r="8.6"/><circle cx="718.2" cy="922.7" r="8.6"/><circle cx="717.8" cy="891.5" r="8.6"/><circle cx="722.0" cy="946.4" r="8.6"/><circle cx="723.3" cy="998.5" r="8.6"/><circle cx="723.6" cy="943.9" r="8.6"/>
<circle cx="723.1" cy="965.0" r="8.6"/><circle cx="722.2" cy="988.3" r="8.6"/><circle cx="723.6" cy="925.9" r="8.6"/><circle cx="723.3" cy="993.9" r="8.6"/><circle cx="722.1" cy="956.6" r="8.6"/><circle cx="722.6" cy="951.6" r="8.6"/>
<circle cx="723.2" cy="977.7" r="8.6"/><circle cx="721.9" cy="918.2" r="8.6"/><circle cx="722.0" cy="909.2" r="8.6"/><circle cx="727.6" cy="950.0" r="8.6"/><circle cx="727.0" cy="989.8" r="8.6"/><circle cx="728.8" cy="913.3" r="8.6"/>
<circle cx="728.0" cy="960.1" r="8.6"/><circle cx="728.3" cy="968.9" r="8.6"/><circle cx="728.9" cy="975.0" r="8.6"/><circle cx="728.5" cy="920.5" r="8.6"/><circle cx="727.4" cy="929.7" r="8.6"/><circle cx="727.6" cy="919.4" r="8.6"/>
<circle cx="727.1" cy="946.4" r="8.6"/><circle cx="728.5" cy="947.0" r="8.6"/><circle cx="728.4" cy="893.3" r="8.6"/><circle cx="732.2" cy="925.9" r="8.6"/><circle cx="733.9" cy="981.3" r="8.6"/><circle cx="732.5" cy="1000.5" r="8.6"/>
<circle cx="733.7" cy="996.0" r="8.6"/><circle cx="732.5" cy="999.1" r="8.6"/><circle cx="733.1" cy="909.2" r="8.6"/><circle cx="732.7" cy="952.2" r="8.6"/><circle cx="732.0" cy="951.1" r="8.6"/><circle cx="733.6" cy="974.6" r="8.6"/>
<circle cx="733.6" cy="950.0" r="8.6"/><circle cx="732.5" cy="1000.7" r="8.6"/><circle cx="733.5" cy="990.5" r="8.6"/><circle cx="732.9" cy="813.3" r="8.6"/><circle cx="737.9" cy="983.6" r="8.6"/><circle cx="737.8" cy="982.8" r="8.6"/>
<circle cx="737.5" cy="950.5" r="8.6"/><circle cx="738.6" cy="1002.8" r="8.6"/><circle cx="737.9" cy="900.2" r="8.6"/><circle cx="738.7" cy="935.0" r="8.6"/><circle cx="737.8" cy="958.0" r="8.6"/><circle cx="738.5" cy="904.9" r="8.6"/>
<circle cx="737.1" cy="996.0" r="8.6"/><circle cx="737.5" cy="963.2" r="8.6"/><circle cx="738.9" cy="962.9" r="8.6"/><circle cx="742.2" cy="906.4" r="8.6"/><circle cx="742.2" cy="939.7" r="8.6"/><circle cx="743.3" cy="980.6" r="8.6"/>
<circle cx="742.3" cy="928.8" r="8.6"/><circle cx="742.4" cy="977.7" r="8.6"/><circle cx="742.7" cy="907.8" r="8.6"/><circle cx="742.6" cy="930.7" r="8.6"/><circle cx="743.9" cy="958.0" r="8.6"/><circle cx="743.9" cy="907.8" r="8.6"/>
<circle cx="743.8" cy="907.8" r="8.6"/><circle cx="744.1" cy="981.3" r="8.6"/><circle cx="743.0" cy="855.5" r="8.6"/><circle cx="748.2" cy="973.6" r="8.6"/><circle cx="748.3" cy="978.9" r="8.6"/><circle cx="748.4" cy="941.1" r="8.6"/>
<circle cx="747.4" cy="941.8" r="8.6"/><circle cx="748.7" cy="953.2" r="8.6"/><circle cx="747.7" cy="933.3" r="8.6"/><circle cx="748.9" cy="970.1" r="8.6"/><circle cx="748.7" cy="983.1" r="8.6"/><circle cx="748.5" cy="947.7" r="8.6"/>
<circle cx="748.8" cy="945.2" r="8.6"/><circle cx="748.0" cy="985.4" r="8.6"/><circle cx="748.5" cy="917.0" r="8.6"/><circle cx="749.0" cy="818.0" r="8.6"/><circle cx="753.6" cy="987.1" r="8.6"/><circle cx="753.7" cy="936.6" r="8.6"/>
<circle cx="754.2" cy="889.6" r="8.6"/><circle cx="752.6" cy="872.1" r="8.6"/><circle cx="752.3" cy="997.3" r="8.6"/><circle cx="753.7" cy="971.2" r="8.6"/><circle cx="753.0" cy="975.0" r="8.6"/><circle cx="754.0" cy="982.2" r="8.6"/>
<circle cx="753.0" cy="893.3" r="8.6"/><circle cx="752.8" cy="901.8" r="8.6"/><circle cx="752.3" cy="1000.9" r="8.6"/><circle cx="754.1" cy="849.2" r="8.6"/><circle cx="758.0" cy="972.8" r="8.6"/><circle cx="758.1" cy="937.4" r="8.6"/>
<circle cx="757.7" cy="919.4" r="8.6"/><circle cx="759.2" cy="974.1" r="8.6"/><circle cx="757.9" cy="949.4" r="8.6"/><circle cx="758.5" cy="891.5" r="8.6"/><circle cx="758.9" cy="988.1" r="8.6"/><circle cx="758.0" cy="866.9" r="8.6"/>
<circle cx="758.7" cy="963.6" r="8.6"/><circle cx="757.8" cy="996.0" r="8.6"/><circle cx="757.5" cy="953.7" r="8.6"/><circle cx="757.3" cy="1000.7" r="8.6"/><circle cx="763.5" cy="990.7" r="8.6"/><circle cx="762.9" cy="979.7" r="8.6"/>
<circle cx="762.8" cy="893.3" r="8.6"/><circle cx="763.6" cy="974.3" r="8.6"/><circle cx="762.5" cy="869.5" r="8.6"/><circle cx="763.9" cy="989.5" r="8.6"/><circle cx="763.3" cy="874.5" r="8.6"/><circle cx="762.7" cy="872.1" r="8.6"/>
<circle cx="762.5" cy="980.8" r="8.6"/><circle cx="763.3" cy="921.6" r="8.6"/><circle cx="763.3" cy="906.4" r="8.6"/><circle cx="763.7" cy="974.1" r="8.6"/><circle cx="763.0" cy="838.7" r="8.6"/><circle cx="768.9" cy="909.2" r="8.6"/>
<circle cx="769.0" cy="936.6" r="8.6"/><circle cx="769.0" cy="940.4" r="8.6"/><circle cx="768.7" cy="966.4" r="8.6"/><circle cx="767.7" cy="914.6" r="8.6"/><circle cx="767.6" cy="889.6" r="8.6"/><circle cx="768.5" cy="978.7" r="8.6"/>
<circle cx="767.8" cy="918.2" r="8.6"/><circle cx="768.0" cy="919.4" r="8.6"/><circle cx="767.5" cy="893.3" r="8.6"/><circle cx="767.6" cy="937.4" r="8.6"/><circle cx="768.8" cy="845.8" r="8.6"/><circle cx="773.9" cy="1000.0" r="8.6"/>
<circle cx="773.3" cy="938.2" r="8.6"/><circle cx="773.3" cy="976.4" r="8.6"/><circle cx="773.9" cy="923.8" r="8.6"/><circle cx="773.0" cy="930.7" r="8.6"/><circle cx="772.6" cy="913.3" r="8.6"/><circle cx="773.6" cy="941.1" r="8.6"/>
<circle cx="774.0" cy="960.9" r="8.6"/><circle cx="772.9" cy="998.5" r="8.6"/><circle cx="773.8" cy="973.3" r="8.6"/><circle cx="774.2" cy="940.4" r="8.6"/><circle cx="772.6" cy="765.8" r="8.6"/><circle cx="779.2" cy="998.0" r="8.6"/>
<circle cx="778.8" cy="945.2" r="8.6"/><circle cx="778.0" cy="866.9" r="8.6"/><circle cx="779.3" cy="891.5" r="8.6"/><circle cx="779.1" cy="995.9" r="8.6"/><circle cx="779.2" cy="978.3" r="8.6"/><circle cx="777.9" cy="935.8" r="8.6"/>
<circle cx="778.6" cy="968.6" r="8.6"/><circle cx="778.2" cy="994.4" r="8.6"/><circle cx="778.0" cy="896.9" r="8.6"/><circle cx="779.0" cy="1004.9" r="8.6"/><circle cx="778.7" cy="904.9" r="8.6"/><circle cx="778.1" cy="845.8" r="8.6"/>
<circle cx="783.1" cy="858.5" r="8.6"/><circle cx="783.9" cy="1000.5" r="8.6"/><circle cx="783.7" cy="945.8" r="8.6"/><circle cx="782.7" cy="885.6" r="8.6"/><circle cx="784.1" cy="1002.1" r="8.6"/><circle cx="783.5" cy="872.1" r="8.6"/>
<circle cx="782.8" cy="1003.8" r="8.6"/><circle cx="784.1" cy="855.5" r="8.6"/><circle cx="784.1" cy="984.2" r="8.6"/><circle cx="782.9" cy="942.5" r="8.6"/><circle cx="784.4" cy="858.5" r="8.6"/><circle cx="784.1" cy="842.3" r="8.6"/>
<circle cx="787.8" cy="896.9" r="8.6"/><circle cx="788.3" cy="982.5" r="8.6"/><circle cx="788.1" cy="1002.9" r="8.6"/><circle cx="788.1" cy="970.7" r="8.6"/><circle cx="789.0" cy="995.7" r="8.6"/><circle cx="788.0" cy="904.9" r="8.6"/>
<circle cx="788.2" cy="994.5" r="8.6"/><circle cx="788.1" cy="845.8" r="8.6"/><circle cx="789.3" cy="950.5" r="8.6"/><circle cx="788.8" cy="958.8" r="8.6"/><circle cx="788.5" cy="971.2" r="8.6"/><circle cx="788.3" cy="891.5" r="8.6"/>
<circle cx="789.4" cy="765.8" r="8.6"/><circle cx="793.9" cy="822.5" r="8.6"/><circle cx="793.3" cy="938.9" r="8.6"/><circle cx="792.8" cy="845.8" r="8.6"/><circle cx="792.7" cy="864.2" r="8.6"/><circle cx="793.6" cy="964.3" r="8.6"/>
<circle cx="793.8" cy="876.9" r="8.6"/><circle cx="793.5" cy="977.3" r="8.6"/><circle cx="794.6" cy="858.5" r="8.6"/><circle cx="793.4" cy="818.0" r="8.6"/><circle cx="793.3" cy="981.7" r="8.6"/><circle cx="793.4" cy="900.2" r="8.6"/>
<circle cx="797.7" cy="943.9" r="8.6"/><circle cx="798.5" cy="999.7" r="8.6"/><circle cx="799.4" cy="982.8" r="8.6"/><circle cx="799.2" cy="944.5" r="8.6"/><circle cx="799.1" cy="977.7" r="8.6"/><circle cx="798.3" cy="891.5" r="8.6"/>
<circle cx="798.1" cy="956.1" r="8.6"/><circle cx="799.1" cy="891.5" r="8.6"/><circle cx="798.2" cy="960.9" r="8.6"/><circle cx="799.1" cy="917.0" r="8.6"/><circle cx="798.3" cy="883.5" r="8.6"/><circle cx="799.2" cy="933.3" r="8.6"/>
<circle cx="798.8" cy="818.0" r="8.6"/><circle cx="799.3" cy="723.3" r="8.6"/><circle cx="804.5" cy="954.2" r="8.6"/><circle cx="802.7" cy="895.1" r="8.6"/><circle cx="804.4" cy="919.4" r="8.6"/><circle cx="803.3" cy="975.7" r="8.6"/>
<circle cx="802.7" cy="895.1" r="8.6"/><circle cx="804.5" cy="970.1" r="8.6"/><circle cx="803.2" cy="938.2" r="8.6"/><circle cx="803.1" cy="845.8" r="8.6"/><circle cx="802.9" cy="969.2" r="8.6"/><circle cx="803.4" cy="942.5" r="8.6"/>
<circle cx="802.9" cy="951.6" r="8.6"/><circle cx="803.1" cy="991.5" r="8.6"/><circle cx="803.2" cy="830.9" r="8.6"/><circle cx="803.9" cy="803.1" r="8.6"/><circle cx="809.0" cy="977.7" r="8.6"/><circle cx="808.0" cy="869.5" r="8.6"/>
<circle cx="809.7" cy="858.5" r="8.6"/><circle cx="808.0" cy="983.6" r="8.6"/><circle cx="809.3" cy="922.7" r="8.6"/><circle cx="809.2" cy="855.5" r="8.6"/><circle cx="808.4" cy="838.7" r="8.6"/><circle cx="809.1" cy="939.7" r="8.6"/>
<circle cx="808.6" cy="981.8" r="8.6"/><circle cx="809.3" cy="920.5" r="8.6"/><circle cx="807.8" cy="869.5" r="8.6"/><circle cx="809.6" cy="741.9" r="8.6"/><circle cx="814.1" cy="869.5" r="8.6"/><circle cx="813.9" cy="910.6" r="8.6"/>
<circle cx="814.6" cy="948.8" r="8.6"/><circle cx="813.8" cy="845.8" r="8.6"/><circle cx="813.8" cy="989.4" r="8.6"/><circle cx="814.8" cy="826.8" r="8.6"/><circle cx="813.2" cy="861.4" r="8.6"/><circle cx="812.8" cy="881.4" r="8.6"/>
<circle cx="813.5" cy="930.7" r="8.6"/><circle cx="813.4" cy="927.8" r="8.6"/><circle cx="813.1" cy="874.5" r="8.6"/><circle cx="813.6" cy="976.0" r="8.6"/><circle cx="812.9" cy="818.0" r="8.6"/><circle cx="814.6" cy="792.0" r="8.6"/>
<circle cx="819.4" cy="938.9" r="8.6"/><circle cx="818.8" cy="940.4" r="8.6"/><circle cx="818.6" cy="948.2" r="8.6"/><circle cx="818.3" cy="959.3" r="8.6"/><circle cx="819.5" cy="984.2" r="8.6"/><circle cx="819.6" cy="937.4" r="8.6"/>
<circle cx="819.6" cy="909.2" r="8.6"/><circle cx="818.1" cy="977.9" r="8.6"/><circle cx="819.0" cy="845.8" r="8.6"/><circle cx="819.8" cy="928.8" r="8.6"/><circle cx="819.3" cy="929.7" r="8.6"/><circle cx="818.8" cy="852.4" r="8.6"/>
<circle cx="818.1" cy="803.1" r="8.6"/><circle cx="818.0" cy="741.9" r="8.6"/><circle cx="824.7" cy="958.8" r="8.6"/><circle cx="823.8" cy="957.5" r="8.6"/><circle cx="824.8" cy="925.9" r="8.6"/><circle cx="823.4" cy="956.1" r="8.6"/>
<circle cx="824.9" cy="872.1" r="8.6"/><circle cx="824.0" cy="962.5" r="8.6"/><circle cx="824.3" cy="834.9" r="8.6"/><circle cx="823.7" cy="958.8" r="8.6"/><circle cx="823.5" cy="950.5" r="8.6"/><circle cx="823.2" cy="951.6" r="8.6"/>
<circle cx="824.7" cy="920.5" r="8.6"/><circle cx="823.6" cy="786.0" r="8.6"/><circle cx="824.3" cy="732.9" r="8.6"/><circle cx="828.8" cy="924.8" r="8.6"/><circle cx="829.8" cy="978.5" r="8.6"/><circle cx="828.5" cy="864.2" r="8.6"/>
<circle cx="828.3" cy="983.3" r="8.6"/><circle cx="829.2" cy="861.4" r="8.6"/><circle cx="829.3" cy="951.1" r="8.6"/><circle cx="829.0" cy="866.9" r="8.6"/><circle cx="828.3" cy="845.8" r="8.6"/><circle cx="829.7" cy="968.6" r="8.6"/>
<circle cx="828.2" cy="937.4" r="8.6"/><circle cx="828.3" cy="972.0" r="8.6"/><circle cx="828.4" cy="797.7" r="8.6"/><circle cx="829.0" cy="813.3" r="8.6"/><circle cx="833.7" cy="838.7" r="8.6"/><circle cx="833.3" cy="830.9" r="8.6"/>
<circle cx="834.7" cy="869.5" r="8.6"/><circle cx="833.9" cy="889.6" r="8.6"/><circle cx="834.6" cy="955.2" r="8.6"/><circle cx="833.7" cy="845.8" r="8.6"/><circle cx="833.7" cy="891.5" r="8.6"/><circle cx="834.0" cy="964.0" r="8.6"/>
<circle cx="834.5" cy="872.1" r="8.6"/><circle cx="834.8" cy="842.3" r="8.6"/><circle cx="833.7" cy="858.5" r="8.6"/><circle cx="834.4" cy="779.6" r="8.6"/><circle cx="839.9" cy="874.5" r="8.6"/><circle cx="839.5" cy="960.9" r="8.6"/>
<circle cx="839.0" cy="933.3" r="8.6"/><circle cx="839.8" cy="921.6" r="8.6"/><circle cx="838.4" cy="845.8" r="8.6"/><circle cx="838.7" cy="889.6" r="8.6"/><circle cx="839.5" cy="903.4" r="8.6"/><circle cx="839.7" cy="876.9" r="8.6"/>
<circle cx="838.8" cy="869.5" r="8.6"/><circle cx="840.1" cy="936.6" r="8.6"/><circle cx="839.4" cy="915.8" r="8.6"/><circle cx="838.2" cy="826.8" r="8.6"/><circle cx="843.8" cy="909.2" r="8.6"/><circle cx="844.3" cy="906.4" r="8.6"/>
<circle cx="843.3" cy="874.5" r="8.6"/><circle cx="844.8" cy="895.1" r="8.6"/><circle cx="843.8" cy="939.7" r="8.6"/><circle cx="844.9" cy="962.5" r="8.6"/><circle cx="843.8" cy="861.4" r="8.6"/><circle cx="843.7" cy="852.4" r="8.6"/>
<circle cx="843.5" cy="929.7" r="8.6"/><circle cx="845.0" cy="954.7" r="8.6"/><circle cx="844.3" cy="830.9" r="8.6"/><circle cx="844.8" cy="842.3" r="8.6"/><circle cx="843.2" cy="803.1" r="8.6"/><circle cx="848.5" cy="935.0" r="8.6"/>
<circle cx="850.0" cy="933.3" r="8.6"/><circle cx="849.0" cy="842.3" r="8.6"/><circle cx="848.5" cy="909.2" r="8.6"/><circle cx="849.0" cy="855.5" r="8.6"/><circle cx="849.4" cy="906.4" r="8.6"/><circle cx="849.0" cy="808.3" r="8.6"/>
<circle cx="848.2" cy="876.9" r="8.6"/><circle cx="848.4" cy="938.9" r="8.6"/><circle cx="849.6" cy="896.9" r="8.6"/><circle cx="848.4" cy="849.2" r="8.6"/><circle cx="848.7" cy="758.3" r="8.6"/><circle cx="849.8" cy="758.3" r="8.6"/>
<circle cx="853.9" cy="900.2" r="8.6"/><circle cx="855.2" cy="879.1" r="8.6"/><circle cx="853.4" cy="879.1" r="8.6"/><circle cx="853.8" cy="898.6" r="8.6"/><circle cx="854.2" cy="912.0" r="8.6"/><circle cx="854.7" cy="879.1" r="8.6"/>
<circle cx="854.5" cy="919.4" r="8.6"/><circle cx="855.1" cy="930.7" r="8.6"/><circle cx="854.6" cy="861.4" r="8.6"/><circle cx="853.2" cy="955.2" r="8.6"/><circle cx="853.4" cy="956.1" r="8.6"/><circle cx="853.3" cy="852.4" r="8.6"/>
<circle cx="854.1" cy="808.3" r="8.6"/><circle cx="859.9" cy="933.3" r="8.6"/><circle cx="859.3" cy="881.4" r="8.6"/><circle cx="858.7" cy="893.3" r="8.6"/><circle cx="860.0" cy="838.7" r="8.6"/><circle cx="858.5" cy="896.9" r="8.6"/>
<circle cx="858.9" cy="926.9" r="8.6"/><circle cx="858.3" cy="937.4" r="8.6"/><circle cx="860.2" cy="864.2" r="8.6"/><circle cx="859.1" cy="947.0" r="8.6"/><circle cx="859.8" cy="861.4" r="8.6"/><circle cx="859.9" cy="864.2" r="8.6"/>
<circle cx="859.4" cy="822.5" r="8.6"/><circle cx="860.2" cy="723.3" r="8.6"/><circle cx="864.9" cy="866.9" r="8.6"/><circle cx="864.1" cy="869.5" r="8.6"/><circle cx="863.3" cy="849.2" r="8.6"/><circle cx="865.3" cy="898.6" r="8.6"/>
<circle cx="864.9" cy="922.7" r="8.6"/><circle cx="863.6" cy="830.9" r="8.6"/><circle cx="863.5" cy="876.9" r="8.6"/><circle cx="863.8" cy="943.9" r="8.6"/><circle cx="864.6" cy="896.9" r="8.6"/><circle cx="863.6" cy="895.1" r="8.6"/>
<circle cx="863.4" cy="898.6" r="8.6"/><circle cx="864.3" cy="750.4" r="8.6"/><circle cx="869.9" cy="826.8" r="8.6"/><circle cx="868.8" cy="960.1" r="8.6"/><circle cx="869.4" cy="960.1" r="8.6"/><circle cx="868.7" cy="830.9" r="8.6"/>
<circle cx="868.9" cy="838.7" r="8.6"/><circle cx="868.7" cy="826.8" r="8.6"/><circle cx="868.5" cy="956.6" r="8.6"/><circle cx="869.1" cy="954.2" r="8.6"/><circle cx="870.2" cy="913.3" r="8.6"/><circle cx="869.7" cy="945.8" r="8.6"/>
<circle cx="868.6" cy="963.2" r="8.6"/><circle cx="868.8" cy="866.9" r="8.6"/><circle cx="875.4" cy="830.9" r="8.6"/><circle cx="874.0" cy="834.9" r="8.6"/><circle cx="874.1" cy="903.4" r="8.6"/><circle cx="874.1" cy="915.8" r="8.6"/>
<circle cx="874.9" cy="948.8" r="8.6"/><circle cx="874.4" cy="978.5" r="8.6"/><circle cx="875.0" cy="974.1" r="8.6"/><circle cx="873.4" cy="921.6" r="8.6"/><circle cx="873.7" cy="929.7" r="8.6"/><circle cx="873.8" cy="957.5" r="8.6"/>
<circle cx="874.2" cy="940.4" r="8.6"/><circle cx="874.2" cy="834.9" r="8.6"/><circle cx="874.2" cy="772.9" r="8.6"/><circle cx="880.4" cy="935.0" r="8.6"/><circle cx="879.7" cy="864.2" r="8.6"/><circle cx="878.6" cy="906.4" r="8.6"/>
<circle cx="880.2" cy="939.7" r="8.6"/><circle cx="878.8" cy="962.9" r="8.6"/><circle cx="879.0" cy="950.5" r="8.6"/><circle cx="878.8" cy="845.8" r="8.6"/><circle cx="879.5" cy="970.4" r="8.6"/><circle cx="879.6" cy="964.3" r="8.6"/>
<circle cx="879.4" cy="932.4" r="8.6"/><circle cx="879.4" cy="912.0" r="8.6"/><circle cx="884.5" cy="954.7" r="8.6"/><circle cx="885.5" cy="961.3" r="8.6"/><circle cx="884.7" cy="808.3" r="8.6"/><circle cx="883.8" cy="932.4" r="8.6"/>
<circle cx="884.0" cy="906.4" r="8.6"/><circle cx="883.8" cy="891.5" r="8.6"/><circle cx="884.8" cy="910.6" r="8.6"/><circle cx="884.8" cy="929.7" r="8.6"/><circle cx="885.2" cy="977.3" r="8.6"/><circle cx="883.6" cy="960.5" r="8.6"/>
<circle cx="883.6" cy="879.1" r="8.6"/><circle cx="885.5" cy="797.7" r="8.6"/><circle cx="884.1" cy="723.3" r="8.6"/><circle cx="884.1" cy="723.3" r="8.6"/><circle cx="889.3" cy="901.8" r="8.6"/><circle cx="889.5" cy="896.9" r="8.6"/>
<circle cx="890.0" cy="942.5" r="8.6"/><circle cx="888.9" cy="912.0" r="8.6"/><circle cx="889.3" cy="874.5" r="8.6"/><circle cx="890.2" cy="887.6" r="8.6"/><circle cx="889.9" cy="887.6" r="8.6"/><circle cx="889.8" cy="881.4" r="8.6"/>
<circle cx="888.8" cy="922.7" r="8.6"/><circle cx="889.0" cy="797.7" r="8.6"/><circle cx="889.1" cy="808.3" r="8.6"/><circle cx="888.6" cy="866.9" r="8.6"/><circle cx="889.9" cy="732.9" r="8.6"/><circle cx="895.2" cy="838.7" r="8.6"/>
<circle cx="893.8" cy="972.3" r="8.6"/><circle cx="895.4" cy="959.3" r="8.6"/><circle cx="894.7" cy="818.0" r="8.6"/><circle cx="895.5" cy="974.1" r="8.6"/><circle cx="894.6" cy="876.9" r="8.6"/><circle cx="893.8" cy="818.0" r="8.6"/>
<circle cx="895.0" cy="973.1" r="8.6"/><circle cx="894.0" cy="935.0" r="8.6"/><circle cx="895.6" cy="964.7" r="8.6"/><circle cx="894.7" cy="866.9" r="8.6"/><circle cx="899.5" cy="879.1" r="8.6"/><circle cx="899.4" cy="915.8" r="8.6"/>
<circle cx="898.8" cy="961.7" r="8.6"/><circle cx="900.4" cy="901.8" r="8.6"/><circle cx="900.1" cy="822.5" r="8.6"/><circle cx="899.7" cy="869.5" r="8.6"/><circle cx="899.8" cy="924.8" r="8.6"/><circle cx="900.4" cy="858.5" r="8.6"/>
<circle cx="898.8" cy="874.5" r="8.6"/><circle cx="899.4" cy="936.6" r="8.6"/><circle cx="900.1" cy="869.5" r="8.6"/><circle cx="899.8" cy="792.0" r="8.6"/><circle cx="904.1" cy="874.5" r="8.6"/><circle cx="904.4" cy="959.3" r="8.6"/>
<circle cx="904.4" cy="923.8" r="8.6"/><circle cx="905.5" cy="906.4" r="8.6"/><circle cx="905.3" cy="881.4" r="8.6"/><circle cx="904.3" cy="979.5" r="8.6"/><circle cx="905.7" cy="858.5" r="8.6"/><circle cx="903.9" cy="797.7" r="8.6"/>
<circle cx="903.9" cy="822.5" r="8.6"/><circle cx="904.4" cy="879.1" r="8.6"/><circle cx="903.9" cy="849.2" r="8.6"/><circle cx="905.6" cy="732.9" r="8.6"/><circle cx="909.2" cy="929.7" r="8.6"/><circle cx="910.1" cy="866.9" r="8.6"/>
<circle cx="909.5" cy="928.8" r="8.6"/><circle cx="910.6" cy="849.2" r="8.6"/><circle cx="909.3" cy="929.7" r="8.6"/><circle cx="909.3" cy="912.0" r="8.6"/><circle cx="909.2" cy="913.3" r="8.6"/><circle cx="909.1" cy="885.6" r="8.6"/>
<circle cx="910.2" cy="896.9" r="8.6"/><circle cx="910.0" cy="887.6" r="8.6"/><circle cx="909.3" cy="970.9" r="8.6"/><circle cx="910.4" cy="818.0" r="8.6"/><circle cx="910.1" cy="818.0" r="8.6"/><circle cx="914.8" cy="901.8" r="8.6"/>
<circle cx="915.7" cy="974.3" r="8.6"/><circle cx="914.6" cy="932.4" r="8.6"/><circle cx="915.0" cy="958.8" r="8.6"/><circle cx="914.7" cy="926.9" r="8.6"/><circle cx="914.9" cy="989.9" r="8.6"/><circle cx="913.9" cy="958.0" r="8.6"/>
<circle cx="915.6" cy="978.3" r="8.6"/><circle cx="915.0" cy="983.3" r="8.6"/><circle cx="914.5" cy="958.0" r="8.6"/><circle cx="914.4" cy="917.0" r="8.6"/><circle cx="914.2" cy="909.2" r="8.6"/><circle cx="915.7" cy="855.5" r="8.6"/>
<circle cx="919.3" cy="909.2" r="8.6"/><circle cx="919.2" cy="881.4" r="8.6"/><circle cx="920.4" cy="858.5" r="8.6"/><circle cx="920.3" cy="895.1" r="8.6"/><circle cx="919.7" cy="909.2" r="8.6"/><circle cx="920.1" cy="967.4" r="8.6"/>
<circle cx="920.0" cy="958.8" r="8.6"/><circle cx="920.8" cy="953.2" r="8.6"/><circle cx="919.9" cy="881.4" r="8.6"/><circle cx="920.0" cy="952.2" r="8.6"/><circle cx="919.8" cy="997.1" r="8.6"/><circle cx="924.1" cy="1001.2" r="8.6"/>
<circle cx="924.8" cy="990.5" r="8.6"/><circle cx="924.5" cy="1000.0" r="8.6"/><circle cx="924.9" cy="963.6" r="8.6"/><circle cx="925.7" cy="918.2" r="8.6"/><circle cx="925.1" cy="972.0" r="8.6"/><circle cx="925.4" cy="987.6" r="8.6"/>
<circle cx="925.5" cy="968.6" r="8.6"/><circle cx="924.5" cy="966.4" r="8.6"/><circle cx="925.2" cy="985.5" r="8.6"/><circle cx="924.7" cy="937.4" r="8.6"/><circle cx="924.9" cy="955.2" r="8.6"/><circle cx="925.0" cy="826.8" r="8.6"/>
<circle cx="930.2" cy="906.4" r="8.6"/><circle cx="929.5" cy="941.1" r="8.6"/><circle cx="929.4" cy="910.6" r="8.6"/><circle cx="929.5" cy="955.7" r="8.6"/><circle cx="930.8" cy="932.4" r="8.6"/><circle cx="929.7" cy="965.0" r="8.6"/>
<circle cx="930.8" cy="1000.7" r="8.6"/><circle cx="930.5" cy="974.1" r="8.6"/><circle cx="929.5" cy="937.4" r="8.6"/><circle cx="930.1" cy="948.2" r="8.6"/><circle cx="929.0" cy="962.5" r="8.6"/><circle cx="930.9" cy="954.7" r="8.6"/>
<circle cx="930.3" cy="866.9" r="8.6"/><circle cx="934.6" cy="953.2" r="8.6"/><circle cx="936.0" cy="998.7" r="8.6"/><circle cx="935.4" cy="957.1" r="8.6"/><circle cx="934.4" cy="999.2" r="8.6"/><circle cx="935.5" cy="984.5" r="8.6"/>
<circle cx="934.7" cy="922.7" r="8.6"/><circle cx="935.1" cy="1002.4" r="8.6"/><circle cx="934.2" cy="918.2" r="8.6"/><circle cx="935.7" cy="901.8" r="8.6"/><circle cx="935.6" cy="958.8" r="8.6"/><circle cx="935.2" cy="997.6" r="8.6"/>
<circle cx="935.4" cy="822.5" r="8.6"/><circle cx="939.6" cy="930.7" r="8.6"/><circle cx="940.1" cy="992.7" r="8.6"/><circle cx="939.1" cy="991.3" r="8.6"/><circle cx="939.6" cy="973.1" r="8.6"/><circle cx="940.1" cy="975.3" r="8.6"/>
<circle cx="940.5" cy="993.0" r="8.6"/><circle cx="939.4" cy="982.0" r="8.6"/><circle cx="939.4" cy="921.6" r="8.6"/><circle cx="939.8" cy="910.6" r="8.6"/><circle cx="939.3" cy="913.3" r="8.6"/><circle cx="939.4" cy="896.9" r="8.6"/>
<circle cx="939.3" cy="903.4" r="8.6"/><circle cx="944.9" cy="991.9" r="8.6"/><circle cx="945.6" cy="988.9" r="8.6"/><circle cx="946.0" cy="993.1" r="8.6"/><circle cx="944.5" cy="977.1" r="8.6"/><circle cx="945.4" cy="976.8" r="8.6"/>
<circle cx="946.1" cy="973.6" r="8.6"/><circle cx="944.9" cy="983.1" r="8.6"/><circle cx="945.9" cy="942.5" r="8.6"/><circle cx="945.8" cy="991.3" r="8.6"/><circle cx="944.8" cy="989.4" r="8.6"/><circle cx="944.4" cy="976.4" r="8.6"/>
<circle cx="945.8" cy="849.2" r="8.6"/><circle cx="949.3" cy="982.8" r="8.6"/><circle cx="949.4" cy="938.2" r="8.6"/><circle cx="950.7" cy="938.9" r="8.6"/><circle cx="950.2" cy="993.2" r="8.6"/><circle cx="950.7" cy="956.1" r="8.6"/>
<circle cx="949.6" cy="988.8" r="8.6"/><circle cx="949.8" cy="921.6" r="8.6"/><circle cx="949.6" cy="924.8" r="8.6"/><circle cx="950.9" cy="987.0" r="8.6"/><circle cx="950.6" cy="928.8" r="8.6"/><circle cx="949.5" cy="993.5" r="8.6"/>
<circle cx="950.7" cy="889.6" r="8.6"/><circle cx="955.5" cy="956.6" r="8.6"/><circle cx="956.1" cy="958.4" r="8.6"/><circle cx="954.4" cy="960.1" r="8.6"/><circle cx="955.8" cy="967.7" r="8.6"/><circle cx="954.3" cy="954.7" r="8.6"/>
<circle cx="955.5" cy="963.6" r="8.6"/><circle cx="955.3" cy="926.9" r="8.6"/><circle cx="954.4" cy="967.4" r="8.6"/><circle cx="955.1" cy="1002.6" r="8.6"/><circle cx="955.6" cy="953.2" r="8.6"/><circle cx="956.0" cy="1002.2" r="8.6"/>
<circle cx="954.4" cy="852.4" r="8.6"/><circle cx="959.3" cy="919.4" r="8.6"/><circle cx="959.7" cy="967.4" r="8.6"/><circle cx="959.7" cy="965.0" r="8.6"/><circle cx="960.0" cy="958.8" r="8.6"/><circle cx="960.8" cy="996.9" r="8.6"/>
<circle cx="959.4" cy="973.1" r="8.6"/><circle cx="961.1" cy="952.7" r="8.6"/><circle cx="959.5" cy="912.0" r="8.6"/><circle cx="961.2" cy="990.4" r="8.6"/><circle cx="961.2" cy="936.6" r="8.6"/><circle cx="960.5" cy="954.2" r="8.6"/>
<circle cx="961.0" cy="869.5" r="8.6"/><circle cx="965.2" cy="945.2" r="8.6"/><circle cx="964.5" cy="993.0" r="8.6"/><circle cx="965.6" cy="924.8" r="8.6"/><circle cx="964.8" cy="943.2" r="8.6"/><circle cx="964.8" cy="914.6" r="8.6"/>
<circle cx="965.6" cy="975.0" r="8.6"/><circle cx="966.2" cy="950.0" r="8.6"/><circle cx="964.4" cy="971.2" r="8.6"/><circle cx="965.8" cy="981.8" r="8.6"/><circle cx="965.5" cy="960.1" r="8.6"/><circle cx="965.3" cy="976.0" r="8.6"/>
<circle cx="965.2" cy="988.5" r="8.6"/><circle cx="964.4" cy="919.4" r="8.6"/><circle cx="970.5" cy="944.5" r="8.6"/><circle cx="970.0" cy="925.9" r="8.6"/><circle cx="970.8" cy="1006.2" r="8.6"/><circle cx="971.3" cy="975.3" r="8.6"/>
<circle cx="969.5" cy="988.9" r="8.6"/><circle cx="970.4" cy="959.7" r="8.6"/><circle cx="969.7" cy="992.7" r="8.6"/><circle cx="970.9" cy="989.6" r="8.6"/><circle cx="970.3" cy="983.8" r="8.6"/><circle cx="971.1" cy="928.8" r="8.6"/>
<circle cx="970.8" cy="993.4" r="8.6"/><circle cx="971.3" cy="1004.8" r="8.6"/><circle cx="970.6" cy="864.2" r="8.6"/><circle cx="975.6" cy="981.8" r="8.6"/><circle cx="975.5" cy="913.3" r="8.6"/><circle cx="974.9" cy="947.0" r="8.6"/>
<circle cx="975.5" cy="917.0" r="8.6"/><circle cx="974.5" cy="958.0" r="8.6"/><circle cx="974.5" cy="995.1" r="8.6"/><circle cx="976.4" cy="956.1" r="8.6"/><circle cx="976.2" cy="973.8" r="8.6"/><circle cx="974.6" cy="938.9" r="8.6"/>
<circle cx="975.8" cy="960.5" r="8.6"/><circle cx="975.5" cy="993.4" r="8.6"/><circle cx="975.5" cy="910.6" r="8.6"/><circle cx="980.0" cy="1004.5" r="8.6"/><circle cx="980.8" cy="923.8" r="8.6"/><circle cx="979.5" cy="969.8" r="8.6"/>
<circle cx="981.2" cy="993.1" r="8.6"/><circle cx="980.4" cy="990.7" r="8.6"/><circle cx="980.4" cy="980.6" r="8.6"/><circle cx="980.5" cy="1004.6" r="8.6"/><circle cx="980.3" cy="978.9" r="8.6"/><circle cx="980.0" cy="956.1" r="8.6"/>
<circle cx="980.9" cy="964.3" r="8.6"/><circle cx="980.8" cy="975.0" r="8.6"/><circle cx="979.6" cy="1007.3" r="8.6"/><circle cx="986.5" cy="1002.8" r="8.6"/><circle cx="986.1" cy="1002.4" r="8.6"/><circle cx="986.0" cy="1005.4" r="8.6"/>
<circle cx="986.2" cy="997.6" r="8.6"/><circle cx="986.4" cy="991.5" r="8.6"/><circle cx="986.5" cy="922.7" r="8.6"/><circle cx="985.6" cy="978.5" r="8.6"/><circle cx="985.4" cy="950.0" r="8.6"/><circle cx="984.6" cy="984.1" r="8.6"/>
<circle cx="985.6" cy="922.7" r="8.6"/><circle cx="985.3" cy="971.2" r="8.6"/><circle cx="984.6" cy="874.5" r="8.6"/><circle cx="990.8" cy="969.8" r="8.6"/><circle cx="990.8" cy="932.4" r="8.6"/><circle cx="991.1" cy="967.0" r="8.6"/>
<circle cx="990.2" cy="967.4" r="8.6"/><circle cx="991.0" cy="929.7" r="8.6"/><circle cx="990.4" cy="953.7" r="8.6"/><circle cx="991.2" cy="962.9" r="8.6"/><circle cx="990.6" cy="994.3" r="8.6"/><circle cx="990.9" cy="930.7" r="8.6"/>
<circle cx="991.6" cy="944.5" r="8.6"/><circle cx="990.2" cy="999.6" r="8.6"/><circle cx="989.6" cy="907.8" r="8.6"/><circle cx="994.9" cy="971.5" r="8.6"/><circle cx="996.4" cy="943.9" r="8.6"/><circle cx="995.3" cy="983.8" r="8.6"/>
<circle cx="995.2" cy="996.7" r="8.6"/><circle cx="994.8" cy="997.1" r="8.6"/><circle cx="994.9" cy="974.3" r="8.6"/><circle cx="995.2" cy="974.1" r="8.6"/><circle cx="995.7" cy="987.0" r="8.6"/><circle cx="996.6" cy="978.1" r="8.6"/>
<circle cx="995.0" cy="924.8" r="8.6"/><circle cx="995.3" cy="951.1" r="8.6"/><circle cx="995.4" cy="978.3" r="8.6"/><circle cx="996.0" cy="869.5" r="8.6"/><circle cx="999.8" cy="1003.2" r="8.6"/><circle cx="1001.1" cy="1005.1" r="8.6"/>
<circle cx="1000.8" cy="972.6" r="8.6"/><circle cx="1001.3" cy="952.7" r="8.6"/><circle cx="1001.2" cy="992.1" r="8.6"/><circle cx="1001.2" cy="979.7" r="8.6"/><circle cx="1000.3" cy="937.4" r="8.6"/><circle cx="1000.2" cy="994.6" r="8.6"/>
<circle cx="1000.9" cy="976.4" r="8.6"/><circle cx="999.8" cy="935.0" r="8.6"/><circle cx="1001.6" cy="1003.5" r="8.6"/><circle cx="1001.2" cy="948.8" r="8.6"/><circle cx="1000.7" cy="909.2" r="8.6"/><circle cx="1006.6" cy="993.5" r="8.6"/>
<circle cx="1006.6" cy="970.9" r="8.6"/><circle cx="1006.5" cy="969.2" r="8.6"/><circle cx="1005.7" cy="991.9" r="8.6"/><circle cx="1005.8" cy="995.7" r="8.6"/><circle cx="1006.5" cy="982.5" r="8.6"/><circle cx="1005.5" cy="1002.4" r="8.6"/>
<circle cx="1005.3" cy="960.1" r="8.6"/><circle cx="1004.8" cy="952.2" r="8.6"/><circle cx="1005.2" cy="940.4" r="8.6"/><circle cx="1005.1" cy="994.7" r="8.6"/><circle cx="1006.6" cy="961.7" r="8.6"/><circle cx="1005.4" cy="889.6" r="8.6"/>
<circle cx="1010.4" cy="927.8" r="8.6"/><circle cx="1010.8" cy="998.9" r="8.6"/><circle cx="1010.8" cy="987.9" r="8.6"/><circle cx="1011.7" cy="947.7" r="8.6"/><circle cx="1010.4" cy="968.0" r="8.6"/><circle cx="1011.6" cy="952.2" r="8.6"/>
<circle cx="1011.3" cy="952.2" r="8.6"/><circle cx="1011.0" cy="974.3" r="8.6"/><circle cx="1011.7" cy="927.8" r="8.6"/><circle cx="1011.6" cy="940.4" r="8.6"/><circle cx="1011.3" cy="987.7" r="8.6"/><circle cx="1010.9" cy="970.9" r="8.6"/>
<circle cx="1015.8" cy="1001.8" r="8.6"/><circle cx="1015.5" cy="957.5" r="8.6"/><circle cx="1015.8" cy="990.1" r="8.6"/><circle cx="1015.0" cy="967.4" r="8.6"/><circle cx="1015.1" cy="960.9" r="8.6"/><circle cx="1016.5" cy="960.1" r="8.6"/>
<circle cx="1016.4" cy="962.9" r="8.6"/><circle cx="1015.3" cy="939.7" r="8.6"/><circle cx="1015.5" cy="966.4" r="8.6"/><circle cx="1015.0" cy="937.4" r="8.6"/><circle cx="1015.5" cy="995.4" r="8.6"/><circle cx="1015.9" cy="1001.6" r="8.6"/>
<circle cx="1016.4" cy="876.9" r="8.6"/><circle cx="1020.4" cy="969.5" r="8.6"/><circle cx="1021.0" cy="958.8" r="8.6"/><circle cx="1020.2" cy="979.7" r="8.6"/><circle cx="1020.3" cy="953.7" r="8.6"/><circle cx="1020.5" cy="1000.3" r="8.6"/>
<circle cx="1020.0" cy="987.9" r="8.6"/><circle cx="1021.1" cy="979.3" r="8.6"/><circle cx="1021.2" cy="949.4" r="8.6"/><circle cx="1020.7" cy="951.1" r="8.6"/><circle cx="1021.5" cy="990.5" r="8.6"/><circle cx="1021.0" cy="970.7" r="8.6"/>
<circle cx="1025.4" cy="979.3" r="8.6"/><circle cx="1026.7" cy="1003.6" r="8.6"/><circle cx="1025.1" cy="999.1" r="8.6"/><circle cx="1026.8" cy="980.1" r="8.6"/><circle cx="1025.2" cy="1002.9" r="8.6"/><circle cx="1026.1" cy="995.5" r="8.6"/>
<circle cx="1026.1" cy="984.1" r="8.6"/><circle cx="1025.8" cy="993.2" r="8.6"/><circle cx="1026.2" cy="981.8" r="8.6"/><circle cx="1026.8" cy="960.5" r="8.6"/><circle cx="1025.6" cy="987.1" r="8.6"/><circle cx="1025.1" cy="970.4" r="8.6"/>
<circle cx="1025.4" cy="917.0" r="8.6"/><circle cx="1030.2" cy="943.9" r="8.6"/><circle cx="1031.2" cy="1006.3" r="8.6"/><circle cx="1031.3" cy="937.4" r="8.6"/><circle cx="1030.6" cy="1007.0" r="8.6"/><circle cx="1030.8" cy="988.8" r="8.6"/>
<circle cx="1030.9" cy="980.4" r="8.6"/><circle cx="1031.8" cy="957.1" r="8.6"/><circle cx="1031.6" cy="944.5" r="8.6"/><circle cx="1031.0" cy="991.4" r="8.6"/><circle cx="1030.2" cy="998.0" r="8.6"/><circle cx="1030.8" cy="968.6" r="8.6"/>
<circle cx="1035.6" cy="975.7" r="8.6"/><circle cx="1036.3" cy="969.2" r="8.6"/><circle cx="1035.8" cy="990.2" r="8.6"/><circle cx="1036.3" cy="937.4" r="8.6"/><circle cx="1036.9" cy="961.3" r="8.6"/><circle cx="1035.9" cy="998.4" r="8.6"/>
<circle cx="1035.3" cy="938.2" r="8.6"/><circle cx="1035.1" cy="991.3" r="8.6"/><circle cx="1036.8" cy="962.1" r="8.6"/><circle cx="1036.0" cy="953.2" r="8.6"/><circle cx="1036.0" cy="989.9" r="8.6"/><circle cx="1035.2" cy="923.8" r="8.6"/>
<circle cx="1041.6" cy="993.3" r="8.6"/><circle cx="1040.5" cy="950.0" r="8.6"/><circle cx="1041.9" cy="955.7" r="8.6"/><circle cx="1040.8" cy="974.6" r="8.6"/><circle cx="1041.9" cy="960.5" r="8.6"/><circle cx="1040.4" cy="1004.1" r="8.6"/>
<circle cx="1040.4" cy="966.7" r="8.6"/><circle cx="1041.3" cy="983.1" r="8.6"/><circle cx="1040.6" cy="951.6" r="8.6"/><circle cx="1041.0" cy="996.1" r="8.6"/><circle cx="1040.5" cy="970.7" r="8.6"/><circle cx="1041.6" cy="980.4" r="8.6"/>
<circle cx="1041.6" cy="914.6" r="8.6"/><circle cx="1045.8" cy="981.0" r="8.6"/><circle cx="1045.6" cy="963.2" r="8.6"/><circle cx="1046.3" cy="967.7" r="8.6"/><circle cx="1047.0" cy="978.1" r="8.6"/><circle cx="1046.5" cy="968.3" r="8.6"/>
<circle cx="1045.4" cy="981.7" r="8.6"/><circle cx="1046.1" cy="959.7" r="8.6"/><circle cx="1045.7" cy="947.0" r="8.6"/><circle cx="1046.8" cy="970.9" r="8.6"/><circle cx="1046.0" cy="989.6" r="8.6"/><circle cx="1046.1" cy="978.7" r="8.6"/>
<circle cx="1051.4" cy="948.8" r="8.6"/><circle cx="1051.7" cy="979.5" r="8.6"/><circle cx="1050.6" cy="973.6" r="8.6"/><circle cx="1050.4" cy="984.5" r="8.6"/><circle cx="1050.7" cy="935.0" r="8.6"/><circle cx="1051.5" cy="976.4" r="8.6"/>
<circle cx="1051.1" cy="1001.6" r="8.6"/><circle cx="1051.8" cy="967.7" r="8.6"/><circle cx="1051.7" cy="996.6" r="8.6"/><circle cx="1051.0" cy="979.9" r="8.6"/><circle cx="1051.4" cy="942.5" r="8.6"/><circle cx="1050.5" cy="974.6" r="8.6"/>
<circle cx="1051.5" cy="925.9" r="8.6"/><circle cx="1056.1" cy="965.0" r="8.6"/><circle cx="1055.6" cy="980.6" r="8.6"/><circle cx="1056.9" cy="991.9" r="8.6"/><circle cx="1055.7" cy="993.5" r="8.6"/><circle cx="1056.9" cy="957.5" r="8.6"/>
<circle cx="1056.8" cy="985.7" r="8.6"/><circle cx="1056.2" cy="969.5" r="8.6"/><circle cx="1056.2" cy="969.2" r="8.6"/><circle cx="1055.7" cy="951.1" r="8.6"/><circle cx="1055.6" cy="991.2" r="8.6"/><circle cx="1056.7" cy="976.2" r="8.6"/>
<circle cx="1056.0" cy="966.7" r="8.6"/><circle cx="1056.4" cy="910.6" r="8.6"/><circle cx="1061.5" cy="960.5" r="8.6"/><circle cx="1060.9" cy="943.2" r="8.6"/><circle cx="1060.9" cy="947.7" r="8.6"/><circle cx="1061.8" cy="988.0" r="8.6"/>
<circle cx="1062.2" cy="973.3" r="8.6"/><circle cx="1061.1" cy="972.6" r="8.6"/><circle cx="1061.5" cy="962.1" r="8.6"/><circle cx="1060.8" cy="990.9" r="8.6"/><circle cx="1061.3" cy="999.7" r="8.6"/><circle cx="1061.5" cy="1003.4" r="8.6"/>
<circle cx="1061.0" cy="1000.9" r="8.6"/><circle cx="1066.5" cy="998.0" r="8.6"/><circle cx="1066.1" cy="955.7" r="8.6"/><circle cx="1066.2" cy="986.6" r="8.6"/><circle cx="1066.2" cy="980.2" r="8.6"/><circle cx="1067.2" cy="993.3" r="8.6"/>
<circle cx="1066.0" cy="992.8" r="8.6"/><circle cx="1066.8" cy="996.9" r="8.6"/><circle cx="1066.5" cy="962.9" r="8.6"/><circle cx="1066.0" cy="982.8" r="8.6"/><circle cx="1067.2" cy="995.4" r="8.6"/><circle cx="1065.9" cy="963.6" r="8.6"/>
<circle cx="1066.0" cy="948.2" r="8.6"/><circle cx="1070.5" cy="950.0" r="8.6"/><circle cx="1070.7" cy="958.4" r="8.6"/><circle cx="1072.1" cy="953.7" r="8.6"/><circle cx="1072.4" cy="955.2" r="8.6"/><circle cx="1072.4" cy="936.6" r="8.6"/>
<circle cx="1071.0" cy="992.6" r="8.6"/><circle cx="1072.3" cy="942.5" r="8.6"/><circle cx="1071.3" cy="988.8" r="8.6"/><circle cx="1071.2" cy="990.5" r="8.6"/><circle cx="1072.3" cy="956.6" r="8.6"/><circle cx="1072.1" cy="941.1" r="8.6"/>
<circle cx="1071.8" cy="930.7" r="8.6"/><circle cx="1076.3" cy="978.3" r="8.6"/><circle cx="1076.9" cy="977.1" r="8.6"/><circle cx="1076.2" cy="996.1" r="8.6"/><circle cx="1076.0" cy="1001.9" r="8.6"/><circle cx="1075.7" cy="991.3" r="8.6"/>
<circle cx="1076.6" cy="999.7" r="8.6"/><circle cx="1075.9" cy="958.4" r="8.6"/><circle cx="1076.1" cy="959.7" r="8.6"/><circle cx="1076.1" cy="970.1" r="8.6"/><circle cx="1076.3" cy="921.6" r="8.6"/><circle cx="1076.3" cy="985.5" r="8.6"/>
<circle cx="1077.5" cy="961.3" r="8.6"/><circle cx="1080.7" cy="982.8" r="8.6"/><circle cx="1080.7" cy="974.6" r="8.6"/><circle cx="1081.0" cy="969.2" r="8.6"/><circle cx="1081.8" cy="992.7" r="8.6"/><circle cx="1080.7" cy="991.3" r="8.6"/>
<circle cx="1081.6" cy="988.8" r="8.6"/><circle cx="1082.2" cy="993.3" r="8.6"/><circle cx="1080.6" cy="974.1" r="8.6"/><circle cx="1081.1" cy="985.9" r="8.6"/><circle cx="1081.4" cy="997.7" r="8.6"/><circle cx="1081.8" cy="999.1" r="8.6"/>
<circle cx="1082.0" cy="985.0" r="8.6"/><circle cx="1081.9" cy="934.2" r="8.6"/><circle cx="1087.0" cy="989.5" r="8.6"/><circle cx="1087.2" cy="987.9" r="8.6"/><circle cx="1086.4" cy="976.8" r="8.6"/><circle cx="1087.4" cy="970.1" r="8.6"/>
<circle cx="1086.4" cy="995.1" r="8.6"/><circle cx="1085.7" cy="988.8" r="8.6"/><circle cx="1086.0" cy="987.0" r="8.6"/><circle cx="1087.4" cy="975.0" r="8.6"/><circle cx="1087.0" cy="982.0" r="8.6"/><circle cx="1085.8" cy="962.9" r="8.6"/>
<circle cx="1086.2" cy="1003.4" r="8.6"/><circle cx="1086.4" cy="995.1" r="8.6"/><circle cx="1086.6" cy="939.7" r="8.6"/><circle cx="1091.1" cy="1002.6" r="8.6"/><circle cx="1090.9" cy="954.2" r="8.6"/><circle cx="1092.5" cy="948.8" r="8.6"/>
<circle cx="1092.7" cy="980.4" r="8.6"/><circle cx="1092.3" cy="1002.1" r="8.6"/><circle cx="1091.7" cy="926.9" r="8.6"/><circle cx="1092.2" cy="933.3" r="8.6"/><circle cx="1092.0" cy="973.1" r="8.6"/><circle cx="1091.6" cy="967.0" r="8.6"/>
<circle cx="1091.7" cy="948.8" r="8.6"/><circle cx="1090.9" cy="999.8" r="8.6"/><circle cx="1091.2" cy="929.7" r="8.6"/><circle cx="1096.3" cy="989.9" r="8.6"/><circle cx="1097.2" cy="1002.0" r="8.6"/><circle cx="1096.1" cy="972.3" r="8.6"/>
<circle cx="1097.3" cy="981.7" r="8.6"/><circle cx="1096.9" cy="975.0" r="8.6"/><circle cx="1097.3" cy="977.1" r="8.6"/><circle cx="1097.0" cy="992.5" r="8.6"/><circle cx="1097.7" cy="975.3" r="8.6"/><circle cx="1097.1" cy="964.3" r="8.6"/>
<circle cx="1096.6" cy="993.6" r="8.6"/><circle cx="1096.9" cy="978.7" r="8.6"/><circle cx="1096.9" cy="987.1" r="8.6"/><circle cx="1096.3" cy="917.0" r="8.6"/><circle cx="1101.5" cy="958.4" r="8.6"/><circle cx="1101.2" cy="976.4" r="8.6"/>
<circle cx="1101.2" cy="963.6" r="8.6"/><circle cx="1102.2" cy="963.2" r="8.6"/><circle cx="1101.4" cy="959.3" r="8.6"/><circle cx="1101.0" cy="982.0" r="8.6"/><circle cx="1101.5" cy="986.1" r="8.6"/><circle cx="1101.7" cy="988.2" r="8.6"/>
<circle cx="1102.7" cy="971.5" r="8.6"/><circle cx="1101.5" cy="1001.1" r="8.6"/><circle cx="1101.6" cy="963.6" r="8.6"/><circle cx="1102.7" cy="930.7" r="8.6"/><circle cx="1106.3" cy="976.0" r="8.6"/><circle cx="1107.4" cy="966.7" r="8.6"/>
<circle cx="1107.6" cy="951.1" r="8.6"/><circle cx="1106.4" cy="987.7" r="8.6"/><circle cx="1107.0" cy="995.9" r="8.6"/><circle cx="1106.7" cy="979.7" r="8.6"/><circle cx="1106.1" cy="968.9" r="8.6"/><circle cx="1107.3" cy="970.4" r="8.6"/>
<circle cx="1106.9" cy="964.3" r="8.6"/><circle cx="1107.8" cy="975.5" r="8.6"/><circle cx="1107.6" cy="1005.2" r="8.6"/><circle cx="1107.6" cy="973.8" r="8.6"/><circle cx="1106.3" cy="918.2" r="8.6"/><circle cx="1111.1" cy="989.2" r="8.6"/>
<circle cx="1111.9" cy="981.3" r="8.6"/><circle cx="1111.8" cy="960.9" r="8.6"/><circle cx="1111.0" cy="953.2" r="8.6"/><circle cx="1112.2" cy="945.8" r="8.6"/><circle cx="1112.5" cy="964.0" r="8.6"/><circle cx="1111.3" cy="961.3" r="8.6"/>
<circle cx="1111.4" cy="964.7" r="8.6"/><circle cx="1112.4" cy="960.9" r="8.6"/><circle cx="1111.9" cy="962.1" r="8.6"/><circle cx="1110.9" cy="957.5" r="8.6"/><circle cx="1111.5" cy="985.4" r="8.6"/><circle cx="1117.4" cy="989.9" r="8.6"/>
<circle cx="1116.9" cy="995.2" r="8.6"/><circle cx="1116.5" cy="980.8" r="8.6"/><circle cx="1116.8" cy="996.0" r="8.6"/><circle cx="1115.9" cy="984.8" r="8.6"/><circle cx="1116.1" cy="1003.2" r="8.6"/><circle cx="1117.7" cy="975.5" r="8.6"/>
<circle cx="1116.1" cy="957.5" r="8.6"/><circle cx="1116.7" cy="991.6" r="8.6"/><circle cx="1117.3" cy="993.2" r="8.6"/><circle cx="1116.0" cy="950.5" r="8.6"/><circle cx="1117.8" cy="1000.6" r="8.6"/><circle cx="1116.3" cy="943.9" r="8.6"/>
<circle cx="1122.6" cy="958.8" r="8.6"/><circle cx="1121.6" cy="993.2" r="8.6"/><circle cx="1122.6" cy="996.6" r="8.6"/><circle cx="1122.1" cy="983.8" r="8.6"/><circle cx="1121.5" cy="982.3" r="8.6"/><circle cx="1122.4" cy="995.4" r="8.6"/>
<circle cx="1121.8" cy="991.2" r="8.6"/><circle cx="1121.3" cy="979.7" r="8.6"/><circle cx="1122.7" cy="995.1" r="8.6"/><circle cx="1122.4" cy="968.0" r="8.6"/><circle cx="1121.5" cy="962.5" r="8.6"/><circle cx="1127.3" cy="953.2" r="8.6"/>
<circle cx="1127.0" cy="982.0" r="8.6"/><circle cx="1126.1" cy="941.1" r="8.6"/><circle cx="1127.6" cy="965.4" r="8.6"/><circle cx="1126.9" cy="975.3" r="8.6"/><circle cx="1126.5" cy="957.1" r="8.6"/><circle cx="1126.8" cy="966.4" r="8.6"/>
<circle cx="1126.3" cy="959.7" r="8.6"/><circle cx="1127.7" cy="996.8" r="8.6"/><circle cx="1127.6" cy="971.5" r="8.6"/><circle cx="1128.0" cy="994.7" r="8.6"/><circle cx="1127.4" cy="891.5" r="8.6"/><circle cx="1132.6" cy="964.0" r="8.6"/>
<circle cx="1131.7" cy="987.7" r="8.6"/><circle cx="1131.2" cy="983.9" r="8.6"/><circle cx="1132.0" cy="992.8" r="8.6"/><circle cx="1132.9" cy="975.3" r="8.6"/><circle cx="1132.2" cy="981.7" r="8.6"/><circle cx="1132.3" cy="964.3" r="8.6"/>
<circle cx="1132.6" cy="982.3" r="8.6"/><circle cx="1132.4" cy="980.8" r="8.6"/><circle cx="1133.0" cy="986.3" r="8.6"/><circle cx="1133.0" cy="1000.5" r="8.6"/><circle cx="1132.6" cy="907.8" r="8.6"/><circle cx="1136.2" cy="988.1" r="8.6"/>
<circle cx="1137.0" cy="985.4" r="8.6"/><circle cx="1136.9" cy="973.8" r="8.6"/><circle cx="1136.2" cy="971.5" r="8.6"/><circle cx="1136.6" cy="970.1" r="8.6"/><circle cx="1138.1" cy="980.2" r="8.6"/><circle cx="1137.9" cy="965.7" r="8.6"/>
<circle cx="1137.0" cy="997.9" r="8.6"/><circle cx="1137.9" cy="993.2" r="8.6"/><circle cx="1138.0" cy="970.1" r="8.6"/><circle cx="1137.9" cy="982.2" r="8.6"/><circle cx="1137.6" cy="887.6" r="8.6"/><circle cx="1143.1" cy="955.2" r="8.6"/>
<circle cx="1141.8" cy="984.8" r="8.6"/><circle cx="1142.5" cy="970.4" r="8.6"/><circle cx="1141.2" cy="932.4" r="8.6"/><circle cx="1143.1" cy="937.4" r="8.6"/><circle cx="1142.5" cy="991.5" r="8.6"/><circle cx="1143.0" cy="947.0" r="8.6"/>
<circle cx="1142.7" cy="982.0" r="8.6"/><circle cx="1141.3" cy="983.3" r="8.6"/><circle cx="1142.7" cy="973.1" r="8.6"/><circle cx="1142.0" cy="991.5" r="8.6"/><circle cx="1141.6" cy="928.8" r="8.6"/><circle cx="1147.8" cy="997.8" r="8.6"/>
<circle cx="1146.3" cy="965.0" r="8.6"/><circle cx="1146.6" cy="992.7" r="8.6"/><circle cx="1146.4" cy="967.0" r="8.6"/><circle cx="1147.4" cy="968.0" r="8.6"/><circle cx="1146.5" cy="958.8" r="8.6"/><circle cx="1147.8" cy="965.0" r="8.6"/>
<circle cx="1147.1" cy="964.0" r="8.6"/><circle cx="1147.8" cy="949.4" r="8.6"/><circle cx="1148.1" cy="966.4" r="8.6"/><circle cx="1148.2" cy="984.7" r="8.6"/><circle cx="1146.6" cy="982.2" r="8.6"/><circle cx="1147.0" cy="943.2" r="8.6"/>
<circle cx="1151.8" cy="957.5" r="8.6"/><circle cx="1153.1" cy="992.8" r="8.6"/><circle cx="1153.0" cy="968.3" r="8.6"/><circle cx="1151.7" cy="980.6" r="8.6"/><circle cx="1152.5" cy="972.6" r="8.6"/><circle cx="1151.7" cy="973.3" r="8.6"/>
<circle cx="1151.4" cy="989.2" r="8.6"/><circle cx="1151.7" cy="961.3" r="8.6"/><circle cx="1151.7" cy="989.4" r="8.6"/><circle cx="1151.3" cy="992.6" r="8.6"/><circle cx="1151.3" cy="990.7" r="8.6"/><circle cx="1152.9" cy="987.9" r="8.6"/>
<circle cx="1157.3" cy="985.2" r="8.6"/><circle cx="1157.4" cy="985.0" r="8.6"/><circle cx="1156.8" cy="971.2" r="8.6"/><circle cx="1158.1" cy="959.7" r="8.6"/><circle cx="1157.2" cy="958.4" r="8.6"/><circle cx="1157.2" cy="983.8" r="8.6"/>
<circle cx="1157.8" cy="978.7" r="8.6"/><circle cx="1158.1" cy="990.2" r="8.6"/><circle cx="1158.3" cy="975.5" r="8.6"/><circle cx="1157.3" cy="1005.6" r="8.6"/><circle cx="1157.2" cy="998.4" r="8.6"/><circle cx="1158.0" cy="948.8" r="8.6"/>
<circle cx="1157.2" cy="896.9" r="8.6"/><circle cx="1161.8" cy="986.2" r="8.6"/><circle cx="1161.7" cy="987.4" r="8.6"/><circle cx="1162.4" cy="961.7" r="8.6"/><circle cx="1162.2" cy="943.9" r="8.6"/><circle cx="1162.3" cy="992.2" r="8.6"/>
<circle cx="1162.1" cy="969.5" r="8.6"/><circle cx="1161.7" cy="957.5" r="8.6"/><circle cx="1161.6" cy="958.4" r="8.6"/><circle cx="1162.9" cy="985.7" r="8.6"/><circle cx="1162.7" cy="954.2" r="8.6"/><circle cx="1162.8" cy="991.3" r="8.6"/>
<circle cx="1162.7" cy="976.4" r="8.6"/><circle cx="1166.5" cy="988.0" r="8.6"/><circle cx="1167.1" cy="957.1" r="8.6"/><circle cx="1167.5" cy="985.7" r="8.6"/><circle cx="1166.6" cy="961.3" r="8.6"/><circle cx="1167.4" cy="962.9" r="8.6"/>
<circle cx="1168.3" cy="992.7" r="8.6"/><circle cx="1167.8" cy="953.7" r="8.6"/><circle cx="1168.3" cy="1001.6" r="8.6"/><circle cx="1168.2" cy="980.8" r="8.6"/><circle cx="1167.4" cy="997.9" r="8.6"/><circle cx="1166.5" cy="998.8" r="8.6"/>
<circle cx="1166.6" cy="928.8" r="8.6"/><circle cx="1171.9" cy="978.3" r="8.6"/><circle cx="1172.0" cy="956.6" r="8.6"/><circle cx="1171.8" cy="967.0" r="8.6"/><circle cx="1171.9" cy="954.7" r="8.6"/><circle cx="1172.0" cy="972.0" r="8.6"/>
<circle cx="1172.3" cy="995.1" r="8.6"/><circle cx="1172.0" cy="967.7" r="8.6"/><circle cx="1172.8" cy="1002.7" r="8.6"/><circle cx="1172.0" cy="966.7" r="8.6"/><circle cx="1172.0" cy="953.7" r="8.6"/><circle cx="1172.3" cy="977.3" r="8.6"/>
<circle cx="1171.8" cy="963.2" r="8.6"/><circle cx="1176.7" cy="985.8" r="8.6"/><circle cx="1176.6" cy="968.6" r="8.6"/><circle cx="1178.4" cy="991.8" r="8.6"/><circle cx="1177.6" cy="996.5" r="8.6"/><circle cx="1178.3" cy="974.8" r="8.6"/>
<circle cx="1178.5" cy="958.0" r="8.6"/><circle cx="1177.0" cy="994.2" r="8.6"/><circle cx="1178.5" cy="979.1" r="8.6"/><circle cx="1177.1" cy="968.0" r="8.6"/><circle cx="1176.9" cy="991.5" r="8.6"/><circle cx="1177.1" cy="939.7" r="8.6"/>
<circle cx="1178.5" cy="938.2" r="8.6"/><circle cx="1182.4" cy="1003.6" r="8.6"/><circle cx="1183.0" cy="983.8" r="8.6"/><circle cx="1182.7" cy="998.7" r="8.6"/><circle cx="1182.1" cy="981.3" r="8.6"/><circle cx="1182.2" cy="948.8" r="8.6"/>
<circle cx="1182.9" cy="998.4" r="8.6"/><circle cx="1183.3" cy="969.8" r="8.6"/><circle cx="1183.4" cy="962.5" r="8.6"/><circle cx="1181.9" cy="970.1" r="8.6"/><circle cx="1182.1" cy="977.9" r="8.6"/><circle cx="1181.8" cy="984.7" r="8.6"/>
<circle cx="1182.0" cy="893.3" r="8.6"/><circle cx="1187.4" cy="988.0" r="8.6"/><circle cx="1188.3" cy="997.5" r="8.6"/><circle cx="1186.8" cy="957.5" r="8.6"/><circle cx="1186.7" cy="986.7" r="8.6"/><circle cx="1186.8" cy="956.1" r="8.6"/>
<circle cx="1187.3" cy="960.9" r="8.6"/><circle cx="1187.1" cy="953.7" r="8.6"/><circle cx="1188.4" cy="968.3" r="8.6"/><circle cx="1187.6" cy="983.9" r="8.6"/><circle cx="1188.4" cy="944.5" r="8.6"/><circle cx="1187.6" cy="993.7" r="8.6"/>
<circle cx="1187.4" cy="928.8" r="8.6"/><circle cx="1192.7" cy="990.0" r="8.6"/><circle cx="1193.7" cy="974.6" r="8.6"/><circle cx="1191.8" cy="953.7" r="8.6"/><circle cx="1192.6" cy="1001.1" r="8.6"/><circle cx="1192.1" cy="975.5" r="8.6"/>
<circle cx="1192.0" cy="947.0" r="8.6"/><circle cx="1192.9" cy="980.1" r="8.6"/><circle cx="1193.6" cy="990.8" r="8.6"/><circle cx="1192.6" cy="939.7" r="8.6"/><circle cx="1192.8" cy="981.1" r="8.6"/><circle cx="1193.1" cy="1006.4" r="8.6"/>
<circle cx="1193.4" cy="999.5" r="8.6"/><circle cx="1193.6" cy="941.8" r="8.6"/><circle cx="1196.9" cy="996.2" r="8.6"/><circle cx="1197.4" cy="947.7" r="8.6"/><circle cx="1197.5" cy="998.5" r="8.6"/><circle cx="1197.0" cy="995.7" r="8.6"/>
<circle cx="1198.0" cy="1005.0" r="8.6"/><circle cx="1197.2" cy="953.7" r="8.6"/><circle cx="1197.8" cy="999.7" r="8.6"/><circle cx="1198.2" cy="956.1" r="8.6"/><circle cx="1196.8" cy="1001.0" r="8.6"/><circle cx="1197.8" cy="985.4" r="8.6"/>
<circle cx="1198.0" cy="980.6" r="8.6"/><circle cx="1198.6" cy="983.1" r="8.6"/><circle cx="1198.1" cy="938.9" r="8.6"/><circle cx="1202.4" cy="977.9" r="8.6"/><circle cx="1203.8" cy="996.7" r="8.6"/><circle cx="1203.1" cy="944.5" r="8.6"/>
<circle cx="1202.6" cy="969.2" r="8.6"/><circle cx="1203.7" cy="944.5" r="8.6"/><circle cx="1202.0" cy="956.1" r="8.6"/><circle cx="1203.3" cy="994.8" r="8.6"/><circle cx="1203.1" cy="978.7" r="8.6"/><circle cx="1201.8" cy="948.8" r="8.6"/>
<circle cx="1202.7" cy="958.8" r="8.6"/><circle cx="1202.0" cy="993.3" r="8.6"/><circle cx="1207.5" cy="987.5" r="8.6"/><circle cx="1207.0" cy="989.7" r="8.6"/><circle cx="1207.9" cy="984.7" r="8.6"/><circle cx="1207.0" cy="960.1" r="8.6"/>
<circle cx="1207.8" cy="977.1" r="8.6"/><circle cx="1208.6" cy="991.2" r="8.6"/><circle cx="1208.0" cy="987.6" r="8.6"/><circle cx="1207.4" cy="975.5" r="8.6"/><circle cx="1207.3" cy="990.0" r="8.6"/><circle cx="1208.0" cy="981.0" r="8.6"/>
<circle cx="1207.9" cy="987.6" r="8.6"/><circle cx="1212.2" cy="988.2" r="8.6"/><circle cx="1212.3" cy="1001.7" r="8.6"/><circle cx="1213.2" cy="991.0" r="8.6"/><circle cx="1212.2" cy="987.7" r="8.6"/><circle cx="1213.7" cy="1001.8" r="8.6"/>
<circle cx="1213.8" cy="989.3" r="8.6"/><circle cx="1213.2" cy="940.4" r="8.6"/><circle cx="1212.4" cy="970.1" r="8.6"/><circle cx="1213.0" cy="983.9" r="8.6"/><circle cx="1213.5" cy="971.5" r="8.6"/><circle cx="1212.6" cy="981.1" r="8.6"/>
<circle cx="1213.2" cy="959.7" r="8.6"/><circle cx="1217.6" cy="948.8" r="8.6"/><circle cx="1218.3" cy="970.1" r="8.6"/><circle cx="1217.3" cy="981.0" r="8.6"/><circle cx="1218.0" cy="969.5" r="8.6"/><circle cx="1217.2" cy="973.1" r="8.6"/>
<circle cx="1218.7" cy="956.1" r="8.6"/><circle cx="1217.4" cy="956.6" r="8.6"/><circle cx="1218.8" cy="991.4" r="8.6"/><circle cx="1218.8" cy="972.3" r="8.6"/><circle cx="1218.9" cy="971.5" r="8.6"/><circle cx="1217.5" cy="993.8" r="8.6"/>
<circle cx="1218.3" cy="994.9" r="8.6"/><circle cx="1217.1" cy="947.0" r="8.6"/><circle cx="1223.9" cy="941.8" r="8.6"/><circle cx="1223.0" cy="962.9" r="8.6"/><circle cx="1222.9" cy="960.1" r="8.6"/><circle cx="1222.1" cy="982.0" r="8.6"/>
<circle cx="1222.7" cy="995.8" r="8.6"/><circle cx="1223.0" cy="976.0" r="8.6"/><circle cx="1222.0" cy="956.6" r="8.6"/><circle cx="1222.9" cy="946.4" r="8.6"/><circle cx="1222.3" cy="989.2" r="8.6"/><circle cx="1222.6" cy="991.0" r="8.6"/>
<circle cx="1223.8" cy="955.7" r="8.6"/><circle cx="1229.1" cy="992.1" r="8.6"/><circle cx="1227.3" cy="947.7" r="8.6"/><circle cx="1227.2" cy="1003.9" r="8.6"/><circle cx="1228.3" cy="983.5" r="8.6"/><circle cx="1227.5" cy="974.1" r="8.6"/>
<circle cx="1227.5" cy="988.9" r="8.6"/><circle cx="1229.1" cy="995.3" r="8.6"/><circle cx="1228.1" cy="988.2" r="8.6"/><circle cx="1227.7" cy="983.0" r="8.6"/><circle cx="1227.8" cy="987.3" r="8.6"/><circle cx="1227.5" cy="968.9" r="8.6"/>
<circle cx="1227.6" cy="970.7" r="8.6"/><circle cx="1234.1" cy="999.9" r="8.6"/><circle cx="1232.9" cy="961.3" r="8.6"/><circle cx="1233.6" cy="994.3" r="8.6"/><circle cx="1233.1" cy="951.6" r="8.6"/><circle cx="1232.5" cy="983.8" r="8.6"/>
<circle cx="1232.8" cy="991.4" r="8.6"/><circle cx="1232.8" cy="996.1" r="8.6"/><circle cx="1232.6" cy="960.9" r="8.6"/><circle cx="1233.7" cy="952.7" r="8.6"/><circle cx="1232.3" cy="945.2" r="8.6"/><circle cx="1232.9" cy="984.5" r="8.6"/>
<circle cx="1239.0" cy="945.2" r="8.6"/><circle cx="1238.3" cy="982.2" r="8.6"/><circle cx="1238.7" cy="986.1" r="8.6"/><circle cx="1238.6" cy="983.6" r="8.6"/><circle cx="1238.2" cy="951.1" r="8.6"/><circle cx="1238.1" cy="947.7" r="8.6"/>
<circle cx="1239.1" cy="999.1" r="8.6"/><circle cx="1238.8" cy="987.4" r="8.6"/><circle cx="1238.3" cy="951.1" r="8.6"/><circle cx="1239.2" cy="961.3" r="8.6"/><circle cx="1237.5" cy="976.2" r="8.6"/><circle cx="1238.7" cy="891.5" r="8.6"/>
<circle cx="1243.1" cy="995.9" r="8.6"/><circle cx="1242.6" cy="952.2" r="8.6"/><circle cx="1243.2" cy="938.9" r="8.6"/><circle cx="1244.1" cy="972.6" r="8.6"/><circle cx="1242.3" cy="996.2" r="8.6"/><circle cx="1243.6" cy="994.4" r="8.6"/>
<circle cx="1243.3" cy="996.9" r="8.6"/><circle cx="1244.0" cy="941.1" r="8.6"/><circle cx="1243.2" cy="996.1" r="8.6"/><circle cx="1242.7" cy="974.1" r="8.6"/><circle cx="1243.9" cy="937.4" r="8.6"/><circle cx="1242.4" cy="1001.6" r="8.6"/>
<circle cx="1248.8" cy="991.6" r="8.6"/><circle cx="1247.5" cy="986.3" r="8.6"/><circle cx="1247.8" cy="941.1" r="8.6"/><circle cx="1248.8" cy="991.1" r="8.6"/><circle cx="1248.9" cy="921.6" r="8.6"/><circle cx="1248.5" cy="966.4" r="8.6"/>
<circle cx="1249.1" cy="986.9" r="8.6"/><circle cx="1248.1" cy="961.7" r="8.6"/><circle cx="1247.7" cy="987.6" r="8.6"/><circle cx="1248.2" cy="966.4" r="8.6"/><circle cx="1247.9" cy="954.2" r="8.6"/><circle cx="1254.1" cy="928.8" r="8.6"/>
<circle cx="1253.3" cy="953.2" r="8.6"/><circle cx="1252.4" cy="968.3" r="8.6"/><circle cx="1253.7" cy="912.0" r="8.6"/><circle cx="1253.1" cy="993.6" r="8.6"/><circle cx="1253.1" cy="977.9" r="8.6"/><circle cx="1253.1" cy="915.8" r="8.6"/>
<circle cx="1252.9" cy="945.8" r="8.6"/><circle cx="1252.6" cy="991.0" r="8.6"/><circle cx="1253.6" cy="958.0" r="8.6"/><circle cx="1253.4" cy="982.0" r="8.6"/><circle cx="1253.2" cy="866.9" r="8.6"/><circle cx="1259.3" cy="989.7" r="8.6"/>
<circle cx="1258.6" cy="950.0" r="8.6"/><circle cx="1257.8" cy="938.2" r="8.6"/><circle cx="1258.6" cy="943.9" r="8.6"/><circle cx="1257.9" cy="992.5" r="8.6"/><circle cx="1257.5" cy="976.0" r="8.6"/><circle cx="1258.7" cy="979.5" r="8.6"/>
<circle cx="1257.6" cy="1002.4" r="8.6"/><circle cx="1257.7" cy="944.5" r="8.6"/><circle cx="1258.7" cy="970.9" r="8.6"/><circle cx="1259.3" cy="987.1" r="8.6"/><circle cx="1257.5" cy="914.6" r="8.6"/><circle cx="1263.6" cy="957.1" r="8.6"/>
<circle cx="1264.2" cy="954.7" r="8.6"/><circle cx="1263.6" cy="991.4" r="8.6"/><circle cx="1263.0" cy="984.1" r="8.6"/><circle cx="1263.9" cy="995.6" r="8.6"/><circle cx="1262.7" cy="943.9" r="8.6"/><circle cx="1262.7" cy="986.1" r="8.6"/>
<circle cx="1262.5" cy="987.7" r="8.6"/><circle cx="1263.6" cy="969.5" r="8.6"/><circle cx="1263.6" cy="941.1" r="8.6"/><circle cx="1263.4" cy="993.6" r="8.6"/><circle cx="1263.5" cy="958.0" r="8.6"/><circle cx="1262.8" cy="917.0" r="8.6"/>
<circle cx="1268.5" cy="976.6" r="8.6"/><circle cx="1269.2" cy="961.7" r="8.6"/><circle cx="1267.7" cy="964.3" r="8.6"/><circle cx="1268.3" cy="977.3" r="8.6"/><circle cx="1267.6" cy="977.1" r="8.6"/><circle cx="1269.2" cy="931.6" r="8.6"/>
<circle cx="1269.3" cy="961.7" r="8.6"/><circle cx="1268.5" cy="932.4" r="8.6"/><circle cx="1268.4" cy="937.4" r="8.6"/><circle cx="1269.4" cy="934.2" r="8.6"/><circle cx="1268.3" cy="971.2" r="8.6"/><circle cx="1268.1" cy="977.5" r="8.6"/>
<circle cx="1273.5" cy="953.2" r="8.6"/><circle cx="1274.3" cy="964.7" r="8.6"/><circle cx="1274.0" cy="948.2" r="8.6"/><circle cx="1273.3" cy="936.6" r="8.6"/><circle cx="1273.8" cy="933.3" r="8.6"/><circle cx="1273.1" cy="1004.8" r="8.6"/>
<circle cx="1272.6" cy="961.7" r="8.6"/><circle cx="1273.5" cy="1001.1" r="8.6"/><circle cx="1272.6" cy="979.7" r="8.6"/><circle cx="1273.1" cy="929.7" r="8.6"/><circle cx="1274.2" cy="956.6" r="8.6"/><circle cx="1279.1" cy="992.6" r="8.6"/>
<circle cx="1278.4" cy="931.6" r="8.6"/><circle cx="1279.0" cy="970.7" r="8.6"/><circle cx="1278.3" cy="915.8" r="8.6"/><circle cx="1278.2" cy="956.6" r="8.6"/><circle cx="1277.9" cy="959.7" r="8.6"/><circle cx="1278.4" cy="990.1" r="8.6"/>
<circle cx="1278.8" cy="992.7" r="8.6"/><circle cx="1277.8" cy="973.8" r="8.6"/><circle cx="1279.5" cy="945.2" r="8.6"/><circle cx="1277.6" cy="991.0" r="8.6"/><circle cx="1283.3" cy="984.1" r="8.6"/><circle cx="1282.7" cy="958.0" r="8.6"/>
<circle cx="1283.2" cy="930.7" r="8.6"/><circle cx="1284.4" cy="938.2" r="8.6"/><circle cx="1283.1" cy="950.0" r="8.6"/><circle cx="1283.7" cy="923.8" r="8.6"/><circle cx="1284.3" cy="995.2" r="8.6"/><circle cx="1282.7" cy="924.8" r="8.6"/>
<circle cx="1284.1" cy="900.2" r="8.6"/><circle cx="1283.7" cy="935.8" r="8.6"/><circle cx="1282.7" cy="960.5" r="8.6"/><circle cx="1284.4" cy="992.3" r="8.6"/><circle cx="1284.2" cy="903.4" r="8.6"/><circle cx="1288.7" cy="935.0" r="8.6"/>
<circle cx="1289.7" cy="966.7" r="8.6"/><circle cx="1289.0" cy="907.8" r="8.6"/><circle cx="1289.2" cy="989.0" r="8.6"/><circle cx="1288.4" cy="983.6" r="8.6"/><circle cx="1289.7" cy="938.2" r="8.6"/><circle cx="1288.7" cy="920.5" r="8.6"/>
<circle cx="1289.0" cy="945.8" r="8.6"/><circle cx="1288.5" cy="989.9" r="8.6"/><circle cx="1288.7" cy="969.8" r="8.6"/><circle cx="1288.1" cy="994.1" r="8.6"/><circle cx="1293.2" cy="980.8" r="8.6"/><circle cx="1294.4" cy="959.3" r="8.6"/>
<circle cx="1294.7" cy="915.8" r="8.6"/><circle cx="1293.4" cy="996.9" r="8.6"/><circle cx="1294.4" cy="975.0" r="8.6"/><circle cx="1293.4" cy="968.3" r="8.6"/><circle cx="1293.9" cy="977.9" r="8.6"/><circle cx="1293.1" cy="922.7" r="8.6"/>
<circle cx="1294.6" cy="992.7" r="8.6"/><circle cx="1293.8" cy="923.8" r="8.6"/><circle cx="1293.9" cy="924.8" r="8.6"/><circle cx="1294.3" cy="974.1" r="8.6"/><circle cx="1293.8" cy="893.3" r="8.6"/><circle cx="1299.5" cy="926.9" r="8.6"/>
<circle cx="1299.6" cy="998.2" r="8.6"/><circle cx="1298.2" cy="979.7" r="8.6"/><circle cx="1299.8" cy="940.4" r="8.6"/><circle cx="1299.7" cy="993.8" r="8.6"/><circle cx="1298.6" cy="945.8" r="8.6"/><circle cx="1299.6" cy="924.8" r="8.6"/>
<circle cx="1299.7" cy="1000.9" r="8.6"/><circle cx="1299.3" cy="929.7" r="8.6"/><circle cx="1298.5" cy="942.5" r="8.6"/><circle cx="1299.1" cy="999.6" r="8.6"/><circle cx="1299.3" cy="879.1" r="8.6"/><circle cx="1303.4" cy="981.5" r="8.6"/>
<circle cx="1304.2" cy="942.5" r="8.6"/><circle cx="1302.9" cy="954.2" r="8.6"/><circle cx="1304.8" cy="948.8" r="8.6"/><circle cx="1303.4" cy="999.4" r="8.6"/><circle cx="1303.6" cy="969.8" r="8.6"/><circle cx="1304.8" cy="953.2" r="8.6"/>
<circle cx="1303.1" cy="944.5" r="8.6"/><circle cx="1303.1" cy="988.0" r="8.6"/><circle cx="1303.8" cy="904.9" r="8.6"/><circle cx="1303.5" cy="906.4" r="8.6"/><circle cx="1303.5" cy="900.2" r="8.6"/><circle cx="1308.0" cy="986.9" r="8.6"/>
<circle cx="1309.3" cy="963.2" r="8.6"/><circle cx="1309.8" cy="982.5" r="8.6"/><circle cx="1308.5" cy="961.7" r="8.6"/><circle cx="1308.7" cy="952.7" r="8.6"/><circle cx="1309.4" cy="909.2" r="8.6"/><circle cx="1308.5" cy="925.9" r="8.6"/>
<circle cx="1309.6" cy="898.6" r="8.6"/><circle cx="1309.9" cy="912.0" r="8.6"/><circle cx="1308.4" cy="993.4" r="8.6"/><circle cx="1308.8" cy="998.5" r="8.6"/><circle cx="1308.2" cy="969.5" r="8.6"/><circle cx="1309.0" cy="852.4" r="8.6"/>
<circle cx="1313.5" cy="930.7" r="8.6"/><circle cx="1314.9" cy="934.2" r="8.6"/><circle cx="1313.8" cy="920.5" r="8.6"/><circle cx="1313.5" cy="996.9" r="8.6"/><circle cx="1314.4" cy="931.6" r="8.6"/><circle cx="1314.8" cy="957.5" r="8.6"/>
<circle cx="1313.7" cy="993.6" r="8.6"/><circle cx="1314.4" cy="912.0" r="8.6"/><circle cx="1313.6" cy="936.6" r="8.6"/><circle cx="1314.9" cy="991.8" r="8.6"/><circle cx="1313.6" cy="952.2" r="8.6"/><circle cx="1313.0" cy="991.8" r="8.6"/>
<circle cx="1313.0" cy="845.8" r="8.6"/><circle cx="1319.4" cy="938.2" r="8.6"/><circle cx="1318.1" cy="979.5" r="8.6"/><circle cx="1318.5" cy="992.7" r="8.6"/><circle cx="1318.9" cy="900.2" r="8.6"/><circle cx="1319.9" cy="920.5" r="8.6"/>
<circle cx="1318.5" cy="842.3" r="8.6"/><circle cx="1318.0" cy="932.4" r="8.6"/><circle cx="1319.4" cy="998.9" r="8.6"/><circle cx="1319.4" cy="956.6" r="8.6"/><circle cx="1318.3" cy="919.4" r="8.6"/><circle cx="1319.9" cy="855.5" r="8.6"/>
<circle cx="1319.7" cy="849.2" r="8.6"/><circle cx="1324.7" cy="959.3" r="8.6"/><circle cx="1324.4" cy="992.6" r="8.6"/><circle cx="1325.1" cy="963.2" r="8.6"/><circle cx="1325.0" cy="931.6" r="8.6"/><circle cx="1324.8" cy="989.7" r="8.6"/>
<circle cx="1323.2" cy="918.2" r="8.6"/><circle cx="1323.9" cy="926.9" r="8.6"/><circle cx="1323.4" cy="970.9" r="8.6"/><circle cx="1324.3" cy="913.3" r="8.6"/><circle cx="1324.1" cy="989.8" r="8.6"/><circle cx="1323.2" cy="998.0" r="8.6"/>
<circle cx="1323.2" cy="950.0" r="8.6"/><circle cx="1328.4" cy="910.6" r="8.6"/><circle cx="1329.7" cy="866.9" r="8.6"/><circle cx="1329.9" cy="876.9" r="8.6"/><circle cx="1329.2" cy="986.5" r="8.6"/><circle cx="1330.0" cy="861.4" r="8.6"/>
<circle cx="1328.6" cy="969.2" r="8.6"/><circle cx="1328.5" cy="979.1" r="8.6"/><circle cx="1328.9" cy="979.9" r="8.6"/><circle cx="1329.0" cy="945.2" r="8.6"/><circle cx="1328.5" cy="967.4" r="8.6"/><circle cx="1330.0" cy="988.0" r="8.6"/>
<circle cx="1329.6" cy="885.6" r="8.6"/><circle cx="1328.7" cy="855.5" r="8.6"/><circle cx="1333.8" cy="972.0" r="8.6"/><circle cx="1335.1" cy="931.6" r="8.6"/><circle cx="1333.2" cy="887.6" r="8.6"/><circle cx="1334.5" cy="943.2" r="8.6"/>
<circle cx="1335.0" cy="948.2" r="8.6"/><circle cx="1334.8" cy="983.6" r="8.6"/><circle cx="1334.3" cy="971.2" r="8.6"/><circle cx="1333.5" cy="893.3" r="8.6"/><circle cx="1333.6" cy="987.6" r="8.6"/><circle cx="1335.1" cy="855.5" r="8.6"/>
<circle cx="1334.9" cy="970.7" r="8.6"/><circle cx="1339.0" cy="922.7" r="8.6"/><circle cx="1338.6" cy="958.0" r="8.6"/><circle cx="1338.4" cy="937.4" r="8.6"/><circle cx="1339.0" cy="943.2" r="8.6"/><circle cx="1339.8" cy="988.5" r="8.6"/>
<circle cx="1338.4" cy="954.2" r="8.6"/><circle cx="1339.1" cy="925.9" r="8.6"/><circle cx="1338.4" cy="975.5" r="8.6"/><circle cx="1338.6" cy="965.7" r="8.6"/><circle cx="1339.3" cy="895.1" r="8.6"/><circle cx="1339.5" cy="765.8" r="8.6"/>
<circle cx="1344.5" cy="946.4" r="8.6"/><circle cx="1344.3" cy="941.8" r="8.6"/><circle cx="1344.5" cy="941.1" r="8.6"/><circle cx="1344.6" cy="909.2" r="8.6"/><circle cx="1344.5" cy="900.2" r="8.6"/><circle cx="1343.8" cy="956.1" r="8.6"/>
<circle cx="1343.7" cy="947.0" r="8.6"/><circle cx="1344.5" cy="966.7" r="8.6"/><circle cx="1345.1" cy="943.2" r="8.6"/><circle cx="1345.0" cy="830.9" r="8.6"/><circle cx="1344.2" cy="723.3" r="8.6"/><circle cx="1350.1" cy="968.9" r="8.6"/>
<circle cx="1349.6" cy="826.8" r="8.6"/><circle cx="1350.0" cy="959.3" r="8.6"/><circle cx="1349.3" cy="927.8" r="8.6"/><circle cx="1349.3" cy="834.9" r="8.6"/><circle cx="1349.7" cy="887.6" r="8.6"/><circle cx="1348.7" cy="935.8" r="8.6"/>
<circle cx="1349.5" cy="935.0" r="8.6"/><circle cx="1349.3" cy="896.9" r="8.6"/><circle cx="1348.9" cy="750.4" r="8.6"/><circle cx="1355.0" cy="958.4" r="8.6"/><circle cx="1355.2" cy="914.6" r="8.6"/><circle cx="1355.3" cy="826.8" r="8.6"/>
<circle cx="1354.8" cy="907.8" r="8.6"/><circle cx="1354.4" cy="826.8" r="8.6"/><circle cx="1354.0" cy="826.8" r="8.6"/><circle cx="1355.3" cy="906.4" r="8.6"/><circle cx="1355.0" cy="822.5" r="8.6"/><circle cx="1354.9" cy="750.4" r="8.6"/>
<circle cx="1353.5" cy="741.9" r="8.6"/><circle cx="1360.2" cy="895.1" r="8.6"/><circle cx="1359.4" cy="842.3" r="8.6"/><circle cx="1360.1" cy="803.1" r="8.6"/><circle cx="1359.0" cy="842.3" r="8.6"/><circle cx="1358.7" cy="876.9" r="8.6"/>
<circle cx="1360.1" cy="765.8" r="8.6"/><circle cx="1359.5" cy="845.8" r="8.6"/><circle cx="1360.4" cy="818.0" r="8.6"/><circle cx="1365.0" cy="803.1" r="8.6"/><circle cx="1364.5" cy="958.4" r="8.6"/><circle cx="1364.3" cy="885.6" r="8.6"/>
<circle cx="1364.9" cy="779.6" r="8.6"/><circle cx="1363.8" cy="866.9" r="8.6"/><circle cx="1364.4" cy="893.3" r="8.6"/><circle cx="1363.9" cy="813.3" r="8.6"/><circle cx="1365.2" cy="891.5" r="8.6"/><circle cx="1365.1" cy="758.3" r="8.6"/>
<circle cx="1369.9" cy="907.8" r="8.6"/><circle cx="1368.8" cy="874.5" r="8.6"/><circle cx="1370.2" cy="772.9" r="8.6"/><circle cx="1369.3" cy="912.0" r="8.6"/><circle cx="1368.7" cy="961.3" r="8.6"/><circle cx="1369.4" cy="881.4" r="8.6"/>
<circle cx="1369.8" cy="947.7" r="8.6"/><circle cx="1369.3" cy="732.9" r="8.6"/><circle cx="1375.3" cy="797.7" r="8.6"/><circle cx="1375.1" cy="915.8" r="8.6"/><circle cx="1374.8" cy="861.4" r="8.6"/><circle cx="1375.5" cy="883.5" r="8.6"/>
<circle cx="1374.7" cy="876.9" r="8.6"/><circle cx="1373.9" cy="928.8" r="8.6"/><circle cx="1373.6" cy="917.0" r="8.6"/><circle cx="1373.8" cy="919.4" r="8.6"/><circle cx="1374.5" cy="732.9" r="8.6"/><circle cx="1380.4" cy="947.0" r="8.6"/>
<circle cx="1379.9" cy="779.6" r="8.6"/><circle cx="1380.3" cy="765.8" r="8.6"/><circle cx="1380.5" cy="838.7" r="8.6"/><circle cx="1379.1" cy="941.1" r="8.6"/><circle cx="1379.0" cy="904.9" r="8.6"/><circle cx="1380.6" cy="948.8" r="8.6"/>
<circle cx="1385.2" cy="935.8" r="8.6"/><circle cx="1385.2" cy="822.5" r="8.6"/><circle cx="1385.7" cy="912.0" r="8.6"/><circle cx="1383.8" cy="861.4" r="8.6"/><circle cx="1385.1" cy="786.0" r="8.6"/><circle cx="1385.4" cy="885.6" r="8.6"/>
<circle cx="1384.0" cy="950.0" r="8.6"/><circle cx="1384.5" cy="732.9" r="8.6"/><circle cx="1390.3" cy="772.9" r="8.6"/><circle cx="1390.4" cy="931.6" r="8.6"/><circle cx="1389.8" cy="834.9" r="8.6"/><circle cx="1390.3" cy="758.3" r="8.6"/>
<circle cx="1390.3" cy="900.2" r="8.6"/><circle cx="1390.2" cy="920.5" r="8.6"/><circle cx="1389.4" cy="917.0" r="8.6"/><circle cx="1389.9" cy="732.9" r="8.6"/><circle cx="1394.5" cy="872.1" r="8.6"/><circle cx="1394.7" cy="849.2" r="8.6"/>
<circle cx="1394.9" cy="845.8" r="8.6"/><circle cx="1394.2" cy="849.2" r="8.6"/><circle cx="1394.2" cy="910.6" r="8.6"/><circle cx="1393.8" cy="813.3" r="8.6"/><circle cx="1394.6" cy="765.8" r="8.6"/><circle cx="1394.0" cy="765.8" r="8.6"/>
<circle cx="1394.3" cy="741.9" r="8.6"/><circle cx="1399.5" cy="758.3" r="8.6"/><circle cx="1400.0" cy="772.9" r="8.6"/><circle cx="1399.3" cy="918.2" r="8.6"/><circle cx="1399.1" cy="797.7" r="8.6"/><circle cx="1400.8" cy="904.9" r="8.6"/>
<circle cx="1399.5" cy="922.7" r="8.6"/><circle cx="1400.2" cy="941.1" r="8.6"/><circle cx="1399.7" cy="920.5" r="8.6"/><circle cx="1400.8" cy="732.9" r="8.6"/><circle cx="1404.2" cy="876.9" r="8.6"/><circle cx="1404.3" cy="797.7" r="8.6"/>
<circle cx="1404.9" cy="864.2" r="8.6"/><circle cx="1403.9" cy="792.0" r="8.6"/><circle cx="1404.8" cy="874.5" r="8.6"/><circle cx="1404.2" cy="813.3" r="8.6"/><circle cx="1404.3" cy="925.9" r="8.6"/><circle cx="1409.9" cy="869.5" r="8.6"/>
<circle cx="1409.8" cy="758.3" r="8.6"/><circle cx="1409.2" cy="885.6" r="8.6"/><circle cx="1410.5" cy="927.8" r="8.6"/><circle cx="1410.5" cy="936.6" r="8.6"/><circle cx="1409.4" cy="732.9" r="8.6"/><circle cx="1410.3" cy="887.6" r="8.6"/>
<circle cx="1414.1" cy="808.3" r="8.6"/><circle cx="1414.3" cy="915.8" r="8.6"/><circle cx="1415.8" cy="822.5" r="8.6"/><circle cx="1415.6" cy="842.3" r="8.6"/><circle cx="1414.9" cy="803.1" r="8.6"/><circle cx="1415.3" cy="786.0" r="8.6"/>
<circle cx="1414.1" cy="797.7" r="8.6"/><circle cx="1415.9" cy="954.7" r="8.6"/><circle cx="1414.6" cy="732.9" r="8.6"/><circle cx="1419.2" cy="834.9" r="8.6"/><circle cx="1420.7" cy="915.8" r="8.6"/><circle cx="1420.0" cy="926.9" r="8.6"/>
<circle cx="1419.7" cy="940.4" r="8.6"/><circle cx="1419.7" cy="927.8" r="8.6"/><circle cx="1420.9" cy="883.5" r="8.6"/><circle cx="1419.7" cy="845.8" r="8.6"/><circle cx="1420.2" cy="963.2" r="8.6"/><circle cx="1419.9" cy="906.4" r="8.6"/>
<circle cx="1420.4" cy="792.0" r="8.6"/><circle cx="1425.2" cy="947.7" r="8.6"/><circle cx="1425.2" cy="971.5" r="8.6"/><circle cx="1424.7" cy="994.3" r="8.6"/><circle cx="1425.3" cy="879.1" r="8.6"/><circle cx="1424.2" cy="989.6" r="8.6"/>
<circle cx="1425.6" cy="896.9" r="8.6"/><circle cx="1426.0" cy="907.8" r="8.6"/><circle cx="1425.0" cy="874.5" r="8.6"/><circle cx="1425.0" cy="906.4" r="8.6"/><circle cx="1425.3" cy="960.1" r="8.6"/><circle cx="1424.9" cy="872.1" r="8.6"/>
<circle cx="1426.0" cy="961.7" r="8.6"/><circle cx="1424.5" cy="772.9" r="8.6"/><circle cx="1430.4" cy="930.7" r="8.6"/><circle cx="1430.2" cy="994.2" r="8.6"/><circle cx="1429.7" cy="909.2" r="8.6"/><circle cx="1430.0" cy="948.8" r="8.6"/>
<circle cx="1431.0" cy="917.0" r="8.6"/><circle cx="1430.0" cy="917.0" r="8.6"/><circle cx="1430.2" cy="942.5" r="8.6"/><circle cx="1431.0" cy="901.8" r="8.6"/><circle cx="1430.0" cy="977.3" r="8.6"/><circle cx="1430.9" cy="997.3" r="8.6"/>
<circle cx="1429.3" cy="946.4" r="8.6"/><circle cx="1430.6" cy="869.5" r="8.6"/><circle cx="1429.4" cy="741.9" r="8.6"/><circle cx="1434.5" cy="968.6" r="8.6"/><circle cx="1435.5" cy="972.8" r="8.6"/><circle cx="1435.5" cy="933.3" r="8.6"/>
<circle cx="1434.2" cy="923.8" r="8.6"/><circle cx="1435.1" cy="940.4" r="8.6"/><circle cx="1435.9" cy="991.5" r="8.6"/><circle cx="1435.4" cy="966.1" r="8.6"/><circle cx="1435.6" cy="874.5" r="8.6"/><circle cx="1436.2" cy="996.7" r="8.6"/>
<circle cx="1434.6" cy="889.6" r="8.6"/><circle cx="1435.0" cy="971.5" r="8.6"/><circle cx="1434.5" cy="972.8" r="8.6"/><circle cx="1436.0" cy="792.0" r="8.6"/><circle cx="1435.4" cy="842.3" r="8.6"/><circle cx="1440.3" cy="965.0" r="8.6"/>
<circle cx="1440.2" cy="883.5" r="8.6"/><circle cx="1440.9" cy="950.5" r="8.6"/><circle cx="1440.7" cy="933.3" r="8.6"/><circle cx="1439.8" cy="914.6" r="8.6"/><circle cx="1439.9" cy="964.7" r="8.6"/><circle cx="1440.1" cy="910.6" r="8.6"/>
<circle cx="1439.4" cy="943.2" r="8.6"/><circle cx="1440.1" cy="858.5" r="8.6"/><circle cx="1439.5" cy="874.5" r="8.6"/><circle cx="1440.6" cy="957.1" r="8.6"/><circle cx="1439.9" cy="956.6" r="8.6"/><circle cx="1439.9" cy="741.9" r="8.6"/>
<circle cx="1439.7" cy="792.0" r="8.6"/><circle cx="1445.8" cy="903.4" r="8.6"/><circle cx="1444.6" cy="901.8" r="8.6"/><circle cx="1444.9" cy="988.2" r="8.6"/><circle cx="1445.3" cy="953.2" r="8.6"/><circle cx="1444.7" cy="874.5" r="8.6"/>
<circle cx="1445.5" cy="980.1" r="8.6"/><circle cx="1445.3" cy="927.8" r="8.6"/><circle cx="1444.8" cy="955.7" r="8.6"/><circle cx="1445.7" cy="965.7" r="8.6"/><circle cx="1445.6" cy="947.0" r="8.6"/><circle cx="1446.2" cy="858.5" r="8.6"/>
<circle cx="1445.0" cy="982.0" r="8.6"/><circle cx="1445.9" cy="826.8" r="8.6"/><circle cx="1445.6" cy="826.8" r="8.6"/><circle cx="1449.4" cy="876.9" r="8.6"/><circle cx="1450.5" cy="872.1" r="8.6"/><circle cx="1450.9" cy="907.8" r="8.6"/>
<circle cx="1451.1" cy="961.7" r="8.6"/><circle cx="1451.3" cy="912.0" r="8.6"/><circle cx="1451.2" cy="984.2" r="8.6"/><circle cx="1451.1" cy="881.4" r="8.6"/><circle cx="1449.7" cy="926.9" r="8.6"/><circle cx="1451.4" cy="999.6" r="8.6"/>
<circle cx="1451.3" cy="872.1" r="8.6"/><circle cx="1450.7" cy="938.2" r="8.6"/><circle cx="1451.1" cy="750.4" r="8.6"/><circle cx="1449.9" cy="732.9" r="8.6"/><circle cx="1454.7" cy="963.6" r="8.6"/><circle cx="1455.8" cy="845.8" r="8.6"/>
<circle cx="1454.5" cy="834.9" r="8.6"/><circle cx="1455.0" cy="869.5" r="8.6"/><circle cx="1454.5" cy="983.1" r="8.6"/><circle cx="1455.4" cy="896.9" r="8.6"/><circle cx="1454.7" cy="979.9" r="8.6"/><circle cx="1455.7" cy="826.8" r="8.6"/>
<circle cx="1455.2" cy="915.8" r="8.6"/><circle cx="1456.0" cy="864.2" r="8.6"/><circle cx="1455.1" cy="983.1" r="8.6"/><circle cx="1456.4" cy="750.4" r="8.6"/><circle cx="1459.9" cy="921.6" r="8.6"/><circle cx="1460.4" cy="858.5" r="8.6"/>
<circle cx="1461.3" cy="984.1" r="8.6"/><circle cx="1460.3" cy="974.1" r="8.6"/><circle cx="1459.9" cy="936.6" r="8.6"/><circle cx="1460.5" cy="943.9" r="8.6"/><circle cx="1460.1" cy="933.3" r="8.6"/><circle cx="1459.6" cy="992.6" r="8.6"/>
<circle cx="1461.1" cy="874.5" r="8.6"/><circle cx="1460.4" cy="978.7" r="8.6"/><circle cx="1461.2" cy="930.7" r="8.6"/><circle cx="1459.7" cy="909.2" r="8.6"/><circle cx="1460.1" cy="858.5" r="8.6"/><circle cx="1465.2" cy="910.6" r="8.6"/>
<circle cx="1466.4" cy="989.2" r="8.6"/><circle cx="1465.0" cy="945.2" r="8.6"/><circle cx="1464.7" cy="933.3" r="8.6"/><circle cx="1466.0" cy="941.8" r="8.6"/><circle cx="1466.1" cy="920.5" r="8.6"/><circle cx="1466.1" cy="939.7" r="8.6"/>
<circle cx="1465.3" cy="948.8" r="8.6"/><circle cx="1465.9" cy="980.8" r="8.6"/><circle cx="1464.9" cy="879.1" r="8.6"/><circle cx="1465.1" cy="903.4" r="8.6"/><circle cx="1466.4" cy="952.7" r="8.6"/><circle cx="1466.2" cy="797.7" r="8.6"/>
<circle cx="1470.6" cy="931.6" r="8.6"/><circle cx="1471.5" cy="907.8" r="8.6"/><circle cx="1471.5" cy="982.8" r="8.6"/><circle cx="1470.0" cy="978.7" r="8.6"/><circle cx="1470.0" cy="910.6" r="8.6"/><circle cx="1470.8" cy="893.3" r="8.6"/>
<circle cx="1470.7" cy="938.9" r="8.6"/><circle cx="1470.4" cy="968.3" r="8.6"/><circle cx="1470.6" cy="941.8" r="8.6"/><circle cx="1470.0" cy="906.4" r="8.6"/><circle cx="1470.4" cy="907.8" r="8.6"/><circle cx="1470.8" cy="772.9" r="8.6"/>
<circle cx="1475.1" cy="842.3" r="8.6"/><circle cx="1475.6" cy="893.3" r="8.6"/><circle cx="1476.4" cy="954.2" r="8.6"/><circle cx="1475.1" cy="887.6" r="8.6"/><circle cx="1476.5" cy="934.2" r="8.6"/><circle cx="1476.0" cy="842.3" r="8.6"/>
<circle cx="1476.4" cy="879.1" r="8.6"/><circle cx="1476.4" cy="932.4" r="8.6"/><circle cx="1476.1" cy="970.4" r="8.6"/><circle cx="1476.5" cy="907.8" r="8.6"/><circle cx="1475.0" cy="993.7" r="8.6"/><circle cx="1475.9" cy="929.7" r="8.6"/>
<circle cx="1475.3" cy="808.3" r="8.6"/><circle cx="1480.5" cy="960.5" r="8.6"/><circle cx="1480.8" cy="991.3" r="8.6"/><circle cx="1480.5" cy="927.8" r="8.6"/><circle cx="1480.3" cy="947.7" r="8.6"/><circle cx="1480.5" cy="976.0" r="8.6"/>
<circle cx="1481.2" cy="989.6" r="8.6"/><circle cx="1480.0" cy="889.6" r="8.6"/><circle cx="1480.6" cy="923.8" r="8.6"/><circle cx="1480.1" cy="887.6" r="8.6"/><circle cx="1481.5" cy="872.1" r="8.6"/><circle cx="1479.7" cy="918.2" r="8.6"/>
<circle cx="1480.4" cy="822.5" r="8.6"/><circle cx="1481.6" cy="830.9" r="8.6"/><circle cx="1486.4" cy="969.5" r="8.6"/><circle cx="1486.7" cy="885.6" r="8.6"/><circle cx="1486.6" cy="872.1" r="8.6"/><circle cx="1485.4" cy="968.3" r="8.6"/>
<circle cx="1486.6" cy="938.9" r="8.6"/><circle cx="1485.2" cy="849.2" r="8.6"/><circle cx="1485.0" cy="901.8" r="8.6"/><circle cx="1486.0" cy="955.2" r="8.6"/><circle cx="1484.8" cy="980.1" r="8.6"/><circle cx="1486.5" cy="958.8" r="8.6"/>
<circle cx="1486.7" cy="858.5" r="8.6"/><circle cx="1486.3" cy="898.6" r="8.6"/><circle cx="1485.2" cy="779.6" r="8.6"/><circle cx="1490.1" cy="961.3" r="8.6"/><circle cx="1490.5" cy="988.7" r="8.6"/><circle cx="1490.4" cy="996.5" r="8.6"/>
<circle cx="1490.2" cy="979.5" r="8.6"/><circle cx="1491.2" cy="992.7" r="8.6"/><circle cx="1490.6" cy="872.1" r="8.6"/><circle cx="1489.8" cy="918.2" r="8.6"/><circle cx="1491.7" cy="925.9" r="8.6"/><circle cx="1490.0" cy="924.8" r="8.6"/>
<circle cx="1491.5" cy="991.3" r="8.6"/><circle cx="1491.8" cy="932.4" r="8.6"/><circle cx="1490.9" cy="982.3" r="8.6"/><circle cx="1491.3" cy="852.4" r="8.6"/><circle cx="1495.2" cy="981.3" r="8.6"/><circle cx="1496.0" cy="988.3" r="8.6"/>
<circle cx="1495.4" cy="977.7" r="8.6"/><circle cx="1495.9" cy="943.9" r="8.6"/><circle cx="1496.4" cy="992.6" r="8.6"/><circle cx="1495.5" cy="962.9" r="8.6"/><circle cx="1495.2" cy="900.2" r="8.6"/><circle cx="1495.7" cy="925.9" r="8.6"/>
<circle cx="1496.8" cy="896.9" r="8.6"/><circle cx="1494.9" cy="920.5" r="8.6"/><circle cx="1495.4" cy="985.9" r="8.6"/><circle cx="1495.3" cy="939.7" r="8.6"/><circle cx="1495.8" cy="803.1" r="8.6"/><circle cx="1496.4" cy="750.4" r="8.6"/>
<circle cx="1500.5" cy="883.5" r="8.6"/><circle cx="1501.3" cy="872.1" r="8.6"/><circle cx="1501.3" cy="926.9" r="8.6"/><circle cx="1501.6" cy="907.8" r="8.6"/><circle cx="1501.3" cy="910.6" r="8.6"/><circle cx="1500.1" cy="942.5" r="8.6"/>
<circle cx="1501.5" cy="979.3" r="8.6"/><circle cx="1501.8" cy="952.2" r="8.6"/><circle cx="1501.6" cy="885.6" r="8.6"/><circle cx="1501.2" cy="979.3" r="8.6"/><circle cx="1500.1" cy="947.7" r="8.6"/><circle cx="1501.6" cy="968.6" r="8.6"/>
<circle cx="1500.9" cy="808.3" r="8.6"/><circle cx="1506.8" cy="931.6" r="8.6"/><circle cx="1506.0" cy="915.8" r="8.6"/><circle cx="1505.6" cy="982.3" r="8.6"/><circle cx="1505.3" cy="957.5" r="8.6"/><circle cx="1505.5" cy="921.6" r="8.6"/>
<circle cx="1505.7" cy="962.5" r="8.6"/><circle cx="1505.2" cy="945.2" r="8.6"/><circle cx="1505.6" cy="965.7" r="8.6"/><circle cx="1506.9" cy="917.0" r="8.6"/><circle cx="1506.8" cy="954.7" r="8.6"/><circle cx="1506.8" cy="974.3" r="8.6"/>
<circle cx="1506.8" cy="971.8" r="8.6"/><circle cx="1506.3" cy="808.3" r="8.6"/><circle cx="1506.9" cy="858.5" r="8.6"/><circle cx="1511.1" cy="991.3" r="8.6"/><circle cx="1510.6" cy="956.6" r="8.6"/><circle cx="1510.6" cy="898.6" r="8.6"/>
<circle cx="1510.7" cy="985.4" r="8.6"/><circle cx="1511.0" cy="903.4" r="8.6"/><circle cx="1510.3" cy="927.8" r="8.6"/><circle cx="1510.9" cy="983.1" r="8.6"/><circle cx="1510.7" cy="943.2" r="8.6"/><circle cx="1510.8" cy="1000.5" r="8.6"/>
<circle cx="1510.7" cy="901.8" r="8.6"/><circle cx="1510.1" cy="959.7" r="8.6"/><circle cx="1511.8" cy="954.7" r="8.6"/><circle cx="1510.6" cy="874.5" r="8.6"/><circle cx="1511.5" cy="779.6" r="8.6"/><circle cx="1515.8" cy="986.1" r="8.6"/>
<circle cx="1516.6" cy="898.6" r="8.6"/><circle cx="1516.2" cy="964.0" r="8.6"/><circle cx="1515.1" cy="921.6" r="8.6"/><circle cx="1516.7" cy="965.4" r="8.6"/><circle cx="1516.8" cy="930.7" r="8.6"/><circle cx="1516.3" cy="883.5" r="8.6"/>
<circle cx="1516.1" cy="993.0" r="8.6"/><circle cx="1516.9" cy="994.7" r="8.6"/><circle cx="1517.0" cy="978.1" r="8.6"/><circle cx="1516.2" cy="941.8" r="8.6"/><circle cx="1515.2" cy="779.6" r="8.6"/><circle cx="1522.0" cy="967.0" r="8.6"/>
<circle cx="1521.4" cy="987.3" r="8.6"/><circle cx="1521.7" cy="953.2" r="8.6"/><circle cx="1520.4" cy="972.0" r="8.6"/><circle cx="1520.5" cy="896.9" r="8.6"/><circle cx="1521.9" cy="887.6" r="8.6"/><circle cx="1520.2" cy="952.2" r="8.6"/>
<circle cx="1521.0" cy="864.2" r="8.6"/><circle cx="1520.6" cy="978.1" r="8.6"/><circle cx="1521.2" cy="881.4" r="8.6"/><circle cx="1520.7" cy="955.2" r="8.6"/><circle cx="1521.9" cy="921.6" r="8.6"/><circle cx="1520.3" cy="779.6" r="8.6"/>
<circle cx="1526.2" cy="960.1" r="8.6"/><circle cx="1527.0" cy="895.1" r="8.6"/><circle cx="1526.0" cy="994.4" r="8.6"/><circle cx="1525.9" cy="895.1" r="8.6"/><circle cx="1525.2" cy="997.3" r="8.6"/><circle cx="1525.9" cy="913.3" r="8.6"/>
<circle cx="1526.7" cy="946.4" r="8.6"/><circle cx="1526.7" cy="926.9" r="8.6"/><circle cx="1526.0" cy="998.0" r="8.6"/><circle cx="1526.0" cy="997.3" r="8.6"/><circle cx="1526.4" cy="994.3" r="8.6"/><circle cx="1525.3" cy="922.7" r="8.6"/>
<circle cx="1526.2" cy="792.0" r="8.6"/><circle cx="1526.8" cy="786.0" r="8.6"/><circle cx="1531.8" cy="969.2" r="8.6"/><circle cx="1532.0" cy="977.9" r="8.6"/><circle cx="1531.9" cy="904.9" r="8.6"/><circle cx="1530.7" cy="937.4" r="8.6"/>
<circle cx="1531.7" cy="917.0" r="8.6"/><circle cx="1530.9" cy="923.8" r="8.6"/><circle cx="1531.7" cy="978.1" r="8.6"/><circle cx="1531.3" cy="935.8" r="8.6"/><circle cx="1531.3" cy="937.4" r="8.6"/><circle cx="1530.4" cy="925.9" r="8.6"/>
<circle cx="1530.6" cy="941.8" r="8.6"/><circle cx="1530.5" cy="978.9" r="8.6"/><circle cx="1530.4" cy="818.0" r="8.6"/><circle cx="1531.9" cy="786.0" r="8.6"/><circle cx="1535.8" cy="967.7" r="8.6"/><circle cx="1535.4" cy="887.6" r="8.6"/>
<circle cx="1535.4" cy="948.2" r="8.6"/><circle cx="1536.8" cy="1003.8" r="8.6"/><circle cx="1536.3" cy="984.8" r="8.6"/><circle cx="1536.0" cy="964.0" r="8.6"/><circle cx="1536.7" cy="922.7" r="8.6"/><circle cx="1535.9" cy="964.0" r="8.6"/>
<circle cx="1537.1" cy="893.3" r="8.6"/><circle cx="1535.7" cy="935.8" r="8.6"/><circle cx="1535.6" cy="887.6" r="8.6"/><circle cx="1535.7" cy="876.9" r="8.6"/><circle cx="1540.4" cy="984.4" r="8.6"/><circle cx="1541.0" cy="885.6" r="8.6"/>
<circle cx="1540.8" cy="986.6" r="8.6"/><circle cx="1541.3" cy="898.6" r="8.6"/><circle cx="1541.0" cy="919.4" r="8.6"/><circle cx="1541.1" cy="923.8" r="8.6"/><circle cx="1540.9" cy="901.8" r="8.6"/><circle cx="1540.6" cy="997.7" r="8.6"/>
<circle cx="1540.9" cy="896.9" r="8.6"/><circle cx="1541.6" cy="901.8" r="8.6"/><circle cx="1540.9" cy="901.8" r="8.6"/><circle cx="1542.1" cy="901.8" r="8.6"/><circle cx="1542.0" cy="864.2" r="8.6"/><circle cx="1545.7" cy="962.9" r="8.6"/>
<circle cx="1546.1" cy="993.1" r="8.6"/><circle cx="1546.1" cy="968.9" r="8.6"/><circle cx="1547.1" cy="920.5" r="8.6"/><circle cx="1545.7" cy="980.8" r="8.6"/><circle cx="1546.2" cy="946.4" r="8.6"/><circle cx="1546.1" cy="980.4" r="8.6"/>
<circle cx="1546.4" cy="945.2" r="8.6"/><circle cx="1546.8" cy="993.2" r="8.6"/><circle cx="1545.4" cy="965.4" r="8.6"/><circle cx="1545.8" cy="928.8" r="8.6"/><circle cx="1545.5" cy="845.8" r="8.6"/><circle cx="1550.9" cy="909.2" r="8.6"/>
<circle cx="1551.8" cy="980.1" r="8.6"/><circle cx="1551.7" cy="928.8" r="8.6"/><circle cx="1551.7" cy="929.7" r="8.6"/><circle cx="1550.6" cy="982.2" r="8.6"/><circle cx="1550.8" cy="943.2" r="8.6"/><circle cx="1552.1" cy="956.1" r="8.6"/>
<circle cx="1551.2" cy="973.3" r="8.6"/><circle cx="1551.0" cy="954.7" r="8.6"/><circle cx="1551.4" cy="1006.6" r="8.6"/><circle cx="1550.5" cy="991.5" r="8.6"/><circle cx="1551.8" cy="1009.0" r="8.6"/><circle cx="1552.0" cy="818.0" r="8.6"/>
<circle cx="1556.8" cy="979.5" r="8.6"/><circle cx="1555.9" cy="1004.9" r="8.6"/><circle cx="1557.4" cy="940.4" r="8.6"/><circle cx="1555.6" cy="999.3" r="8.6"/><circle cx="1556.0" cy="962.9" r="8.6"/><circle cx="1556.9" cy="974.3" r="8.6"/>
<circle cx="1556.8" cy="987.1" r="8.6"/><circle cx="1556.1" cy="990.2" r="8.6"/><circle cx="1556.0" cy="969.5" r="8.6"/><circle cx="1556.9" cy="983.8" r="8.6"/><circle cx="1556.2" cy="990.7" r="8.6"/><circle cx="1557.1" cy="879.1" r="8.6"/>
<circle cx="1560.9" cy="910.6" r="8.6"/><circle cx="1562.3" cy="961.3" r="8.6"/><circle cx="1562.0" cy="987.0" r="8.6"/><circle cx="1560.6" cy="998.3" r="8.6"/><circle cx="1561.0" cy="972.6" r="8.6"/><circle cx="1560.8" cy="904.9" r="8.6"/>
<circle cx="1561.8" cy="977.5" r="8.6"/><circle cx="1561.4" cy="992.9" r="8.6"/><circle cx="1562.4" cy="983.6" r="8.6"/><circle cx="1562.2" cy="943.2" r="8.6"/><circle cx="1561.1" cy="924.8" r="8.6"/><circle cx="1561.1" cy="919.4" r="8.6"/>
<circle cx="1561.5" cy="893.3" r="8.6"/><circle cx="1567.4" cy="979.5" r="8.6"/><circle cx="1566.5" cy="945.2" r="8.6"/><circle cx="1566.9" cy="968.9" r="8.6"/><circle cx="1566.6" cy="977.3" r="8.6"/><circle cx="1567.4" cy="934.2" r="8.6"/>
<circle cx="1565.7" cy="977.1" r="8.6"/><circle cx="1566.1" cy="927.8" r="8.6"/><circle cx="1565.9" cy="988.0" r="8.6"/><circle cx="1567.3" cy="950.0" r="8.6"/><circle cx="1567.5" cy="964.3" r="8.6"/><circle cx="1565.9" cy="949.4" r="8.6"/>
<circle cx="1566.1" cy="965.0" r="8.6"/><circle cx="1570.7" cy="990.1" r="8.6"/><circle cx="1572.1" cy="963.2" r="8.6"/><circle cx="1571.9" cy="989.5" r="8.6"/><circle cx="1572.3" cy="981.7" r="8.6"/><circle cx="1571.9" cy="990.9" r="8.6"/>
<circle cx="1572.1" cy="956.1" r="8.6"/><circle cx="1571.2" cy="973.8" r="8.6"/><circle cx="1572.5" cy="974.1" r="8.6"/><circle cx="1571.8" cy="965.4" r="8.6"/><circle cx="1571.7" cy="944.5" r="8.6"/><circle cx="1571.4" cy="970.4" r="8.6"/>
<circle cx="1576.2" cy="942.5" r="8.6"/><circle cx="1577.1" cy="1001.3" r="8.6"/><circle cx="1577.5" cy="990.1" r="8.6"/><circle cx="1576.3" cy="995.9" r="8.6"/><circle cx="1577.2" cy="1000.8" r="8.6"/><circle cx="1576.3" cy="991.4" r="8.6"/>
<circle cx="1577.6" cy="988.6" r="8.6"/><circle cx="1576.0" cy="998.6" r="8.6"/><circle cx="1576.0" cy="982.3" r="8.6"/><circle cx="1577.1" cy="935.8" r="8.6"/><circle cx="1576.4" cy="947.0" r="8.6"/><circle cx="1580.8" cy="993.8" r="8.6"/>
<circle cx="1582.3" cy="988.1" r="8.6"/><circle cx="1581.4" cy="931.6" r="8.6"/><circle cx="1582.1" cy="970.4" r="8.6"/><circle cx="1580.9" cy="1005.0" r="8.6"/><circle cx="1581.7" cy="992.1" r="8.6"/><circle cx="1581.5" cy="1000.5" r="8.6"/>
<circle cx="1581.0" cy="987.1" r="8.6"/><circle cx="1581.6" cy="960.5" r="8.6"/><circle cx="1582.7" cy="938.2" r="8.6"/><circle cx="1580.8" cy="1002.9" r="8.6"/><circle cx="1586.7" cy="997.9" r="8.6"/><circle cx="1586.1" cy="957.1" r="8.6"/>
<circle cx="1585.8" cy="973.8" r="8.6"/><circle cx="1587.7" cy="970.1" r="8.6"/><circle cx="1587.5" cy="987.5" r="8.6"/><circle cx="1587.0" cy="993.9" r="8.6"/><circle cx="1586.9" cy="969.5" r="8.6"/><circle cx="1586.7" cy="988.6" r="8.6"/>
<circle cx="1587.7" cy="959.3" r="8.6"/><circle cx="1587.8" cy="1000.3" r="8.6"/><circle cx="1587.7" cy="969.2" r="8.6"/><circle cx="1592.5" cy="981.0" r="8.6"/><circle cx="1592.3" cy="992.6" r="8.6"/><circle cx="1592.8" cy="991.8" r="8.6"/>
<circle cx="1591.2" cy="974.8" r="8.6"/><circle cx="1591.8" cy="984.5" r="8.6"/><circle cx="1592.7" cy="960.5" r="8.6"/><circle cx="1592.6" cy="954.7" r="8.6"/><circle cx="1592.1" cy="961.7" r="8.6"/><circle cx="1591.0" cy="978.1" r="8.6"/>
<circle cx="1591.8" cy="969.5" r="8.6"/><circle cx="1591.9" cy="978.9" r="8.6"/><circle cx="1591.9" cy="990.8" r="8.6"/><circle cx="1596.3" cy="982.8" r="8.6"/><circle cx="1597.6" cy="959.3" r="8.6"/><circle cx="1596.2" cy="969.8" r="8.6"/>
<circle cx="1597.4" cy="957.1" r="8.6"/><circle cx="1596.0" cy="943.2" r="8.6"/><circle cx="1597.7" cy="1001.0" r="8.6"/><circle cx="1596.4" cy="970.1" r="8.6"/><circle cx="1597.3" cy="986.9" r="8.6"/><circle cx="1597.2" cy="966.4" r="8.6"/>
<circle cx="1597.2" cy="1001.4" r="8.6"/><circle cx="1597.4" cy="979.1" r="8.6"/><circle cx="1602.6" cy="954.2" r="8.6"/><circle cx="1602.9" cy="1002.9" r="8.6"/><circle cx="1601.7" cy="996.2" r="8.6"/><circle cx="1602.4" cy="993.8" r="8.6"/>
<circle cx="1601.2" cy="995.4" r="8.6"/><circle cx="1601.9" cy="973.8" r="8.6"/><circle cx="1601.2" cy="977.9" r="8.6"/><circle cx="1602.5" cy="968.6" r="8.6"/><circle cx="1602.0" cy="955.2" r="8.6"/><circle cx="1601.0" cy="938.2" r="8.6"/>
<circle cx="1602.9" cy="976.8" r="8.6"/><circle cx="1601.9" cy="972.3" r="8.6"/><circle cx="1602.6" cy="896.9" r="8.6"/><circle cx="1607.9" cy="1000.7" r="8.6"/><circle cx="1607.9" cy="988.9" r="8.6"/><circle cx="1607.2" cy="984.8" r="8.6"/>
<circle cx="1607.6" cy="974.8" r="8.6"/><circle cx="1606.8" cy="994.2" r="8.6"/><circle cx="1606.2" cy="984.1" r="8.6"/><circle cx="1606.6" cy="954.7" r="8.6"/><circle cx="1607.3" cy="981.0" r="8.6"/><circle cx="1607.1" cy="953.7" r="8.6"/>
<circle cx="1606.2" cy="990.5" r="8.6"/><circle cx="1606.4" cy="976.6" r="8.6"/><circle cx="1607.4" cy="977.9" r="8.6"/><circle cx="1611.6" cy="1000.4" r="8.6"/><circle cx="1611.1" cy="978.3" r="8.6"/><circle cx="1612.5" cy="945.8" r="8.6"/>
<circle cx="1611.8" cy="961.3" r="8.6"/><circle cx="1613.0" cy="960.9" r="8.6"/><circle cx="1611.3" cy="973.6" r="8.6"/><circle cx="1612.3" cy="970.1" r="8.6"/><circle cx="1612.7" cy="984.7" r="8.6"/><circle cx="1611.7" cy="990.3" r="8.6"/>
<circle cx="1611.8" cy="978.1" r="8.6"/><circle cx="1611.6" cy="935.0" r="8.6"/><circle cx="1618.0" cy="971.8" r="8.6"/><circle cx="1616.7" cy="997.2" r="8.6"/><circle cx="1617.1" cy="962.5" r="8.6"/><circle cx="1616.2" cy="993.0" r="8.6"/>
<circle cx="1617.7" cy="955.2" r="8.6"/><circle cx="1616.6" cy="957.5" r="8.6"/><circle cx="1617.8" cy="989.9" r="8.6"/><circle cx="1616.6" cy="968.0" r="8.6"/><circle cx="1617.1" cy="974.1" r="8.6"/><circle cx="1617.5" cy="972.3" r="8.6"/>
<circle cx="1617.3" cy="973.6" r="8.6"/><circle cx="1617.9" cy="988.9" r="8.6"/><circle cx="1623.0" cy="948.8" r="8.6"/><circle cx="1621.7" cy="992.2" r="8.6"/><circle cx="1621.5" cy="968.3" r="8.6"/><circle cx="1622.7" cy="971.5" r="8.6"/>
<circle cx="1621.3" cy="967.4" r="8.6"/><circle cx="1622.4" cy="976.0" r="8.6"/><circle cx="1621.8" cy="1008.4" r="8.6"/><circle cx="1623.1" cy="954.2" r="8.6"/><circle cx="1621.4" cy="1007.0" r="8.6"/><circle cx="1622.1" cy="1003.7" r="8.6"/>
<circle cx="1621.4" cy="996.7" r="8.6"/><circle cx="1621.4" cy="969.2" r="8.6"/><circle cx="1622.6" cy="858.5" r="8.6"/><circle cx="1627.4" cy="996.8" r="8.6"/><circle cx="1627.8" cy="974.1" r="8.6"/><circle cx="1627.1" cy="962.1" r="8.6"/>
<circle cx="1628.0" cy="954.2" r="8.6"/><circle cx="1626.6" cy="981.0" r="8.6"/><circle cx="1628.2" cy="956.1" r="8.6"/><circle cx="1626.2" cy="958.8" r="8.6"/><circle cx="1627.8" cy="998.8" r="8.6"/><circle cx="1627.2" cy="934.2" r="8.6"/>
<circle cx="1627.9" cy="1008.2" r="8.6"/><circle cx="1626.5" cy="974.6" r="8.6"/><circle cx="1631.4" cy="951.1" r="8.6"/><circle cx="1631.8" cy="985.8" r="8.6"/><circle cx="1632.3" cy="1001.4" r="8.6"/><circle cx="1631.4" cy="927.8" r="8.6"/>
<circle cx="1632.4" cy="997.9" r="8.6"/><circle cx="1632.2" cy="1004.9" r="8.6"/><circle cx="1631.9" cy="1005.9" r="8.6"/><circle cx="1631.4" cy="987.3" r="8.6"/><circle cx="1632.0" cy="928.8" r="8.6"/><circle cx="1632.9" cy="965.4" r="8.6"/>
<circle cx="1632.7" cy="1005.9" r="8.6"/><circle cx="1632.7" cy="932.4" r="8.6"/><circle cx="1636.3" cy="983.8" r="8.6"/><circle cx="1636.7" cy="996.4" r="8.6"/><circle cx="1636.7" cy="982.5" r="8.6"/><circle cx="1637.1" cy="970.1" r="8.6"/>
<circle cx="1638.3" cy="995.4" r="8.6"/><circle cx="1636.5" cy="982.2" r="8.6"/><circle cx="1637.1" cy="971.2" r="8.6"/><circle cx="1637.3" cy="964.7" r="8.6"/><circle cx="1636.7" cy="1001.1" r="8.6"/><circle cx="1637.0" cy="982.2" r="8.6"/>
<circle cx="1637.7" cy="951.1" r="8.6"/><circle cx="1641.4" cy="985.8" r="8.6"/><circle cx="1642.0" cy="984.7" r="8.6"/><circle cx="1641.8" cy="966.4" r="8.6"/><circle cx="1642.3" cy="958.8" r="8.6"/><circle cx="1643.2" cy="953.7" r="8.6"/>
<circle cx="1643.2" cy="974.3" r="8.6"/><circle cx="1642.8" cy="981.5" r="8.6"/><circle cx="1643.2" cy="924.8" r="8.6"/><circle cx="1642.3" cy="975.7" r="8.6"/><circle cx="1642.6" cy="964.3" r="8.6"/><circle cx="1641.6" cy="992.9" r="8.6"/>
<circle cx="1642.8" cy="995.0" r="8.6"/><circle cx="1646.7" cy="953.7" r="8.6"/><circle cx="1647.8" cy="950.5" r="8.6"/><circle cx="1648.0" cy="935.8" r="8.6"/><circle cx="1647.9" cy="944.5" r="8.6"/><circle cx="1647.7" cy="985.5" r="8.6"/>
<circle cx="1647.6" cy="956.6" r="8.6"/><circle cx="1646.9" cy="953.2" r="8.6"/><circle cx="1648.4" cy="1005.0" r="8.6"/><circle cx="1648.3" cy="961.7" r="8.6"/><circle cx="1646.9" cy="959.7" r="8.6"/><circle cx="1647.7" cy="996.9" r="8.6"/>
<circle cx="1647.9" cy="954.7" r="8.6"/><circle cx="1652.6" cy="978.1" r="8.6"/><circle cx="1652.7" cy="941.1" r="8.6"/><circle cx="1651.7" cy="972.3" r="8.6"/><circle cx="1652.4" cy="967.4" r="8.6"/><circle cx="1653.3" cy="1008.1" r="8.6"/>
<circle cx="1651.5" cy="996.0" r="8.6"/><circle cx="1652.9" cy="912.0" r="8.6"/><circle cx="1651.6" cy="910.6" r="8.6"/><circle cx="1652.5" cy="992.9" r="8.6"/><circle cx="1651.8" cy="990.7" r="8.6"/><circle cx="1651.6" cy="936.6" r="8.6"/>
<circle cx="1656.5" cy="962.5" r="8.6"/><circle cx="1657.1" cy="913.3" r="8.6"/><circle cx="1656.9" cy="984.8" r="8.6"/><circle cx="1656.7" cy="994.1" r="8.6"/><circle cx="1658.0" cy="978.1" r="8.6"/><circle cx="1657.4" cy="1000.3" r="8.6"/>
<circle cx="1657.1" cy="932.4" r="8.6"/><circle cx="1658.1" cy="968.3" r="8.6"/><circle cx="1657.8" cy="921.6" r="8.6"/><circle cx="1657.9" cy="954.2" r="8.6"/><circle cx="1658.3" cy="1003.8" r="8.6"/><circle cx="1662.1" cy="954.2" r="8.6"/>
<circle cx="1662.3" cy="919.4" r="8.6"/><circle cx="1662.6" cy="979.3" r="8.6"/><circle cx="1661.8" cy="936.6" r="8.6"/><circle cx="1662.8" cy="920.5" r="8.6"/><circle cx="1662.3" cy="969.2" r="8.6"/><circle cx="1663.5" cy="983.0" r="8.6"/>
<circle cx="1662.5" cy="997.7" r="8.6"/><circle cx="1663.2" cy="954.2" r="8.6"/><circle cx="1663.2" cy="935.8" r="8.6"/><circle cx="1662.8" cy="948.2" r="8.6"/><circle cx="1662.9" cy="907.8" r="8.6"/><circle cx="1667.2" cy="976.6" r="8.6"/>
<circle cx="1667.0" cy="953.2" r="8.6"/><circle cx="1666.8" cy="927.8" r="8.6"/><circle cx="1668.1" cy="1004.2" r="8.6"/><circle cx="1666.7" cy="978.7" r="8.6"/><circle cx="1666.6" cy="941.8" r="8.6"/><circle cx="1667.5" cy="977.3" r="8.6"/>
<circle cx="1668.2" cy="982.7" r="8.6"/><circle cx="1668.6" cy="982.8" r="8.6"/><circle cx="1667.1" cy="993.7" r="8.6"/><circle cx="1667.3" cy="950.0" r="8.6"/><circle cx="1673.1" cy="943.9" r="8.6"/><circle cx="1673.4" cy="994.4" r="8.6"/>
<circle cx="1671.8" cy="990.0" r="8.6"/><circle cx="1672.3" cy="967.0" r="8.6"/><circle cx="1673.1" cy="1002.5" r="8.6"/><circle cx="1673.1" cy="975.0" r="8.6"/><circle cx="1672.8" cy="969.2" r="8.6"/><circle cx="1673.0" cy="985.2" r="8.6"/>
<circle cx="1673.4" cy="957.5" r="8.6"/><circle cx="1672.8" cy="974.1" r="8.6"/><circle cx="1672.4" cy="922.7" r="8.6"/><circle cx="1672.1" cy="909.2" r="8.6"/><circle cx="1677.6" cy="936.6" r="8.6"/><circle cx="1678.2" cy="936.6" r="8.6"/>
<circle cx="1676.9" cy="965.4" r="8.6"/><circle cx="1677.4" cy="969.5" r="8.6"/><circle cx="1678.0" cy="973.3" r="8.6"/><circle cx="1677.9" cy="988.5" r="8.6"/><circle cx="1677.8" cy="953.2" r="8.6"/><circle cx="1677.3" cy="997.9" r="8.6"/>
<circle cx="1677.4" cy="986.9" r="8.6"/><circle cx="1678.6" cy="1004.3" r="8.6"/><circle cx="1677.7" cy="985.8" r="8.6"/><circle cx="1677.3" cy="907.8" r="8.6"/><circle cx="1683.2" cy="939.7" r="8.6"/><circle cx="1682.6" cy="969.5" r="8.6"/>
<circle cx="1683.7" cy="943.2" r="8.6"/><circle cx="1683.5" cy="943.2" r="8.6"/><circle cx="1682.2" cy="915.8" r="8.6"/><circle cx="1683.5" cy="991.0" r="8.6"/><circle cx="1682.7" cy="955.7" r="8.6"/><circle cx="1682.4" cy="961.7" r="8.6"/>
<circle cx="1682.1" cy="977.7" r="8.6"/><circle cx="1682.1" cy="997.4" r="8.6"/><circle cx="1681.8" cy="974.6" r="8.6"/><circle cx="1682.2" cy="962.1" r="8.6"/><circle cx="1682.5" cy="904.9" r="8.6"/><circle cx="1688.2" cy="893.3" r="8.6"/>
<circle cx="1687.6" cy="947.7" r="8.6"/><circle cx="1687.7" cy="906.4" r="8.6"/><circle cx="1687.2" cy="977.5" r="8.6"/><circle cx="1687.0" cy="1000.3" r="8.6"/><circle cx="1688.7" cy="898.6" r="8.6"/><circle cx="1688.2" cy="986.9" r="8.6"/>
<circle cx="1687.0" cy="949.4" r="8.6"/><circle cx="1688.5" cy="887.6" r="8.6"/><circle cx="1687.6" cy="945.2" r="8.6"/><circle cx="1687.6" cy="944.5" r="8.6"/><circle cx="1692.4" cy="924.8" r="8.6"/><circle cx="1693.8" cy="967.7" r="8.6"/>
<circle cx="1692.5" cy="938.9" r="8.6"/><circle cx="1692.1" cy="982.3" r="8.6"/><circle cx="1692.5" cy="985.9" r="8.6"/><circle cx="1693.6" cy="992.1" r="8.6"/><circle cx="1693.6" cy="978.5" r="8.6"/><circle cx="1693.1" cy="981.1" r="8.6"/>
<circle cx="1692.9" cy="914.6" r="8.6"/><circle cx="1692.7" cy="986.1" r="8.6"/><circle cx="1692.6" cy="972.6" r="8.6"/><circle cx="1693.7" cy="995.4" r="8.6"/><circle cx="1697.7" cy="998.3" r="8.6"/><circle cx="1696.9" cy="984.5" r="8.6"/>
<circle cx="1697.4" cy="990.4" r="8.6"/><circle cx="1697.9" cy="954.2" r="8.6"/><circle cx="1697.6" cy="920.5" r="8.6"/><circle cx="1698.2" cy="959.3" r="8.6"/><circle cx="1697.2" cy="1006.7" r="8.6"/><circle cx="1697.7" cy="997.0" r="8.6"/>
<circle cx="1698.8" cy="930.7" r="8.6"/><circle cx="1697.4" cy="1002.2" r="8.6"/><circle cx="1698.9" cy="931.6" r="8.6"/><circle cx="1696.9" cy="927.8" r="8.6"/><circle cx="1698.9" cy="883.5" r="8.6"/><circle cx="1703.0" cy="966.1" r="8.6"/>
<circle cx="1703.6" cy="955.2" r="8.6"/><circle cx="1702.4" cy="987.0" r="8.6"/><circle cx="1703.8" cy="986.1" r="8.6"/><circle cx="1703.7" cy="935.8" r="8.6"/><circle cx="1702.2" cy="956.1" r="8.6"/><circle cx="1702.0" cy="935.0" r="8.6"/>
<circle cx="1702.8" cy="1004.0" r="8.6"/><circle cx="1702.5" cy="984.7" r="8.6"/><circle cx="1702.0" cy="980.6" r="8.6"/><circle cx="1702.3" cy="971.5" r="8.6"/><circle cx="1707.4" cy="910.6" r="8.6"/><circle cx="1708.1" cy="962.5" r="8.6"/>
<circle cx="1707.4" cy="991.8" r="8.6"/><circle cx="1708.9" cy="918.2" r="8.6"/><circle cx="1708.7" cy="927.8" r="8.6"/><circle cx="1707.3" cy="999.8" r="8.6"/><circle cx="1707.3" cy="947.7" r="8.6"/><circle cx="1708.3" cy="914.6" r="8.6"/>
<circle cx="1707.5" cy="1003.4" r="8.6"/><circle cx="1707.3" cy="957.5" r="8.6"/><circle cx="1707.4" cy="992.4" r="8.6"/><circle cx="1707.1" cy="915.8" r="8.6"/><circle cx="1708.8" cy="861.4" r="8.6"/><circle cx="1712.3" cy="941.1" r="8.6"/>
<circle cx="1712.8" cy="936.6" r="8.6"/><circle cx="1712.7" cy="968.9" r="8.6"/><circle cx="1712.1" cy="999.2" r="8.6"/><circle cx="1712.9" cy="986.5" r="8.6"/><circle cx="1713.1" cy="991.5" r="8.6"/><circle cx="1713.1" cy="997.2" r="8.6"/>
<circle cx="1713.5" cy="997.7" r="8.6"/><circle cx="1713.0" cy="953.7" r="8.6"/><circle cx="1713.0" cy="987.4" r="8.6"/><circle cx="1712.4" cy="960.9" r="8.6"/><circle cx="1712.9" cy="966.1" r="8.6"/><circle cx="1712.5" cy="830.9" r="8.6"/>
<circle cx="1718.3" cy="948.8" r="8.6"/><circle cx="1717.2" cy="926.9" r="8.6"/><circle cx="1718.4" cy="928.8" r="8.6"/><circle cx="1717.3" cy="966.1" r="8.6"/><circle cx="1718.1" cy="997.2" r="8.6"/><circle cx="1717.6" cy="926.9" r="8.6"/>
<circle cx="1718.7" cy="913.3" r="8.6"/><circle cx="1718.3" cy="938.9" r="8.6"/><circle cx="1718.0" cy="932.4" r="8.6"/><circle cx="1718.6" cy="981.0" r="8.6"/><circle cx="1718.9" cy="989.9" r="8.6"/><circle cx="1718.0" cy="808.3" r="8.6"/>
<circle cx="1722.4" cy="959.7" r="8.6"/><circle cx="1723.9" cy="989.5" r="8.6"/><circle cx="1723.8" cy="889.6" r="8.6"/><circle cx="1724.1" cy="1004.1" r="8.6"/><circle cx="1723.5" cy="962.1" r="8.6"/><circle cx="1723.0" cy="953.2" r="8.6"/>
<circle cx="1724.0" cy="988.7" r="8.6"/><circle cx="1722.3" cy="996.6" r="8.6"/><circle cx="1723.1" cy="895.1" r="8.6"/><circle cx="1723.9" cy="983.8" r="8.6"/><circle cx="1723.3" cy="965.4" r="8.6"/><circle cx="1723.8" cy="861.4" r="8.6"/>
<circle cx="1727.9" cy="1004.8" r="8.6"/><circle cx="1727.9" cy="978.3" r="8.6"/><circle cx="1727.8" cy="876.9" r="8.6"/><circle cx="1728.8" cy="887.6" r="8.6"/><circle cx="1727.3" cy="952.2" r="8.6"/><circle cx="1727.9" cy="981.8" r="8.6"/>
<circle cx="1728.8" cy="958.0" r="8.6"/><circle cx="1727.4" cy="893.3" r="8.6"/><circle cx="1728.1" cy="883.5" r="8.6"/><circle cx="1729.2" cy="919.4" r="8.6"/><circle cx="1729.2" cy="939.7" r="8.6"/><circle cx="1728.6" cy="909.2" r="8.6"/>
<circle cx="1728.8" cy="858.5" r="8.6"/><circle cx="1733.7" cy="950.0" r="8.6"/><circle cx="1732.6" cy="961.7" r="8.6"/><circle cx="1733.0" cy="941.8" r="8.6"/><circle cx="1734.2" cy="998.5" r="8.6"/><circle cx="1733.5" cy="938.9" r="8.6"/>
<circle cx="1733.9" cy="925.9" r="8.6"/><circle cx="1734.3" cy="987.6" r="8.6"/><circle cx="1732.5" cy="1001.8" r="8.6"/><circle cx="1732.4" cy="939.7" r="8.6"/><circle cx="1733.9" cy="907.8" r="8.6"/><circle cx="1733.9" cy="912.0" r="8.6"/>
<circle cx="1732.9" cy="995.9" r="8.6"/><circle cx="1733.9" cy="869.5" r="8.6"/><circle cx="1733.7" cy="818.0" r="8.6"/><circle cx="1737.4" cy="984.1" r="8.6"/><circle cx="1738.5" cy="986.3" r="8.6"/><circle cx="1739.1" cy="915.8" r="8.6"/>
<circle cx="1737.8" cy="991.8" r="8.6"/><circle cx="1738.7" cy="955.2" r="8.6"/><circle cx="1738.8" cy="991.0" r="8.6"/><circle cx="1737.3" cy="959.3" r="8.6"/><circle cx="1737.7" cy="900.2" r="8.6"/><circle cx="1738.3" cy="989.6" r="8.6"/>
<circle cx="1737.8" cy="995.7" r="8.6"/><circle cx="1737.5" cy="994.2" r="8.6"/><circle cx="1738.6" cy="915.8" r="8.6"/><circle cx="1737.6" cy="885.6" r="8.6"/><circle cx="1742.9" cy="930.7" r="8.6"/><circle cx="1743.8" cy="988.1" r="8.6"/>
<circle cx="1743.2" cy="932.4" r="8.6"/><circle cx="1742.6" cy="998.7" r="8.6"/><circle cx="1742.4" cy="914.6" r="8.6"/><circle cx="1744.2" cy="994.7" r="8.6"/><circle cx="1744.3" cy="1004.9" r="8.6"/><circle cx="1743.3" cy="994.2" r="8.6"/>
<circle cx="1743.9" cy="1005.0" r="8.6"/><circle cx="1743.7" cy="920.5" r="8.6"/><circle cx="1744.4" cy="891.5" r="8.6"/><circle cx="1743.0" cy="876.9" r="8.6"/><circle cx="1748.6" cy="910.6" r="8.6"/><circle cx="1748.9" cy="1003.0" r="8.6"/>
<circle cx="1748.5" cy="901.8" r="8.6"/><circle cx="1748.0" cy="1001.0" r="8.6"/><circle cx="1749.3" cy="938.9" r="8.6"/><circle cx="1748.2" cy="990.3" r="8.6"/><circle cx="1748.3" cy="986.6" r="8.6"/><circle cx="1748.5" cy="990.1" r="8.6"/>
<circle cx="1747.5" cy="967.4" r="8.6"/><circle cx="1748.5" cy="923.8" r="8.6"/><circle cx="1748.7" cy="1006.0" r="8.6"/><circle cx="1747.8" cy="803.1" r="8.6"/><circle cx="1748.8" cy="855.5" r="8.6"/><circle cx="1753.0" cy="990.8" r="8.6"/>
<circle cx="1753.2" cy="932.4" r="8.6"/><circle cx="1752.6" cy="945.2" r="8.6"/><circle cx="1754.2" cy="893.3" r="8.6"/><circle cx="1753.5" cy="982.2" r="8.6"/><circle cx="1753.2" cy="869.5" r="8.6"/><circle cx="1753.7" cy="979.7" r="8.6"/>
<circle cx="1753.4" cy="963.6" r="8.6"/><circle cx="1753.1" cy="893.3" r="8.6"/><circle cx="1753.3" cy="950.5" r="8.6"/><circle cx="1753.4" cy="938.9" r="8.6"/><circle cx="1753.1" cy="822.5" r="8.6"/><circle cx="1753.2" cy="858.5" r="8.6"/>
<circle cx="1758.6" cy="956.1" r="8.6"/><circle cx="1759.5" cy="858.5" r="8.6"/><circle cx="1757.7" cy="963.6" r="8.6"/><circle cx="1757.6" cy="861.4" r="8.6"/><circle cx="1757.8" cy="963.2" r="8.6"/><circle cx="1757.8" cy="943.9" r="8.6"/>
<circle cx="1759.1" cy="960.5" r="8.6"/><circle cx="1758.8" cy="852.4" r="8.6"/><circle cx="1757.8" cy="953.7" r="8.6"/><circle cx="1759.2" cy="995.2" r="8.6"/><circle cx="1759.0" cy="969.8" r="8.6"/><circle cx="1758.7" cy="997.1" r="8.6"/>
<circle cx="1758.1" cy="750.4" r="8.6"/><circle cx="1758.3" cy="758.3" r="8.6"/><circle cx="1763.3" cy="947.0" r="8.6"/><circle cx="1762.7" cy="895.1" r="8.6"/><circle cx="1762.6" cy="909.2" r="8.6"/><circle cx="1764.2" cy="1000.8" r="8.6"/>
<circle cx="1763.8" cy="939.7" r="8.6"/><circle cx="1763.1" cy="909.2" r="8.6"/><circle cx="1763.2" cy="1001.1" r="8.6"/><circle cx="1763.4" cy="958.4" r="8.6"/><circle cx="1763.4" cy="915.8" r="8.6"/><circle cx="1763.8" cy="931.6" r="8.6"/>
<circle cx="1762.9" cy="980.8" r="8.6"/><circle cx="1763.8" cy="989.0" r="8.6"/><circle cx="1763.9" cy="869.5" r="8.6"/><circle cx="1764.3" cy="887.6" r="8.6"/><circle cx="1768.1" cy="948.2" r="8.6"/><circle cx="1767.7" cy="904.9" r="8.6"/>
<circle cx="1768.8" cy="968.6" r="8.6"/><circle cx="1768.9" cy="979.7" r="8.6"/><circle cx="1767.7" cy="962.9" r="8.6"/><circle cx="1767.9" cy="937.4" r="8.6"/><circle cx="1768.6" cy="900.2" r="8.6"/><circle cx="1768.9" cy="931.6" r="8.6"/>
<circle cx="1767.7" cy="989.6" r="8.6"/><circle cx="1769.4" cy="919.4" r="8.6"/><circle cx="1768.8" cy="992.4" r="8.6"/><circle cx="1768.9" cy="906.4" r="8.6"/><circle cx="1768.9" cy="741.9" r="8.6"/><circle cx="1768.4" cy="864.2" r="8.6"/>
<circle cx="1774.3" cy="973.8" r="8.6"/><circle cx="1774.5" cy="1003.9" r="8.6"/><circle cx="1773.7" cy="932.4" r="8.6"/><circle cx="1773.4" cy="979.9" r="8.6"/><circle cx="1773.1" cy="973.3" r="8.6"/><circle cx="1773.3" cy="992.1" r="8.6"/>
<circle cx="1774.1" cy="896.9" r="8.6"/><circle cx="1772.9" cy="901.8" r="8.6"/><circle cx="1773.9" cy="974.8" r="8.6"/><circle cx="1772.8" cy="937.4" r="8.6"/><circle cx="1774.3" cy="978.1" r="8.6"/><circle cx="1773.1" cy="889.6" r="8.6"/>
<circle cx="1773.6" cy="818.0" r="8.6"/><circle cx="1774.4" cy="792.0" r="8.6"/><circle cx="430.2" cy="818.0" r="8.6"/><circle cx="435.9" cy="732.9" r="8.6"/><circle cx="434.8" cy="765.8" r="8.6"/><circle cx="454.4" cy="779.6" r="8.6"/>
<circle cx="373.7" cy="803.1" r="8.6"/><circle cx="449.4" cy="772.9" r="8.6"/><circle cx="439.8" cy="741.9" r="8.6"/><circle cx="419.6" cy="765.8" r="8.6"/><circle cx="430.0" cy="826.8" r="8.6"/><circle cx="394.7" cy="813.3" r="8.6"/>
<circle cx="384.4" cy="822.5" r="8.6"/><circle cx="374.7" cy="826.8" r="8.6"/><circle cx="460.5" cy="758.3" r="8.6"/><circle cx="375.1" cy="723.3" r="8.6"/><circle cx="430.4" cy="732.9" r="8.6"/><circle cx="414.5" cy="750.4" r="8.6"/>
<circle cx="440.8" cy="765.8" r="8.6"/><circle cx="384.4" cy="779.6" r="8.6"/><circle cx="425.6" cy="826.8" r="8.6"/><circle cx="435.3" cy="741.9" r="8.6"/><circle cx="460.1" cy="741.9" r="8.6"/><circle cx="429.0" cy="741.9" r="8.6"/>
<circle cx="373.8" cy="779.6" r="8.6"/><circle cx="414.9" cy="808.3" r="8.6"/><circle cx="378.8" cy="818.0" r="8.6"/><circle cx="450.6" cy="772.9" r="8.6"/><circle cx="405.2" cy="723.3" r="8.6"/><circle cx="456.0" cy="797.7" r="8.6"/>
<circle cx="403.6" cy="765.8" r="8.6"/><circle cx="515.3" cy="792.0" r="8.6"/><circle cx="526.0" cy="750.4" r="8.6"/><circle cx="546.5" cy="765.8" r="8.6"/><circle cx="511.6" cy="786.0" r="8.6"/><circle cx="480.5" cy="808.3" r="8.6"/>
<circle cx="470.1" cy="779.6" r="8.6"/><circle cx="501.1" cy="741.9" r="8.6"/><circle cx="510.7" cy="779.6" r="8.6"/><circle cx="500.1" cy="797.7" r="8.6"/><circle cx="540.4" cy="808.3" r="8.6"/><circle cx="828.1" cy="792.0" r="8.6"/>
<circle cx="905.6" cy="779.6" r="8.6"/><circle cx="875.2" cy="808.3" r="8.6"/><circle cx="893.8" cy="765.8" r="8.6"/><circle cx="858.8" cy="758.3" r="8.6"/><circle cx="873.7" cy="792.0" r="8.6"/><circle cx="869.1" cy="772.9" r="8.6"/>
<circle cx="819.3" cy="792.0" r="8.6"/><circle cx="904.5" cy="741.9" r="8.6"/><circle cx="814.4" cy="813.3" r="8.6"/><circle cx="823.7" cy="792.0" r="8.6"/><circle cx="855.2" cy="830.9" r="8.6"/><circle cx="813.6" cy="830.9" r="8.6"/>
<circle cx="905.1" cy="772.9" r="8.6"/><circle cx="898.9" cy="826.8" r="8.6"/><circle cx="833.3" cy="741.9" r="8.6"/><circle cx="819.8" cy="813.3" r="8.6"/><circle cx="849.5" cy="792.0" r="8.6"/><circle cx="869.6" cy="808.3" r="8.6"/>
<circle cx="814.0" cy="765.8" r="8.6"/><circle cx="893.7" cy="808.3" r="8.6"/><circle cx="799.4" cy="765.8" r="8.6"/><circle cx="879.7" cy="779.6" r="8.6"/><circle cx="839.2" cy="772.9" r="8.6"/><circle cx="798.2" cy="765.8" r="8.6"/>
<circle cx="833.6" cy="786.0" r="8.6"/><circle cx="895.6" cy="818.0" r="8.6"/>
</g>
<path d="M318.7 723.1H1773.7" stroke="#ffff00" stroke-width="17" stroke-linecap="round" fill="none"/>
<path d="M318.7 39.1v23M318.7 1110.5v-23M561.2 39.1v23M561.2 1110.5v-23M803.7 39.1v23M803.7 1110.5v-23M1046.2 39.1v23M1046.2 1110.5v-23M1288.7 39.1v23M1288.7 1110.5v-23M1531.2 39.1v23M1531.2 1110.5v-23M1773.7 39.1v23M1773.7 1110.5v-23M199.2 1020.8h23M1895.0 1020.8h-23M199.2 842.3h23M1895.0 842.3h-23M199.2 663.8h23M1895.0 663.8h-23M199.2 485.4h23M1895.0 485.4h-23M199.2 306.9h23M1895.0 306.9h-23M199.2 128.4h23M1895.0 128.4h-23" stroke="#000" stroke-width="4.8" fill="none"/>
<rect x="199.2" y="39.1" width="1695.8" height="1071.4" fill="none" stroke="#000" stroke-width="4.8"/>
<rect x="1433.5" y="40.5" width="460.5" height="80" fill="#fff" stroke="#111" stroke-width="2"/>
<path d="M1895.0 39.1V125.0" stroke="#000" stroke-width="4.8"/>
<path d="M1430 39.1H1895.0" stroke="#000" stroke-width="4.8"/>
<circle cx="1506.2" cy="80" r="8.6" fill="#00ff00"/><circle cx="1727.2" cy="80" r="8.6" fill="#0000ff"/>
<g font-family="'Liberation Sans', sans-serif" fill="#000">
<text x="1586" y="99.7" font-size="59">LC</text>
<text x="1809" y="99.7" font-size="59">TC</text>
<text x="319.2" y="1177.3" font-size="52" text-anchor="middle">0</text>
<text x="561.7" y="1177.3" font-size="52" text-anchor="middle">4</text>
<text x="804.2" y="1177.3" font-size="52" text-anchor="middle">8</text>
<text x="1046.7" y="1177.3" font-size="52" text-anchor="middle">12</text>
<text x="1289.2" y="1177.3" font-size="52" text-anchor="middle">16</text>
<text x="1531.7" y="1177.3" font-size="52" text-anchor="middle">20</text>
<text x="1774.2" y="1177.3" font-size="52" text-anchor="middle">24</text>
<text x="171.4" y="1035.8" font-size="52" text-anchor="end">0.0</text>
<text x="171.4" y="857.3" font-size="52" text-anchor="end">0.2</text>
<text x="171.4" y="678.8" font-size="52" text-anchor="end">0.4</text>
<text x="171.4" y="500.4" font-size="52" text-anchor="end">0.6</text>
<text x="171.4" y="321.9" font-size="52" text-anchor="end">0.8</text>
<text x="171.4" y="143.4" font-size="52" text-anchor="end">1.0</text>
<text x="1047" y="1277" font-size="65" text-anchor="middle">Time (h)</text>
<text transform="translate(65 574) rotate(-90)" font-size="64.3" text-anchor="middle">1/<tspan font-style="italic">R</tspan>-ratio</text>
</g></svg>
</body></html>
